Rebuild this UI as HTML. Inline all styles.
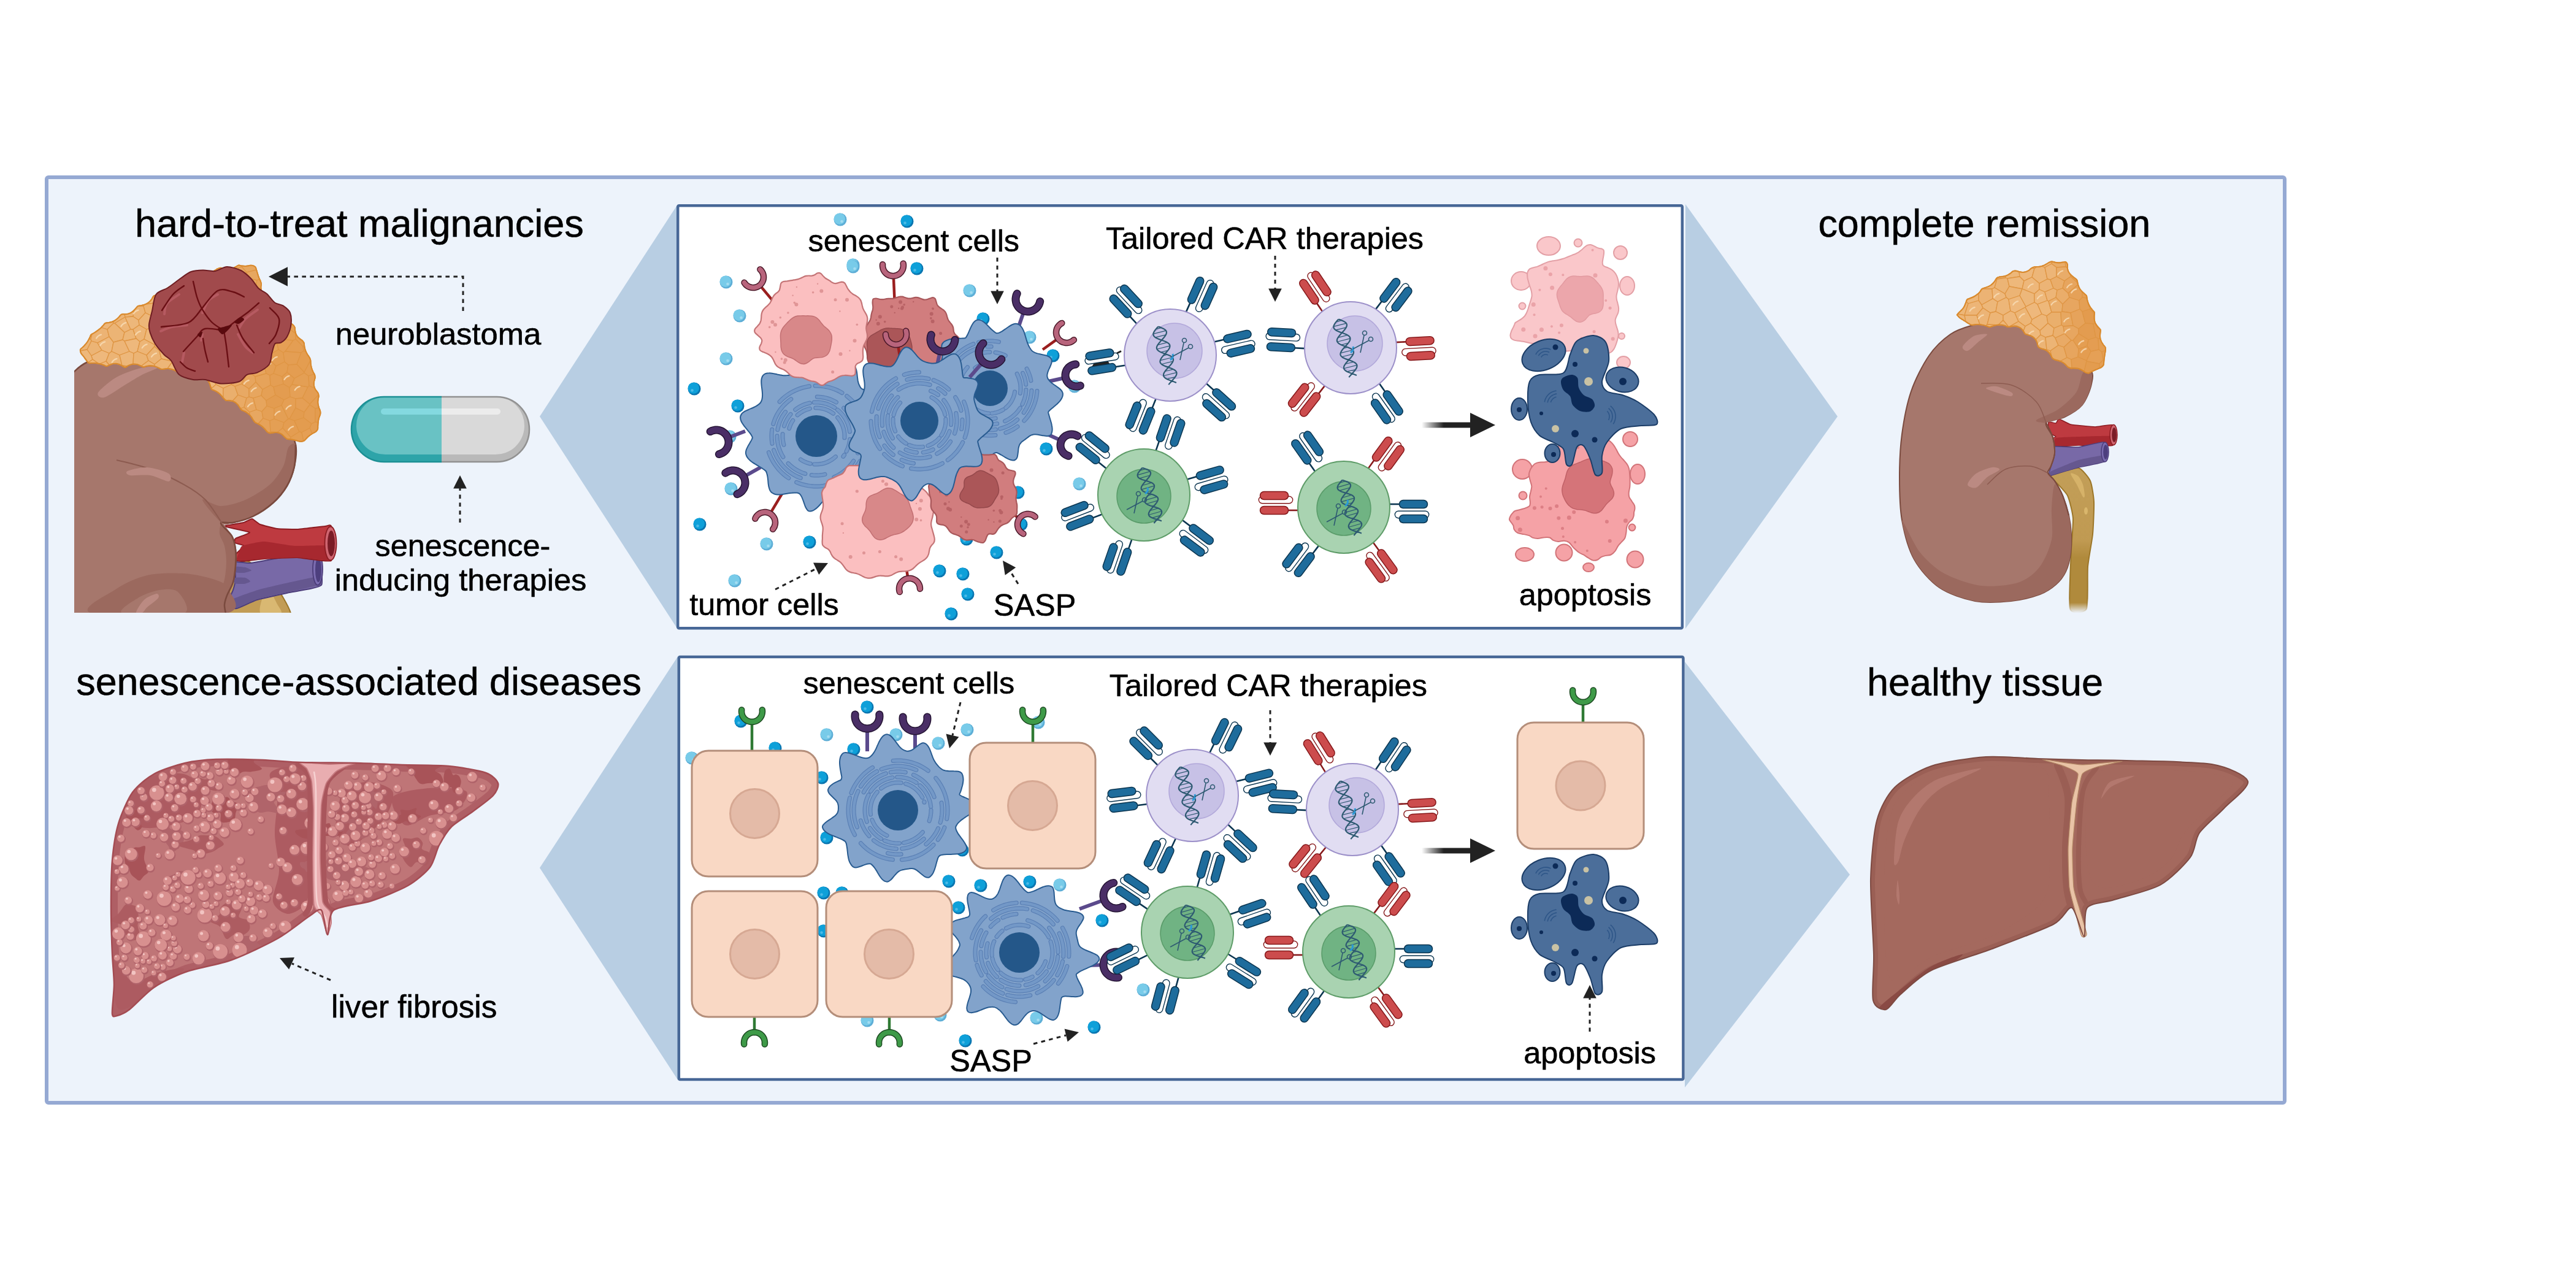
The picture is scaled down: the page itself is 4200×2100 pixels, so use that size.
<!DOCTYPE html>
<html><head><meta charset="utf-8">
<style>
html,body{margin:0;padding:0;background:#fff;}
body{width:4200px;height:2100px;overflow:hidden;}
svg{display:block;}
text{font-family:"Liberation Sans",sans-serif;fill:#000;stroke:#000;stroke-width:0.6px;}
</style></head>
<body>
<svg width="4200" height="2100" viewBox="0 0 4200 2100">
<defs>
<marker id="ah" viewBox="0 0 10 10" refX="0" refY="5" markerWidth="10" markerHeight="10" orient="auto" markerUnits="userSpaceOnUse"><path d="M0,0 L10,5 L0,10z" fill="#222"/></marker>
</defs>
<!-- outer panel -->
<rect x="76" y="289" width="3649" height="1509" rx="3" fill="#edf3fb" stroke="#95a9d3" stroke-width="6"/>
<!-- chevrons -->
<polygon points="1105,333 880,679 1105,1026" fill="#b8cee3"/>
<polygon points="2748,333 2996,679 2748,1025" fill="#b8cee3"/>
<polygon points="1106,1069 880,1415 1106,1762" fill="#b8cee3"/>
<polygon points="2747,1079 3016,1426 2747,1773" fill="#b8cee3"/>
<!-- boxes -->
<rect x="1105.2" y="335.2" width="1637.6" height="689" rx="2" fill="#fff" stroke="#476796" stroke-width="4.5"/>
<rect x="1106.8" y="1071" width="1637.6" height="689" rx="2" fill="#fff" stroke="#476796" stroke-width="4.5"/>

<defs><clipPath id="lkclip"><rect x="121" y="380" width="460" height="619"/></clipPath></defs>
<g clip-path="url(#lkclip)">
<path d="M366,998C366.8,991.3 368.1,971.1 372,960C375.9,948.9 388.6,919.7 395,915C401.4,910.3 413.3,920.3 420,925C426.7,929.7 439.4,943.3 445,950C450.6,956.7 458.1,968.3 462,975C465.9,981.7 472.9,995.3 474,1000C475.1,1004.7 484.4,1008.7 470,1010C455.6,1011.3 379.9,1011.6 366,1010C352.1,1008.4 365.2,1004.7 366,998Z" fill="#c29c55" stroke="#9c7628" stroke-width="2"/>
<path d="M425,1000C421,996.7 426,979.7 428,975C430,970.3 436.8,963.7 440,965C443.2,966.3 449.6,980.3 452,985C454.4,989.7 461.6,998 458,1000C454.4,1002 429,1003.3 425,1000Z" fill="#d9b872"/>
<path d="M384,916C386.2,915.4 402.8,918.6 409,918C415.2,917.4 450.5,910.3 459,909C467.5,907.7 506,902.6 511,902C516,901.4 517.9,897.7 519,902C520.1,906.3 527.9,948.7 524,954C520.1,959.3 480.8,964 472,966C463.2,968 426.2,975.8 419,978C411.8,980.2 390.2,991.2 386,992C381.8,992.8 369.5,990.5 369,988C368.5,985.5 378.8,965.7 380,962C381.2,958.3 383.8,947.1 384,944C384.2,940.9 383,927.3 383,925C383,922.7 381.8,916.6 384,916Z" fill="#7869a7" stroke="#4c3d7a" stroke-width="2"/>
<path d="M372,980C374.8,977.6 411.8,964.5 420,962C428.2,959.5 461.7,951.8 470,950C478.3,948.2 515.6,939.8 520,940C524.4,940.2 527,950.9 523,953C519,955.1 480.7,963 472,965C463.3,967 426.2,974.8 419,977C411.8,979.2 389.9,990.8 386,991C382.1,991.2 369.2,982.4 372,980Z" fill="#65578f"/>
<path d="M384,924C385.6,923.2 397.4,924.4 400,925C402.6,925.6 410.2,929.1 410,930C409.8,930.9 400.6,933.7 398,934C395.4,934.3 385.4,934 384,933C382.6,932 382.4,924.8 384,924Z" fill="#65578f"/>
<path d="M383,942C384.8,941.1 397.5,941.4 400,942C402.5,942.6 408.2,947 408,948C407.8,949 400.6,951.7 398,952C395.4,952.3 383.5,952 382,951C380.5,950 381.2,942.9 383,942Z" fill="#65578f"/>
<ellipse cx="518" cy="928" rx="8" ry="26" fill="#7b6cb0" stroke="#4c3d7a" stroke-width="1.8"/>
<ellipse cx="519" cy="929" rx="5" ry="20" fill="#4d3f7e"/>
<path d="M397,852C400,851.2 409.2,845.8 411,846C412.8,846.2 421.3,853.9 424,855C426.7,856.1 447.9,861.5 452,862C456.1,862.5 479.8,863.3 485,863C490.2,862.7 526.3,858.3 530,858C533.7,857.7 539.3,854.3 540,858C540.7,861.7 543.7,910.6 540,914C536.3,917.4 492.2,909.2 485,909C477.8,908.8 437.9,910.6 432,911C426.1,911.4 400.1,914.8 397,915C393.9,915.2 386.9,914.7 386,914C385.1,913.3 383.2,905.6 384,904C384.8,902.4 398.1,891.3 398,890C397.9,888.7 383.9,885.8 383,885C382.1,884.2 382.4,879.1 384,878C385.6,876.9 408.2,869.3 407,868C405.8,866.7 366.7,859.1 366,858C365.3,856.9 394,852.8 397,852Z" fill="#be3a40" stroke="#8c1c22" stroke-width="2"/>
<path d="M395,890C398.3,888.6 422.9,883 430,883C437.1,883 471,889.4 480,890C489,890.6 533.1,888.1 538,890C542.9,891.9 543.4,911.4 539,913C534.6,914.6 493.9,909.2 485,909C476.1,908.8 439.3,910.6 432,911C424.7,911.4 400.8,913.9 397,914C393.2,914.1 386.6,913.2 386,912C385.4,910.8 389.2,901.8 390,900C390.8,898.2 391.7,891.4 395,890Z" fill="#a7282f"/>
<ellipse cx="539" cy="886" rx="9.5" ry="27.5" fill="#cf6570" stroke="#8c1c22" stroke-width="1.8"/>
<ellipse cx="540" cy="886" rx="6" ry="21" fill="#7a1c26"/>
<path d="M95,640C98.9,576.4 113.8,613.5 121,606C128.2,598.5 132.7,594.8 143,590C153.3,585.2 172.4,574 190,574C207.6,574 239,583.9 260,590C281,596.1 307.5,606 330,615C352.5,624 389.8,638.8 410,650C430.2,661.2 454.2,678.8 465,690C475.8,701.2 479.8,714.5 482,725C484.2,735.5 482.1,750 480,760C477.9,770 473.2,783 468,792C462.8,801 453.4,812.5 445,820C436.6,827.5 421.8,837.2 412,842C402.2,846.8 387.8,850.4 380,852C372.2,853.6 360.3,849.7 360,853C359.7,856.3 374.4,867.5 378,874C381.6,880.5 383.1,888.8 384,896C384.9,903.2 384.6,914 384,922C383.4,930 382.1,941.6 380,949C377.9,956.4 372.1,965.5 370,971C367.9,976.5 366.3,981.6 366,986C365.7,990.4 368.9,993.4 368,1000C367.1,1006.6 400.9,1025.5 360,1030C319.1,1034.5 134.8,1088.5 95,1030C55.2,971.5 91.1,703.6 95,640Z" fill="#a6776c" stroke="#7a4a3e" stroke-width="2.5"/>
<path d="M482,725C483.5,729.5 482.1,750 480,760C477.9,770 473.2,783 468,792C462.8,801 453.4,812.5 445,820C436.6,827.5 421.8,837.2 412,842C402.2,846.8 387.5,850.4 380,852C372.5,853.6 369.5,858.5 362,853C354.5,847.5 330.3,819.2 330,815C329.7,810.8 349.5,825 360,825C370.5,825 388,820.2 400,815C412,809.8 430.7,798.2 440,790C449.3,781.8 457.5,769 462,760C466.5,751 467,735.2 470,730C473,724.8 480.5,720.5 482,725Z" fill="#9b695e"/>
<path d="M362,853C365,853.6 374.7,867.5 378,874C381.3,880.5 383.1,888.8 384,896C384.9,903.2 384.6,914 384,922C383.4,930 382.1,941.6 380,949C377.9,956.4 372.1,965.5 370,971C367.9,976.5 366.6,981.6 366,986C365.4,990.4 368.4,997.9 366,1000C363.6,1002.1 351.5,1003.8 350,1000C348.5,996.2 353.6,983.2 356,975C358.4,966.8 364.1,954 366,945C367.9,936 369,923.2 369,915C369,906.8 367.6,896.8 366,890C364.4,883.2 358.6,875.5 358,870C357.4,864.5 359,852.4 362,853Z" fill="#9b695e"/>
<path d="M150,1000C123.3,994 176.5,969.3 190,960C203.5,950.7 223.5,941.8 240,938C256.5,934.2 283.5,934 300,935C316.5,936 339.2,941.2 350,945C360.8,948.8 369.3,951.8 372,960C374.7,968.2 401.3,994 368,1000C334.7,1006 176.7,1006 150,1000Z" fill="#9b695e"/>
<path d="M200,1000C188.8,996.2 216,980.7 225,975C234,969.3 250.2,963.5 260,962C269.8,960.5 284,959.3 290,965C296,970.7 313.5,994.8 300,1000C286.5,1005.2 211.2,1003.8 200,1000Z" fill="#a6776c"/>
<path d="M482,725C481.7,730.2 482.1,750 480,760C477.9,770 473.2,783 468,792C462.8,801 453.4,812.5 445,820C436.6,827.5 421.8,837.2 412,842C402.2,846.8 387.8,850.4 380,852C372.2,853.6 360.3,849.7 360,853C359.7,856.3 374.4,867.5 378,874C381.6,880.5 383.1,888.8 384,896C384.9,903.2 384.6,914 384,922C383.4,930 382.1,941.6 380,949C377.9,956.4 372.1,965.5 370,971C367.9,976.5 366.3,981.6 366,986C365.7,990.4 367.7,997.9 368,1000" fill="none" stroke="#7a4a3e" stroke-width="2.5"/>
<path d="M190,750C199.2,752.5 226.7,758.3 245,765C263.3,771.7 285,781.7 300,790C315,798.3 324.7,804.5 335,815C345.3,825.5 357.5,846.7 362,853" fill="none" stroke="#8c5b50" stroke-width="2"/>
<path d="M160,640C163,635 179.5,621 190,615C200.5,609 219.5,602.5 230,600C240.5,597.5 260,596.2 260,598C260,599.8 239,607.2 230,612C221,616.8 209,624.6 200,630C191,635.4 176,646.5 170,648C164,649.5 157,645 160,640Z" fill="#bb8a82"/>
<path d="M208,768C212.2,766 229.9,761.4 240,762C250.1,762.6 269.8,768.5 275,772C280.2,775.5 279.5,784.5 275,785C270.5,785.5 254.4,776.5 245,775C235.6,773.5 217.6,776 212,775C206.4,774 203.8,770 208,768Z" fill="#bb8a82"/>
<path d="M222,998C222.4,994.9 230.1,982.5 235,978C239.9,973.5 251.6,968.5 255,968C258.4,967.5 260.2,971.7 258,975C255.8,978.3 243.9,986.4 240,990C236.1,993.6 234.7,997.8 232,999C229.3,1000.2 221.6,1001.1 222,998Z" fill="#bb8a82"/>
</g>
<path d="M131,570C131.5,568.5 133.5,567.6 134.7,566.4C135.9,565.2 137.1,564.1 138.2,562.8C139.3,561.6 140.4,560.3 141.4,559C142.3,557.7 143.2,556.3 144,554.9C144.8,553.4 145.6,551.9 146.3,550.4C147.1,548.9 147.4,547 148.5,545.7C149.7,544.5 151.6,543.9 153,543.1C154.5,542.2 155.9,541.4 157.2,540.4C158.6,539.5 159.9,538.6 161.1,537.6C162.4,536.5 163.5,535.5 164.7,534.4C165.8,533.2 167,531.9 168.2,530.7C169.3,529.4 170.2,527.7 171.7,526.9C173.2,526.2 175.3,526.5 177,526.2C178.7,525.8 180.4,525.5 182,525C183.6,524.5 185.1,523.8 186.6,523C188.1,522.2 189.4,521.2 190.7,520.1C192,519 193.2,517.7 194.4,516.4C195.6,515.2 196.5,513.3 198,512.6C199.6,511.9 201.8,512.6 203.5,512.4C205.3,512.3 207.1,512.1 208.7,511.7C210.4,511.3 212,510.7 213.4,510C214.9,509.2 216.3,508.2 217.6,507C218.9,505.9 220,504.5 221.2,503.1C222.4,501.8 223.4,499.9 224.8,499.1C226.3,498.3 228.3,498.6 230,498.3C231.7,497.9 233.4,497.5 235,497C236.6,496.4 238.1,495.8 239.6,494.9C241.1,494.1 242.5,493.1 243.8,491.9C245.2,490.7 246.4,489.3 247.4,487.9C248.4,486.4 248.8,484.3 250,483.2C251.2,482.1 252.9,481.7 254.5,481C256,480.4 257.5,480.1 259.1,479.4C260.6,478.8 262.1,478.2 263.5,477.3C265,476.5 266.3,475.6 267.7,474.6C269,473.5 270.3,472.3 271.6,471.2C272.9,470.1 274.1,468.7 275.6,468.1C277.1,467.5 279.1,467.7 280.8,467.4C282.5,467.1 284.2,466.8 285.8,466.3C287.4,465.9 288.9,465.3 290.4,464.5C291.9,463.8 293.3,462.9 294.7,461.9C296.1,460.9 297.3,459.7 298.7,458.7C300.1,457.7 301.3,456.3 303,455.9C304.6,455.5 306.7,456.3 308.5,456.3C310.3,456.4 312.1,456.4 313.7,456.1C315.4,455.8 317,455.3 318.5,454.7C320,454 321.4,453 322.8,452C324.2,450.9 325.4,449.5 326.8,448.3C328.1,447.2 329.4,445.6 330.9,445.1C332.5,444.5 334.4,445 336.1,444.8C337.8,444.7 339.5,444.5 341.1,444.2C342.8,443.8 344.4,443.4 345.9,442.8C347.5,442.3 349,441.5 350.5,440.8C352,440 353.3,438.9 354.8,438.3C356.4,437.6 357.9,436.7 359.6,436.7C361.3,436.7 363.1,437.9 364.8,438.3C366.5,438.7 368.2,439.1 369.9,439.3C371.5,439.4 373.2,439.4 374.8,439.1C376.5,438.8 378.1,438.3 379.7,437.5C381.4,436.8 383,435.6 384.6,434.8C386.2,434 387.6,432.8 389.3,432.6C391,432.4 393,433.4 394.8,433.6C396.5,433.8 398.3,433.9 399.9,433.9C401.4,433.8 402.8,433.7 404.1,433.5C405.4,433.3 406.3,432.9 407.6,432.8C408.9,432.7 410.7,432.5 412.2,433C413.6,433.4 415.4,434.1 416.4,435.3C417.4,436.5 417.5,438.6 418.1,440.1C418.6,441.6 419,443.1 419.5,444.5C419.9,446 420.2,447.3 420.7,448.8C421.2,450.3 421.7,451.9 422.4,453.4C423,455 424,456.6 424.6,458.1C425.2,459.7 425.8,461.3 426,463C426.1,464.7 425.4,466.8 425.4,468.6C425.5,470.4 425.6,472.2 426.2,474C426.8,475.7 427.8,477.6 428.9,479.1C430,480.5 431.4,481.6 432.8,482.7C434.2,483.7 436.1,484.4 437.5,485.4C438.9,486.4 440.4,487.3 441.4,488.7C442.3,490.1 442.6,492.1 443.4,493.7C444.2,495.3 445,496.8 446,498.1C447,499.5 448.2,500.7 449.4,501.8C450.7,502.9 452.1,503.9 453.6,504.8C455.1,505.6 456.9,506.2 458.3,507.1C459.8,508 461.2,509 462.1,510.4C463.1,511.7 463.4,513.7 464.1,515.3C464.8,516.8 465.6,518.3 466.5,519.7C467.4,521.1 468.3,522.4 469.5,523.6C470.6,524.8 471.9,525.9 473.3,526.9C474.7,527.9 476.5,528.6 477.7,529.8C478.9,530.9 480,532.2 480.6,533.8C481.1,535.4 480.8,537.6 481.1,539.4C481.4,541.1 481.8,542.8 482.4,544.3C483,545.9 483.8,547.3 484.8,548.6C485.8,549.9 486.9,550.9 488.3,552C489.6,553.2 491.5,554.1 492.7,555.3C494,556.6 495,557.9 495.6,559.4C496.2,561 496,562.9 496.3,564.6C496.6,566.2 496.9,567.9 497.4,569.5C497.9,571.1 498.5,572.6 499.2,574.1C499.9,575.6 500.7,577.1 501.6,578.5C502.5,579.9 503.8,581.3 504.5,582.8C505.3,584.2 505.9,585.8 506.3,587.4C506.6,589.1 506.4,590.9 506.6,592.6C506.8,594.2 507,595.9 507.4,597.5C507.7,599.1 508.2,600.7 508.7,602.3C509.3,603.8 510,605.4 510.7,606.9C511.4,608.4 512.7,609.8 513.1,611.4C513.6,613 513.7,614.7 513.5,616.4C513.3,618.2 512.4,620.1 512.1,621.8C511.8,623.6 511.6,625.3 511.7,627C511.8,628.6 512.1,630.2 512.7,631.8C513.3,633.4 514.1,634.9 515.1,636.4C516.1,637.9 517.8,639.3 518.5,640.9C519.3,642.4 519.6,644.1 519.6,645.7C519.6,647.4 518.8,649.2 518.6,650.9C518.4,652.6 518.2,654.3 518.3,655.9C518.3,657.6 518.5,659.2 518.9,660.8C519.2,662.4 519.7,663.9 520.3,665.5C520.9,667.1 521.9,668.8 522.2,670.4C522.6,672.1 522.5,673.8 522.2,675.4C521.9,677 521,678.6 520.4,680.2C519.9,681.8 519.5,683.4 519.2,685C518.8,686.6 518.6,688 518.5,689.6C518.3,691.2 518.3,692.9 518.2,694.6C518.1,696.2 518.5,698.1 518,699.6C517.5,701 516.4,702.5 515.2,703.5C514.1,704.6 512.4,705.1 511,706C509.6,706.8 508.1,707.6 506.8,708.5C505.5,709.4 504.3,710.2 503.2,711.3C502,712.3 500.9,713.5 499.7,714.7C498.5,715.8 497.5,717.6 496.1,718.4C494.7,719.3 493,719.7 491.4,719.8C489.8,719.9 488.1,719.5 486.7,719.2C485.2,718.9 484,718.4 482.6,718.1C481.3,717.7 479.9,717.3 478.4,717C476.9,716.7 475.2,716.4 473.6,716.2C471.9,716 469.9,716.4 468.3,715.8C466.7,715.2 465.6,713.8 464.2,712.6C462.8,711.4 461.5,709.6 460.1,708.5C458.6,707.3 456.9,706.5 455.2,705.9C453.6,705.3 452,705.1 450.4,705C448.7,704.9 447.1,705.2 445.4,705.4C443.7,705.6 441.6,706.5 440,706.2C438.3,706 436.9,704.9 435.6,703.9C434.4,702.9 433.5,701.3 432.4,700.1C431.3,698.9 430.2,697.6 429,696.5C427.8,695.4 426.6,694.4 425.2,693.5C423.8,692.6 422.4,691.8 420.8,691C419.3,690.2 417.4,689.8 416.1,688.8C414.8,687.7 413.9,686.2 412.9,684.8C411.9,683.4 411.2,681.8 410.3,680.4C409.3,679 408.3,677.6 407.1,676.4C405.9,675.2 404.6,674.1 403.3,673.2C401.9,672.2 400.4,671.3 398.8,670.5C397.3,669.8 395.3,669.5 394,668.4C392.7,667.4 391.9,665.8 390.9,664.3C389.8,662.9 388.9,661.1 387.7,659.7C386.5,658.4 385.2,657.2 383.8,656.2C382.3,655.3 380.7,654.5 379.1,653.9C377.4,653.4 375.7,653.2 373.9,652.9C372.1,652.7 370,653.3 368.5,652.7C366.9,652.1 365.8,650.6 364.6,649.4C363.4,648.2 362.4,646.6 361.3,645.4C360.3,644.2 359.3,643.1 358.2,642.1C357,641.1 355.8,640.1 354.4,639.2C353.1,638.3 351.6,637.6 350.1,636.8C348.5,636 346.3,635.8 345.1,634.6C344,633.4 343.7,631.3 343.1,629.6C342.5,627.9 342.2,626 341.4,624.3C340.6,622.7 339.8,621.2 338.5,619.9C337.3,618.6 335.7,617.4 334,616.6C332.3,615.7 330.1,615.1 328.2,614.9C326.3,614.6 324.1,615.6 322.4,615.2C320.7,614.7 319.5,613 318.1,611.9C316.6,610.8 315.2,609.3 313.6,608.4C312.1,607.5 310.5,606.8 308.9,606.3C307.2,605.9 305.5,605.7 303.8,605.8C302,605.8 300.3,606.2 298.5,606.6C296.7,607 294.8,608.3 293.1,608.2C291.5,608.1 290,606.8 288.5,606C287,605.2 285.5,604.1 283.9,603.4C282.4,602.7 280.8,602.1 279.2,601.7C277.6,601.3 275.9,601.1 274.2,601C272.5,600.9 270.8,601.1 269,601.3C267.3,601.4 265.4,602.3 263.7,602.1C262.1,601.9 260.6,600.7 259,600C257.5,599.3 255.9,598.4 254.3,597.9C252.7,597.3 251,596.8 249.4,596.5C247.7,596.3 246,596.2 244.3,596.2C242.6,596.3 240.8,596.6 239.1,596.9C237.4,597.3 235.7,598.5 234,598.4C232.3,598.3 230.6,596.8 229,596.1C227.3,595.4 225.6,594.6 223.9,594.1C222.2,593.7 220.5,593.4 218.8,593.4C217.1,593.4 215.5,593.7 213.8,594.2C212.2,594.6 210.6,595.4 208.9,596.2C207.3,597 205.6,598.9 204,598.9C202.3,599 200.6,597.2 199,596.4C197.4,595.6 195.9,594.6 194.3,594C192.7,593.4 191.1,593 189.4,592.8C187.8,592.7 186.1,592.8 184.4,593.1C182.8,593.4 181.1,594.1 179.3,594.7C177.6,595.4 175.8,597 174.1,597.1C172.4,597.2 170.9,595.9 169.3,595.3C167.6,594.8 166.1,594.1 164.5,593.7C162.9,593.2 161.2,592.8 159.6,592.6C158,592.3 156.4,592.2 154.8,592.1C153.1,592 151.5,592 149.8,592C148.1,591.9 146.1,592.6 144.6,591.9C143.2,591.1 142.2,589.1 141.1,587.8C140.1,586.4 139.2,585.1 138.3,584C137.5,582.8 136.9,581.8 136.1,580.9C135.4,580 134.6,579.3 133.9,578.4C133.1,577.4 132.3,576.6 131.8,575.2C131.4,573.8 130.5,571.5 131,570Z" fill="#eba75e" stroke="#d98a2e" stroke-width="2"/>
<g stroke="#df9645" stroke-width="1.3" stroke-linejoin="round">
<path d="M365,445 374,439 370,439 360,437 356,438Z" fill="#ecb272"/>
<path d="M394,435 394,434 389,433 381,437 389,437Z" fill="#eaad6a"/>
<path d="M418,440 416,435 412,433 408,433 400,434 394,434 394,435 402,444Z" fill="#e7a760"/>
<path d="M304,461 315,456 309,456 303,456 299,458Z" fill="#edb577"/>
<path d="M330,464 341,452 341,444 331,445 323,452 319,454Z" fill="#edb577"/>
<path d="M341,452 356,462 366,456 365,445 356,438 346,443 341,444Z" fill="#edb779"/>
<path d="M365,445 366,456 369,459 385,456 389,437 381,437 374,439Z" fill="#ebb16f"/>
<path d="M396,466 405,454 402,444 394,435 389,437 385,456Z" fill="#e8a863"/>
<path d="M418,440 402,444 405,454 419,457 423,455Z" fill="#e7a760"/>
<path d="M273,481 282,473 283,467 276,468 266,476Z" fill="#eeb77a"/>
<path d="M282,473 298,479 306,474 304,461 299,458 290,465 283,467Z" fill="#ecb374"/>
<path d="M304,461 306,474 316,480 331,470 330,464 319,454 315,456Z" fill="#edb678"/>
<path d="M341,452 330,464 331,470 341,478 351,472 356,462Z" fill="#ecb475"/>
<path d="M351,472 368,482 377,480 369,459 366,456 356,462Z" fill="#ecb272"/>
<path d="M383,483 384,483 396,476 396,466 385,456 369,459 377,480Z" fill="#e9ac69"/>
<path d="M408,480 415,479 419,457 405,454 396,466 396,476Z" fill="#e8a862"/>
<path d="M419,457 415,479 428,483 430,480 429,479 426,474 425,469 426,463 425,458 423,455Z" fill="#e6a259"/>
<path d="M234,499 235,497 225,499Z" fill="#ecb475"/>
<path d="M252,494 251,482 250,483 247,488 244,492 238,496Z" fill="#edb678"/>
<path d="M252,494 263,499 274,490 273,481 266,476 259,479 251,482Z" fill="#edb576"/>
<path d="M289,499 295,497 298,479 282,473 273,481 274,490Z" fill="#edb577"/>
<path d="M316,492 316,480 306,474 298,479 295,497 305,501Z" fill="#eeb87c"/>
<path d="M341,478 331,470 316,480 316,492 332,499 343,495Z" fill="#ecb576"/>
<path d="M351,498 368,482 351,472 341,478 343,495 349,498Z" fill="#ecb373"/>
<path d="M368,482 351,498 371,503 383,483 377,480Z" fill="#ecb272"/>
<path d="M408,500 408,480 396,476 384,483 395,505Z" fill="#e9ab67"/>
<path d="M415,504 433,496 428,483 415,479 408,480 408,500Z" fill="#e6a35a"/>
<path d="M428,483 433,496 440,501 446,498 443,494 441,489 430,480Z" fill="#e49e52"/>
<path d="M185,527 187,527 204,517 203,512 198,513 191,520 184,524Z" fill="#edb576"/>
<path d="M219,505 213,510 209,512 203,512 204,517 217,516Z" fill="#ecb475"/>
<path d="M226,522 237,510 234,499 225,499 219,505 217,516Z" fill="#edb576"/>
<path d="M234,499 237,510 251,517 261,512 263,499 252,494 238,496 235,497Z" fill="#ecb474"/>
<path d="M284,513 289,499 274,490 263,499 261,512 273,520Z" fill="#edb779"/>
<path d="M294,521 308,511 305,501 295,497 289,499 284,513Z" fill="#ecb475"/>
<path d="M316,492 305,501 308,511 315,517 325,514 332,499Z" fill="#edb678"/>
<path d="M343,495 332,499 325,514 339,526 349,512 349,498Z" fill="#ecb474"/>
<path d="M349,512 360,518 374,511 371,503 351,498 349,498Z" fill="#ebb06f"/>
<path d="M384,483 383,483 371,503 374,511 382,517 392,512 395,505Z" fill="#ebaf6e"/>
<path d="M392,512 407,524 415,516 415,504 408,500 395,505Z" fill="#e8a964"/>
<path d="M433,519 440,511 440,501 433,496 415,504 415,516Z" fill="#e6a45c"/>
<path d="M440,501 440,511 450,520 464,515 462,510 458,507 449,502 446,498Z" fill="#e39b4e"/>
<path d="M175,537 185,527 184,524 177,526 172,527 165,534Z" fill="#edb679"/>
<path d="M213,537 204,517 187,527 203,542Z" fill="#edb577"/>
<path d="M227,530 226,522 217,516 204,517 204,517 213,537 217,537Z" fill="#edb77a"/>
<path d="M239,537 248,534 251,517 237,510 226,522 227,530Z" fill="#edb678"/>
<path d="M273,520 261,512 251,517 248,534 262,543 275,534Z" fill="#edb779"/>
<path d="M295,534 294,521 284,513 273,520 275,534 287,539Z" fill="#edb779"/>
<path d="M294,521 295,534 310,536 312,534 315,517 308,511Z" fill="#edb677"/>
<path d="M315,517 312,534 328,537 339,531 339,526 325,514Z" fill="#edb677"/>
<path d="M339,526 339,531 342,533 362,531 360,518 349,512Z" fill="#ebb272"/>
<path d="M360,518 362,531 371,537 380,527 382,517 374,511Z" fill="#ebb06e"/>
<path d="M382,517 380,527 394,535 407,527 407,524 392,512Z" fill="#e8a862"/>
<path d="M431,529 433,519 415,516 407,524 407,527 417,540Z" fill="#e5a258"/>
<path d="M444,538 454,538 450,520 440,511 433,519 431,529Z" fill="#e39b4e"/>
<path d="M450,520 454,538 455,539 470,535 472,525 466,520 464,515Z" fill="#e49d51"/>
<path d="M470,535 482,544 482,543 481,534 478,530 472,525Z" fill="#e5a055"/>
<path d="M148,553 150,545 149,546 145,553Z" fill="#ecb475"/>
<path d="M148,553 149,556 159,559 178,549 175,537 165,534 157,540 150,545Z" fill="#ecb374"/>
<path d="M203,542 187,527 185,527 175,537 178,549 185,558 200,554Z" fill="#ecb475"/>
<path d="M213,537 203,542 200,554 203,556 222,552 217,537Z" fill="#edb677"/>
<path d="M222,552 228,557 235,553 239,537 227,530 217,537Z" fill="#edb576"/>
<path d="M235,553 252,562 262,549 262,543 248,534 239,537Z" fill="#eeb87a"/>
<path d="M287,539 275,534 262,543 262,549 275,559 288,551Z" fill="#ecb475"/>
<path d="M294,557 311,552 310,536 295,534 287,539 288,551Z" fill="#edb677"/>
<path d="M315,556 328,554 328,537 312,534 310,536 311,552Z" fill="#edb77a"/>
<path d="M328,537 328,554 340,562 348,552 342,533 339,531Z" fill="#eeb87c"/>
<path d="M362,531 342,533 348,552 365,551 372,543 371,537Z" fill="#ebb271"/>
<path d="M394,535 380,527 371,537 372,543 390,554 393,553Z" fill="#e8a964"/>
<path d="M407,527 394,535 393,553 407,554 417,547 417,540Z" fill="#e9ab66"/>
<path d="M417,547 430,554 431,554 444,538 431,529 417,540Z" fill="#e49f54"/>
<path d="M452,561 455,553 455,539 454,538 444,538 431,554Z" fill="#e49e53"/>
<path d="M455,553 478,555 482,553 482,544 470,535 455,539Z" fill="#e5a055"/>
<path d="M494,565 496,563 496,559 493,555 485,549 482,543 482,544 482,553Z" fill="#e49f54"/>
<path d="M142,570 149,556 148,553 145,553 141,559 131,570 131,572Z" fill="#ecb576"/>
<path d="M149,580 166,571 159,559 149,556 142,570Z" fill="#ecb475"/>
<path d="M178,549 159,559 166,571 178,576 182,573 185,558Z" fill="#eeb87c"/>
<path d="M185,558 182,573 195,579 211,573 203,556 200,554Z" fill="#edb577"/>
<path d="M222,552 203,556 211,573 218,576 224,573 228,557Z" fill="#eeb87c"/>
<path d="M224,573 239,579 252,565 252,562 235,553 228,557Z" fill="#edb576"/>
<path d="M252,565 260,572 275,568 275,559 262,549 252,562Z" fill="#edb779"/>
<path d="M275,559 275,568 284,576 294,569 294,557 288,551Z" fill="#ecb475"/>
<path d="M294,569 305,574 314,570 315,556 311,552 294,557Z" fill="#ecb374"/>
<path d="M314,570 327,577 341,569 340,562 328,554 315,556Z" fill="#edb678"/>
<path d="M368,576 369,575 365,551 348,552 340,562 341,569 349,576Z" fill="#ebb170"/>
<path d="M372,543 365,551 369,575 384,570 390,554Z" fill="#ebb06e"/>
<path d="M390,554 384,570 396,580 410,574 407,554 393,553Z" fill="#e9ac68"/>
<path d="M407,554 410,574 418,579 428,572 430,554 417,547Z" fill="#e6a35b"/>
<path d="M428,572 442,577 454,570 452,561 430,554Z" fill="#e5a258"/>
<path d="M465,573 478,555 455,553 452,561 454,570 462,575Z" fill="#e59f55"/>
<path d="M491,575 495,572 494,565 482,553 478,555 465,573Z" fill="#e49e53"/>
<path d="M494,565 495,572 499,574 497,569 496,563Z" fill="#e49d51"/>
<path d="M151,586 149,580 142,570 131,572 132,575 134,578 144,591Z" fill="#eeb87b"/>
<path d="M161,593 163,593 173,589 178,576 166,571 149,580 151,586Z" fill="#eeb87c"/>
<path d="M178,576 173,589 178,595 184,593 189,593 194,594 198,596 199,596 195,579 182,573Z" fill="#ecb475"/>
<path d="M199,596 207,597 217,593 218,576 211,573 195,579Z" fill="#edb77a"/>
<path d="M242,588 239,579 224,573 218,576 217,593 217,594 224,594 230,597Z" fill="#ecb474"/>
<path d="M239,579 242,588 252,594 263,585 260,572 252,565Z" fill="#ecb475"/>
<path d="M275,568 260,572 263,585 281,589 284,576Z" fill="#edb779"/>
<path d="M281,589 290,595 305,589 305,574 294,569 284,576Z" fill="#edb678"/>
<path d="M318,595 324,591 327,577 314,570 305,574 305,589Z" fill="#edb678"/>
<path d="M349,576 341,569 327,577 324,591 335,596 347,590Z" fill="#edb577"/>
<path d="M371,588 368,576 349,576 347,590 358,603Z" fill="#ecb373"/>
<path d="M382,596 394,591 396,580 384,570 369,575 368,576 371,588Z" fill="#e9ac69"/>
<path d="M407,603 419,588 418,579 410,574 396,580 394,591Z" fill="#e7a760"/>
<path d="M428,572 418,579 419,588 430,593 441,588 442,577Z" fill="#e49e53"/>
<path d="M464,590 462,575 454,570 442,577 441,588 450,597Z" fill="#e49e52"/>
<path d="M470,595 484,594 491,575 465,573 462,575 464,590Z" fill="#e49e53"/>
<path d="M495,572 491,575 484,594 496,607 506,588 505,583 499,574Z" fill="#e49d50"/>
<path d="M151,586 144,591 145,592 155,592 161,593Z" fill="#eeb77a"/>
<path d="M173,589 163,593 174,597 178,595Z" fill="#edb77a"/>
<path d="M207,597 198,596 204,599Z" fill="#ecb374"/>
<path d="M252,594 242,588 230,597 234,598 244,596 252,597Z" fill="#edb678"/>
<path d="M281,590 281,589 263,585 252,594 252,597 264,602 273,601Z" fill="#edb678"/>
<path d="M292,605 290,595 281,590 273,601 279,602 284,603 291,607Z" fill="#eeb97c"/>
<path d="M316,609 318,595 305,589 290,595 292,605 297,607 304,606 309,606 315,609Z" fill="#edb679"/>
<path d="M341,613 335,596 324,591 318,595 316,609 327,615 331,616Z" fill="#edb677"/>
<path d="M347,590 335,596 341,613 348,616 358,603Z" fill="#eeb97c"/>
<path d="M377,614 381,609 382,596 371,588 358,603Z" fill="#eaaf6d"/>
<path d="M402,611 408,608 407,603 394,591 382,596 381,609Z" fill="#e9aa66"/>
<path d="M434,609 430,593 419,588 407,603 408,608 416,614Z" fill="#e7a55e"/>
<path d="M441,588 430,593 434,609 440,612 446,609 450,597Z" fill="#e49e53"/>
<path d="M446,609 460,614 468,607 470,595 464,590 450,597Z" fill="#e49e52"/>
<path d="M468,607 480,617 496,608 496,607 484,594 470,595Z" fill="#e49d51"/>
<path d="M496,607 496,608 503,613 512,610 509,602 507,598 506,588Z" fill="#e49e53"/>
<path d="M292,605 291,607 293,608 297,607Z" fill="#edb576"/>
<path d="M316,609 315,609 322,615 327,615Z" fill="#edb576"/>
<path d="M341,613 331,616 334,617 339,620 341,624 345,633 352,627 348,616Z" fill="#eeb97c"/>
<path d="M358,603 348,616 352,627 364,633 377,627 377,614Z" fill="#ecb475"/>
<path d="M377,627 383,630 394,626 402,611 381,609 377,614Z" fill="#e9aa66"/>
<path d="M417,623 416,614 408,608 402,611 394,626 406,634Z" fill="#e7a55e"/>
<path d="M428,635 441,628 440,612 434,609 416,614 417,623Z" fill="#e6a35a"/>
<path d="M440,612 441,628 446,631 462,626 460,614 446,609Z" fill="#e49e53"/>
<path d="M462,626 472,632 476,627 480,617 468,607 460,614Z" fill="#e49d51"/>
<path d="M502,631 504,629 503,613 496,608 480,617 476,627Z" fill="#e49f54"/>
<path d="M503,613 504,629 513,633 512,627 512,622 514,616 513,611 512,610Z" fill="#e49e53"/>
<path d="M345,633 345,635 354,639 358,642 364,648 364,633 352,627Z" fill="#edb678"/>
<path d="M364,648 368,653 379,654 388,644 383,630 377,627 364,633Z" fill="#eaaf6d"/>
<path d="M394,626 383,630 388,644 402,649 406,647 406,634Z" fill="#e8a964"/>
<path d="M406,647 413,649 426,645 428,635 417,623 406,634Z" fill="#e7a65f"/>
<path d="M449,644 446,631 441,628 428,635 426,645 434,653Z" fill="#e5a055"/>
<path d="M463,652 473,647 472,632 462,626 446,631 449,644Z" fill="#e39c50"/>
<path d="M482,650 493,649 502,631 476,627 472,632 473,647Z" fill="#e5a056"/>
<path d="M505,659 519,644 519,641 513,633 504,629 502,631 493,649Z" fill="#e49d52"/>
<path d="M398,664 402,649 388,644 379,654 384,656 388,660 392,666Z" fill="#e9aa65"/>
<path d="M398,664 407,672 418,668 413,649 406,647 402,649Z" fill="#e8a761"/>
<path d="M434,653 426,645 413,649 418,668 427,671 435,662Z" fill="#e7a55d"/>
<path d="M447,666 459,661 463,652 449,644 434,653 435,662Z" fill="#e39c50"/>
<path d="M470,683 472,683 482,665 482,650 473,647 463,652 459,661Z" fill="#e59f54"/>
<path d="M496,672 505,660 505,659 493,649 482,650 482,665Z" fill="#e59f55"/>
<path d="M505,659 505,660 514,666 520,665 518,656 520,646 519,644Z" fill="#e49e53"/>
<path d="M407,672 398,664 392,666 394,668 403,673 407,676Z" fill="#e8a862"/>
<path d="M421,691 429,682 427,671 418,668 407,672 407,676 413,685 416,689Z" fill="#e7a761"/>
<path d="M427,671 429,682 440,686 447,683 447,666 435,662Z" fill="#e5a055"/>
<path d="M447,683 463,689 470,683 459,661 447,666Z" fill="#e49f54"/>
<path d="M480,686 495,681 496,672 482,665 472,683Z" fill="#e39c4f"/>
<path d="M495,681 508,691 514,688 514,666 505,660 496,672Z" fill="#e49e53"/>
<path d="M514,666 514,688 519,689 519,685 522,675 522,670 520,665Z" fill="#e39c4f"/>
<path d="M441,704 440,686 429,682 421,691 429,697 436,704 438,705Z" fill="#e6a259"/>
<path d="M461,698 463,689 447,683 440,686 441,704 452,705Z" fill="#e49f54"/>
<path d="M463,689 461,698 474,713 488,704 480,686 472,683 470,683Z" fill="#e49d51"/>
<path d="M488,704 492,705 505,698 508,691 495,681 480,686Z" fill="#e39c4f"/>
<path d="M509,707 515,704 518,700 519,689 514,688 508,691 505,698Z" fill="#e49e53"/>
<path d="M441,704 438,705 440,706 449,705Z" fill="#e59f55"/>
<path d="M473,716 474,713 461,698 452,705 455,706 460,708 468,716Z" fill="#e5a055"/>
<path d="M492,705 488,704 474,713 473,716 491,720 495,719Z" fill="#e49e52"/>
<path d="M505,698 492,705 495,719 503,711 509,707Z" fill="#e59f55"/>
</g>
<g fill="none" stroke="#f8dcb5" stroke-width="2.2" stroke-linecap="round" opacity="0.85">
<path d="M372.8,451 q3,-5 8,-6"/>
<path d="M337.6,463.8 q3,-5 8,-6"/>
<path d="M404,466.6 q3,-5 8,-6"/>
<path d="M299,488.1 q3,-5 8,-6"/>
<path d="M360.5,495 q3,-5 8,-6"/>
<path d="M217.6,511.6 q3,-5 8,-6"/>
<path d="M288.9,514.1 q3,-5 8,-6"/>
<path d="M355.7,512 q3,-5 8,-6"/>
<path d="M417.7,512.2 q3,-5 8,-6"/>
<path d="M197.3,532.1 q3,-5 8,-6"/>
<path d="M255,529.4 q3,-5 8,-6"/>
<path d="M318,528.2 q3,-5 8,-6"/>
<path d="M387.3,528.8 q3,-5 8,-6"/>
<path d="M454.1,525.8 q3,-5 8,-6"/>
<path d="M157,551.6 q3,-5 8,-6"/>
<path d="M220.9,546.1 q3,-5 8,-6"/>
<path d="M293.9,548.8 q3,-5 8,-6"/>
<path d="M349.5,541.9 q3,-5 8,-6"/>
<path d="M427,542.4 q3,-5 8,-6"/>
<path d="M163.2,563.4 q3,-5 8,-6"/>
<path d="M231.7,567.3 q3,-5 8,-6"/>
<path d="M299,564.7 q3,-5 8,-6"/>
<path d="M370.3,561.3 q3,-5 8,-6"/>
<path d="M432.8,567.6 q3,-5 8,-6"/>
<path d="M182.5,590.9 q3,-5 8,-6"/>
<path d="M247.1,581.8 q3,-5 8,-6"/>
<path d="M307.7,583 q3,-5 8,-6"/>
<path d="M377.7,586.2 q3,-5 8,-6"/>
<path d="M443.8,587.8 q3,-5 8,-6"/>
<path d="M298.3,602.1 q3,-5 8,-6"/>
<path d="M366.2,603.8 q3,-5 8,-6"/>
<path d="M433.6,599 q3,-5 8,-6"/>
<path d="M397.8,626.1 q3,-5 8,-6"/>
<path d="M463.5,618.9 q3,-5 8,-6"/>
<path d="M409.7,638.3 q3,-5 8,-6"/>
<path d="M480.7,636.1 q3,-5 8,-6"/>
<path d="M403.9,663.1 q3,-5 8,-6"/>
<path d="M466.5,667.1 q3,-5 8,-6"/>
<path d="M448.4,676.7 q3,-5 8,-6"/>
<path d="M470.2,701.4 q3,-5 8,-6"/>
</g>
<path d="M131,570C131.5,568.5 133.5,567.6 134.7,566.4C135.9,565.2 137.1,564.1 138.2,562.8C139.3,561.6 140.4,560.3 141.4,559C142.3,557.7 143.2,556.3 144,554.9C144.8,553.4 145.6,551.9 146.3,550.4C147.1,548.9 147.4,547 148.5,545.7C149.7,544.5 151.6,543.9 153,543.1C154.5,542.2 155.9,541.4 157.2,540.4C158.6,539.5 159.9,538.6 161.1,537.6C162.4,536.5 163.5,535.5 164.7,534.4C165.8,533.2 167,531.9 168.2,530.7C169.3,529.4 170.2,527.7 171.7,526.9C173.2,526.2 175.3,526.5 177,526.2C178.7,525.8 180.4,525.5 182,525C183.6,524.5 185.1,523.8 186.6,523C188.1,522.2 189.4,521.2 190.7,520.1C192,519 193.2,517.7 194.4,516.4C195.6,515.2 196.5,513.3 198,512.6C199.6,511.9 201.8,512.6 203.5,512.4C205.3,512.3 207.1,512.1 208.7,511.7C210.4,511.3 212,510.7 213.4,510C214.9,509.2 216.3,508.2 217.6,507C218.9,505.9 220,504.5 221.2,503.1C222.4,501.8 223.4,499.9 224.8,499.1C226.3,498.3 228.3,498.6 230,498.3C231.7,497.9 233.4,497.5 235,497C236.6,496.4 238.1,495.8 239.6,494.9C241.1,494.1 242.5,493.1 243.8,491.9C245.2,490.7 246.4,489.3 247.4,487.9C248.4,486.4 248.8,484.3 250,483.2C251.2,482.1 252.9,481.7 254.5,481C256,480.4 257.5,480.1 259.1,479.4C260.6,478.8 262.1,478.2 263.5,477.3C265,476.5 266.3,475.6 267.7,474.6C269,473.5 270.3,472.3 271.6,471.2C272.9,470.1 274.1,468.7 275.6,468.1C277.1,467.5 279.1,467.7 280.8,467.4C282.5,467.1 284.2,466.8 285.8,466.3C287.4,465.9 288.9,465.3 290.4,464.5C291.9,463.8 293.3,462.9 294.7,461.9C296.1,460.9 297.3,459.7 298.7,458.7C300.1,457.7 301.3,456.3 303,455.9C304.6,455.5 306.7,456.3 308.5,456.3C310.3,456.4 312.1,456.4 313.7,456.1C315.4,455.8 317,455.3 318.5,454.7C320,454 321.4,453 322.8,452C324.2,450.9 325.4,449.5 326.8,448.3C328.1,447.2 329.4,445.6 330.9,445.1C332.5,444.5 334.4,445 336.1,444.8C337.8,444.7 339.5,444.5 341.1,444.2C342.8,443.8 344.4,443.4 345.9,442.8C347.5,442.3 349,441.5 350.5,440.8C352,440 353.3,438.9 354.8,438.3C356.4,437.6 357.9,436.7 359.6,436.7C361.3,436.7 363.1,437.9 364.8,438.3C366.5,438.7 368.2,439.1 369.9,439.3C371.5,439.4 373.2,439.4 374.8,439.1C376.5,438.8 378.1,438.3 379.7,437.5C381.4,436.8 383,435.6 384.6,434.8C386.2,434 387.6,432.8 389.3,432.6C391,432.4 393,433.4 394.8,433.6C396.5,433.8 398.3,433.9 399.9,433.9C401.4,433.8 402.8,433.7 404.1,433.5C405.4,433.3 406.3,432.9 407.6,432.8C408.9,432.7 410.7,432.5 412.2,433C413.6,433.4 415.4,434.1 416.4,435.3C417.4,436.5 417.5,438.6 418.1,440.1C418.6,441.6 419,443.1 419.5,444.5C419.9,446 420.2,447.3 420.7,448.8C421.2,450.3 421.7,451.9 422.4,453.4C423,455 424,456.6 424.6,458.1C425.2,459.7 425.8,461.3 426,463C426.1,464.7 425.4,466.8 425.4,468.6C425.5,470.4 425.6,472.2 426.2,474C426.8,475.7 427.8,477.6 428.9,479.1C430,480.5 431.4,481.6 432.8,482.7C434.2,483.7 436.1,484.4 437.5,485.4C438.9,486.4 440.4,487.3 441.4,488.7C442.3,490.1 442.6,492.1 443.4,493.7C444.2,495.3 445,496.8 446,498.1C447,499.5 448.2,500.7 449.4,501.8C450.7,502.9 452.1,503.9 453.6,504.8C455.1,505.6 456.9,506.2 458.3,507.1C459.8,508 461.2,509 462.1,510.4C463.1,511.7 463.4,513.7 464.1,515.3C464.8,516.8 465.6,518.3 466.5,519.7C467.4,521.1 468.3,522.4 469.5,523.6C470.6,524.8 471.9,525.9 473.3,526.9C474.7,527.9 476.5,528.6 477.7,529.8C478.9,530.9 480,532.2 480.6,533.8C481.1,535.4 480.8,537.6 481.1,539.4C481.4,541.1 481.8,542.8 482.4,544.3C483,545.9 483.8,547.3 484.8,548.6C485.8,549.9 486.9,550.9 488.3,552C489.6,553.2 491.5,554.1 492.7,555.3C494,556.6 495,557.9 495.6,559.4C496.2,561 496,562.9 496.3,564.6C496.6,566.2 496.9,567.9 497.4,569.5C497.9,571.1 498.5,572.6 499.2,574.1C499.9,575.6 500.7,577.1 501.6,578.5C502.5,579.9 503.8,581.3 504.5,582.8C505.3,584.2 505.9,585.8 506.3,587.4C506.6,589.1 506.4,590.9 506.6,592.6C506.8,594.2 507,595.9 507.4,597.5C507.7,599.1 508.2,600.7 508.7,602.3C509.3,603.8 510,605.4 510.7,606.9C511.4,608.4 512.7,609.8 513.1,611.4C513.6,613 513.7,614.7 513.5,616.4C513.3,618.2 512.4,620.1 512.1,621.8C511.8,623.6 511.6,625.3 511.7,627C511.8,628.6 512.1,630.2 512.7,631.8C513.3,633.4 514.1,634.9 515.1,636.4C516.1,637.9 517.8,639.3 518.5,640.9C519.3,642.4 519.6,644.1 519.6,645.7C519.6,647.4 518.8,649.2 518.6,650.9C518.4,652.6 518.2,654.3 518.3,655.9C518.3,657.6 518.5,659.2 518.9,660.8C519.2,662.4 519.7,663.9 520.3,665.5C520.9,667.1 521.9,668.8 522.2,670.4C522.6,672.1 522.5,673.8 522.2,675.4C521.9,677 521,678.6 520.4,680.2C519.9,681.8 519.5,683.4 519.2,685C518.8,686.6 518.6,688 518.5,689.6C518.3,691.2 518.3,692.9 518.2,694.6C518.1,696.2 518.5,698.1 518,699.6C517.5,701 516.4,702.5 515.2,703.5C514.1,704.6 512.4,705.1 511,706C509.6,706.8 508.1,707.6 506.8,708.5C505.5,709.4 504.3,710.2 503.2,711.3C502,712.3 500.9,713.5 499.7,714.7C498.5,715.8 497.5,717.6 496.1,718.4C494.7,719.3 493,719.7 491.4,719.8C489.8,719.9 488.1,719.5 486.7,719.2C485.2,718.9 484,718.4 482.6,718.1C481.3,717.7 479.9,717.3 478.4,717C476.9,716.7 475.2,716.4 473.6,716.2C471.9,716 469.9,716.4 468.3,715.8C466.7,715.2 465.6,713.8 464.2,712.6C462.8,711.4 461.5,709.6 460.1,708.5C458.6,707.3 456.9,706.5 455.2,705.9C453.6,705.3 452,705.1 450.4,705C448.7,704.9 447.1,705.2 445.4,705.4C443.7,705.6 441.6,706.5 440,706.2C438.3,706 436.9,704.9 435.6,703.9C434.4,702.9 433.5,701.3 432.4,700.1C431.3,698.9 430.2,697.6 429,696.5C427.8,695.4 426.6,694.4 425.2,693.5C423.8,692.6 422.4,691.8 420.8,691C419.3,690.2 417.4,689.8 416.1,688.8C414.8,687.7 413.9,686.2 412.9,684.8C411.9,683.4 411.2,681.8 410.3,680.4C409.3,679 408.3,677.6 407.1,676.4C405.9,675.2 404.6,674.1 403.3,673.2C401.9,672.2 400.4,671.3 398.8,670.5C397.3,669.8 395.3,669.5 394,668.4C392.7,667.4 391.9,665.8 390.9,664.3C389.8,662.9 388.9,661.1 387.7,659.7C386.5,658.4 385.2,657.2 383.8,656.2C382.3,655.3 380.7,654.5 379.1,653.9C377.4,653.4 375.7,653.2 373.9,652.9C372.1,652.7 370,653.3 368.5,652.7C366.9,652.1 365.8,650.6 364.6,649.4C363.4,648.2 362.4,646.6 361.3,645.4C360.3,644.2 359.3,643.1 358.2,642.1C357,641.1 355.8,640.1 354.4,639.2C353.1,638.3 351.6,637.6 350.1,636.8C348.5,636 346.3,635.8 345.1,634.6C344,633.4 343.7,631.3 343.1,629.6C342.5,627.9 342.2,626 341.4,624.3C340.6,622.7 339.8,621.2 338.5,619.9C337.3,618.6 335.7,617.4 334,616.6C332.3,615.7 330.1,615.1 328.2,614.9C326.3,614.6 324.1,615.6 322.4,615.2C320.7,614.7 319.5,613 318.1,611.9C316.6,610.8 315.2,609.3 313.6,608.4C312.1,607.5 310.5,606.8 308.9,606.3C307.2,605.9 305.5,605.7 303.8,605.8C302,605.8 300.3,606.2 298.5,606.6C296.7,607 294.8,608.3 293.1,608.2C291.5,608.1 290,606.8 288.5,606C287,605.2 285.5,604.1 283.9,603.4C282.4,602.7 280.8,602.1 279.2,601.7C277.6,601.3 275.9,601.1 274.2,601C272.5,600.9 270.8,601.1 269,601.3C267.3,601.4 265.4,602.3 263.7,602.1C262.1,601.9 260.6,600.7 259,600C257.5,599.3 255.9,598.4 254.3,597.9C252.7,597.3 251,596.8 249.4,596.5C247.7,596.3 246,596.2 244.3,596.2C242.6,596.3 240.8,596.6 239.1,596.9C237.4,597.3 235.7,598.5 234,598.4C232.3,598.3 230.6,596.8 229,596.1C227.3,595.4 225.6,594.6 223.9,594.1C222.2,593.7 220.5,593.4 218.8,593.4C217.1,593.4 215.5,593.7 213.8,594.2C212.2,594.6 210.6,595.4 208.9,596.2C207.3,597 205.6,598.9 204,598.9C202.3,599 200.6,597.2 199,596.4C197.4,595.6 195.9,594.6 194.3,594C192.7,593.4 191.1,593 189.4,592.8C187.8,592.7 186.1,592.8 184.4,593.1C182.8,593.4 181.1,594.1 179.3,594.7C177.6,595.4 175.8,597 174.1,597.1C172.4,597.2 170.9,595.9 169.3,595.3C167.6,594.8 166.1,594.1 164.5,593.7C162.9,593.2 161.2,592.8 159.6,592.6C158,592.3 156.4,592.2 154.8,592.1C153.1,592 151.5,592 149.8,592C148.1,591.9 146.1,592.6 144.6,591.9C143.2,591.1 142.2,589.1 141.1,587.8C140.1,586.4 139.2,585.1 138.3,584C137.5,582.8 136.9,581.8 136.1,580.9C135.4,580 134.6,579.3 133.9,578.4C133.1,577.4 132.3,576.6 131.8,575.2C131.4,573.8 130.5,571.5 131,570Z" fill="none" stroke="#d98a2e" stroke-width="2"/>
<path d="M243,529C243.5,523.7 246.3,514.4 248,507C249.7,499.6 250.6,485.7 254.5,480C258.4,474.3 267.9,473 274,469C280.1,465 289.4,457.4 295,453.5C300.6,449.6 306.1,444.9 311.5,443C316.9,441.1 325.1,440.6 331,440.5C336.9,440.4 344.8,442.8 350.6,442C356.5,441.2 363.6,435.1 370,435C376.4,434.9 387.1,438.1 393,441C398.9,443.9 404.6,449.6 409,454C413.4,458.4 418.1,466.9 422,470.6C425.9,474.4 431.1,475.6 435,479C438.9,482.4 444,490.6 448,493.5C452,496.4 457.8,495.9 461.5,498.4C465.2,500.9 471.1,505.4 473,510C474.9,514.6 475.2,523.1 474.5,529C473.8,534.9 470.5,544.5 468,549C465.5,553.5 460.9,557 458,558.7C455.1,560.4 450.6,557.9 448.4,560.3C446.2,562.7 445,569.9 443.5,575C442,580.1 442.3,589.6 438.6,594.5C434.9,599.4 424.4,605.2 419,607.6C413.6,610 407.2,608.6 402.8,610.8C398.4,613 396.1,620 389.7,622.2C383.3,624.4 368.7,626 360.4,625.5C352.1,625 341.1,620 334.3,619C327.5,618 321.1,620.2 314.8,619C308.5,617.8 297.4,615.4 292,610.8C286.6,606.1 282.7,592.9 279,588C275.3,583.1 271.4,582.4 267.5,578.2C263.6,574 256.2,565.7 252.8,560.3C249.4,554.9 246.2,547.1 244.7,542.4C243.2,537.7 242.5,534.3 243,529Z" fill="#a14a4c" stroke="#6e1d22" stroke-width="2"/>
<g fill="none" stroke="#b65a61" stroke-width="4" stroke-linecap="round">
<path d="M268,512C268.7,509.2 268,500.3 272,495C276,489.7 288.7,482.5 292,480"/>
<path d="M262,540C265,538.8 272.8,534.7 280,533C287.2,531.3 300.8,530.5 305,530"/>
<path d="M330,510C331.7,506.7 335.8,495 340,490C344.2,485 352.5,481.7 355,480"/>
<path d="M390,535C391.7,532.5 395,525 400,520C405,515 416.7,507.5 420,505"/>
<path d="M388,545C390,548.3 396,560 400,565C404,570 410,573.3 412,575"/>
<path d="M330,545C329.7,546.7 328.3,553.3 328,555"/>
<path d="M297,590C297.5,587.5 299.5,577.5 300,575"/>
</g>
<g fill="none" stroke="#6a0f14" stroke-width="2.4" stroke-linecap="round">
<path d="M365,539C361.7,536.7 351,531 345,525C339,519 333,509.8 329,503C325,496.2 323.3,491.3 321,484C318.7,476.7 316,463.2 315,459"/>
<path d="M329,503C325.3,506.8 318,521 307,526C296,531 270.3,531.8 263,533"/>
<path d="M365,539C368.3,536.3 378.7,527.8 385,523C391.3,518.2 396.8,514.8 403,510C409.2,505.2 418.8,496.7 422,494"/>
<path d="M329,503C333.3,498.2 346.5,478.5 355,474C363.5,469.5 372.8,474.3 380,476C387.2,477.7 395,482.7 398,484"/>
<path d="M365,539C365.7,543.2 367.7,554.2 369,564C370.3,573.8 372.3,592.3 373,598"/>
<path d="M365,539C359.8,538.5 341.3,534.3 334,536C326.7,537.7 326.8,542.8 321,549C315.2,555.2 302.7,569 299,573"/>
<path d="M331,552C331.5,555 332.7,563.7 334,570C335.3,576.3 338.2,586.7 339,590"/>
<path d="M386,530C387.7,533.7 391.3,544.5 396,552C400.7,559.5 411,571.2 414,575"/>
<path d="M440,502C442.5,505 453.3,512.8 455,520C456.7,527.2 452.7,538.3 450,545C447.3,551.7 440.8,557.5 439,560"/>
<path d="M300,466C297,468.3 288,473.3 282,480C276,486.7 267,501.7 264,506"/>
<path d="M294,590C295.8,591.7 301,597.5 305,600C309,602.5 315.8,604.2 318,605"/>
</g>
<g fill="#5a0a0e">
<path d="M355,536C355.4,534.4 361.9,533.8 365,533C368.1,532.2 377.3,529.1 378,530C378.7,530.9 372.1,538 370,540C367.9,542 364,545.5 362,545C360,544.5 354.6,537.6 355,536Z"/>
<path d="M322,545C322.4,543.8 329.3,540.3 330,541C330.7,541.7 328.1,549.5 327,550C325.9,550.5 321.6,546.2 322,545Z"/>
<path d="M382,525C382.4,523.5 389.9,517.5 392,517C394.1,516.5 398.4,519.5 398,521C397.6,522.5 391.1,527.5 389,528C386.9,528.5 381.6,526.5 382,525Z"/>
</g>
<defs><linearGradient id="urefade" x1="0" y1="0" x2="0" y2="1"><stop offset="0" stop-color="#c29e58"/><stop offset="0.5" stop-color="#c09a52"/><stop offset="0.62" stop-color="#b08a3c"/><stop offset="0.93" stop-color="#b08a3c"/><stop offset="1" stop-color="#b08a3c" stop-opacity="0"/></linearGradient><linearGradient id="urefade2" x1="0" y1="0" x2="0" y2="1"><stop offset="0" stop-color="#9c7628"/><stop offset="0.9" stop-color="#9c7628"/><stop offset="1" stop-color="#9c7628" stop-opacity="0"/></linearGradient></defs>
<path d="M3341,776C3341.7,774.7 3352.2,772.3 3357,771C3361.8,769.7 3383.9,761.7 3389,763C3394.1,764.3 3405.5,778.5 3408,784C3410.5,789.5 3413.6,809.3 3414,818C3414.4,826.7 3413,860.4 3412,871C3411,881.6 3405,911.8 3404,924C3403,936.2 3404.9,986.1 3402,993C3399.1,999.9 3377.5,1002.5 3375,993C3372.5,983.5 3376.5,912.8 3377,898C3377.5,883.2 3380.6,854 3380,845C3379.4,836 3374,814.1 3371,808C3368,801.9 3353,787.2 3350,784C3347,780.8 3340.3,777.3 3341,776Z" fill="url(#urefade)" stroke="url(#urefade2)" stroke-width="2"/>
<path d="M3376,772C3376.3,770.1 3385.3,773.6 3388,776C3390.7,778.4 3394.5,785.7 3396,790C3397.5,794.3 3399,805.3 3399,808C3399,810.7 3397.7,812.4 3396,810C3394.3,807.6 3388.7,795.1 3386,790C3383.3,784.9 3375.7,773.9 3376,772Z" fill="#d9b66c" opacity="0.85"/>
<ellipse cx="3401" cy="833" rx="3" ry="6" fill="#d9b66c"/>
<path d="M3340,688C3340.8,687 3350.9,690.3 3352,690C3353.1,689.7 3355.4,682.9 3357,683C3358.6,683.1 3372.1,691.1 3376,692C3379.9,692.9 3411.4,695.9 3416,696C3420.6,696.1 3443.1,691 3445,693C3446.9,695 3448.7,723.8 3445,726C3441.3,728.2 3395.3,725.9 3389,726C3382.7,726.1 3353.4,728.5 3350,728C3346.6,727.5 3337.9,719.1 3338,718C3338.1,716.9 3351.9,712.9 3352,712C3352.1,711.1 3340.8,706.6 3340,705C3339.2,703.4 3339.2,689 3340,688Z" fill="#be3a40" stroke="#8c1c22" stroke-width="1.5"/>
<path d="M3352,714C3354.6,713 3382.9,712.2 3389,712C3395.1,711.8 3440.3,710.1 3444,711C3447.7,711.9 3448.7,724 3445,725C3441.3,726 3395.3,725.9 3389,726C3382.7,726.1 3352.5,727.8 3350,727C3347.5,726.2 3349.4,715 3352,714Z" fill="#a7282f"/>
<ellipse cx="3446" cy="709" rx="6" ry="16.5" fill="#cf6570" stroke="#8c1c22" stroke-width="1.5"/><ellipse cx="3447" cy="709" rx="3.8" ry="12" fill="#7a1c26"/>
<path d="M3345,728C3347.9,726.9 3383.3,729.5 3389,729C3394.7,728.5 3427.1,719.5 3430,721C3432.9,722.5 3435.7,749.3 3433,752C3430.3,754.7 3394,760.7 3389,762C3384,763.3 3361.3,770.1 3358,771C3354.7,771.9 3340.9,776.7 3340,776C3339.1,775.3 3343.7,762.1 3344,760C3344.3,757.9 3344.9,747.1 3345,745C3345.1,742.9 3342.1,729.1 3345,728Z" fill="#7869a7" stroke="#4c3d7a" stroke-width="1.5"/>
<path d="M3345,768C3348.3,766.3 3383.2,751.7 3389,750C3394.8,748.3 3429.1,741.9 3432,742C3434.9,742.1 3435.9,750.7 3433,752C3430.1,753.3 3394,760.7 3389,762C3384,763.3 3361.3,770.1 3358,771C3354.7,771.9 3340.9,776.2 3340,776C3339.1,775.8 3341.7,769.7 3345,768Z" fill="#65578f"/>
<ellipse cx="3432" cy="737" rx="6" ry="16" fill="#7b6cb0" stroke="#4c3d7a" stroke-width="1.5"/><ellipse cx="3433" cy="737" rx="3.8" ry="12" fill="#4d3f7e"/>
<path d="M3217,530C3205,533.5 3190.8,537.5 3180,545C3169.2,552.5 3154.6,566 3145,580C3135.4,594 3122.6,618.8 3116,638C3109.4,657.2 3103.8,687 3101,708C3098.2,729 3097,757 3097,778C3097,799 3097.4,827.9 3101,848C3104.6,868.1 3111.8,895.5 3121,912C3130.2,928.5 3147.2,947.8 3162,958C3176.8,968.2 3202.4,976.7 3220,980C3237.6,983.3 3263.1,981.6 3279,980C3294.9,978.4 3315.1,973 3326,969C3336.9,965 3345.7,958.5 3352,953C3358.3,947.5 3364.4,939.5 3368,932C3371.6,924.5 3374.7,912.1 3376,903C3377.3,893.9 3377.4,880.5 3377,871C3376.6,861.5 3375.1,849.5 3373,840C3370.9,830.5 3366.4,816.4 3363,808C3359.6,799.6 3353.6,789.5 3350,784C3346.4,778.5 3339.9,774.6 3339,771C3338.1,767.4 3342.3,764.8 3344,760C3345.7,755.2 3349.6,746 3350,739C3350.4,732 3349.1,720.5 3347,713C3344.9,705.5 3333.2,694 3336,689C3338.8,684 3357.2,684.4 3366,680C3374.8,675.6 3388.4,668.1 3395,660C3401.6,651.9 3408.2,635 3410,626C3411.8,617 3414.5,609.9 3407,600C3399.5,590.1 3374.6,570.5 3360,560C3345.4,549.5 3325,535.7 3310,530C3295,524.3 3273.9,522 3260,522C3246.1,522 3229,526.5 3217,530Z" fill="#a6776c" stroke="#7a4a3e" stroke-width="2"/>
<path d="M3101,848C3099.7,849.8 3111.8,895.5 3121,912C3130.2,928.5 3147.2,947.8 3162,958C3176.8,968.2 3202.4,976.7 3220,980C3237.6,983.3 3263.1,981.6 3279,980C3294.9,978.4 3315.1,973 3326,969C3336.9,965 3345.7,958.5 3352,953C3358.3,947.5 3364.4,939.5 3368,932C3371.6,924.5 3374.7,912.1 3376,903C3377.3,893.9 3377.4,880.5 3377,871C3376.6,861.5 3375.1,849.5 3373,840C3370.9,830.5 3366.4,815.5 3363,808C3359.6,800.5 3352.7,786.7 3350,790C3347.3,793.3 3345.8,816.5 3345,830C3344.2,843.5 3348,865.8 3345,880C3342,894.2 3333.2,914.5 3325,925C3316.8,935.5 3304.2,945.5 3290,950C3275.8,954.5 3248,957.2 3230,955C3212,952.8 3185,943.2 3170,935C3155,926.8 3140.3,913 3130,900C3119.7,887 3102.3,846.2 3101,848Z" fill="#9b695e"/>
<path d="M3407,600C3409.2,602.4 3411.8,616.9 3410,626C3408.2,635.1 3401.6,652.9 3395,661C3388.4,669.1 3374.8,675.8 3366,680C3357.2,684.2 3342.9,688.2 3336,689C3329.1,689.8 3317.2,688.1 3320,685C3322.8,681.9 3345.2,674.8 3355,668C3364.8,661.2 3379,648.7 3385,640C3391,631.3 3391.7,616 3395,610C3398.3,604 3404.8,597.6 3407,600Z" fill="#9b695e"/>
<path d="M3336,689C3337.7,692.6 3344.9,705.5 3347,713C3349.1,720.5 3350.4,732 3350,739C3349.6,746 3345.7,755.2 3344,760C3342.3,764.8 3338.1,767.4 3339,771C3339.9,774.6 3346.4,778.5 3350,784C3353.6,789.5 3359.6,799.6 3363,808C3366.4,816.4 3371.5,835.2 3373,840" fill="none" stroke="#7a4a3e" stroke-width="2"/>
<path d="M3230,625C3238.3,625.5 3265,623 3280,628C3295,633 3310.7,644.8 3320,655C3329.3,665.2 3333.3,683.3 3336,689" fill="none" stroke="#8c5b50" stroke-width="1.5"/>
<path d="M3240,790C3245,785.8 3258.3,770 3270,765C3281.7,760 3298.5,759 3310,760C3321.5,761 3334.2,769.2 3339,771" fill="none" stroke="#8c5b50" stroke-width="1.5"/>
<path d="M3200,565C3201.5,561.4 3212,551 3218,548C3224,545 3238.9,543.5 3240,545C3241.1,546.5 3229.8,554 3225,558C3220.2,562 3211.8,571 3208,572C3204.2,573 3198.5,568.6 3200,565Z" fill="#bb8a82"/>
<path d="M3238,633C3238,631.5 3248.7,629 3255,630C3261.3,631 3276.6,637.6 3280,640C3283.4,642.4 3281.8,646 3278,646C3274.2,646 3261,642 3255,640C3249,638 3238,634.5 3238,633Z" fill="#bb8a82"/>
<path d="M3208,790C3208,786.5 3216,776.2 3222,772C3228,767.8 3242.3,762.9 3248,762C3253.7,761.1 3261.2,763.6 3260,766C3258.8,768.4 3245.7,773.6 3240,778C3234.3,782.4 3226.8,793.2 3222,795C3217.2,796.8 3208,793.5 3208,790Z" fill="#bb8a82"/>
<path d="M3191,513C3191.5,512.2 3193.2,510.3 3194.4,509.1C3195.6,507.9 3196.9,506.9 3198,505.8C3199.2,504.6 3200.2,503.5 3201.1,502.2C3202,500.9 3202.8,499.5 3203.4,498.1C3204.1,496.6 3204.5,495.1 3205.2,493.5C3205.8,491.9 3206.1,489.7 3207.2,488.5C3208.3,487.3 3210.3,487.1 3211.8,486.4C3213.4,485.7 3215,485.2 3216.5,484.5C3218.1,483.8 3219.6,483.1 3221,482.2C3222.4,481.3 3223.7,480.2 3225,479.1C3226.2,477.9 3227.4,476.6 3228.5,475.3C3229.6,473.9 3230.2,472 3231.5,471C3232.9,470 3234.8,469.7 3236.4,469.1C3238.1,468.5 3239.9,468 3241.5,467.4C3243,466.7 3244.5,465.9 3245.9,465C3247.2,464.1 3248.4,463 3249.6,461.8C3250.7,460.7 3251.8,459.3 3252.8,457.9C3253.8,456.5 3254.4,454.3 3255.7,453.3C3256.9,452.2 3258.8,451.9 3260.4,451.5C3262.1,451.1 3264.1,451.2 3265.7,450.9C3267.4,450.6 3269,450.2 3270.4,449.7C3271.9,449.2 3273.2,448.6 3274.5,447.8C3275.8,447.1 3277,446.2 3278.4,445.2C3279.7,444.2 3281.1,442.5 3282.7,441.9C3284.2,441.4 3285.9,441.5 3287.6,441.7C3289.3,442 3291.1,443 3292.9,443.3C3294.6,443.7 3296.3,444 3298,444C3299.7,443.9 3301.4,443.7 3303.1,443.2C3304.7,442.6 3306.4,441.8 3308,440.8C3309.6,439.8 3310.9,438.1 3312.4,437.1C3313.9,436.2 3315.4,435.5 3317.1,435.2C3318.8,434.8 3320.8,435.2 3322.5,435.1C3324.2,435 3325.9,434.7 3327.5,434.4C3329,434 3330.5,433.5 3332,432.9C3333.4,432.3 3334.8,431.6 3336.3,430.7C3337.8,429.9 3339.2,428.6 3340.8,427.9C3342.3,427.2 3343.9,426.5 3345.6,426.5C3347.2,426.5 3349.1,427.4 3350.8,427.8C3352.5,428.1 3354.2,428.3 3355.8,428.4C3357.4,428.5 3358.9,428.4 3360.3,428.2C3361.8,428 3363.3,427.5 3364.5,427.4C3365.8,427.2 3367,426.6 3368,427.2C3369.1,427.8 3370.4,429.5 3370.8,431.1C3371.3,432.6 3370.4,434.7 3370.7,436.5C3370.9,438.3 3371.4,440.5 3372.1,442.1C3372.8,443.8 3373.8,445.2 3374.8,446.5C3375.9,447.8 3377.1,449 3378.4,450.1C3379.7,451.3 3381.2,452.2 3382.6,453.3C3383.9,454.3 3385.6,455.2 3386.4,456.7C3387.2,458.1 3387.1,460.2 3387.5,461.9C3388,463.6 3388.4,465.2 3389,466.8C3389.6,468.3 3390.4,469.8 3391.2,471.2C3392.1,472.5 3393.1,473.8 3394.2,475C3395.3,476.3 3396.7,477.4 3398,478.6C3399.3,479.8 3401.1,480.8 3401.9,482.3C3402.7,483.7 3402.4,485.7 3402.8,487.4C3403.1,489.1 3403.5,490.7 3404,492.3C3404.5,493.9 3405.1,495.5 3405.8,497C3406.5,498.5 3407.4,499.9 3408.3,501.3C3409.2,502.7 3410.3,504 3411.4,505.4C3412.4,506.7 3414.2,507.8 3414.7,509.3C3415.2,510.9 3414.4,513.1 3414.4,514.9C3414.4,516.6 3414.3,518.4 3414.5,520.1C3414.7,521.8 3415,523.4 3415.5,525C3416.1,526.5 3416.8,528 3417.7,529.4C3418.6,530.9 3419.7,532.2 3420.8,533.6C3422,535 3424,536.1 3424.6,537.7C3425.1,539.2 3424.4,541.2 3424.3,542.9C3424.2,544.7 3423.9,546.5 3424,548.2C3424,550 3424.3,551.7 3424.7,553.3C3425.1,554.9 3425.7,556.4 3426.5,557.9C3427.3,559.4 3428.3,560.8 3429.3,562.3C3430.3,563.7 3432.1,565 3432.7,566.5C3433.2,568.1 3432.9,569.9 3432.8,571.6C3432.6,573.2 3432.2,574.9 3432,576.5C3431.8,578 3431.6,579.4 3431.3,580.9C3431.1,582.4 3430.9,583.8 3430.7,585.3C3430.5,586.8 3430.4,588.4 3430.2,590C3430,591.7 3430.3,593.6 3429.6,595C3428.9,596.5 3427.5,597.7 3426.2,598.6C3424.9,599.6 3423.4,600.1 3422,600.7C3420.6,601.4 3419.2,601.9 3417.9,602.4C3416.5,603 3415.3,603.5 3414,604.1C3412.6,604.7 3411.2,605.5 3409.7,606.2C3408.2,606.9 3406.7,608.2 3405.2,608.4C3403.6,608.6 3401.9,608 3400.4,607.4C3398.9,606.7 3397.6,605.3 3396.1,604.4C3394.7,603.5 3393.2,602.6 3391.8,602C3390.3,601.3 3388.8,600.9 3387.2,600.6C3385.6,600.3 3384,600.2 3382.2,600.2C3380.5,600.2 3378.5,600.7 3376.8,600.4C3375.1,600.2 3373.5,599.6 3372.1,598.7C3370.7,597.8 3369.7,596.1 3368.4,595C3367.2,593.8 3366,592.8 3364.6,591.8C3363.3,590.9 3361.9,590.1 3360.4,589.4C3358.9,588.7 3357.3,588.2 3355.7,587.7C3354.1,587.2 3352.1,587.2 3350.6,586.5C3349,585.9 3347.5,585.1 3346.4,583.8C3345.2,582.6 3344.7,580.4 3343.8,578.9C3342.9,577.4 3341.9,575.9 3340.7,574.7C3339.6,573.5 3338.3,572.4 3337,571.6C3335.6,570.7 3334.1,570.1 3332.6,569.5C3331,568.9 3329,568.8 3327.5,568C3325.9,567.3 3324.1,566.6 3323.2,565.3C3322.2,563.9 3322.4,561.5 3321.8,559.8C3321.2,558.1 3320.6,556.4 3319.8,554.9C3318.9,553.4 3317.9,552.1 3316.6,550.9C3315.4,549.8 3313.9,548.8 3312.3,548C3310.7,547.1 3308.6,546.6 3306.9,546C3305.1,545.4 3303.1,545.3 3301.7,544.2C3300.4,543 3299.9,540.7 3298.7,539.2C3297.6,537.8 3296.4,536.4 3295,535.3C3293.6,534.2 3292,533.3 3290.3,532.6C3288.7,532 3286.8,531.7 3285,531.6C3283.2,531.5 3281.3,531.8 3279.4,532C3277.6,532.3 3275.7,533.2 3273.9,533C3272.2,532.9 3270.8,531.5 3269.1,530.9C3267.4,530.4 3265.6,530 3263.9,529.7C3262.2,529.5 3260.6,529.4 3258.9,529.5C3257.2,529.6 3255.5,529.9 3253.8,530.2C3252.2,530.5 3250.6,531.1 3248.9,531.6C3247.3,532.1 3245.6,533.2 3244,533.2C3242.3,533.2 3240.7,532.1 3239.1,531.6C3237.5,531.1 3235.9,530.5 3234.3,530.1C3232.6,529.7 3231,529.4 3229.4,529.2C3227.8,529 3226.1,528.9 3224.4,528.9C3222.8,528.9 3221.1,529.1 3219.4,529.2C3217.7,529.4 3215.8,530.1 3214.2,529.8C3212.6,529.5 3211.1,528.2 3209.7,527.3C3208.2,526.5 3206.9,525.6 3205.5,524.7C3204.2,523.9 3203,523.1 3201.7,522.3C3200.5,521.5 3199.4,520.9 3198.2,520.1C3197,519.3 3195.7,518.5 3194.5,517.5C3193.4,516.5 3192,514.7 3191.4,514C3190.9,513.2 3190.5,513.8 3191,513Z" fill="#eba75e" stroke="#d98a2e" stroke-width="2"/>
<g stroke="#df9645" stroke-width="1.3" stroke-linejoin="round">
<path d="M3317,438 3321,435 3317,435 3313,437Z" fill="#edb779"/>
<path d="M3346,427 3341,428 3332,433 3328,434 3334,436 3345,430Z" fill="#eeb87b"/>
<path d="M3368,435 3367,427 3356,428 3346,427 3345,430 3353,436Z" fill="#e9ac68"/>
<path d="M3368,435 3371,437 3371,431 3368,427 3367,427Z" fill="#e8a963"/>
<path d="M3256,455 3270,453 3270,450 3260,451 3256,453 3255,454Z" fill="#edb678"/>
<path d="M3270,453 3273,454 3293,451 3292,443 3288,442 3283,442 3275,448 3270,450Z" fill="#edb779"/>
<path d="M3293,451 3300,458 3313,452 3317,438 3313,437 3308,441 3303,443 3298,444 3292,443Z" fill="#eeb87c"/>
<path d="M3328,434 3321,435 3317,438 3313,452 3325,462 3338,455 3334,436Z" fill="#edb678"/>
<path d="M3353,436 3345,430 3334,436 3338,455 3343,456 3353,451Z" fill="#edb577"/>
<path d="M3368,435 3353,436 3353,451 3366,458 3376,451 3376,448 3372,442 3371,437Z" fill="#e9ac69"/>
<path d="M3376,451 3387,461 3386,457 3376,448Z" fill="#e6a259"/>
<path d="M3226,479 3232,471 3232,471 3226,478Z" fill="#eeb87b"/>
<path d="M3232,471 3248,471 3252,469 3256,455 3255,454 3250,462 3246,465Z" fill="#edb679"/>
<path d="M3276,467 3273,454 3270,453 3256,455 3252,469 3269,479Z" fill="#ecb475"/>
<path d="M3297,471 3300,458 3293,451 3273,454 3276,467Z" fill="#eeb87b"/>
<path d="M3297,471 3317,479 3325,472 3325,462 3313,452 3300,458Z" fill="#eeb77a"/>
<path d="M3338,455 3325,462 3325,472 3334,476 3348,470 3343,456Z" fill="#ecb476"/>
<path d="M3343,456 3348,470 3354,473 3363,470 3366,458 3353,451Z" fill="#eaad6a"/>
<path d="M3376,451 3366,458 3363,470 3372,478 3388,464 3387,461Z" fill="#e7a55e"/>
<path d="M3209,495 3226,490 3226,479 3226,478 3221,482 3217,485 3207,489 3206,492Z" fill="#edb779"/>
<path d="M3249,487 3248,471 3232,471 3226,479 3226,490 3231,497Z" fill="#ecb374"/>
<path d="M3269,479 3252,469 3248,471 3249,487 3257,492 3271,485Z" fill="#eeb87c"/>
<path d="M3293,482 3297,471 3276,467 3269,479 3271,485 3275,488Z" fill="#ecb475"/>
<path d="M3293,482 3303,500 3317,493 3317,479 3297,471Z" fill="#edb77a"/>
<path d="M3334,476 3325,472 3317,479 3317,493 3322,496 3338,490Z" fill="#eeb87b"/>
<path d="M3348,470 3334,476 3338,490 3340,491 3352,485 3354,473Z" fill="#edb577"/>
<path d="M3352,485 3363,496 3374,485 3372,478 3363,470 3354,473Z" fill="#eaad6a"/>
<path d="M3372,478 3374,485 3390,490 3395,485 3395,476 3391,471 3388,464Z" fill="#e5a158"/>
<path d="M3395,485 3402,486 3402,482 3395,476Z" fill="#e59f55"/>
<path d="M3203,514 3209,495 3206,492 3203,498 3201,502 3192,512Z" fill="#edb677"/>
<path d="M3231,497 3226,490 3209,495 3203,514 3223,514 3233,502Z" fill="#edb577"/>
<path d="M3254,508 3257,492 3249,487 3231,497 3233,502 3245,510Z" fill="#edb779"/>
<path d="M3271,485 3257,492 3254,508 3266,514 3278,507 3275,488Z" fill="#edb678"/>
<path d="M3278,507 3285,510 3302,501 3303,500 3293,482 3275,488Z" fill="#eeb87c"/>
<path d="M3317,493 3303,500 3302,501 3313,521 3329,512 3322,496Z" fill="#eeb87c"/>
<path d="M3322,496 3329,512 3337,515 3345,509 3340,491 3338,490Z" fill="#eeb87a"/>
<path d="M3345,509 3360,509 3362,508 3363,496 3352,485 3340,491Z" fill="#eaaf6d"/>
<path d="M3374,485 3363,496 3362,508 3376,510 3391,504 3390,490Z" fill="#e7a660"/>
<path d="M3395,485 3390,490 3391,504 3395,508 3407,504 3409,502 3406,497 3404,492 3402,486Z" fill="#e49f54"/>
<path d="M3407,504 3415,512 3415,509 3409,502Z" fill="#e49d51"/>
<path d="M3203,514 3192,512 3191,513 3195,518 3205,524Z" fill="#edb678"/>
<path d="M3203,514 3205,524 3214,530 3228,529 3223,514Z" fill="#edb77a"/>
<path d="M3240,529 3245,510 3233,502 3223,514 3228,529 3238,531Z" fill="#ecb476"/>
<path d="M3240,529 3258,530 3266,522 3266,514 3254,508 3245,510Z" fill="#edb576"/>
<path d="M3266,514 3266,522 3275,533 3291,524 3285,510 3278,507Z" fill="#eeb77a"/>
<path d="M3291,524 3302,532 3311,527 3313,521 3302,501 3285,510Z" fill="#edb677"/>
<path d="M3339,527 3337,515 3329,512 3313,521 3311,527 3326,539Z" fill="#edb678"/>
<path d="M3361,530 3360,509 3345,509 3337,515 3339,527 3349,535Z" fill="#eaaf6c"/>
<path d="M3376,510 3362,508 3360,509 3361,530 3364,532 3380,531Z" fill="#e7a760"/>
<path d="M3400,527 3395,508 3391,504 3376,510 3380,531 3389,536Z" fill="#e6a35b"/>
<path d="M3400,527 3413,528 3416,527 3415,520 3415,512 3407,504 3395,508Z" fill="#e39b4e"/>
<path d="M3240,529 3238,531 3244,533 3256,530Z" fill="#eeb87b"/>
<path d="M3266,522 3258,530 3264,530 3269,531 3274,533 3275,533Z" fill="#edb679"/>
<path d="M3302,532 3291,524 3276,533 3285,532 3290,533 3295,535 3299,540Z" fill="#ecb576"/>
<path d="M3327,546 3326,539 3311,527 3302,532 3299,540 3302,544 3312,548 3317,551 3319,554Z" fill="#eeb87b"/>
<path d="M3349,535 3339,527 3326,539 3327,546 3335,550 3347,547Z" fill="#edb577"/>
<path d="M3364,532 3361,530 3349,535 3347,547 3351,551 3366,544Z" fill="#ebb06e"/>
<path d="M3380,531 3364,532 3366,544 3377,555 3380,555 3389,544 3389,536Z" fill="#e7a660"/>
<path d="M3389,544 3405,554 3417,550 3413,528 3400,527 3389,536Z" fill="#e39c50"/>
<path d="M3424,552 3424,548 3425,538 3418,529 3416,527 3416,527 3413,528 3417,550 3421,552Z" fill="#e49d52"/>
<path d="M3319,554 3322,560 3323,565 3327,568 3335,570 3337,570 3335,550 3327,546Z" fill="#ecb475"/>
<path d="M3347,547 3335,550 3337,570 3343,572 3356,563 3351,551Z" fill="#ecb475"/>
<path d="M3366,544 3351,551 3356,563 3365,566 3377,555Z" fill="#e9aa66"/>
<path d="M3380,555 3389,569 3403,564 3405,554 3389,544Z" fill="#e49e52"/>
<path d="M3422,570 3421,552 3417,550 3405,554 3403,564 3409,573Z" fill="#e49d52"/>
<path d="M3421,552 3422,570 3427,574 3433,571 3433,567 3427,558 3424,552Z" fill="#e49e53"/>
<path d="M3343,572 3337,570 3335,570 3337,572 3341,575 3345,581Z" fill="#ecb475"/>
<path d="M3370,583 3365,566 3356,563 3343,572 3345,581 3346,584 3352,587 3359,589Z" fill="#e9ac68"/>
<path d="M3365,566 3370,583 3377,586 3388,582 3389,569 3380,555 3377,555Z" fill="#e7a55e"/>
<path d="M3402,588 3409,573 3403,564 3389,569 3388,582Z" fill="#e49d51"/>
<path d="M3402,589 3423,593 3429,587 3427,574 3422,570 3409,573 3402,588Z" fill="#e5a056"/>
<path d="M3427,574 3429,587 3430,587 3433,571Z" fill="#e49d51"/>
<path d="M3377,586 3370,583 3359,589 3365,592 3372,599 3378,600Z" fill="#e8a963"/>
<path d="M3377,586 3378,600 3387,601 3392,602 3398,606 3402,589 3402,588 3388,582Z" fill="#e49e53"/>
<path d="M3423,593 3402,589 3398,606 3400,607 3405,608 3422,601 3423,600Z" fill="#e39c4f"/>
<path d="M3423,600 3426,599 3430,595 3430,587 3429,587 3423,593Z" fill="#e49f54"/>
</g>
<g fill="none" stroke="#f8dcb5" stroke-width="2.2" stroke-linecap="round" opacity="0.85">
<path d="M3355.2,447.5 q3,-5 8,-6"/>
<path d="M3306.7,469 q3,-5 8,-6"/>
<path d="M3370.1,469 q3,-5 8,-6"/>
<path d="M3251.2,484.6 q3,-5 8,-6"/>
<path d="M3321.9,487 q3,-5 8,-6"/>
<path d="M3377.2,477.4 q3,-5 8,-6"/>
<path d="M3211.7,507.2 q3,-5 8,-6"/>
<path d="M3282.2,497.2 q3,-5 8,-6"/>
<path d="M3344.5,497 q3,-5 8,-6"/>
<path d="M3225.8,519.6 q3,-5 8,-6"/>
<path d="M3292.8,517.7 q3,-5 8,-6"/>
<path d="M3365.2,524.5 q3,-5 8,-6"/>
<path d="M3307.6,545.8 q3,-5 8,-6"/>
<path d="M3366.5,542.6 q3,-5 8,-6"/>
<path d="M3323.3,561.7 q3,-5 8,-6"/>
<path d="M3389.2,561.6 q3,-5 8,-6"/>
<path d="M3393.2,574.6 q3,-5 8,-6"/>
</g>
<path d="M3191,513C3191.5,512.2 3193.2,510.3 3194.4,509.1C3195.6,507.9 3196.9,506.9 3198,505.8C3199.2,504.6 3200.2,503.5 3201.1,502.2C3202,500.9 3202.8,499.5 3203.4,498.1C3204.1,496.6 3204.5,495.1 3205.2,493.5C3205.8,491.9 3206.1,489.7 3207.2,488.5C3208.3,487.3 3210.3,487.1 3211.8,486.4C3213.4,485.7 3215,485.2 3216.5,484.5C3218.1,483.8 3219.6,483.1 3221,482.2C3222.4,481.3 3223.7,480.2 3225,479.1C3226.2,477.9 3227.4,476.6 3228.5,475.3C3229.6,473.9 3230.2,472 3231.5,471C3232.9,470 3234.8,469.7 3236.4,469.1C3238.1,468.5 3239.9,468 3241.5,467.4C3243,466.7 3244.5,465.9 3245.9,465C3247.2,464.1 3248.4,463 3249.6,461.8C3250.7,460.7 3251.8,459.3 3252.8,457.9C3253.8,456.5 3254.4,454.3 3255.7,453.3C3256.9,452.2 3258.8,451.9 3260.4,451.5C3262.1,451.1 3264.1,451.2 3265.7,450.9C3267.4,450.6 3269,450.2 3270.4,449.7C3271.9,449.2 3273.2,448.6 3274.5,447.8C3275.8,447.1 3277,446.2 3278.4,445.2C3279.7,444.2 3281.1,442.5 3282.7,441.9C3284.2,441.4 3285.9,441.5 3287.6,441.7C3289.3,442 3291.1,443 3292.9,443.3C3294.6,443.7 3296.3,444 3298,444C3299.7,443.9 3301.4,443.7 3303.1,443.2C3304.7,442.6 3306.4,441.8 3308,440.8C3309.6,439.8 3310.9,438.1 3312.4,437.1C3313.9,436.2 3315.4,435.5 3317.1,435.2C3318.8,434.8 3320.8,435.2 3322.5,435.1C3324.2,435 3325.9,434.7 3327.5,434.4C3329,434 3330.5,433.5 3332,432.9C3333.4,432.3 3334.8,431.6 3336.3,430.7C3337.8,429.9 3339.2,428.6 3340.8,427.9C3342.3,427.2 3343.9,426.5 3345.6,426.5C3347.2,426.5 3349.1,427.4 3350.8,427.8C3352.5,428.1 3354.2,428.3 3355.8,428.4C3357.4,428.5 3358.9,428.4 3360.3,428.2C3361.8,428 3363.3,427.5 3364.5,427.4C3365.8,427.2 3367,426.6 3368,427.2C3369.1,427.8 3370.4,429.5 3370.8,431.1C3371.3,432.6 3370.4,434.7 3370.7,436.5C3370.9,438.3 3371.4,440.5 3372.1,442.1C3372.8,443.8 3373.8,445.2 3374.8,446.5C3375.9,447.8 3377.1,449 3378.4,450.1C3379.7,451.3 3381.2,452.2 3382.6,453.3C3383.9,454.3 3385.6,455.2 3386.4,456.7C3387.2,458.1 3387.1,460.2 3387.5,461.9C3388,463.6 3388.4,465.2 3389,466.8C3389.6,468.3 3390.4,469.8 3391.2,471.2C3392.1,472.5 3393.1,473.8 3394.2,475C3395.3,476.3 3396.7,477.4 3398,478.6C3399.3,479.8 3401.1,480.8 3401.9,482.3C3402.7,483.7 3402.4,485.7 3402.8,487.4C3403.1,489.1 3403.5,490.7 3404,492.3C3404.5,493.9 3405.1,495.5 3405.8,497C3406.5,498.5 3407.4,499.9 3408.3,501.3C3409.2,502.7 3410.3,504 3411.4,505.4C3412.4,506.7 3414.2,507.8 3414.7,509.3C3415.2,510.9 3414.4,513.1 3414.4,514.9C3414.4,516.6 3414.3,518.4 3414.5,520.1C3414.7,521.8 3415,523.4 3415.5,525C3416.1,526.5 3416.8,528 3417.7,529.4C3418.6,530.9 3419.7,532.2 3420.8,533.6C3422,535 3424,536.1 3424.6,537.7C3425.1,539.2 3424.4,541.2 3424.3,542.9C3424.2,544.7 3423.9,546.5 3424,548.2C3424,550 3424.3,551.7 3424.7,553.3C3425.1,554.9 3425.7,556.4 3426.5,557.9C3427.3,559.4 3428.3,560.8 3429.3,562.3C3430.3,563.7 3432.1,565 3432.7,566.5C3433.2,568.1 3432.9,569.9 3432.8,571.6C3432.6,573.2 3432.2,574.9 3432,576.5C3431.8,578 3431.6,579.4 3431.3,580.9C3431.1,582.4 3430.9,583.8 3430.7,585.3C3430.5,586.8 3430.4,588.4 3430.2,590C3430,591.7 3430.3,593.6 3429.6,595C3428.9,596.5 3427.5,597.7 3426.2,598.6C3424.9,599.6 3423.4,600.1 3422,600.7C3420.6,601.4 3419.2,601.9 3417.9,602.4C3416.5,603 3415.3,603.5 3414,604.1C3412.6,604.7 3411.2,605.5 3409.7,606.2C3408.2,606.9 3406.7,608.2 3405.2,608.4C3403.6,608.6 3401.9,608 3400.4,607.4C3398.9,606.7 3397.6,605.3 3396.1,604.4C3394.7,603.5 3393.2,602.6 3391.8,602C3390.3,601.3 3388.8,600.9 3387.2,600.6C3385.6,600.3 3384,600.2 3382.2,600.2C3380.5,600.2 3378.5,600.7 3376.8,600.4C3375.1,600.2 3373.5,599.6 3372.1,598.7C3370.7,597.8 3369.7,596.1 3368.4,595C3367.2,593.8 3366,592.8 3364.6,591.8C3363.3,590.9 3361.9,590.1 3360.4,589.4C3358.9,588.7 3357.3,588.2 3355.7,587.7C3354.1,587.2 3352.1,587.2 3350.6,586.5C3349,585.9 3347.5,585.1 3346.4,583.8C3345.2,582.6 3344.7,580.4 3343.8,578.9C3342.9,577.4 3341.9,575.9 3340.7,574.7C3339.6,573.5 3338.3,572.4 3337,571.6C3335.6,570.7 3334.1,570.1 3332.6,569.5C3331,568.9 3329,568.8 3327.5,568C3325.9,567.3 3324.1,566.6 3323.2,565.3C3322.2,563.9 3322.4,561.5 3321.8,559.8C3321.2,558.1 3320.6,556.4 3319.8,554.9C3318.9,553.4 3317.9,552.1 3316.6,550.9C3315.4,549.8 3313.9,548.8 3312.3,548C3310.7,547.1 3308.6,546.6 3306.9,546C3305.1,545.4 3303.1,545.3 3301.7,544.2C3300.4,543 3299.9,540.7 3298.7,539.2C3297.6,537.8 3296.4,536.4 3295,535.3C3293.6,534.2 3292,533.3 3290.3,532.6C3288.7,532 3286.8,531.7 3285,531.6C3283.2,531.5 3281.3,531.8 3279.4,532C3277.6,532.3 3275.7,533.2 3273.9,533C3272.2,532.9 3270.8,531.5 3269.1,530.9C3267.4,530.4 3265.6,530 3263.9,529.7C3262.2,529.5 3260.6,529.4 3258.9,529.5C3257.2,529.6 3255.5,529.9 3253.8,530.2C3252.2,530.5 3250.6,531.1 3248.9,531.6C3247.3,532.1 3245.6,533.2 3244,533.2C3242.3,533.2 3240.7,532.1 3239.1,531.6C3237.5,531.1 3235.9,530.5 3234.3,530.1C3232.6,529.7 3231,529.4 3229.4,529.2C3227.8,529 3226.1,528.9 3224.4,528.9C3222.8,528.9 3221.1,529.1 3219.4,529.2C3217.7,529.4 3215.8,530.1 3214.2,529.8C3212.6,529.5 3211.1,528.2 3209.7,527.3C3208.2,526.5 3206.9,525.6 3205.5,524.7C3204.2,523.9 3203,523.1 3201.7,522.3C3200.5,521.5 3199.4,520.9 3198.2,520.1C3197,519.3 3195.7,518.5 3194.5,517.5C3193.4,516.5 3192,514.7 3191.4,514C3190.9,513.2 3190.5,513.8 3191,513Z" fill="none" stroke="#d98a2e" stroke-width="2"/>
<defs><clipPath id="fibclip"><path d="M183,1653C182.3,1646.2 186,1618.1 186,1605C186,1591.9 183.7,1571.8 183,1555C182.3,1538.2 181,1499.3 181,1479C181,1458.7 181.4,1421.1 183,1403C184.6,1384.9 188.6,1357.8 193,1343C197.4,1328.2 208.3,1302.8 216,1292C223.7,1281.2 239.5,1268.4 251,1262C262.5,1255.6 288.5,1247.2 302,1244C315.5,1240.8 335.2,1238.7 352,1238C368.8,1237.3 409.5,1238.3 428,1239C446.5,1239.7 470.7,1242.3 491,1243C511.3,1243.7 558.1,1243.5 580,1244C601.9,1244.5 634.9,1246.3 655,1247C675.1,1247.7 712.7,1247.3 731,1249C749.3,1250.7 781.2,1256.3 792,1260C802.8,1263.7 810.4,1272.1 812,1277C813.6,1281.9 809.5,1290.9 804,1297C798.5,1303.1 780.1,1316.2 771,1323C761.9,1329.8 743.3,1340.7 736,1348C728.7,1355.3 720.7,1369.2 716,1378C711.3,1386.8 707.8,1405.2 701,1414C694.2,1422.8 677.8,1436.7 665,1444C652.2,1451.3 621.1,1463.7 605,1469C588.9,1474.3 553.5,1476.7 544,1484C534.5,1491.3 536.7,1524 534,1524C531.3,1524 528,1488 524,1484C520,1480 513.5,1487.9 504,1494C494.5,1500.1 469.8,1520.5 453,1530C436.2,1539.5 398.1,1557.7 378,1565C357.9,1572.3 318.9,1579 302,1585C285.1,1591 263.1,1601.9 251,1610C238.9,1618.1 219,1639.9 211,1646C203,1652.1 194.7,1655.1 191,1656C187.3,1656.9 183.7,1659.8 183,1653Z"/></clipPath></defs>
<path d="M183,1653C182.3,1646.2 186,1618.1 186,1605C186,1591.9 183.7,1571.8 183,1555C182.3,1538.2 181,1499.3 181,1479C181,1458.7 181.4,1421.1 183,1403C184.6,1384.9 188.6,1357.8 193,1343C197.4,1328.2 208.3,1302.8 216,1292C223.7,1281.2 239.5,1268.4 251,1262C262.5,1255.6 288.5,1247.2 302,1244C315.5,1240.8 335.2,1238.7 352,1238C368.8,1237.3 409.5,1238.3 428,1239C446.5,1239.7 470.7,1242.3 491,1243C511.3,1243.7 558.1,1243.5 580,1244C601.9,1244.5 634.9,1246.3 655,1247C675.1,1247.7 712.7,1247.3 731,1249C749.3,1250.7 781.2,1256.3 792,1260C802.8,1263.7 810.4,1272.1 812,1277C813.6,1281.9 809.5,1290.9 804,1297C798.5,1303.1 780.1,1316.2 771,1323C761.9,1329.8 743.3,1340.7 736,1348C728.7,1355.3 720.7,1369.2 716,1378C711.3,1386.8 707.8,1405.2 701,1414C694.2,1422.8 677.8,1436.7 665,1444C652.2,1451.3 621.1,1463.7 605,1469C588.9,1474.3 553.5,1476.7 544,1484C534.5,1491.3 536.7,1524 534,1524C531.3,1524 528,1488 524,1484C520,1480 513.5,1487.9 504,1494C494.5,1500.1 469.8,1520.5 453,1530C436.2,1539.5 398.1,1557.7 378,1565C357.9,1572.3 318.9,1579 302,1585C285.1,1591 263.1,1601.9 251,1610C238.9,1618.1 219,1639.9 211,1646C203,1652.1 194.7,1655.1 191,1656C187.3,1656.9 183.7,1659.8 183,1653Z" fill="#bf7577"/>
<g clip-path="url(#fibclip)">
<path d="M183,1653C182.3,1646.2 186,1618.1 186,1605C186,1591.9 183.7,1571.8 183,1555C182.3,1538.2 181,1499.3 181,1479C181,1458.7 181.4,1421.1 183,1403C184.6,1384.9 188.6,1357.8 193,1343C197.4,1328.2 208.3,1302.8 216,1292C223.7,1281.2 239.5,1268.4 251,1262C262.5,1255.6 288.5,1247.2 302,1244C315.5,1240.8 335.2,1238.7 352,1238C368.8,1237.3 409.5,1238.3 428,1239C446.5,1239.7 470.7,1242.3 491,1243C511.3,1243.7 558.1,1243.5 580,1244C601.9,1244.5 634.9,1246.3 655,1247C675.1,1247.7 712.7,1247.3 731,1249C749.3,1250.7 781.2,1256.3 792,1260C802.8,1263.7 810.4,1272.1 812,1277C813.6,1281.9 809.5,1290.9 804,1297C798.5,1303.1 780.1,1316.2 771,1323C761.9,1329.8 743.3,1340.7 736,1348C728.7,1355.3 720.7,1369.2 716,1378C711.3,1386.8 707.8,1405.2 701,1414C694.2,1422.8 677.8,1436.7 665,1444C652.2,1451.3 621.1,1463.7 605,1469C588.9,1474.3 553.5,1476.7 544,1484C534.5,1491.3 536.7,1524 534,1524C531.3,1524 528,1488 524,1484C520,1480 513.5,1487.9 504,1494C494.5,1500.1 469.8,1520.5 453,1530C436.2,1539.5 398.1,1557.7 378,1565C357.9,1572.3 318.9,1579 302,1585C285.1,1591 263.1,1601.9 251,1610C238.9,1618.1 219,1639.9 211,1646C203,1652.1 194.7,1655.1 191,1656C187.3,1656.9 183.7,1659.8 183,1653Z" fill="none" stroke="#ab5a60" stroke-width="22" opacity="0.8"/>
<path d="M440,1262C442.7,1254.5 461,1250 470,1250C479,1250 494.8,1250 500,1262C505.2,1274 504.6,1306.3 505,1330C505.4,1353.7 503.8,1399 503,1420C502.2,1441 504.9,1459.5 500,1470C495.1,1480.5 478.2,1490 470,1490C461.8,1490 447.2,1480.5 445,1470C442.8,1459.5 454.6,1436.5 455,1420C455.4,1403.5 448.4,1378 448,1360C447.6,1342 453.2,1314.7 452,1300C450.8,1285.3 437.3,1269.5 440,1262Z" fill="#ad5b61"/>
<path d="M205,1300C209.2,1289.2 225.8,1273.7 240,1268C254.2,1262.3 286.5,1258.7 300,1262C313.5,1265.3 327,1279.8 330,1290C333,1300.2 327.5,1321.8 320,1330C312.5,1338.2 292,1342 280,1345C268,1348 250.2,1350.8 240,1350C229.8,1349.2 217.2,1347.5 212,1340C206.8,1332.5 200.8,1310.8 205,1300Z" fill="#ad5b61"/>
<path d="M560,1290C567.8,1278.8 588,1275 600,1275C612,1275 635.5,1281.8 640,1290C644.5,1298.2 636,1319.5 630,1330C624,1340.5 609,1352.5 600,1360C591,1367.5 577.8,1381.5 570,1380C562.2,1378.5 549.5,1363.5 548,1350C546.5,1336.5 552.2,1301.2 560,1290Z" fill="#ad5b61"/>
<path d="M640,1300C646,1291 682,1286.5 700,1285C718,1283.5 753.2,1284.8 760,1290C766.8,1295.2 754,1314 745,1320C736,1326 712.8,1326.2 700,1330C687.2,1333.8 669,1349.5 660,1345C651,1340.5 634,1309 640,1300Z" fill="#ad5b61"/>
<path d="M186,1560C189.8,1554 203.9,1596.2 215,1600C226.1,1603.8 247.2,1588 260,1585C272.8,1582 300,1576 300,1580C300,1584 272.8,1603 260,1612C247.2,1621 225.5,1635.8 215,1640C204.5,1644.2 194.3,1652 190,1640C185.7,1628 182.2,1566 186,1560Z" fill="#ad5b61"/>
<path d="M358.1,1281.1C358.8,1283.6 356.6,1288.4 352.9,1289.4C349.2,1290.3 339.1,1285.8 336,1286.7C332.9,1287.6 336,1293.4 334.2,1295C332.5,1296.5 327.8,1296.7 325.6,1295.8C323.4,1294.9 323.9,1290.7 321.1,1289.5C318.3,1288.3 311.4,1290.2 308.9,1288.8C306.4,1287.4 305.8,1283.5 306.1,1281.1C306.4,1278.6 308.7,1276 310.7,1274C312.6,1272.1 315.2,1270.4 317.8,1269.5C320.4,1268.5 323.7,1268.2 326.2,1268.5C328.8,1268.7 330.7,1270.3 333.2,1270.7C335.6,1271.1 338.3,1270.2 340.9,1270.8C343.5,1271.4 346.1,1272.5 348.9,1274.2C351.8,1275.9 357.5,1278.5 358.1,1281.1Z" fill="#ad5c61"/>
<path d="M456.1,1302.8C452.9,1305.7 446.6,1304.3 446.8,1308.1C447,1311.9 458.6,1323 457.1,1325.5C455.6,1328.1 443.3,1323.3 437.7,1323.2C432.2,1323.1 427.8,1325.9 423.8,1324.9C419.9,1324 416.7,1320 414.3,1317.5C411.9,1315 411.4,1312.5 409.6,1310C407.8,1307.6 404.8,1305.6 403.6,1302.8C402.4,1300 401.2,1296.1 402.5,1293.2C403.8,1290.4 407.9,1287.6 411.5,1285.7C415.1,1283.9 419.8,1282.9 424.3,1282C428.7,1281.1 435.2,1278.7 438.4,1280.4C441.6,1282.1 438.7,1290.4 443.3,1292.2C447.9,1293.9 464,1289.3 466.1,1291.1C468.3,1292.9 459.4,1300 456.1,1302.8Z" fill="#b0646a"/>
<path d="M236.5,1406.4C237.7,1410.3 242.4,1417 242.1,1420.7C241.7,1424.3 236.8,1425.9 234.3,1428.4C231.8,1430.9 229.8,1435.4 227.3,1435.8C224.8,1436.1 221.7,1432.6 219.4,1430.8C217.1,1429 215.1,1427.3 213.5,1424.9C211.9,1422.5 211.6,1419.2 210,1416.2C208.3,1413.1 204.7,1410.3 203.8,1406.4C202.9,1402.5 203.1,1395.9 204.6,1392.6C206.1,1389.4 210.4,1388.6 212.9,1386.8C215.4,1385 217.1,1382.8 219.4,1382C221.7,1381.1 223.8,1382 226.6,1381.6C229.5,1381.3 235.3,1377.1 236.7,1379.8C238.1,1382.4 235,1393.1 234.9,1397.5C234.9,1401.9 235.3,1402.6 236.5,1406.4Z" fill="#a85358"/>
<path d="M686.3,1331C686.5,1332.6 681.8,1335.2 679.2,1336.2C676.7,1337.2 672.6,1335.8 670.7,1336.9C668.8,1338.1 669.5,1342.7 667.9,1343.1C666.4,1343.4 664.6,1338.8 661.7,1338.8C658.8,1338.8 654.2,1343.2 650.7,1343.2C647.2,1343.3 641,1341.2 640.6,1339.2C640.3,1337.1 646.3,1332.9 648.6,1331C650.9,1329 653.6,1329.2 654.4,1327.5C655.1,1325.8 651.8,1321.8 652.9,1320.7C654,1319.6 658.6,1320.9 661,1320.9C663.4,1321 664.3,1321.5 667.3,1321C670.2,1320.4 677,1316.8 678.8,1317.6C680.5,1318.5 676.6,1323.9 677.9,1326.1C679.1,1328.4 686,1329.3 686.3,1331Z" fill="#a85358"/>
<path d="M558.5,1353.9C560.2,1356.3 556,1361 551.7,1362.5C547.4,1364 537.4,1362.9 532.7,1362.9C528,1362.9 526.1,1362.4 523.3,1362.4C520.6,1362.5 519.9,1362.3 516.1,1363.2C512.3,1364 505.4,1367.5 500.5,1367.5C495.7,1367.4 490,1365 486.9,1362.8C483.9,1360.5 478.9,1356 482.3,1353.9C485.7,1351.9 503.8,1352.4 507.5,1350.6C511.2,1348.8 503.5,1345.4 504.4,1343.1C505.3,1340.8 509.7,1336.6 512.9,1336.9C516.1,1337.2 519.6,1344.1 523.5,1345C527.5,1345.9 533.6,1341.7 536.6,1342.3C539.5,1342.8 537.6,1346.3 541.3,1348.2C544.9,1350.1 556.8,1351.6 558.5,1353.9Z" fill="#a85358"/>
<path d="M404.2,1501.1C407,1504.4 408.3,1511.1 407,1515.1C405.6,1519 400.4,1523.1 396.2,1524.6C392.1,1526 386.5,1522.7 382.1,1523.8C377.6,1524.8 372.8,1532 369.5,1531.1C366.2,1530.2 364.2,1522 362.2,1518.5C360.2,1514.9 361,1512.8 357.5,1509.9C354,1507 341.1,1504 341,1501.1C341,1498.1 354.1,1495.6 357.2,1492.1C360.2,1488.6 357.2,1483.6 359.3,1480.3C361.4,1476.9 365.6,1473.6 369.7,1471.9C373.8,1470.2 380.1,1468.5 384.1,1470C388,1471.5 392.6,1476.6 393.6,1480.8C394.5,1485 387.9,1491.7 389.7,1495.1C391.5,1498.4 401.3,1497.7 404.2,1501.1Z" fill="#ad5c61"/>
<path d="M751.7,1274.2C751.9,1277 750.6,1279.9 749.9,1283C749.2,1286.2 749.3,1291.8 747.6,1293.2C745.8,1294.6 741.6,1293.1 739.5,1291.5C737.5,1289.8 737.2,1283.5 735.2,1283.3C733.2,1283.1 729.3,1290.3 727.5,1290.2C725.8,1290 725.2,1285 724.5,1282.3C723.9,1279.7 723.9,1277 723.8,1274.2C723.6,1271.3 723.1,1268.4 723.6,1265.3C724,1262.3 724.7,1258 726.3,1256C727.9,1254 731.3,1252.2 733.3,1253.4C735.3,1254.7 736.8,1261.7 738.5,1263.2C740.1,1264.8 741.6,1262 743.4,1262.5C745.1,1262.9 747.5,1264 748.9,1265.9C750.3,1267.9 751.6,1271.3 751.7,1274.2Z" fill="#a85358"/>
<path d="M508.6,1312.4C507.7,1314.2 513.2,1315.5 513.4,1316.8C513.6,1318.2 511.2,1319.6 509.6,1320.5C508,1321.4 505.8,1321.6 503.6,1322.2C501.5,1322.9 499,1324.4 496.6,1324.5C494.1,1324.5 490.4,1323.9 489,1322.6C487.6,1321.2 488.5,1318.2 488.3,1316.5C488.1,1314.9 487.6,1313.8 487.6,1312.4C487.7,1311 487.9,1309.7 488.4,1308.3C489,1306.9 489.6,1305.4 490.9,1304C492.3,1302.5 494.4,1299.3 496.3,1299.6C498.3,1300 499.9,1305.7 502.5,1306C505.2,1306.4 509.7,1301.8 512.5,1301.8C515.2,1301.8 519.7,1304.3 519.1,1306.1C518.4,1307.9 509.6,1310.6 508.6,1312.4Z" fill="#b0646a"/>
<path d="M510.2,1411.6C511.4,1413.3 517.4,1417.4 516.9,1418.4C516.5,1419.5 509.6,1417.8 507.4,1418.1C505.2,1418.3 505.3,1419.3 504,1419.9C502.7,1420.4 500.8,1421.8 499.6,1421.4C498.5,1421 498.2,1418.4 497.2,1417.4C496.1,1416.4 494.6,1416.5 493.4,1415.6C492.1,1414.6 490.3,1413.2 489.6,1411.6C489,1410 488.3,1406.9 489.5,1405.9C490.7,1404.8 495,1405.8 496.8,1405.4C498.6,1405 498.9,1403.9 500.1,1403.5C501.3,1403.2 502.5,1403.3 504,1403.1C505.6,1402.9 508.6,1401.8 509.6,1402.6C510.5,1403.4 509.7,1406.5 509.8,1408C509.9,1409.6 509,1409.9 510.2,1411.6Z" fill="#b0646a"/>
<path d="M609.6,1418.8C610.5,1421.2 598.7,1424.2 594.6,1426.7C590.5,1429.3 589.2,1431.8 585,1433.9C580.8,1436 575.1,1439 569.3,1439.5C563.5,1440 556.1,1438 550.3,1436.9C544.5,1435.8 538.2,1435 534.7,1433.1C531.1,1431.2 532.9,1428 529,1425.6C525.2,1423.2 511.2,1420.9 511.6,1418.8C512.1,1416.6 528.3,1415.2 531.7,1412.6C535.1,1410 529.7,1406.4 532.1,1402.9C534.5,1399.5 540.2,1392.1 546.1,1392C551.9,1391.9 561.9,1399.7 567.2,1402.3C572.5,1405 574.3,1406.2 578,1407.8C581.7,1409.4 584,1410.2 589.3,1412C594.5,1413.9 608.7,1416.3 609.6,1418.8Z" fill="#b0646a"/>
<path d="M300.3,1365.9C300.1,1369.1 299,1372.8 297.5,1375.1C295.9,1377.3 293,1377.5 291.1,1379.4C289.3,1381.4 288.5,1385.5 286.5,1386.8C284.5,1388.2 281.1,1388.8 279.1,1387.6C277.1,1386.4 275.9,1381.9 274.5,1379.6C273.1,1377.2 271,1375.9 270.6,1373.6C270.2,1371.3 273.7,1369.3 272.3,1365.9C270.9,1362.4 262.4,1356.3 262.1,1352.8C261.8,1349.4 267.3,1345.4 270.3,1345.4C273.4,1345.4 278,1352.1 280.6,1352.7C283.1,1353.3 284.1,1348.8 285.9,1348.8C287.6,1348.8 288.8,1351.6 290.9,1352.8C293,1354 296.9,1353.9 298.5,1356.1C300.1,1358.2 300.5,1362.7 300.3,1365.9Z" fill="#b0646a"/>
<path d="M709.4,1255.9C708.7,1258.7 716.8,1259.8 718.9,1263.6C721,1267.3 724.8,1276.1 721.9,1278.2C719,1280.4 707.5,1276.7 701.5,1276.7C695.5,1276.6 690.1,1279.4 686.2,1278.1C682.2,1276.8 679.7,1271.7 677.7,1269.1C675.6,1266.4 675.2,1264.3 673.9,1262.1C672.5,1259.9 671.7,1258.6 669.5,1255.9C667.4,1253.2 661,1249 661,1245.7C661,1242.4 664.9,1237.2 669.5,1236.1C674,1235.1 682.9,1239.5 688.2,1239.5C693.5,1239.4 696.7,1236.1 701.2,1235.9C705.7,1235.8 711.8,1236.9 715.4,1238.8C719.1,1240.6 724,1244.1 723,1247C722,1249.8 710,1253.1 709.4,1255.9Z" fill="#a85358"/>
<path d="M227.3,1500.8C227.1,1503.6 224.4,1504.7 224.5,1509C224.6,1513.3 229,1522.6 227.6,1526.7C226.3,1530.7 220.2,1533.6 216.5,1533.3C212.8,1533 208,1528.2 205.6,1524.8C203.2,1521.5 203.3,1515.9 202,1513C200.8,1510.2 201.6,1509.8 198.1,1507.8C194.6,1505.7 181.9,1503.7 181,1500.8C180,1498 189.4,1493.5 192.3,1490.6C195.1,1487.6 196,1485.6 198.2,1482.9C200.4,1480.3 202.4,1475.9 205.2,1474.7C208,1473.4 211.9,1474.6 215.1,1475.4C218.3,1476.3 222.8,1476.8 224.5,1479.6C226.2,1482.4 225.1,1488.6 225.5,1492.1C226,1495.6 227.4,1498 227.3,1500.8Z" fill="#ad5c61"/>
<path d="M592.5,1353.8C593.5,1356 598.5,1359.5 598.4,1361.8C598.4,1364.1 594.7,1366.7 592.2,1367.4C589.7,1368.1 586,1366.1 583.5,1366.1C581,1366.2 578.8,1368.1 577.1,1367.4C575.4,1366.7 575.7,1363 573.4,1362C571.1,1361 564.3,1362.8 563.3,1361.5C562.3,1360.1 565.9,1355.7 567.4,1353.8C568.9,1351.9 572.2,1352.6 572.2,1350.1C572.3,1347.6 567.1,1341.5 567.7,1338.9C568.2,1336.3 573.1,1334.2 575.7,1334.6C578.4,1334.9 581.7,1339.2 583.6,1341.1C585.5,1343.1 585.6,1344.9 587.1,1346.1C588.6,1347.4 591.7,1347.1 592.6,1348.4C593.5,1349.7 591.5,1351.6 592.5,1353.8Z" fill="#b0646a"/>
<path d="M439.8,1551.5C438.5,1553.9 427.1,1555.7 423.5,1557.6C420,1559.5 420.2,1560 418.5,1562.9C416.8,1565.7 416.8,1571.9 413.1,1574.6C409.5,1577.4 401.4,1580 396.8,1579.2C392.1,1578.3 388.6,1572.5 385.4,1569.5C382.2,1566.5 377.1,1564.1 377.5,1561.1C378,1558.1 385.9,1553.9 388.1,1551.5C390.3,1549 391.7,1549.7 390.9,1546.4C390.1,1543.1 382.2,1535 383.4,1531.6C384.5,1528.3 392.6,1527.1 397.6,1526.4C402.6,1525.7 409.7,1525.3 413.5,1527.3C417.3,1529.2 417.5,1535.7 420.5,1538.3C423.4,1540.9 427.8,1540.6 431,1542.8C434.3,1545 441,1549 439.8,1551.5Z" fill="#b0646a"/>
<path d="M237.2,1333.9C235.1,1335.1 223.2,1332.7 222.2,1334.9C221.3,1337.1 231,1344 231.4,1347.2C231.8,1350.3 227.3,1353.7 224.8,1353.7C222.3,1353.7 218.9,1348.8 216.6,1347.2C214.3,1345.6 211.5,1345.9 211,1344.2C210.5,1342.4 213.9,1338.5 213.4,1336.8C212.8,1335 209.2,1335.5 207.7,1333.9C206.3,1332.3 204.6,1329.4 204.7,1327.1C204.8,1324.8 206.1,1321.3 208.1,1320.3C210.1,1319.2 214.2,1320.9 216.7,1321C219.2,1321.2 221.3,1320.5 223,1321.3C224.7,1322 225.1,1324.6 227.1,1325.6C229,1326.6 233,1325.9 234.7,1327.3C236.4,1328.7 239.2,1332.6 237.2,1333.9Z" fill="#a85358"/>
<path d="M364.8,1376.8C364.2,1379.1 358.3,1381.4 355.5,1383.3C352.6,1385.2 350.6,1386.9 347.6,1388.3C344.5,1389.6 341,1390.7 337,1391.5C333.1,1392.4 327.4,1394.2 324,1393.4C320.5,1392.7 319.5,1388.5 316.4,1386.8C313.3,1385.2 310.4,1385.2 305.3,1383.6C300.3,1381.9 285.8,1378.9 286.2,1376.8C286.6,1374.6 302.7,1372.3 307.8,1370.7C312.9,1369 313.8,1368.4 316.7,1367C319.5,1365.6 321.5,1363.1 324.9,1362.3C328.3,1361.5 332.7,1361.9 337,1362.1C341.3,1362.3 346.9,1362.1 350.6,1363.3C354.2,1364.5 356.7,1367.1 359.1,1369.3C361.5,1371.6 365.4,1374.5 364.8,1376.8Z" fill="#ad5c61"/>
<path d="M315.6,1430.5C316.1,1432.1 311.8,1434.4 309.6,1435.7C307.4,1437 304.7,1437.5 302.4,1438.2C300.2,1438.8 298.1,1440 296.2,1439.5C294.4,1439 294,1435.1 291.5,1435.2C288.9,1435.4 284.4,1440 281.1,1440.3C277.8,1440.7 273.1,1438.9 271.7,1437.2C270.2,1435.6 270.8,1432.3 272.3,1430.5C273.9,1428.8 278.9,1427.8 281.1,1426.8C283.4,1425.8 284.4,1425.6 285.8,1424.6C287.2,1423.5 287.7,1421.2 289.6,1420.5C291.4,1419.7 294.4,1419.9 296.7,1420.2C299.1,1420.4 302.2,1420.8 303.7,1421.9C305.3,1422.9 304.1,1425 306.1,1426.5C308,1427.9 315,1429 315.6,1430.5Z" fill="#b0646a"/>
<path d="M387.1,1318.1C386.7,1320.7 385.1,1322.6 384.3,1325.4C383.5,1328.2 384.3,1332.5 382.2,1335C380.2,1337.4 375.9,1339.5 372.3,1340.3C368.7,1341.1 362.6,1342.2 360.4,1339.8C358.2,1337.3 361.2,1328 359.2,1325.6C357.2,1323.2 351.1,1326.6 348.3,1325.4C345.5,1324.2 342.9,1320.8 342.4,1318.1C341.9,1315.5 344.3,1312.7 345.4,1309.7C346.5,1306.7 346.2,1301.4 348.9,1299.9C351.6,1298.4 357.8,1300.7 361.5,1300.7C365.3,1300.7 368.6,1298.9 371.2,1299.8C373.9,1300.7 375,1304.6 377.6,1306.2C380.2,1307.9 385.3,1307.8 386.9,1309.8C388.4,1311.8 387.5,1315.5 387.1,1318.1Z" fill="#a85358"/>
<path d="M413.6,1241.7C413.5,1245.7 427.6,1250.8 427,1253.6C426.3,1256.3 415,1257.4 409.8,1258.2C404.6,1259 400.6,1257 395.9,1258.5C391.2,1260 385.1,1267.9 381.5,1267.3C377.9,1266.8 377.5,1257.9 374.2,1255.1C370.9,1252.4 362.1,1253.1 361.7,1250.9C361.3,1248.7 371.5,1244.6 372,1241.7C372.4,1238.7 366.2,1237.5 364.3,1233.3C362.3,1229.1 357.3,1219.6 360.1,1216.3C362.8,1213 375,1210.8 380.6,1213.3C386.2,1215.9 390.2,1228.4 393.6,1231.6C397.1,1234.8 395.6,1232.7 401.2,1232.4C406.9,1232.1 425.4,1228.1 427.4,1229.6C429.5,1231.2 413.6,1237.7 413.6,1241.7Z" fill="#a85358"/>
<path d="M699.7,1390.1C701.8,1392.9 701.7,1397.9 700.7,1401.4C699.8,1405 697.3,1410.6 693.8,1411.3C690.2,1412 683.5,1405.1 679.6,1405.5C675.7,1405.9 673.2,1413.5 670.2,1413.7C667.2,1413.9 663.9,1409.4 661.7,1406.9C659.4,1404.5 658.3,1401.7 656.7,1398.8C655,1396 651.2,1392.6 652,1390.1C652.8,1387.5 660.7,1387.3 661.5,1383.6C662.4,1379.8 655.5,1370.4 657,1367.7C658.5,1365 666.3,1367.7 670.4,1367.4C674.5,1367.1 678.6,1364.7 681.7,1365.8C684.9,1367 688.1,1371.2 689.2,1374.3C690.2,1377.4 686.4,1381.9 688.1,1384.5C689.9,1387.1 697.6,1387.3 699.7,1390.1Z" fill="#ad5c61"/>
<path d="M622.7,1300.6C621.4,1302.4 619.6,1303.3 618.5,1304.6C617.4,1305.9 616.8,1306 615.9,1308.4C615.1,1310.7 615.2,1318.2 613.4,1318.7C611.6,1319.2 607.6,1313.1 605.3,1311.5C603,1310 602.1,1310.2 599.7,1309.5C597.3,1308.9 592.1,1309 590.9,1307.5C589.7,1306 591.5,1302.5 592.5,1300.6C593.6,1298.7 596,1297.7 597.2,1296.2C598.3,1294.6 598.1,1292.9 599.3,1291.2C600.5,1289.6 602.4,1286.1 604.4,1286.2C606.3,1286.2 608.2,1291.2 610.9,1291.5C613.6,1291.8 617.9,1287.8 620.5,1288.2C623,1288.5 625.7,1291.5 626,1293.6C626.4,1295.7 623.9,1298.8 622.7,1300.6Z" fill="#b0646a"/>
<circle cx="192" cy="1449.7" r="5" fill="#b0636a"/>
<circle cx="191" cy="1448.2" r="4" fill="#d8908f"/>
<circle cx="189.6" cy="1446.6" r="1.2" fill="#f2c4c2"/>
<circle cx="623.7" cy="1429" r="7" fill="#b0636a"/>
<circle cx="622.7" cy="1427.5" r="6" fill="#d8908f"/>
<circle cx="620.6" cy="1425.1" r="1.7" fill="#f2c4c2"/>
<circle cx="335.4" cy="1290.3" r="8" fill="#b0636a"/>
<circle cx="334.4" cy="1288.8" r="7" fill="#d8908f"/>
<circle cx="332" cy="1286" r="2" fill="#f2c4c2"/>
<circle cx="251" cy="1363.6" r="6" fill="#b0636a"/>
<circle cx="250" cy="1362.1" r="5" fill="#d8908f"/>
<circle cx="248.2" cy="1360.1" r="1.4" fill="#f2c4c2"/>
<circle cx="449.2" cy="1280.9" r="13" fill="#b0636a"/>
<circle cx="448.2" cy="1279.4" r="12" fill="#d8908f"/>
<circle cx="444" cy="1274.6" r="3.4" fill="#f2c4c2"/>
<circle cx="353.2" cy="1330.6" r="5" fill="#b0636a"/>
<circle cx="352.2" cy="1329.1" r="4" fill="#d8908f"/>
<circle cx="350.8" cy="1327.5" r="1.2" fill="#f2c4c2"/>
<circle cx="422.6" cy="1445.2" r="9" fill="#b0636a"/>
<circle cx="421.6" cy="1443.7" r="8" fill="#d8908f"/>
<circle cx="418.8" cy="1440.5" r="2.2" fill="#f2c4c2"/>
<circle cx="202.5" cy="1417.9" r="9" fill="#b0636a"/>
<circle cx="201.5" cy="1416.4" r="8" fill="#d8908f"/>
<circle cx="198.7" cy="1413.2" r="2.2" fill="#f2c4c2"/>
<circle cx="749.4" cy="1290.8" r="7" fill="#b0636a"/>
<circle cx="748.4" cy="1289.3" r="6" fill="#d8908f"/>
<circle cx="746.3" cy="1286.9" r="1.7" fill="#f2c4c2"/>
<circle cx="557.7" cy="1294.5" r="8" fill="#b0636a"/>
<circle cx="556.7" cy="1293" r="7" fill="#d8908f"/>
<circle cx="554.2" cy="1290.2" r="2" fill="#f2c4c2"/>
<circle cx="583.6" cy="1283.2" r="8" fill="#b0636a"/>
<circle cx="582.6" cy="1281.7" r="7" fill="#d8908f"/>
<circle cx="580.2" cy="1278.9" r="2" fill="#f2c4c2"/>
<circle cx="547.1" cy="1315.4" r="9" fill="#b0636a"/>
<circle cx="546.1" cy="1313.9" r="8" fill="#d8908f"/>
<circle cx="543.3" cy="1310.7" r="2.2" fill="#f2c4c2"/>
<circle cx="563.6" cy="1305.9" r="7" fill="#b0636a"/>
<circle cx="562.6" cy="1304.4" r="6" fill="#d8908f"/>
<circle cx="560.5" cy="1302" r="1.7" fill="#f2c4c2"/>
<circle cx="334.7" cy="1493.7" r="13" fill="#b0636a"/>
<circle cx="333.7" cy="1492.2" r="12" fill="#d8908f"/>
<circle cx="329.5" cy="1487.4" r="3.4" fill="#f2c4c2"/>
<circle cx="214.7" cy="1394" r="11" fill="#b0636a"/>
<circle cx="213.7" cy="1392.5" r="10" fill="#d8908f"/>
<circle cx="210.2" cy="1388.5" r="2.8" fill="#f2c4c2"/>
<circle cx="549.8" cy="1428.7" r="7" fill="#b0636a"/>
<circle cx="548.8" cy="1427.2" r="6" fill="#d8908f"/>
<circle cx="546.7" cy="1424.8" r="1.7" fill="#f2c4c2"/>
<circle cx="243" cy="1501.2" r="8" fill="#b0636a"/>
<circle cx="242" cy="1499.7" r="7" fill="#d8908f"/>
<circle cx="239.6" cy="1496.9" r="2" fill="#f2c4c2"/>
<circle cx="251.8" cy="1564.1" r="6" fill="#b0636a"/>
<circle cx="250.8" cy="1562.6" r="5" fill="#d8908f"/>
<circle cx="249.1" cy="1560.6" r="1.4" fill="#f2c4c2"/>
<circle cx="203.7" cy="1562.7" r="6" fill="#b0636a"/>
<circle cx="202.7" cy="1561.2" r="5" fill="#d8908f"/>
<circle cx="201" cy="1559.2" r="1.4" fill="#f2c4c2"/>
<circle cx="627.4" cy="1346.2" r="6" fill="#b0636a"/>
<circle cx="626.4" cy="1344.7" r="5" fill="#d8908f"/>
<circle cx="624.7" cy="1342.7" r="1.4" fill="#f2c4c2"/>
<circle cx="644.9" cy="1418.1" r="9" fill="#b0636a"/>
<circle cx="643.9" cy="1416.6" r="8" fill="#d8908f"/>
<circle cx="641.1" cy="1413.4" r="2.2" fill="#f2c4c2"/>
<circle cx="601.5" cy="1314.8" r="6" fill="#b0636a"/>
<circle cx="600.5" cy="1313.3" r="5" fill="#d8908f"/>
<circle cx="598.7" cy="1311.3" r="1.4" fill="#f2c4c2"/>
<circle cx="407.6" cy="1302.4" r="8" fill="#b0636a"/>
<circle cx="406.6" cy="1300.9" r="7" fill="#d8908f"/>
<circle cx="404.2" cy="1298.1" r="2" fill="#f2c4c2"/>
<circle cx="512.3" cy="1463.6" r="5" fill="#b0636a"/>
<circle cx="511.3" cy="1462.1" r="4" fill="#d8908f"/>
<circle cx="509.9" cy="1460.5" r="1.2" fill="#f2c4c2"/>
<circle cx="586.2" cy="1465.7" r="8" fill="#b0636a"/>
<circle cx="585.2" cy="1464.2" r="7" fill="#d8908f"/>
<circle cx="582.7" cy="1461.4" r="2" fill="#f2c4c2"/>
<circle cx="608" cy="1410.6" r="7" fill="#b0636a"/>
<circle cx="607" cy="1409.1" r="6" fill="#d8908f"/>
<circle cx="604.9" cy="1406.7" r="1.7" fill="#f2c4c2"/>
<circle cx="230.7" cy="1322.1" r="7" fill="#b0636a"/>
<circle cx="229.7" cy="1320.6" r="6" fill="#d8908f"/>
<circle cx="227.6" cy="1318.2" r="1.7" fill="#f2c4c2"/>
<circle cx="564.7" cy="1319" r="7" fill="#b0636a"/>
<circle cx="563.7" cy="1317.5" r="6" fill="#d8908f"/>
<circle cx="561.6" cy="1315.1" r="1.7" fill="#f2c4c2"/>
<circle cx="307" cy="1335.2" r="9" fill="#b0636a"/>
<circle cx="306" cy="1333.7" r="8" fill="#d8908f"/>
<circle cx="303.2" cy="1330.5" r="2.2" fill="#f2c4c2"/>
<circle cx="256.5" cy="1294.1" r="13" fill="#b0636a"/>
<circle cx="255.5" cy="1292.6" r="12" fill="#d8908f"/>
<circle cx="251.3" cy="1287.8" r="3.4" fill="#f2c4c2"/>
<circle cx="334.3" cy="1349.5" r="10" fill="#b0636a"/>
<circle cx="333.3" cy="1348" r="9" fill="#d8908f"/>
<circle cx="330.1" cy="1344.4" r="2.5" fill="#f2c4c2"/>
<circle cx="562.9" cy="1335" r="8" fill="#b0636a"/>
<circle cx="561.9" cy="1333.5" r="7" fill="#d8908f"/>
<circle cx="559.5" cy="1330.7" r="2" fill="#f2c4c2"/>
<circle cx="384.8" cy="1345.7" r="11" fill="#b0636a"/>
<circle cx="383.8" cy="1344.2" r="10" fill="#d8908f"/>
<circle cx="380.3" cy="1340.2" r="2.8" fill="#f2c4c2"/>
<circle cx="562.2" cy="1445.2" r="9" fill="#b0636a"/>
<circle cx="561.2" cy="1443.7" r="8" fill="#d8908f"/>
<circle cx="558.4" cy="1440.5" r="2.2" fill="#f2c4c2"/>
<circle cx="359.2" cy="1433" r="11" fill="#b0636a"/>
<circle cx="358.2" cy="1431.5" r="10" fill="#d8908f"/>
<circle cx="354.7" cy="1427.5" r="2.8" fill="#f2c4c2"/>
<circle cx="460.5" cy="1321" r="9" fill="#b0636a"/>
<circle cx="459.5" cy="1319.5" r="8" fill="#d8908f"/>
<circle cx="456.7" cy="1316.3" r="2.2" fill="#f2c4c2"/>
<circle cx="293.7" cy="1466.4" r="8" fill="#b0636a"/>
<circle cx="292.7" cy="1464.9" r="7" fill="#d8908f"/>
<circle cx="290.2" cy="1462.1" r="2" fill="#f2c4c2"/>
<circle cx="596" cy="1301.2" r="11" fill="#b0636a"/>
<circle cx="595" cy="1299.7" r="10" fill="#d8908f"/>
<circle cx="591.5" cy="1295.7" r="2.8" fill="#f2c4c2"/>
<circle cx="575.4" cy="1382.6" r="7" fill="#b0636a"/>
<circle cx="574.4" cy="1381.1" r="6" fill="#d8908f"/>
<circle cx="572.3" cy="1378.7" r="1.7" fill="#f2c4c2"/>
<circle cx="642.4" cy="1331.1" r="8" fill="#b0636a"/>
<circle cx="641.4" cy="1329.6" r="7" fill="#d8908f"/>
<circle cx="638.9" cy="1326.8" r="2" fill="#f2c4c2"/>
<circle cx="632.1" cy="1361" r="9" fill="#b0636a"/>
<circle cx="631.1" cy="1359.5" r="8" fill="#d8908f"/>
<circle cx="628.3" cy="1356.3" r="2.2" fill="#f2c4c2"/>
<circle cx="289.1" cy="1284.3" r="5" fill="#b0636a"/>
<circle cx="288.1" cy="1282.8" r="4" fill="#d8908f"/>
<circle cx="286.7" cy="1281.2" r="1.2" fill="#f2c4c2"/>
<circle cx="590.1" cy="1406" r="9" fill="#b0636a"/>
<circle cx="589.1" cy="1404.5" r="8" fill="#d8908f"/>
<circle cx="586.3" cy="1401.3" r="2.2" fill="#f2c4c2"/>
<circle cx="271.5" cy="1525.9" r="10" fill="#b0636a"/>
<circle cx="270.5" cy="1524.4" r="9" fill="#d8908f"/>
<circle cx="267.4" cy="1520.8" r="2.5" fill="#f2c4c2"/>
<circle cx="193.9" cy="1523.5" r="11" fill="#b0636a"/>
<circle cx="192.9" cy="1522" r="10" fill="#d8908f"/>
<circle cx="189.4" cy="1518" r="2.8" fill="#f2c4c2"/>
<circle cx="200.5" cy="1439.9" r="10" fill="#b0636a"/>
<circle cx="199.5" cy="1438.4" r="9" fill="#d8908f"/>
<circle cx="196.3" cy="1434.8" r="2.5" fill="#f2c4c2"/>
<circle cx="357" cy="1303.7" r="11" fill="#b0636a"/>
<circle cx="356" cy="1302.2" r="10" fill="#d8908f"/>
<circle cx="352.5" cy="1298.2" r="2.8" fill="#f2c4c2"/>
<circle cx="602.4" cy="1284.5" r="9" fill="#b0636a"/>
<circle cx="601.4" cy="1283" r="8" fill="#d8908f"/>
<circle cx="598.6" cy="1279.8" r="2.2" fill="#f2c4c2"/>
<circle cx="271.3" cy="1330.9" r="5" fill="#b0636a"/>
<circle cx="270.3" cy="1329.4" r="4" fill="#d8908f"/>
<circle cx="268.9" cy="1327.8" r="1.2" fill="#f2c4c2"/>
<circle cx="322.2" cy="1327.7" r="7" fill="#b0636a"/>
<circle cx="321.2" cy="1326.2" r="6" fill="#d8908f"/>
<circle cx="319.1" cy="1323.8" r="1.7" fill="#f2c4c2"/>
<circle cx="495.4" cy="1270" r="6" fill="#b0636a"/>
<circle cx="494.4" cy="1268.5" r="5" fill="#d8908f"/>
<circle cx="492.6" cy="1266.5" r="1.4" fill="#f2c4c2"/>
<circle cx="223" cy="1592.4" r="13" fill="#b0636a"/>
<circle cx="222" cy="1590.9" r="12" fill="#d8908f"/>
<circle cx="217.8" cy="1586.1" r="3.4" fill="#f2c4c2"/>
<circle cx="268.4" cy="1366.3" r="8" fill="#b0636a"/>
<circle cx="267.4" cy="1364.8" r="7" fill="#d8908f"/>
<circle cx="264.9" cy="1362" r="2" fill="#f2c4c2"/>
<circle cx="295.2" cy="1303.7" r="11" fill="#b0636a"/>
<circle cx="294.2" cy="1302.2" r="10" fill="#d8908f"/>
<circle cx="290.7" cy="1298.2" r="2.8" fill="#f2c4c2"/>
<circle cx="601.3" cy="1458" r="8" fill="#b0636a"/>
<circle cx="600.3" cy="1456.5" r="7" fill="#d8908f"/>
<circle cx="597.9" cy="1453.7" r="2" fill="#f2c4c2"/>
<circle cx="315.7" cy="1251.4" r="6" fill="#b0636a"/>
<circle cx="314.7" cy="1249.9" r="5" fill="#d8908f"/>
<circle cx="313" cy="1247.9" r="1.4" fill="#f2c4c2"/>
<circle cx="475.8" cy="1295.4" r="9" fill="#b0636a"/>
<circle cx="474.8" cy="1293.9" r="8" fill="#d8908f"/>
<circle cx="472" cy="1290.7" r="2.2" fill="#f2c4c2"/>
<circle cx="583.5" cy="1376.6" r="6" fill="#b0636a"/>
<circle cx="582.5" cy="1375.1" r="5" fill="#d8908f"/>
<circle cx="580.8" cy="1373.1" r="1.4" fill="#f2c4c2"/>
<circle cx="206.1" cy="1546.9" r="10" fill="#b0636a"/>
<circle cx="205.1" cy="1545.4" r="9" fill="#d8908f"/>
<circle cx="202" cy="1541.8" r="2.5" fill="#f2c4c2"/>
<circle cx="318" cy="1264.3" r="7" fill="#b0636a"/>
<circle cx="317" cy="1262.8" r="6" fill="#d8908f"/>
<circle cx="314.9" cy="1260.4" r="1.7" fill="#f2c4c2"/>
<circle cx="627.7" cy="1390.8" r="8" fill="#b0636a"/>
<circle cx="626.7" cy="1389.3" r="7" fill="#d8908f"/>
<circle cx="624.2" cy="1386.5" r="2" fill="#f2c4c2"/>
<circle cx="234.8" cy="1532.2" r="13" fill="#b0636a"/>
<circle cx="233.8" cy="1530.7" r="12" fill="#d8908f"/>
<circle cx="229.6" cy="1525.9" r="3.4" fill="#f2c4c2"/>
<circle cx="381.9" cy="1431.2" r="9" fill="#b0636a"/>
<circle cx="380.9" cy="1429.7" r="8" fill="#d8908f"/>
<circle cx="378.1" cy="1426.5" r="2.2" fill="#f2c4c2"/>
<circle cx="468" cy="1271.7" r="6" fill="#b0636a"/>
<circle cx="467" cy="1270.2" r="5" fill="#d8908f"/>
<circle cx="465.3" cy="1268.2" r="1.4" fill="#f2c4c2"/>
<circle cx="566.3" cy="1400" r="8" fill="#b0636a"/>
<circle cx="565.3" cy="1398.5" r="7" fill="#d8908f"/>
<circle cx="562.8" cy="1395.7" r="2" fill="#f2c4c2"/>
<circle cx="277.2" cy="1548.2" r="5" fill="#b0636a"/>
<circle cx="276.2" cy="1546.7" r="4" fill="#d8908f"/>
<circle cx="274.8" cy="1545.1" r="1.2" fill="#f2c4c2"/>
<circle cx="581.1" cy="1439.1" r="10" fill="#b0636a"/>
<circle cx="580.1" cy="1437.6" r="9" fill="#d8908f"/>
<circle cx="576.9" cy="1434" r="2.5" fill="#f2c4c2"/>
<circle cx="552" cy="1461.9" r="10" fill="#b0636a"/>
<circle cx="551" cy="1460.4" r="9" fill="#d8908f"/>
<circle cx="547.9" cy="1456.8" r="2.5" fill="#f2c4c2"/>
<circle cx="619" cy="1374.8" r="6" fill="#b0636a"/>
<circle cx="618" cy="1373.3" r="5" fill="#d8908f"/>
<circle cx="616.3" cy="1371.3" r="1.4" fill="#f2c4c2"/>
<circle cx="389.7" cy="1529.5" r="9" fill="#b0636a"/>
<circle cx="388.7" cy="1528" r="8" fill="#d8908f"/>
<circle cx="385.9" cy="1524.8" r="2.2" fill="#f2c4c2"/>
<circle cx="237.4" cy="1559.6" r="7" fill="#b0636a"/>
<circle cx="236.4" cy="1558.1" r="6" fill="#d8908f"/>
<circle cx="234.3" cy="1555.7" r="1.7" fill="#f2c4c2"/>
<circle cx="354.9" cy="1345" r="8" fill="#b0636a"/>
<circle cx="353.9" cy="1343.5" r="7" fill="#d8908f"/>
<circle cx="351.4" cy="1340.7" r="2" fill="#f2c4c2"/>
<circle cx="619.3" cy="1348.9" r="5" fill="#b0636a"/>
<circle cx="618.3" cy="1347.4" r="4" fill="#d8908f"/>
<circle cx="616.9" cy="1345.8" r="1.2" fill="#f2c4c2"/>
<circle cx="301.9" cy="1253.9" r="7" fill="#b0636a"/>
<circle cx="300.9" cy="1252.4" r="6" fill="#d8908f"/>
<circle cx="298.8" cy="1250" r="1.7" fill="#f2c4c2"/>
<circle cx="688.8" cy="1403" r="7" fill="#b0636a"/>
<circle cx="687.8" cy="1401.5" r="6" fill="#d8908f"/>
<circle cx="685.7" cy="1399.1" r="1.7" fill="#f2c4c2"/>
<circle cx="324.6" cy="1427.3" r="6" fill="#b0636a"/>
<circle cx="323.6" cy="1425.8" r="5" fill="#d8908f"/>
<circle cx="321.8" cy="1423.8" r="1.4" fill="#f2c4c2"/>
<circle cx="575.8" cy="1349.6" r="7" fill="#b0636a"/>
<circle cx="574.8" cy="1348.1" r="6" fill="#d8908f"/>
<circle cx="572.7" cy="1345.7" r="1.7" fill="#f2c4c2"/>
<circle cx="334.5" cy="1306.9" r="8" fill="#b0636a"/>
<circle cx="333.5" cy="1305.4" r="7" fill="#d8908f"/>
<circle cx="331.1" cy="1302.6" r="2" fill="#f2c4c2"/>
<circle cx="300.1" cy="1274.5" r="6" fill="#b0636a"/>
<circle cx="299.1" cy="1273" r="5" fill="#d8908f"/>
<circle cx="297.4" cy="1271" r="1.4" fill="#f2c4c2"/>
<circle cx="552.3" cy="1440" r="5" fill="#b0636a"/>
<circle cx="551.3" cy="1438.5" r="4" fill="#d8908f"/>
<circle cx="549.9" cy="1436.9" r="1.2" fill="#f2c4c2"/>
<circle cx="314.9" cy="1283.5" r="8" fill="#b0636a"/>
<circle cx="313.9" cy="1282" r="7" fill="#d8908f"/>
<circle cx="311.4" cy="1279.2" r="2" fill="#f2c4c2"/>
<circle cx="543" cy="1356.8" r="9" fill="#b0636a"/>
<circle cx="542" cy="1355.3" r="8" fill="#d8908f"/>
<circle cx="539.2" cy="1352.1" r="2.2" fill="#f2c4c2"/>
<circle cx="528.3" cy="1353.9" r="7" fill="#b0636a"/>
<circle cx="527.3" cy="1352.4" r="6" fill="#d8908f"/>
<circle cx="525.2" cy="1350" r="1.7" fill="#f2c4c2"/>
<circle cx="213.3" cy="1527.8" r="7" fill="#b0636a"/>
<circle cx="212.3" cy="1526.3" r="6" fill="#d8908f"/>
<circle cx="210.2" cy="1523.9" r="1.7" fill="#f2c4c2"/>
<circle cx="282.4" cy="1273.6" r="7" fill="#b0636a"/>
<circle cx="281.4" cy="1272.1" r="6" fill="#d8908f"/>
<circle cx="279.3" cy="1269.7" r="1.7" fill="#f2c4c2"/>
<circle cx="285.6" cy="1318.6" r="7" fill="#b0636a"/>
<circle cx="284.6" cy="1317.1" r="6" fill="#d8908f"/>
<circle cx="282.5" cy="1314.7" r="1.7" fill="#f2c4c2"/>
<circle cx="409.1" cy="1470.8" r="9" fill="#b0636a"/>
<circle cx="408.1" cy="1469.3" r="8" fill="#d8908f"/>
<circle cx="405.3" cy="1466.1" r="2.2" fill="#f2c4c2"/>
<circle cx="397.6" cy="1326.4" r="7" fill="#b0636a"/>
<circle cx="396.6" cy="1324.9" r="6" fill="#d8908f"/>
<circle cx="394.5" cy="1322.5" r="1.7" fill="#f2c4c2"/>
<circle cx="328.1" cy="1393" r="8" fill="#b0636a"/>
<circle cx="327.1" cy="1391.5" r="7" fill="#d8908f"/>
<circle cx="324.7" cy="1388.7" r="2" fill="#f2c4c2"/>
<circle cx="292.5" cy="1334.4" r="6" fill="#b0636a"/>
<circle cx="291.5" cy="1332.9" r="5" fill="#d8908f"/>
<circle cx="289.7" cy="1330.9" r="1.4" fill="#f2c4c2"/>
<circle cx="221.7" cy="1341.6" r="8" fill="#b0636a"/>
<circle cx="220.7" cy="1340.1" r="7" fill="#d8908f"/>
<circle cx="218.3" cy="1337.3" r="2" fill="#f2c4c2"/>
<circle cx="239" cy="1360.4" r="7" fill="#b0636a"/>
<circle cx="238" cy="1358.9" r="6" fill="#d8908f"/>
<circle cx="235.9" cy="1356.5" r="1.7" fill="#f2c4c2"/>
<circle cx="263.2" cy="1542.2" r="11" fill="#b0636a"/>
<circle cx="262.2" cy="1540.7" r="10" fill="#d8908f"/>
<circle cx="258.7" cy="1536.7" r="2.8" fill="#f2c4c2"/>
<circle cx="475.9" cy="1325.8" r="9" fill="#b0636a"/>
<circle cx="474.9" cy="1324.3" r="8" fill="#d8908f"/>
<circle cx="472.1" cy="1321.1" r="2.2" fill="#f2c4c2"/>
<circle cx="356.1" cy="1462" r="8" fill="#b0636a"/>
<circle cx="355.1" cy="1460.5" r="7" fill="#d8908f"/>
<circle cx="352.7" cy="1457.7" r="2" fill="#f2c4c2"/>
<circle cx="606.3" cy="1355.6" r="6" fill="#b0636a"/>
<circle cx="605.3" cy="1354.1" r="5" fill="#d8908f"/>
<circle cx="603.6" cy="1352.1" r="1.4" fill="#f2c4c2"/>
<circle cx="358.4" cy="1259.3" r="7" fill="#b0636a"/>
<circle cx="357.4" cy="1257.8" r="6" fill="#d8908f"/>
<circle cx="355.3" cy="1255.4" r="1.7" fill="#f2c4c2"/>
<circle cx="357.6" cy="1283" r="7" fill="#b0636a"/>
<circle cx="356.6" cy="1281.5" r="6" fill="#d8908f"/>
<circle cx="354.5" cy="1279.1" r="1.7" fill="#f2c4c2"/>
<circle cx="460.7" cy="1260.8" r="6" fill="#b0636a"/>
<circle cx="459.7" cy="1259.3" r="5" fill="#d8908f"/>
<circle cx="457.9" cy="1257.3" r="1.4" fill="#f2c4c2"/>
<circle cx="494.2" cy="1312.5" r="11" fill="#b0636a"/>
<circle cx="493.2" cy="1311" r="10" fill="#d8908f"/>
<circle cx="489.7" cy="1307" r="2.8" fill="#f2c4c2"/>
<circle cx="308.6" cy="1450.5" r="8" fill="#b0636a"/>
<circle cx="307.6" cy="1449" r="7" fill="#d8908f"/>
<circle cx="305.2" cy="1446.2" r="2" fill="#f2c4c2"/>
<circle cx="563" cy="1368.9" r="9" fill="#b0636a"/>
<circle cx="562" cy="1367.4" r="8" fill="#d8908f"/>
<circle cx="559.2" cy="1364.2" r="2.2" fill="#f2c4c2"/>
<circle cx="386.8" cy="1476.5" r="9" fill="#b0636a"/>
<circle cx="385.8" cy="1475" r="8" fill="#d8908f"/>
<circle cx="383" cy="1471.8" r="2.2" fill="#f2c4c2"/>
<circle cx="207.2" cy="1342.4" r="8" fill="#b0636a"/>
<circle cx="206.2" cy="1340.9" r="7" fill="#d8908f"/>
<circle cx="203.7" cy="1338.1" r="2" fill="#f2c4c2"/>
<circle cx="541.9" cy="1394.8" r="7" fill="#b0636a"/>
<circle cx="540.9" cy="1393.3" r="6" fill="#d8908f"/>
<circle cx="538.8" cy="1390.9" r="1.7" fill="#f2c4c2"/>
<circle cx="305" cy="1363.2" r="7" fill="#b0636a"/>
<circle cx="304" cy="1361.7" r="6" fill="#d8908f"/>
<circle cx="301.9" cy="1359.3" r="1.7" fill="#f2c4c2"/>
<circle cx="463.7" cy="1477.2" r="7" fill="#b0636a"/>
<circle cx="462.7" cy="1475.7" r="6" fill="#d8908f"/>
<circle cx="460.6" cy="1473.3" r="1.7" fill="#f2c4c2"/>
<circle cx="214.1" cy="1311.3" r="6" fill="#b0636a"/>
<circle cx="213.1" cy="1309.8" r="5" fill="#d8908f"/>
<circle cx="211.3" cy="1307.8" r="1.4" fill="#f2c4c2"/>
<circle cx="336.4" cy="1475.7" r="7" fill="#b0636a"/>
<circle cx="335.4" cy="1474.2" r="6" fill="#d8908f"/>
<circle cx="333.3" cy="1471.8" r="1.7" fill="#f2c4c2"/>
<circle cx="268.6" cy="1466.6" r="13" fill="#b0636a"/>
<circle cx="267.6" cy="1465.1" r="12" fill="#d8908f"/>
<circle cx="263.4" cy="1460.3" r="3.4" fill="#f2c4c2"/>
<circle cx="342.9" cy="1265.9" r="7" fill="#b0636a"/>
<circle cx="341.9" cy="1264.4" r="6" fill="#d8908f"/>
<circle cx="339.8" cy="1262" r="1.7" fill="#f2c4c2"/>
<circle cx="346.3" cy="1479.3" r="5" fill="#b0636a"/>
<circle cx="345.3" cy="1477.8" r="4" fill="#d8908f"/>
<circle cx="343.9" cy="1476.2" r="1.2" fill="#f2c4c2"/>
<circle cx="266.6" cy="1267.7" r="8" fill="#b0636a"/>
<circle cx="265.6" cy="1266.2" r="7" fill="#d8908f"/>
<circle cx="263.2" cy="1263.4" r="2" fill="#f2c4c2"/>
<circle cx="603.3" cy="1426.9" r="9" fill="#b0636a"/>
<circle cx="602.3" cy="1425.4" r="8" fill="#d8908f"/>
<circle cx="599.5" cy="1422.2" r="2.2" fill="#f2c4c2"/>
<circle cx="617.8" cy="1332.4" r="7" fill="#b0636a"/>
<circle cx="616.8" cy="1330.9" r="6" fill="#d8908f"/>
<circle cx="614.7" cy="1328.5" r="1.7" fill="#f2c4c2"/>
<circle cx="341.4" cy="1317.3" r="7" fill="#b0636a"/>
<circle cx="340.4" cy="1315.8" r="6" fill="#d8908f"/>
<circle cx="338.3" cy="1313.4" r="1.7" fill="#f2c4c2"/>
<circle cx="210" cy="1469.2" r="7" fill="#b0636a"/>
<circle cx="209" cy="1467.7" r="6" fill="#d8908f"/>
<circle cx="206.9" cy="1465.3" r="1.7" fill="#f2c4c2"/>
<circle cx="240.4" cy="1335" r="6" fill="#b0636a"/>
<circle cx="239.4" cy="1333.5" r="5" fill="#d8908f"/>
<circle cx="237.7" cy="1331.5" r="1.4" fill="#f2c4c2"/>
<circle cx="407.9" cy="1440.2" r="7" fill="#b0636a"/>
<circle cx="406.9" cy="1438.7" r="6" fill="#d8908f"/>
<circle cx="404.8" cy="1436.3" r="1.7" fill="#f2c4c2"/>
<circle cx="373.3" cy="1328" r="7" fill="#b0636a"/>
<circle cx="372.3" cy="1326.5" r="6" fill="#d8908f"/>
<circle cx="370.2" cy="1324.1" r="1.7" fill="#f2c4c2"/>
<circle cx="377.9" cy="1273.5" r="8" fill="#b0636a"/>
<circle cx="376.9" cy="1272" r="7" fill="#d8908f"/>
<circle cx="374.5" cy="1269.2" r="2" fill="#f2c4c2"/>
<circle cx="259" cy="1396.3" r="5" fill="#b0636a"/>
<circle cx="258" cy="1394.8" r="4" fill="#d8908f"/>
<circle cx="256.6" cy="1393.2" r="1.2" fill="#f2c4c2"/>
<circle cx="621.5" cy="1443.8" r="6" fill="#b0636a"/>
<circle cx="620.5" cy="1442.3" r="5" fill="#d8908f"/>
<circle cx="618.8" cy="1440.3" r="1.4" fill="#f2c4c2"/>
<circle cx="286.4" cy="1378.2" r="7" fill="#b0636a"/>
<circle cx="285.4" cy="1376.7" r="6" fill="#d8908f"/>
<circle cx="283.3" cy="1374.3" r="1.7" fill="#f2c4c2"/>
<circle cx="478.2" cy="1253.9" r="7" fill="#b0636a"/>
<circle cx="477.2" cy="1252.4" r="6" fill="#d8908f"/>
<circle cx="475.1" cy="1250" r="1.7" fill="#f2c4c2"/>
<circle cx="265.8" cy="1558.9" r="8" fill="#b0636a"/>
<circle cx="264.8" cy="1557.4" r="7" fill="#d8908f"/>
<circle cx="262.3" cy="1554.6" r="2" fill="#f2c4c2"/>
<circle cx="596.5" cy="1269" r="6" fill="#b0636a"/>
<circle cx="595.5" cy="1267.5" r="5" fill="#d8908f"/>
<circle cx="593.7" cy="1265.5" r="1.4" fill="#f2c4c2"/>
<circle cx="291.2" cy="1426.9" r="5" fill="#b0636a"/>
<circle cx="290.2" cy="1425.4" r="4" fill="#d8908f"/>
<circle cx="288.8" cy="1423.8" r="1.2" fill="#f2c4c2"/>
<circle cx="579.4" cy="1265.1" r="7" fill="#b0636a"/>
<circle cx="578.4" cy="1263.6" r="6" fill="#d8908f"/>
<circle cx="576.3" cy="1261.2" r="1.7" fill="#f2c4c2"/>
<circle cx="266.1" cy="1577.9" r="6" fill="#b0636a"/>
<circle cx="265.1" cy="1576.4" r="5" fill="#d8908f"/>
<circle cx="263.3" cy="1574.4" r="1.4" fill="#f2c4c2"/>
<circle cx="206.7" cy="1583.5" r="8" fill="#b0636a"/>
<circle cx="205.7" cy="1582" r="7" fill="#d8908f"/>
<circle cx="203.3" cy="1579.2" r="2" fill="#f2c4c2"/>
<circle cx="629.6" cy="1331.3" r="7" fill="#b0636a"/>
<circle cx="628.6" cy="1329.8" r="6" fill="#d8908f"/>
<circle cx="626.5" cy="1327.4" r="1.7" fill="#f2c4c2"/>
<circle cx="261.4" cy="1501.1" r="10" fill="#b0636a"/>
<circle cx="260.4" cy="1499.6" r="9" fill="#d8908f"/>
<circle cx="257.2" cy="1496" r="2.5" fill="#f2c4c2"/>
<circle cx="223.8" cy="1566.7" r="6" fill="#b0636a"/>
<circle cx="222.8" cy="1565.2" r="5" fill="#d8908f"/>
<circle cx="221.1" cy="1563.2" r="1.4" fill="#f2c4c2"/>
<circle cx="413.9" cy="1316.9" r="9" fill="#b0636a"/>
<circle cx="412.9" cy="1315.4" r="8" fill="#d8908f"/>
<circle cx="410.1" cy="1312.2" r="2.2" fill="#f2c4c2"/>
<circle cx="578.3" cy="1329.2" r="6" fill="#b0636a"/>
<circle cx="577.3" cy="1327.7" r="5" fill="#d8908f"/>
<circle cx="575.5" cy="1325.7" r="1.4" fill="#f2c4c2"/>
<circle cx="369.7" cy="1259.1" r="5" fill="#b0636a"/>
<circle cx="368.7" cy="1257.6" r="4" fill="#d8908f"/>
<circle cx="367.3" cy="1256" r="1.2" fill="#f2c4c2"/>
<circle cx="646.1" cy="1367.4" r="8" fill="#b0636a"/>
<circle cx="645.1" cy="1365.9" r="7" fill="#d8908f"/>
<circle cx="642.6" cy="1363.1" r="2" fill="#f2c4c2"/>
<circle cx="266" cy="1344.8" r="11" fill="#b0636a"/>
<circle cx="265" cy="1343.3" r="10" fill="#d8908f"/>
<circle cx="261.5" cy="1339.3" r="2.8" fill="#f2c4c2"/>
<circle cx="227.3" cy="1500" r="5" fill="#b0636a"/>
<circle cx="226.3" cy="1498.5" r="4" fill="#d8908f"/>
<circle cx="224.9" cy="1496.9" r="1.2" fill="#f2c4c2"/>
<circle cx="376.2" cy="1311.4" r="7" fill="#b0636a"/>
<circle cx="375.2" cy="1309.9" r="6" fill="#d8908f"/>
<circle cx="373.1" cy="1307.5" r="1.7" fill="#f2c4c2"/>
<circle cx="288.6" cy="1364.7" r="8" fill="#b0636a"/>
<circle cx="287.6" cy="1363.2" r="7" fill="#d8908f"/>
<circle cx="285.2" cy="1360.4" r="2" fill="#f2c4c2"/>
<circle cx="552.6" cy="1405.1" r="7" fill="#b0636a"/>
<circle cx="551.6" cy="1403.6" r="6" fill="#d8908f"/>
<circle cx="549.5" cy="1401.2" r="1.7" fill="#f2c4c2"/>
<circle cx="702.9" cy="1338.6" r="5" fill="#b0636a"/>
<circle cx="701.9" cy="1337.1" r="4" fill="#d8908f"/>
<circle cx="700.5" cy="1335.5" r="1.2" fill="#f2c4c2"/>
<circle cx="366.8" cy="1358.4" r="9" fill="#b0636a"/>
<circle cx="365.8" cy="1356.9" r="8" fill="#d8908f"/>
<circle cx="363" cy="1353.7" r="2.2" fill="#f2c4c2"/>
<circle cx="375" cy="1456.4" r="7" fill="#b0636a"/>
<circle cx="374" cy="1454.9" r="6" fill="#d8908f"/>
<circle cx="371.9" cy="1452.5" r="1.7" fill="#f2c4c2"/>
<circle cx="314.5" cy="1477" r="6" fill="#b0636a"/>
<circle cx="313.5" cy="1475.5" r="5" fill="#d8908f"/>
<circle cx="311.8" cy="1473.5" r="1.4" fill="#f2c4c2"/>
<circle cx="214.8" cy="1516.8" r="6" fill="#b0636a"/>
<circle cx="213.8" cy="1515.3" r="5" fill="#d8908f"/>
<circle cx="212" cy="1513.3" r="1.4" fill="#f2c4c2"/>
<circle cx="281.9" cy="1502.3" r="9" fill="#b0636a"/>
<circle cx="280.9" cy="1500.8" r="8" fill="#d8908f"/>
<circle cx="278.1" cy="1497.6" r="2.2" fill="#f2c4c2"/>
<circle cx="306.6" cy="1484.9" r="7" fill="#b0636a"/>
<circle cx="305.6" cy="1483.4" r="6" fill="#d8908f"/>
<circle cx="303.5" cy="1481" r="1.7" fill="#f2c4c2"/>
<circle cx="625.5" cy="1316.8" r="7" fill="#b0636a"/>
<circle cx="624.5" cy="1315.3" r="6" fill="#d8908f"/>
<circle cx="622.4" cy="1312.9" r="1.7" fill="#f2c4c2"/>
<circle cx="306.2" cy="1468.2" r="7" fill="#b0636a"/>
<circle cx="305.2" cy="1466.7" r="6" fill="#d8908f"/>
<circle cx="303.1" cy="1464.3" r="1.7" fill="#f2c4c2"/>
<circle cx="255.8" cy="1315.5" r="10" fill="#b0636a"/>
<circle cx="254.8" cy="1314" r="9" fill="#d8908f"/>
<circle cx="251.6" cy="1310.4" r="2.5" fill="#f2c4c2"/>
<circle cx="356.7" cy="1416.8" r="7" fill="#b0636a"/>
<circle cx="355.7" cy="1415.3" r="6" fill="#d8908f"/>
<circle cx="353.6" cy="1412.9" r="1.7" fill="#f2c4c2"/>
<circle cx="787.7" cy="1285.4" r="6" fill="#b0636a"/>
<circle cx="786.7" cy="1283.9" r="5" fill="#d8908f"/>
<circle cx="784.9" cy="1281.9" r="1.4" fill="#f2c4c2"/>
<circle cx="367.7" cy="1486.9" r="9" fill="#b0636a"/>
<circle cx="366.7" cy="1485.4" r="8" fill="#d8908f"/>
<circle cx="363.9" cy="1482.2" r="2.2" fill="#f2c4c2"/>
<circle cx="381" cy="1493.5" r="5" fill="#b0636a"/>
<circle cx="380" cy="1492" r="4" fill="#d8908f"/>
<circle cx="378.6" cy="1490.4" r="1.2" fill="#f2c4c2"/>
<circle cx="198" cy="1368.2" r="7" fill="#b0636a"/>
<circle cx="197" cy="1366.7" r="6" fill="#d8908f"/>
<circle cx="194.9" cy="1364.3" r="1.7" fill="#f2c4c2"/>
<circle cx="388.7" cy="1315.9" r="6" fill="#b0636a"/>
<circle cx="387.7" cy="1314.4" r="5" fill="#d8908f"/>
<circle cx="385.9" cy="1312.4" r="1.4" fill="#f2c4c2"/>
<circle cx="671.4" cy="1259.5" r="6" fill="#b0636a"/>
<circle cx="670.4" cy="1258" r="5" fill="#d8908f"/>
<circle cx="668.7" cy="1256" r="1.4" fill="#f2c4c2"/>
<circle cx="321" cy="1369.5" r="6" fill="#b0636a"/>
<circle cx="320" cy="1368" r="5" fill="#d8908f"/>
<circle cx="318.2" cy="1366" r="1.4" fill="#f2c4c2"/>
<circle cx="553.8" cy="1387.9" r="7" fill="#b0636a"/>
<circle cx="552.8" cy="1386.4" r="6" fill="#d8908f"/>
<circle cx="550.7" cy="1384" r="1.7" fill="#f2c4c2"/>
<circle cx="333" cy="1461" r="10" fill="#b0636a"/>
<circle cx="332" cy="1459.5" r="9" fill="#d8908f"/>
<circle cx="328.8" cy="1455.9" r="2.5" fill="#f2c4c2"/>
<circle cx="596.4" cy="1383.4" r="9" fill="#b0636a"/>
<circle cx="595.4" cy="1381.9" r="8" fill="#d8908f"/>
<circle cx="592.6" cy="1378.7" r="2.2" fill="#f2c4c2"/>
<circle cx="632.5" cy="1253.7" r="7" fill="#b0636a"/>
<circle cx="631.5" cy="1252.2" r="6" fill="#d8908f"/>
<circle cx="629.4" cy="1249.8" r="1.7" fill="#f2c4c2"/>
<circle cx="383.2" cy="1295.7" r="9" fill="#b0636a"/>
<circle cx="382.2" cy="1294.2" r="8" fill="#d8908f"/>
<circle cx="379.4" cy="1291" r="2.2" fill="#f2c4c2"/>
<circle cx="575.2" cy="1409.5" r="8" fill="#b0636a"/>
<circle cx="574.2" cy="1408" r="7" fill="#d8908f"/>
<circle cx="571.7" cy="1405.2" r="2" fill="#f2c4c2"/>
<circle cx="618.1" cy="1300.6" r="8" fill="#b0636a"/>
<circle cx="617.1" cy="1299.1" r="7" fill="#d8908f"/>
<circle cx="614.6" cy="1296.3" r="2" fill="#f2c4c2"/>
<circle cx="282.5" cy="1450.9" r="6" fill="#b0636a"/>
<circle cx="281.5" cy="1449.4" r="5" fill="#d8908f"/>
<circle cx="279.8" cy="1447.4" r="1.4" fill="#f2c4c2"/>
<circle cx="436.9" cy="1451.9" r="9" fill="#b0636a"/>
<circle cx="435.9" cy="1450.4" r="8" fill="#d8908f"/>
<circle cx="433.1" cy="1447.2" r="2.2" fill="#f2c4c2"/>
<circle cx="415.1" cy="1485.8" r="8" fill="#b0636a"/>
<circle cx="414.1" cy="1484.3" r="7" fill="#d8908f"/>
<circle cx="411.7" cy="1481.5" r="2" fill="#f2c4c2"/>
<circle cx="437.4" cy="1521.8" r="9" fill="#b0636a"/>
<circle cx="436.4" cy="1520.3" r="8" fill="#d8908f"/>
<circle cx="433.6" cy="1517.1" r="2.2" fill="#f2c4c2"/>
<circle cx="339.3" cy="1425" r="8" fill="#b0636a"/>
<circle cx="338.3" cy="1423.5" r="7" fill="#d8908f"/>
<circle cx="335.9" cy="1420.7" r="2" fill="#f2c4c2"/>
<circle cx="413.3" cy="1530.4" r="7" fill="#b0636a"/>
<circle cx="412.3" cy="1528.9" r="6" fill="#d8908f"/>
<circle cx="410.2" cy="1526.5" r="1.7" fill="#f2c4c2"/>
<circle cx="458.3" cy="1406.7" r="8" fill="#b0636a"/>
<circle cx="457.3" cy="1405.2" r="7" fill="#d8908f"/>
<circle cx="454.8" cy="1402.4" r="2" fill="#f2c4c2"/>
<circle cx="469.3" cy="1415.6" r="9" fill="#b0636a"/>
<circle cx="468.3" cy="1414.1" r="8" fill="#d8908f"/>
<circle cx="465.5" cy="1410.9" r="2.2" fill="#f2c4c2"/>
<circle cx="604.4" cy="1339.8" r="6" fill="#b0636a"/>
<circle cx="603.4" cy="1338.3" r="5" fill="#d8908f"/>
<circle cx="601.6" cy="1336.3" r="1.4" fill="#f2c4c2"/>
<circle cx="214.6" cy="1501.8" r="6" fill="#b0636a"/>
<circle cx="213.6" cy="1500.3" r="5" fill="#d8908f"/>
<circle cx="211.8" cy="1498.3" r="1.4" fill="#f2c4c2"/>
<circle cx="319.7" cy="1419.7" r="6" fill="#b0636a"/>
<circle cx="318.7" cy="1418.2" r="5" fill="#d8908f"/>
<circle cx="316.9" cy="1416.2" r="1.4" fill="#f2c4c2"/>
<circle cx="283.3" cy="1560" r="7" fill="#b0636a"/>
<circle cx="282.3" cy="1558.5" r="6" fill="#d8908f"/>
<circle cx="280.2" cy="1556.1" r="1.7" fill="#f2c4c2"/>
<circle cx="585.8" cy="1341.1" r="6" fill="#b0636a"/>
<circle cx="584.8" cy="1339.6" r="5" fill="#d8908f"/>
<circle cx="583.1" cy="1337.6" r="1.4" fill="#f2c4c2"/>
<circle cx="315.7" cy="1304.6" r="6" fill="#b0636a"/>
<circle cx="314.7" cy="1303.1" r="5" fill="#d8908f"/>
<circle cx="313" cy="1301.1" r="1.4" fill="#f2c4c2"/>
<circle cx="321.3" cy="1351.9" r="6" fill="#b0636a"/>
<circle cx="320.3" cy="1350.4" r="5" fill="#d8908f"/>
<circle cx="318.5" cy="1348.4" r="1.4" fill="#f2c4c2"/>
<circle cx="596.5" cy="1359.1" r="6" fill="#b0636a"/>
<circle cx="595.5" cy="1357.6" r="5" fill="#d8908f"/>
<circle cx="593.8" cy="1355.6" r="1.4" fill="#f2c4c2"/>
<circle cx="349.1" cy="1356.5" r="6" fill="#b0636a"/>
<circle cx="348.1" cy="1355" r="5" fill="#d8908f"/>
<circle cx="346.4" cy="1353" r="1.4" fill="#f2c4c2"/>
<circle cx="241.1" cy="1488.1" r="5" fill="#b0636a"/>
<circle cx="240.1" cy="1486.6" r="4" fill="#d8908f"/>
<circle cx="238.7" cy="1485" r="1.2" fill="#f2c4c2"/>
<circle cx="493.3" cy="1283.1" r="8" fill="#b0636a"/>
<circle cx="492.3" cy="1281.6" r="7" fill="#d8908f"/>
<circle cx="489.9" cy="1278.8" r="2" fill="#f2c4c2"/>
<circle cx="360.1" cy="1552.7" r="13" fill="#b0636a"/>
<circle cx="359.1" cy="1551.2" r="12" fill="#d8908f"/>
<circle cx="354.9" cy="1546.4" r="3.4" fill="#f2c4c2"/>
<circle cx="550.6" cy="1333.4" r="6" fill="#b0636a"/>
<circle cx="549.6" cy="1331.9" r="5" fill="#d8908f"/>
<circle cx="547.9" cy="1329.9" r="1.4" fill="#f2c4c2"/>
<circle cx="191.7" cy="1563" r="6" fill="#b0636a"/>
<circle cx="190.7" cy="1561.5" r="5" fill="#d8908f"/>
<circle cx="189" cy="1559.5" r="1.4" fill="#f2c4c2"/>
<circle cx="274" cy="1437.2" r="8" fill="#b0636a"/>
<circle cx="273" cy="1435.7" r="7" fill="#d8908f"/>
<circle cx="270.6" cy="1432.9" r="2" fill="#f2c4c2"/>
<circle cx="629.9" cy="1401.8" r="5" fill="#b0636a"/>
<circle cx="628.9" cy="1400.3" r="4" fill="#d8908f"/>
<circle cx="627.5" cy="1398.7" r="1.2" fill="#f2c4c2"/>
<circle cx="442.4" cy="1300.9" r="8" fill="#b0636a"/>
<circle cx="441.4" cy="1299.4" r="7" fill="#d8908f"/>
<circle cx="438.9" cy="1296.6" r="2" fill="#f2c4c2"/>
<circle cx="235.1" cy="1301" r="7" fill="#b0636a"/>
<circle cx="234.1" cy="1299.5" r="6" fill="#d8908f"/>
<circle cx="232" cy="1297.1" r="1.7" fill="#f2c4c2"/>
<circle cx="534.3" cy="1446.2" r="6" fill="#b0636a"/>
<circle cx="533.3" cy="1444.7" r="5" fill="#d8908f"/>
<circle cx="531.5" cy="1442.7" r="1.4" fill="#f2c4c2"/>
<circle cx="673.3" cy="1335.7" r="8" fill="#b0636a"/>
<circle cx="672.3" cy="1334.2" r="7" fill="#d8908f"/>
<circle cx="669.9" cy="1331.4" r="2" fill="#f2c4c2"/>
<circle cx="397.5" cy="1315.1" r="5" fill="#b0636a"/>
<circle cx="396.5" cy="1313.6" r="4" fill="#d8908f"/>
<circle cx="395.1" cy="1312" r="1.2" fill="#f2c4c2"/>
<circle cx="397.4" cy="1428.2" r="6" fill="#b0636a"/>
<circle cx="396.4" cy="1426.7" r="5" fill="#d8908f"/>
<circle cx="394.6" cy="1424.7" r="1.4" fill="#f2c4c2"/>
<circle cx="331.8" cy="1262.8" r="6" fill="#b0636a"/>
<circle cx="330.8" cy="1261.3" r="5" fill="#d8908f"/>
<circle cx="329" cy="1259.3" r="1.4" fill="#f2c4c2"/>
<circle cx="205.5" cy="1509.5" r="8" fill="#b0636a"/>
<circle cx="204.5" cy="1508" r="7" fill="#d8908f"/>
<circle cx="202.1" cy="1505.2" r="2" fill="#f2c4c2"/>
<circle cx="285.6" cy="1432.8" r="5" fill="#b0636a"/>
<circle cx="284.6" cy="1431.3" r="4" fill="#d8908f"/>
<circle cx="283.2" cy="1429.7" r="1.2" fill="#f2c4c2"/>
<circle cx="277.8" cy="1287.2" r="8" fill="#b0636a"/>
<circle cx="276.8" cy="1285.7" r="7" fill="#d8908f"/>
<circle cx="274.3" cy="1282.9" r="2" fill="#f2c4c2"/>
<circle cx="357.6" cy="1318.6" r="6" fill="#b0636a"/>
<circle cx="356.6" cy="1317.1" r="5" fill="#d8908f"/>
<circle cx="354.9" cy="1315.1" r="1.4" fill="#f2c4c2"/>
<circle cx="403.7" cy="1275.9" r="11" fill="#b0636a"/>
<circle cx="402.7" cy="1274.4" r="10" fill="#d8908f"/>
<circle cx="399.2" cy="1270.4" r="2.8" fill="#f2c4c2"/>
<circle cx="345.4" cy="1278.5" r="7" fill="#b0636a"/>
<circle cx="344.4" cy="1277" r="6" fill="#d8908f"/>
<circle cx="342.3" cy="1274.6" r="1.7" fill="#f2c4c2"/>
<circle cx="392.6" cy="1404.3" r="7" fill="#b0636a"/>
<circle cx="391.6" cy="1402.8" r="6" fill="#d8908f"/>
<circle cx="389.5" cy="1400.4" r="1.7" fill="#f2c4c2"/>
<circle cx="528.3" cy="1382.5" r="8" fill="#b0636a"/>
<circle cx="527.3" cy="1381" r="7" fill="#d8908f"/>
<circle cx="524.8" cy="1378.2" r="2" fill="#f2c4c2"/>
<circle cx="353" cy="1474.7" r="5" fill="#b0636a"/>
<circle cx="352" cy="1473.2" r="4" fill="#d8908f"/>
<circle cx="350.6" cy="1471.6" r="1.2" fill="#f2c4c2"/>
<circle cx="445.7" cy="1511.3" r="6" fill="#b0636a"/>
<circle cx="444.7" cy="1509.8" r="5" fill="#d8908f"/>
<circle cx="442.9" cy="1507.8" r="1.4" fill="#f2c4c2"/>
<circle cx="423.5" cy="1464.2" r="6" fill="#b0636a"/>
<circle cx="422.5" cy="1462.7" r="5" fill="#d8908f"/>
<circle cx="420.8" cy="1460.7" r="1.4" fill="#f2c4c2"/>
<circle cx="622.6" cy="1266.2" r="9" fill="#b0636a"/>
<circle cx="621.6" cy="1264.7" r="8" fill="#d8908f"/>
<circle cx="618.8" cy="1261.5" r="2.2" fill="#f2c4c2"/>
<circle cx="248.4" cy="1521.7" r="7" fill="#b0636a"/>
<circle cx="247.4" cy="1520.2" r="6" fill="#d8908f"/>
<circle cx="245.3" cy="1517.8" r="1.7" fill="#f2c4c2"/>
<circle cx="586" cy="1422.5" r="8" fill="#b0636a"/>
<circle cx="585" cy="1421" r="7" fill="#d8908f"/>
<circle cx="582.6" cy="1418.2" r="2" fill="#f2c4c2"/>
<circle cx="335.3" cy="1250.6" r="8" fill="#b0636a"/>
<circle cx="334.3" cy="1249.1" r="7" fill="#d8908f"/>
<circle cx="331.9" cy="1246.3" r="2" fill="#f2c4c2"/>
<circle cx="332.4" cy="1322.4" r="5" fill="#b0636a"/>
<circle cx="331.4" cy="1320.9" r="4" fill="#d8908f"/>
<circle cx="330" cy="1319.3" r="1.2" fill="#f2c4c2"/>
<circle cx="596.2" cy="1444.5" r="7" fill="#b0636a"/>
<circle cx="595.2" cy="1443" r="6" fill="#d8908f"/>
<circle cx="593.1" cy="1440.6" r="1.7" fill="#f2c4c2"/>
<circle cx="481.9" cy="1271.2" r="10" fill="#b0636a"/>
<circle cx="480.9" cy="1269.7" r="9" fill="#d8908f"/>
<circle cx="477.8" cy="1266.1" r="2.5" fill="#f2c4c2"/>
<circle cx="256.9" cy="1576.8" r="6" fill="#b0636a"/>
<circle cx="255.9" cy="1575.3" r="5" fill="#d8908f"/>
<circle cx="254.1" cy="1573.3" r="1.4" fill="#f2c4c2"/>
<circle cx="400" cy="1292.9" r="6" fill="#b0636a"/>
<circle cx="399" cy="1291.4" r="5" fill="#d8908f"/>
<circle cx="397.3" cy="1289.4" r="1.4" fill="#f2c4c2"/>
<circle cx="597.6" cy="1347.8" r="7" fill="#b0636a"/>
<circle cx="596.6" cy="1346.3" r="6" fill="#d8908f"/>
<circle cx="594.5" cy="1343.9" r="1.7" fill="#f2c4c2"/>
<circle cx="434.7" cy="1465.4" r="7" fill="#b0636a"/>
<circle cx="433.7" cy="1463.9" r="6" fill="#d8908f"/>
<circle cx="431.6" cy="1461.5" r="1.7" fill="#f2c4c2"/>
<circle cx="769.1" cy="1301.9" r="8" fill="#b0636a"/>
<circle cx="768.1" cy="1300.4" r="7" fill="#d8908f"/>
<circle cx="765.7" cy="1297.6" r="2" fill="#f2c4c2"/>
<circle cx="277.4" cy="1394.6" r="9" fill="#b0636a"/>
<circle cx="276.4" cy="1393.1" r="8" fill="#d8908f"/>
<circle cx="273.6" cy="1389.9" r="2.2" fill="#f2c4c2"/>
<circle cx="282.9" cy="1260" r="6" fill="#b0636a"/>
<circle cx="281.9" cy="1258.5" r="5" fill="#d8908f"/>
<circle cx="280.2" cy="1256.5" r="1.4" fill="#f2c4c2"/>
<circle cx="373.2" cy="1471.8" r="5" fill="#b0636a"/>
<circle cx="372.2" cy="1470.3" r="4" fill="#d8908f"/>
<circle cx="370.8" cy="1468.7" r="1.2" fill="#f2c4c2"/>
<circle cx="580.1" cy="1314.6" r="7" fill="#b0636a"/>
<circle cx="579.1" cy="1313.1" r="6" fill="#d8908f"/>
<circle cx="577" cy="1310.7" r="1.7" fill="#f2c4c2"/>
<circle cx="526.3" cy="1473.2" r="13" fill="#b0636a"/>
<circle cx="525.3" cy="1471.7" r="12" fill="#d8908f"/>
<circle cx="521.1" cy="1466.9" r="3.4" fill="#f2c4c2"/>
<circle cx="344.2" cy="1442.4" r="6" fill="#b0636a"/>
<circle cx="343.2" cy="1440.9" r="5" fill="#d8908f"/>
<circle cx="341.4" cy="1438.9" r="1.4" fill="#f2c4c2"/>
<circle cx="540.4" cy="1406.3" r="5" fill="#b0636a"/>
<circle cx="539.4" cy="1404.8" r="4" fill="#d8908f"/>
<circle cx="538" cy="1403.2" r="1.2" fill="#f2c4c2"/>
<circle cx="569" cy="1281.6" r="8" fill="#b0636a"/>
<circle cx="568" cy="1280.1" r="7" fill="#d8908f"/>
<circle cx="565.6" cy="1277.3" r="2" fill="#f2c4c2"/>
<circle cx="426.1" cy="1337.3" r="6" fill="#b0636a"/>
<circle cx="425.1" cy="1335.8" r="5" fill="#d8908f"/>
<circle cx="423.4" cy="1333.8" r="1.4" fill="#f2c4c2"/>
<circle cx="607.5" cy="1441.8" r="6" fill="#b0636a"/>
<circle cx="606.5" cy="1440.3" r="5" fill="#d8908f"/>
<circle cx="604.7" cy="1438.3" r="1.4" fill="#f2c4c2"/>
<circle cx="554.8" cy="1348.2" r="8" fill="#b0636a"/>
<circle cx="553.8" cy="1346.7" r="7" fill="#d8908f"/>
<circle cx="551.3" cy="1343.9" r="2" fill="#f2c4c2"/>
<circle cx="648.6" cy="1286.7" r="7" fill="#b0636a"/>
<circle cx="647.6" cy="1285.2" r="6" fill="#d8908f"/>
<circle cx="645.5" cy="1282.8" r="1.7" fill="#f2c4c2"/>
<circle cx="251.5" cy="1587.8" r="5" fill="#b0636a"/>
<circle cx="250.5" cy="1586.3" r="4" fill="#d8908f"/>
<circle cx="249.1" cy="1584.7" r="1.2" fill="#f2c4c2"/>
<circle cx="367.2" cy="1249" r="7" fill="#b0636a"/>
<circle cx="366.2" cy="1247.5" r="6" fill="#d8908f"/>
<circle cx="364.1" cy="1245.1" r="1.7" fill="#f2c4c2"/>
<circle cx="343.8" cy="1334.4" r="7" fill="#b0636a"/>
<circle cx="342.8" cy="1332.9" r="6" fill="#d8908f"/>
<circle cx="340.7" cy="1330.5" r="1.7" fill="#f2c4c2"/>
<circle cx="615.6" cy="1282.4" r="6" fill="#b0636a"/>
<circle cx="614.6" cy="1280.9" r="5" fill="#d8908f"/>
<circle cx="612.8" cy="1278.9" r="1.4" fill="#f2c4c2"/>
<circle cx="539.6" cy="1418.4" r="6" fill="#b0636a"/>
<circle cx="538.6" cy="1416.9" r="5" fill="#d8908f"/>
<circle cx="536.8" cy="1414.9" r="1.4" fill="#f2c4c2"/>
<circle cx="343.7" cy="1379.8" r="8" fill="#b0636a"/>
<circle cx="342.7" cy="1378.3" r="7" fill="#d8908f"/>
<circle cx="340.3" cy="1375.5" r="2" fill="#f2c4c2"/>
<circle cx="234.2" cy="1511" r="7" fill="#b0636a"/>
<circle cx="233.2" cy="1509.5" r="6" fill="#d8908f"/>
<circle cx="231.1" cy="1507.1" r="1.7" fill="#f2c4c2"/>
<circle cx="332.7" cy="1527.1" r="10" fill="#b0636a"/>
<circle cx="331.7" cy="1525.6" r="9" fill="#d8908f"/>
<circle cx="328.6" cy="1522" r="2.5" fill="#f2c4c2"/>
<circle cx="626.7" cy="1292.6" r="5" fill="#b0636a"/>
<circle cx="625.7" cy="1291.1" r="4" fill="#d8908f"/>
<circle cx="624.3" cy="1289.5" r="1.2" fill="#f2c4c2"/>
<circle cx="574.5" cy="1298.7" r="9" fill="#b0636a"/>
<circle cx="573.5" cy="1297.2" r="8" fill="#d8908f"/>
<circle cx="570.7" cy="1294" r="2.2" fill="#f2c4c2"/>
<circle cx="318.2" cy="1396.8" r="5" fill="#b0636a"/>
<circle cx="317.2" cy="1395.3" r="4" fill="#d8908f"/>
<circle cx="315.8" cy="1393.7" r="1.2" fill="#f2c4c2"/>
<circle cx="328.1" cy="1445.7" r="6" fill="#b0636a"/>
<circle cx="327.1" cy="1444.2" r="5" fill="#d8908f"/>
<circle cx="325.3" cy="1442.2" r="1.4" fill="#f2c4c2"/>
<circle cx="442.8" cy="1412.8" r="5" fill="#b0636a"/>
<circle cx="441.8" cy="1411.3" r="4" fill="#d8908f"/>
<circle cx="440.4" cy="1409.7" r="1.2" fill="#f2c4c2"/>
<circle cx="354.9" cy="1249.4" r="6" fill="#b0636a"/>
<circle cx="353.9" cy="1247.9" r="5" fill="#d8908f"/>
<circle cx="352.1" cy="1245.9" r="1.4" fill="#f2c4c2"/>
<circle cx="428.6" cy="1490.9" r="8" fill="#b0636a"/>
<circle cx="427.6" cy="1489.4" r="7" fill="#d8908f"/>
<circle cx="425.2" cy="1486.6" r="2" fill="#f2c4c2"/>
<circle cx="527.7" cy="1268.1" r="10" fill="#b0636a"/>
<circle cx="526.7" cy="1266.6" r="9" fill="#d8908f"/>
<circle cx="523.6" cy="1263" r="2.5" fill="#f2c4c2"/>
<circle cx="265.1" cy="1594.1" r="8" fill="#b0636a"/>
<circle cx="264.1" cy="1592.6" r="7" fill="#d8908f"/>
<circle cx="261.6" cy="1589.8" r="2" fill="#f2c4c2"/>
<circle cx="480.7" cy="1473.2" r="7" fill="#b0636a"/>
<circle cx="479.7" cy="1471.7" r="6" fill="#d8908f"/>
<circle cx="477.6" cy="1469.3" r="1.7" fill="#f2c4c2"/>
<circle cx="211.2" cy="1322.8" r="8" fill="#b0636a"/>
<circle cx="210.2" cy="1321.3" r="7" fill="#d8908f"/>
<circle cx="207.8" cy="1318.5" r="2" fill="#f2c4c2"/>
<circle cx="740.1" cy="1334.7" r="7" fill="#b0636a"/>
<circle cx="739.1" cy="1333.2" r="6" fill="#d8908f"/>
<circle cx="737" cy="1330.8" r="1.7" fill="#f2c4c2"/>
<circle cx="379.7" cy="1444.8" r="5" fill="#b0636a"/>
<circle cx="378.7" cy="1443.3" r="4" fill="#d8908f"/>
<circle cx="377.3" cy="1441.7" r="1.2" fill="#f2c4c2"/>
<circle cx="392" cy="1442.3" r="9" fill="#b0636a"/>
<circle cx="391" cy="1440.8" r="8" fill="#d8908f"/>
<circle cx="388.2" cy="1437.6" r="2.2" fill="#f2c4c2"/>
<circle cx="718.7" cy="1325" r="5" fill="#b0636a"/>
<circle cx="717.7" cy="1323.5" r="4" fill="#d8908f"/>
<circle cx="716.3" cy="1321.9" r="1.2" fill="#f2c4c2"/>
<circle cx="609.7" cy="1364.2" r="6" fill="#b0636a"/>
<circle cx="608.7" cy="1362.7" r="5" fill="#d8908f"/>
<circle cx="606.9" cy="1360.7" r="1.4" fill="#f2c4c2"/>
<circle cx="603.4" cy="1325.8" r="6" fill="#b0636a"/>
<circle cx="602.4" cy="1324.3" r="5" fill="#d8908f"/>
<circle cx="600.7" cy="1322.3" r="1.4" fill="#f2c4c2"/>
<circle cx="243.8" cy="1569.2" r="5" fill="#b0636a"/>
<circle cx="242.8" cy="1567.7" r="4" fill="#d8908f"/>
<circle cx="241.4" cy="1566.1" r="1.2" fill="#f2c4c2"/>
<circle cx="500.8" cy="1384.1" r="11" fill="#b0636a"/>
<circle cx="499.8" cy="1382.6" r="10" fill="#d8908f"/>
<circle cx="496.3" cy="1378.6" r="2.8" fill="#f2c4c2"/>
<circle cx="564.1" cy="1416.1" r="7" fill="#b0636a"/>
<circle cx="563.1" cy="1414.6" r="6" fill="#d8908f"/>
<circle cx="561" cy="1412.2" r="1.7" fill="#f2c4c2"/>
<circle cx="690.9" cy="1355.7" r="6" fill="#b0636a"/>
<circle cx="689.9" cy="1354.2" r="5" fill="#d8908f"/>
<circle cx="688.2" cy="1352.2" r="1.4" fill="#f2c4c2"/>
<circle cx="287.2" cy="1480.1" r="8" fill="#b0636a"/>
<circle cx="286.2" cy="1478.6" r="7" fill="#d8908f"/>
<circle cx="283.8" cy="1475.8" r="2" fill="#f2c4c2"/>
<circle cx="409.6" cy="1357" r="6" fill="#b0636a"/>
<circle cx="408.6" cy="1355.5" r="5" fill="#d8908f"/>
<circle cx="406.8" cy="1353.5" r="1.4" fill="#f2c4c2"/>
<circle cx="712.4" cy="1278.8" r="7" fill="#b0636a"/>
<circle cx="711.4" cy="1277.3" r="6" fill="#d8908f"/>
<circle cx="709.3" cy="1274.9" r="1.7" fill="#f2c4c2"/>
<circle cx="409.3" cy="1459.2" r="5" fill="#b0636a"/>
<circle cx="408.3" cy="1457.7" r="4" fill="#d8908f"/>
<circle cx="406.9" cy="1456.1" r="1.2" fill="#f2c4c2"/>
<circle cx="639.8" cy="1446.1" r="5" fill="#b0636a"/>
<circle cx="638.8" cy="1444.6" r="4" fill="#d8908f"/>
<circle cx="637.4" cy="1443" r="1.2" fill="#f2c4c2"/>
<circle cx="372.9" cy="1447.4" r="5" fill="#b0636a"/>
<circle cx="371.9" cy="1445.9" r="4" fill="#d8908f"/>
<circle cx="370.5" cy="1444.3" r="1.2" fill="#f2c4c2"/>
<circle cx="290" cy="1548.9" r="8" fill="#b0636a"/>
<circle cx="289" cy="1547.4" r="7" fill="#d8908f"/>
<circle cx="286.5" cy="1544.6" r="2" fill="#f2c4c2"/>
<circle cx="323.3" cy="1274.7" r="6" fill="#b0636a"/>
<circle cx="322.3" cy="1273.2" r="5" fill="#d8908f"/>
<circle cx="320.5" cy="1271.2" r="1.4" fill="#f2c4c2"/>
<circle cx="605.9" cy="1399.2" r="6" fill="#b0636a"/>
<circle cx="604.9" cy="1397.7" r="5" fill="#d8908f"/>
<circle cx="603.2" cy="1395.7" r="1.4" fill="#f2c4c2"/>
<circle cx="659.9" cy="1389.8" r="9" fill="#b0636a"/>
<circle cx="658.9" cy="1388.3" r="8" fill="#d8908f"/>
<circle cx="656.1" cy="1385.1" r="2.2" fill="#f2c4c2"/>
<circle cx="277.9" cy="1570.7" r="7" fill="#b0636a"/>
<circle cx="276.9" cy="1569.2" r="6" fill="#d8908f"/>
<circle cx="274.8" cy="1566.8" r="1.7" fill="#f2c4c2"/>
<circle cx="391.5" cy="1550.5" r="13" fill="#b0636a"/>
<circle cx="390.5" cy="1549" r="12" fill="#d8908f"/>
<circle cx="386.3" cy="1544.2" r="3.4" fill="#f2c4c2"/>
<circle cx="265" cy="1278.9" r="6" fill="#b0636a"/>
<circle cx="264" cy="1277.4" r="5" fill="#d8908f"/>
<circle cx="262.3" cy="1275.4" r="1.4" fill="#f2c4c2"/>
<circle cx="636.7" cy="1380.8" r="6" fill="#b0636a"/>
<circle cx="635.7" cy="1379.3" r="5" fill="#d8908f"/>
<circle cx="633.9" cy="1377.3" r="1.4" fill="#f2c4c2"/>
<circle cx="389.1" cy="1455.8" r="6" fill="#b0636a"/>
<circle cx="388.1" cy="1454.3" r="5" fill="#d8908f"/>
<circle cx="386.4" cy="1452.3" r="1.4" fill="#f2c4c2"/>
<circle cx="225.7" cy="1552.1" r="8" fill="#b0636a"/>
<circle cx="224.7" cy="1550.6" r="7" fill="#d8908f"/>
<circle cx="222.3" cy="1547.8" r="2" fill="#f2c4c2"/>
<circle cx="646.6" cy="1259.8" r="7" fill="#b0636a"/>
<circle cx="645.6" cy="1258.3" r="6" fill="#d8908f"/>
<circle cx="643.5" cy="1255.9" r="1.7" fill="#f2c4c2"/>
<circle cx="465.7" cy="1512.5" r="11" fill="#b0636a"/>
<circle cx="464.7" cy="1511" r="10" fill="#d8908f"/>
<circle cx="461.2" cy="1507" r="2.8" fill="#f2c4c2"/>
<circle cx="501.7" cy="1480.1" r="11" fill="#b0636a"/>
<circle cx="500.7" cy="1478.6" r="10" fill="#d8908f"/>
<circle cx="497.2" cy="1474.6" r="2.8" fill="#f2c4c2"/>
<circle cx="307.6" cy="1432.1" r="13" fill="#b0636a"/>
<circle cx="306.6" cy="1430.6" r="12" fill="#d8908f"/>
<circle cx="302.4" cy="1425.8" r="3.4" fill="#f2c4c2"/>
<circle cx="284.9" cy="1539.1" r="6" fill="#b0636a"/>
<circle cx="283.9" cy="1537.6" r="5" fill="#d8908f"/>
<circle cx="282.2" cy="1535.6" r="1.4" fill="#f2c4c2"/>
<circle cx="195.8" cy="1537.8" r="6" fill="#b0636a"/>
<circle cx="194.8" cy="1536.3" r="5" fill="#d8908f"/>
<circle cx="193.1" cy="1534.3" r="1.4" fill="#f2c4c2"/>
<circle cx="416.4" cy="1291.9" r="7" fill="#b0636a"/>
<circle cx="415.4" cy="1290.4" r="6" fill="#d8908f"/>
<circle cx="413.3" cy="1288" r="1.7" fill="#f2c4c2"/>
<circle cx="276.1" cy="1301.4" r="8" fill="#b0636a"/>
<circle cx="275.1" cy="1299.9" r="7" fill="#d8908f"/>
<circle cx="272.7" cy="1297.1" r="2" fill="#f2c4c2"/>
<circle cx="192.8" cy="1404.1" r="9" fill="#b0636a"/>
<circle cx="191.8" cy="1402.6" r="8" fill="#d8908f"/>
<circle cx="189" cy="1399.4" r="2.2" fill="#f2c4c2"/>
<circle cx="320.7" cy="1313.5" r="5" fill="#b0636a"/>
<circle cx="319.7" cy="1312" r="4" fill="#d8908f"/>
<circle cx="318.3" cy="1310.4" r="1.2" fill="#f2c4c2"/>
<circle cx="410.4" cy="1499.4" r="8" fill="#b0636a"/>
<circle cx="409.4" cy="1497.9" r="7" fill="#d8908f"/>
<circle cx="407" cy="1495.1" r="2" fill="#f2c4c2"/>
<circle cx="712.4" cy="1368.3" r="13" fill="#b0636a"/>
<circle cx="711.4" cy="1366.8" r="12" fill="#d8908f"/>
<circle cx="707.2" cy="1362" r="3.4" fill="#f2c4c2"/>
<circle cx="351.5" cy="1498.2" r="6" fill="#b0636a"/>
<circle cx="350.5" cy="1496.7" r="5" fill="#d8908f"/>
<circle cx="348.7" cy="1494.7" r="1.4" fill="#f2c4c2"/>
<circle cx="462.3" cy="1355.6" r="7" fill="#b0636a"/>
<circle cx="461.3" cy="1354.1" r="6" fill="#d8908f"/>
<circle cx="459.2" cy="1351.7" r="1.7" fill="#f2c4c2"/>
<circle cx="541.4" cy="1328.4" r="7" fill="#b0636a"/>
<circle cx="540.4" cy="1326.9" r="6" fill="#d8908f"/>
<circle cx="538.3" cy="1324.5" r="1.7" fill="#f2c4c2"/>
<circle cx="707.9" cy="1313.7" r="9" fill="#b0636a"/>
<circle cx="706.9" cy="1312.2" r="8" fill="#d8908f"/>
<circle cx="704.1" cy="1309" r="2.2" fill="#f2c4c2"/>
<circle cx="287.9" cy="1348.8" r="8" fill="#b0636a"/>
<circle cx="286.9" cy="1347.3" r="7" fill="#d8908f"/>
<circle cx="284.5" cy="1344.5" r="2" fill="#f2c4c2"/>
<circle cx="236.2" cy="1582.7" r="6" fill="#b0636a"/>
<circle cx="235.2" cy="1581.2" r="5" fill="#d8908f"/>
<circle cx="233.5" cy="1579.2" r="1.4" fill="#f2c4c2"/>
<circle cx="234" cy="1568.4" r="5" fill="#b0636a"/>
<circle cx="233" cy="1566.9" r="4" fill="#d8908f"/>
<circle cx="231.6" cy="1565.3" r="1.2" fill="#f2c4c2"/>
<circle cx="547.9" cy="1375.1" r="6" fill="#b0636a"/>
<circle cx="546.9" cy="1373.6" r="5" fill="#d8908f"/>
<circle cx="545.2" cy="1371.6" r="1.4" fill="#f2c4c2"/>
<circle cx="245.6" cy="1606.6" r="6" fill="#b0636a"/>
<circle cx="244.6" cy="1605.1" r="5" fill="#d8908f"/>
<circle cx="242.8" cy="1603.1" r="1.4" fill="#f2c4c2"/>
<circle cx="564.2" cy="1457.1" r="6" fill="#b0636a"/>
<circle cx="563.2" cy="1455.6" r="5" fill="#d8908f"/>
<circle cx="561.5" cy="1453.6" r="1.4" fill="#f2c4c2"/>
<circle cx="230.8" cy="1290.4" r="7" fill="#b0636a"/>
<circle cx="229.8" cy="1288.9" r="6" fill="#d8908f"/>
<circle cx="227.7" cy="1286.5" r="1.7" fill="#f2c4c2"/>
<circle cx="725.4" cy="1284.2" r="8" fill="#b0636a"/>
<circle cx="724.4" cy="1282.7" r="7" fill="#d8908f"/>
<circle cx="721.9" cy="1279.9" r="2" fill="#f2c4c2"/>
<circle cx="395.4" cy="1466.7" r="7" fill="#b0636a"/>
<circle cx="394.4" cy="1465.2" r="6" fill="#d8908f"/>
<circle cx="392.3" cy="1462.8" r="1.7" fill="#f2c4c2"/>
<circle cx="283.7" cy="1530.8" r="5" fill="#b0636a"/>
<circle cx="282.7" cy="1529.3" r="4" fill="#d8908f"/>
<circle cx="281.3" cy="1527.7" r="1.2" fill="#f2c4c2"/>
<circle cx="594.1" cy="1325.5" r="5" fill="#b0636a"/>
<circle cx="593.1" cy="1324" r="4" fill="#d8908f"/>
<circle cx="591.7" cy="1322.4" r="1.2" fill="#f2c4c2"/>
<circle cx="455.7" cy="1463" r="6" fill="#b0636a"/>
<circle cx="454.7" cy="1461.5" r="5" fill="#d8908f"/>
<circle cx="453" cy="1459.5" r="1.4" fill="#f2c4c2"/>
<circle cx="580.5" cy="1363.7" r="9" fill="#b0636a"/>
<circle cx="579.5" cy="1362.2" r="8" fill="#d8908f"/>
<circle cx="576.7" cy="1359" r="2.2" fill="#f2c4c2"/>
<circle cx="402.4" cy="1483.1" r="5" fill="#b0636a"/>
<circle cx="401.4" cy="1481.6" r="4" fill="#d8908f"/>
<circle cx="400" cy="1480" r="1.2" fill="#f2c4c2"/>
<circle cx="458.3" cy="1303.5" r="7" fill="#b0636a"/>
<circle cx="457.3" cy="1302" r="6" fill="#d8908f"/>
<circle cx="455.2" cy="1299.6" r="1.7" fill="#f2c4c2"/>
<circle cx="333.2" cy="1330.4" r="5" fill="#b0636a"/>
<circle cx="332.2" cy="1328.9" r="4" fill="#d8908f"/>
<circle cx="330.8" cy="1327.3" r="1.2" fill="#f2c4c2"/>
<circle cx="679.5" cy="1378.5" r="7" fill="#b0636a"/>
<circle cx="678.5" cy="1377" r="6" fill="#d8908f"/>
<circle cx="676.4" cy="1374.6" r="1.7" fill="#f2c4c2"/>
<circle cx="345.4" cy="1367.1" r="5" fill="#b0636a"/>
<circle cx="344.4" cy="1365.6" r="4" fill="#d8908f"/>
<circle cx="343" cy="1364" r="1.2" fill="#f2c4c2"/>
<circle cx="305.4" cy="1561.4" r="6" fill="#b0636a"/>
<circle cx="304.4" cy="1559.9" r="5" fill="#d8908f"/>
<circle cx="302.6" cy="1557.9" r="1.4" fill="#f2c4c2"/>
<circle cx="612.6" cy="1254.2" r="7" fill="#b0636a"/>
<circle cx="611.6" cy="1252.7" r="6" fill="#d8908f"/>
<circle cx="609.5" cy="1250.3" r="1.7" fill="#f2c4c2"/>
<circle cx="383.1" cy="1260.4" r="8" fill="#b0636a"/>
<circle cx="382.1" cy="1258.9" r="7" fill="#d8908f"/>
<circle cx="379.7" cy="1256.1" r="2" fill="#f2c4c2"/>
<circle cx="289.9" cy="1444.8" r="6" fill="#b0636a"/>
<circle cx="288.9" cy="1443.3" r="5" fill="#d8908f"/>
<circle cx="287.2" cy="1441.3" r="1.4" fill="#f2c4c2"/>
<circle cx="228.9" cy="1482.1" r="8" fill="#b0636a"/>
<circle cx="227.9" cy="1480.6" r="7" fill="#d8908f"/>
<circle cx="225.4" cy="1477.8" r="2" fill="#f2c4c2"/>
<circle cx="324.7" cy="1564.1" r="11" fill="#b0636a"/>
<circle cx="323.7" cy="1562.6" r="10" fill="#d8908f"/>
<circle cx="320.2" cy="1558.6" r="2.8" fill="#f2c4c2"/>
<circle cx="593.5" cy="1318.1" r="5" fill="#b0636a"/>
<circle cx="592.5" cy="1316.6" r="4" fill="#d8908f"/>
<circle cx="591.1" cy="1315" r="1.2" fill="#f2c4c2"/>
<circle cx="368.5" cy="1512.8" r="9" fill="#b0636a"/>
<circle cx="367.5" cy="1511.3" r="8" fill="#d8908f"/>
<circle cx="364.7" cy="1508.1" r="2.2" fill="#f2c4c2"/>
<circle cx="241.8" cy="1459.9" r="8" fill="#b0636a"/>
<circle cx="240.8" cy="1458.4" r="7" fill="#d8908f"/>
<circle cx="238.4" cy="1455.6" r="2" fill="#f2c4c2"/>
<circle cx="342.5" cy="1543.4" r="7" fill="#b0636a"/>
<circle cx="341.5" cy="1541.9" r="6" fill="#d8908f"/>
<circle cx="339.4" cy="1539.5" r="1.7" fill="#f2c4c2"/>
<circle cx="573" cy="1455.7" r="5" fill="#b0636a"/>
<circle cx="572" cy="1454.2" r="4" fill="#d8908f"/>
<circle cx="570.6" cy="1452.6" r="1.2" fill="#f2c4c2"/>
<circle cx="270.8" cy="1510.7" r="5" fill="#b0636a"/>
<circle cx="269.8" cy="1509.2" r="4" fill="#d8908f"/>
<circle cx="268.4" cy="1507.6" r="1.2" fill="#f2c4c2"/>
<circle cx="280.2" cy="1336.5" r="6" fill="#b0636a"/>
<circle cx="279.2" cy="1335" r="5" fill="#d8908f"/>
<circle cx="277.4" cy="1333" r="1.4" fill="#f2c4c2"/>
<circle cx="245.6" cy="1415.8" r="7" fill="#b0636a"/>
<circle cx="244.6" cy="1414.3" r="6" fill="#d8908f"/>
<circle cx="242.5" cy="1411.9" r="1.7" fill="#f2c4c2"/>
<circle cx="617.9" cy="1401.1" r="7" fill="#b0636a"/>
<circle cx="616.9" cy="1399.6" r="6" fill="#d8908f"/>
<circle cx="614.8" cy="1397.2" r="1.7" fill="#f2c4c2"/>
<circle cx="191.5" cy="1422.6" r="5" fill="#b0636a"/>
<circle cx="190.5" cy="1421.1" r="4" fill="#d8908f"/>
<circle cx="189.1" cy="1419.5" r="1.2" fill="#f2c4c2"/>
<circle cx="271.2" cy="1448" r="6" fill="#b0636a"/>
<circle cx="270.2" cy="1446.5" r="5" fill="#d8908f"/>
<circle cx="268.5" cy="1444.5" r="1.4" fill="#f2c4c2"/>
<circle cx="640" cy="1348.1" r="8" fill="#b0636a"/>
<circle cx="639" cy="1346.6" r="7" fill="#d8908f"/>
<circle cx="636.5" cy="1343.8" r="2" fill="#f2c4c2"/>
<circle cx="485.6" cy="1435.4" r="10" fill="#b0636a"/>
<circle cx="484.6" cy="1433.9" r="9" fill="#d8908f"/>
<circle cx="481.4" cy="1430.3" r="2.5" fill="#f2c4c2"/>
<circle cx="199" cy="1575.3" r="6" fill="#b0636a"/>
<circle cx="198" cy="1573.8" r="5" fill="#d8908f"/>
<circle cx="196.3" cy="1571.8" r="1.4" fill="#f2c4c2"/>
<circle cx="381.3" cy="1416.8" r="6" fill="#b0636a"/>
<circle cx="380.3" cy="1415.3" r="5" fill="#d8908f"/>
<circle cx="378.6" cy="1413.3" r="1.4" fill="#f2c4c2"/>
<circle cx="720.1" cy="1343" r="10" fill="#b0636a"/>
<circle cx="719.1" cy="1341.5" r="9" fill="#d8908f"/>
<circle cx="716" cy="1337.9" r="2.5" fill="#f2c4c2"/>
<circle cx="224.9" cy="1576" r="5" fill="#b0636a"/>
<circle cx="223.9" cy="1574.5" r="4" fill="#d8908f"/>
<circle cx="222.5" cy="1572.9" r="1.2" fill="#f2c4c2"/>
<circle cx="507.4" cy="1343.3" r="11" fill="#b0636a"/>
<circle cx="506.4" cy="1341.8" r="10" fill="#d8908f"/>
<circle cx="502.9" cy="1337.8" r="2.8" fill="#f2c4c2"/>
<circle cx="481.1" cy="1387.1" r="9" fill="#b0636a"/>
<circle cx="480.1" cy="1385.6" r="8" fill="#d8908f"/>
<circle cx="477.3" cy="1382.4" r="2.2" fill="#f2c4c2"/>
<circle cx="640.3" cy="1396.9" r="6" fill="#b0636a"/>
<circle cx="639.3" cy="1395.4" r="5" fill="#d8908f"/>
<circle cx="637.6" cy="1393.4" r="1.4" fill="#f2c4c2"/>
<circle cx="610.4" cy="1376.6" r="5" fill="#b0636a"/>
<circle cx="609.4" cy="1375.1" r="4" fill="#d8908f"/>
<circle cx="608" cy="1373.5" r="1.2" fill="#f2c4c2"/>
<circle cx="749.4" cy="1311.2" r="6" fill="#b0636a"/>
<circle cx="748.4" cy="1309.7" r="5" fill="#d8908f"/>
<circle cx="746.6" cy="1307.7" r="1.4" fill="#f2c4c2"/>
<circle cx="547.2" cy="1293.9" r="5" fill="#b0636a"/>
<circle cx="546.2" cy="1292.4" r="4" fill="#d8908f"/>
<circle cx="544.8" cy="1290.8" r="1.2" fill="#f2c4c2"/>
<circle cx="301.7" cy="1288.7" r="6" fill="#b0636a"/>
<circle cx="300.7" cy="1287.2" r="5" fill="#d8908f"/>
<circle cx="299" cy="1285.2" r="1.4" fill="#f2c4c2"/>
<circle cx="536.7" cy="1291.3" r="7" fill="#b0636a"/>
<circle cx="535.7" cy="1289.8" r="6" fill="#d8908f"/>
<circle cx="533.6" cy="1287.4" r="1.7" fill="#f2c4c2"/>
<circle cx="733" cy="1319.6" r="8" fill="#b0636a"/>
<circle cx="732" cy="1318.1" r="7" fill="#d8908f"/>
<circle cx="729.6" cy="1315.3" r="2" fill="#f2c4c2"/>
<circle cx="770.7" cy="1268.1" r="9" fill="#b0636a"/>
<circle cx="769.7" cy="1266.6" r="8" fill="#d8908f"/>
<circle cx="766.9" cy="1263.4" r="2.2" fill="#f2c4c2"/>
</g>
<path d="M486,1246C488.8,1248.7 499.7,1253 503,1262C506.3,1271 505.7,1277 506,1300C506.3,1323 505,1371.7 505,1400C505,1428.3 507.2,1455 506,1470C504.8,1485 499.3,1486.7 498,1490" fill="none" stroke="#a9565c" stroke-width="9" stroke-linecap="round" clip-path="url(#fibclip)"/>
<path d="M560,1250C555.7,1254.2 539.3,1263.3 534,1275C528.7,1286.7 529.2,1299.2 528,1320C526.8,1340.8 526.5,1375 527,1400C527.5,1425 528,1455.7 531,1470C534,1484.3 542.7,1483.3 545,1486" fill="none" stroke="#a9565c" stroke-width="9" stroke-linecap="round" clip-path="url(#fibclip)"/>
<path d="M489,1243C491.9,1242.4 527.4,1245.9 535,1246C542.6,1246.1 577.4,1243.8 580,1244C582.6,1244.2 568.7,1247.8 566,1249C563.3,1250.2 550.8,1255.7 548,1258C545.2,1260.3 534,1272.5 532,1277C530,1281.5 524.8,1301.8 524,1312C523.2,1322.2 521.8,1386.8 522,1400C522.2,1413.2 524.7,1462.8 526,1470C527.3,1477.2 536.8,1483.1 538,1486C539.2,1488.9 540.3,1501.8 540,1505C539.7,1508.2 535,1524 534,1524C533,1524 528.8,1507.7 528,1505C527.2,1502.3 525.3,1494.4 524,1492C522.7,1489.6 513.2,1483.7 512,1476C510.8,1468.3 510.1,1413 510,1400C509.9,1387 511.2,1330.5 511,1320C510.8,1309.5 508.9,1279.6 508,1274C507.1,1268.4 501.6,1255.6 500,1253C498.4,1250.4 486.1,1243.6 489,1243Z" fill="#e9adb0" stroke="#c4797e" stroke-width="1.8"/>
<path d="M512,1258C512.5,1263.3 514.5,1266.3 515,1290C515.5,1313.7 514.7,1370 515,1400C515.3,1430 514.5,1454.2 517,1470C519.5,1485.8 527.2,1488 530,1495C532.8,1502 533.3,1509.2 534,1512" fill="none" stroke="#f6d2d2" stroke-width="2.5"/>
<path d="M183,1653C182.3,1646.2 186,1618.1 186,1605C186,1591.9 183.7,1571.8 183,1555C182.3,1538.2 181,1499.3 181,1479C181,1458.7 181.4,1421.1 183,1403C184.6,1384.9 188.6,1357.8 193,1343C197.4,1328.2 208.3,1302.8 216,1292C223.7,1281.2 239.5,1268.4 251,1262C262.5,1255.6 288.5,1247.2 302,1244C315.5,1240.8 335.2,1238.7 352,1238C368.8,1237.3 409.5,1238.3 428,1239C446.5,1239.7 470.7,1242.3 491,1243C511.3,1243.7 558.1,1243.5 580,1244C601.9,1244.5 634.9,1246.3 655,1247C675.1,1247.7 712.7,1247.3 731,1249C749.3,1250.7 781.2,1256.3 792,1260C802.8,1263.7 810.4,1272.1 812,1277C813.6,1281.9 809.5,1290.9 804,1297C798.5,1303.1 780.1,1316.2 771,1323C761.9,1329.8 743.3,1340.7 736,1348C728.7,1355.3 720.7,1369.2 716,1378C711.3,1386.8 707.8,1405.2 701,1414C694.2,1422.8 677.8,1436.7 665,1444C652.2,1451.3 621.1,1463.7 605,1469C588.9,1474.3 553.5,1476.7 544,1484C534.5,1491.3 536.7,1524 534,1524C531.3,1524 528,1488 524,1484C520,1480 513.5,1487.9 504,1494C494.5,1500.1 469.8,1520.5 453,1530C436.2,1539.5 398.1,1557.7 378,1565C357.9,1572.3 318.9,1579 302,1585C285.1,1591 263.1,1601.9 251,1610C238.9,1618.1 219,1639.9 211,1646C203,1652.1 194.7,1655.1 191,1656C187.3,1656.9 183.7,1659.8 183,1653Z" fill="none" stroke="#a44c53" stroke-width="2.5"/>
<defs><clipPath id="heaclip"><path d="M3149,1249C3168.9,1242.3 3214.8,1235.6 3238,1234C3261.2,1232.4 3302.1,1236.3 3323,1237C3343.9,1237.7 3375.8,1238.6 3395,1239C3414.2,1239.4 3438.9,1239.1 3467,1240C3495.1,1240.9 3579.6,1241.5 3606,1246C3632.4,1250.5 3662.3,1264.4 3665,1274C3667.7,1283.6 3636.5,1306.8 3626,1318C3615.5,1329.2 3593.3,1347.3 3586,1358C3578.7,1368.7 3579.5,1386.7 3571,1398C3562.5,1409.3 3538.5,1433.8 3522,1443C3505.5,1452.2 3462.9,1462.1 3447,1467C3431.1,1471.9 3409.5,1472 3403,1480C3396.5,1488 3401.3,1527 3398,1527C3394.7,1527 3384.7,1482.7 3378,1480C3371.3,1477.3 3365.3,1498.1 3348,1507C3330.7,1515.9 3274.5,1537 3248,1547C3221.5,1557 3168.9,1572.1 3149,1582C3129.1,1591.9 3108.9,1612.5 3099,1621C3089.1,1629.5 3081,1644.7 3075,1646C3069,1647.3 3056.7,1642.9 3054,1631C3051.3,1619.1 3055.5,1583.4 3055,1557C3054.5,1530.6 3049.3,1462.2 3050,1433C3050.7,1403.8 3054.8,1357.9 3060,1338C3065.2,1318.1 3077.1,1295.9 3089,1284C3100.9,1272.1 3129.1,1255.7 3149,1249Z"/></clipPath></defs>
<path d="M3149,1249C3168.9,1242.3 3214.8,1235.6 3238,1234C3261.2,1232.4 3302.1,1236.3 3323,1237C3343.9,1237.7 3375.8,1238.6 3395,1239C3414.2,1239.4 3438.9,1239.1 3467,1240C3495.1,1240.9 3579.6,1241.5 3606,1246C3632.4,1250.5 3662.3,1264.4 3665,1274C3667.7,1283.6 3636.5,1306.8 3626,1318C3615.5,1329.2 3593.3,1347.3 3586,1358C3578.7,1368.7 3579.5,1386.7 3571,1398C3562.5,1409.3 3538.5,1433.8 3522,1443C3505.5,1452.2 3462.9,1462.1 3447,1467C3431.1,1471.9 3409.5,1472 3403,1480C3396.5,1488 3401.3,1527 3398,1527C3394.7,1527 3384.7,1482.7 3378,1480C3371.3,1477.3 3365.3,1498.1 3348,1507C3330.7,1515.9 3274.5,1537 3248,1547C3221.5,1557 3168.9,1572.1 3149,1582C3129.1,1591.9 3108.9,1612.5 3099,1621C3089.1,1629.5 3081,1644.7 3075,1646C3069,1647.3 3056.7,1642.9 3054,1631C3051.3,1619.1 3055.5,1583.4 3055,1557C3054.5,1530.6 3049.3,1462.2 3050,1433C3050.7,1403.8 3054.8,1357.9 3060,1338C3065.2,1318.1 3077.1,1295.9 3089,1284C3100.9,1272.1 3129.1,1255.7 3149,1249Z" fill="#a4695e"/>
<g clip-path="url(#heaclip)">
<path d="M3149,1249C3168.9,1242.3 3214.8,1235.6 3238,1234C3261.2,1232.4 3302.1,1236.3 3323,1237C3343.9,1237.7 3375.8,1238.6 3395,1239C3414.2,1239.4 3438.9,1239.1 3467,1240C3495.1,1240.9 3579.6,1241.5 3606,1246C3632.4,1250.5 3662.3,1264.4 3665,1274C3667.7,1283.6 3636.5,1306.8 3626,1318C3615.5,1329.2 3593.3,1347.3 3586,1358C3578.7,1368.7 3579.5,1386.7 3571,1398C3562.5,1409.3 3538.5,1433.8 3522,1443C3505.5,1452.2 3462.9,1462.1 3447,1467C3431.1,1471.9 3409.5,1472 3403,1480C3396.5,1488 3401.3,1527 3398,1527C3394.7,1527 3384.7,1482.7 3378,1480C3371.3,1477.3 3365.3,1498.1 3348,1507C3330.7,1515.9 3274.5,1537 3248,1547C3221.5,1557 3168.9,1572.1 3149,1582C3129.1,1591.9 3108.9,1612.5 3099,1621C3089.1,1629.5 3081,1644.7 3075,1646C3069,1647.3 3056.7,1642.9 3054,1631C3051.3,1619.1 3055.5,1583.4 3055,1557C3054.5,1530.6 3049.3,1462.2 3050,1433C3050.7,1403.8 3054.8,1357.9 3060,1338C3065.2,1318.1 3077.1,1295.9 3089,1284C3100.9,1272.1 3129.1,1255.7 3149,1249Z" fill="none" stroke="#9a5f55" stroke-width="14"/>
<path d="M3150,1262C3170.7,1255.2 3211,1251.5 3238,1250C3265,1248.5 3314.7,1244.5 3330,1252C3345.3,1259.5 3338.2,1277.8 3340,1300C3341.8,1322.2 3343.5,1374.5 3342,1400C3340.5,1425.5 3343.8,1451.2 3330,1470C3316.2,1488.8 3277,1511.5 3250,1525C3223,1538.5 3174,1548.8 3150,1560C3126,1571.2 3101.2,1600 3090,1600C3078.8,1600 3077.7,1585.5 3075,1560C3072.3,1534.5 3071.2,1463 3072,1430C3072.8,1397 3075.8,1360.2 3080,1340C3084.2,1319.8 3089.5,1306.7 3100,1295C3110.5,1283.3 3129.3,1268.8 3150,1262Z" fill="#a4695e"/>
<path d="M3420,1258C3434.2,1254.2 3473,1254.7 3500,1255C3527,1255.3 3579,1256.5 3600,1260C3621,1263.5 3640,1269.3 3640,1278C3640,1286.7 3612,1305.7 3600,1318C3588,1330.3 3569,1347.7 3560,1360C3551,1372.3 3549,1389.5 3540,1400C3531,1410.5 3516.5,1422.8 3500,1430C3483.5,1437.2 3444.2,1449.5 3430,1448C3415.8,1446.5 3409.5,1437.7 3405,1420C3400.5,1402.3 3400,1351 3400,1330C3400,1309 3402,1290.8 3405,1280C3408,1269.2 3405.8,1261.8 3420,1258Z" fill="#a4695e"/>
<path d="M3062,1645C3065.8,1638.5 3086.8,1622.5 3100,1612C3113.2,1601.5 3135,1583.4 3150,1575C3165,1566.6 3197,1555.2 3200,1556C3203,1556.8 3180.5,1571.9 3170,1580C3159.5,1588.1 3141.2,1601 3130,1610C3118.8,1619 3103.2,1633.2 3095,1640C3086.8,1646.8 3079.9,1654.2 3075,1655C3070.1,1655.8 3058.2,1651.5 3062,1645Z" fill="#8a4a44"/>
<path d="M3088,1405C3088,1395.2 3090.2,1355.8 3095,1340C3099.8,1324.2 3110.2,1310.5 3120,1300C3129.8,1289.5 3143.5,1277 3160,1270C3176.5,1263 3229.2,1250.8 3230,1253C3230.8,1255.2 3180,1275 3165,1285C3150,1295 3139,1307.2 3130,1320C3121,1332.8 3110.2,1357.2 3105,1370C3099.8,1382.8 3097.6,1399.8 3095,1405C3092.4,1410.2 3088,1414.8 3088,1405Z" fill="#b57a70" opacity="0.9"/>
<path d="M3094,1435C3094.8,1435 3096.7,1454 3097,1460C3097.3,1466 3096.8,1475 3096,1475C3095.2,1475 3092.3,1466 3092,1460C3091.7,1454 3093.2,1435 3094,1435Z" fill="#b57a70" opacity="0.9"/>
<path d="M3426,1302C3425.7,1300.8 3431.9,1280.5 3440,1275C3448.1,1269.5 3479.7,1263.8 3480,1265C3480.3,1266.2 3450.1,1277.5 3442,1283C3433.9,1288.5 3426.3,1303.2 3426,1302Z" fill="#b57a70" opacity="0.9"/>
</g>
<path d="M3355,1248C3357.8,1256.7 3369.8,1277.5 3372,1300C3374.2,1322.5 3368.3,1358.5 3368,1383C3367.7,1407.5 3368.3,1430.5 3370,1447C3371.7,1463.5 3376.7,1476.2 3378,1482" fill="none" stroke="#9a5e54" stroke-width="12" stroke-linecap="round" clip-path="url(#heaclip)"/>
<path d="M3418,1252C3414.3,1258.3 3400.8,1268.2 3396,1290C3391.2,1311.8 3389.8,1356.8 3389,1383C3388.2,1409.2 3389.2,1432.5 3391,1447C3392.8,1461.5 3398.5,1466.2 3400,1470" fill="none" stroke="#9a5e54" stroke-width="8" stroke-linecap="round" clip-path="url(#heaclip)"/>
<path d="M3330,1238C3332.5,1237.8 3384.2,1246.8 3395,1247C3405.8,1247.2 3457.9,1240.8 3460,1241C3462.1,1241.2 3425.4,1248.2 3420,1250C3414.6,1251.8 3397.8,1257.2 3395,1262C3392.2,1266.8 3387.3,1297.9 3386,1308C3384.7,1318.1 3379.4,1371.4 3379,1383C3378.6,1394.6 3380.1,1438.9 3381,1447C3381.9,1455.1 3388.2,1473.8 3390,1480C3391.8,1486.2 3401.3,1518 3402,1522C3402.7,1526 3398.8,1527.8 3398,1528C3397.2,1528.2 3394.2,1527.7 3393,1524C3391.8,1520.3 3384.6,1490.4 3383,1484C3381.4,1477.6 3374.9,1455.4 3374,1447C3373.1,1438.6 3371.7,1394.6 3372,1383C3372.3,1371.4 3376.7,1318.1 3378,1308C3379.3,1297.9 3389.1,1266.9 3388,1262C3386.9,1257.1 3369.8,1251 3365,1249C3360.2,1247 3327.5,1238.2 3330,1238Z" fill="#e9c3a6" stroke="#b48866" stroke-width="1.2"/>
<path d="M3149,1249C3168.9,1242.3 3214.8,1235.6 3238,1234C3261.2,1232.4 3302.1,1236.3 3323,1237C3343.9,1237.7 3375.8,1238.6 3395,1239C3414.2,1239.4 3438.9,1239.1 3467,1240C3495.1,1240.9 3579.6,1241.5 3606,1246C3632.4,1250.5 3662.3,1264.4 3665,1274C3667.7,1283.6 3636.5,1306.8 3626,1318C3615.5,1329.2 3593.3,1347.3 3586,1358C3578.7,1368.7 3579.5,1386.7 3571,1398C3562.5,1409.3 3538.5,1433.8 3522,1443C3505.5,1452.2 3462.9,1462.1 3447,1467C3431.1,1471.9 3409.5,1472 3403,1480C3396.5,1488 3401.3,1527 3398,1527C3394.7,1527 3384.7,1482.7 3378,1480C3371.3,1477.3 3365.3,1498.1 3348,1507C3330.7,1515.9 3274.5,1537 3248,1547C3221.5,1557 3168.9,1572.1 3149,1582C3129.1,1591.9 3108.9,1612.5 3099,1621C3089.1,1629.5 3081,1644.7 3075,1646C3069,1647.3 3056.7,1642.9 3054,1631C3051.3,1619.1 3055.5,1583.4 3055,1557C3054.5,1530.6 3049.3,1462.2 3050,1433C3050.7,1403.8 3054.8,1357.9 3060,1338C3065.2,1318.1 3077.1,1295.9 3089,1284C3100.9,1272.1 3129.1,1255.7 3149,1249Z" fill="none" stroke="#7d4a42" stroke-width="2"/>
<defs><clipPath id="pillL"><rect x="560" y="640" width="160" height="120"/></clipPath><clipPath id="pillR"><rect x="720" y="640" width="160" height="120"/></clipPath></defs>
<g clip-path="url(#pillL)"><path d="M626,647 H810 A53,53 0 0 1 810,753 H626 A53,53 0 0 1 626,647Z" fill="#2ea4a9"/><path d="M626,647 H810 V741 H630 A47,47 0 0 1 626,647Z" fill="#69c2c4"/>
<rect x="621" y="666" width="110" height="10" rx="5" fill="#84d9e0"/><path d="M626,647 H810 A53,53 0 0 1 810,753 H626 A53,53 0 0 1 626,647Z" fill="none" stroke="#1c8f94" stroke-width="2.5"/></g>
<g clip-path="url(#pillR)"><path d="M626,647 H810 A53,53 0 0 1 810,753 H626 A53,53 0 0 1 626,647Z" fill="#b9b9b9"/><path d="M626,647 H810 A47,47 0 0 1 806,741 H626Z" fill="#d9d9d9"/>
<rect x="710" y="666" width="106" height="10" rx="5" fill="#ececec"/><path d="M626,647 H810 A53,53 0 0 1 810,753 H626 A53,53 0 0 1 626,647Z" fill="none" stroke="#919191" stroke-width="2.5"/></g>
<path d="M755,507 L755,451 L469,451" fill="none" stroke="#222" stroke-width="3" stroke-dasharray="6.6 6.4"/>
<path d="M438,451 L469,466.7 L469,435.3Z" fill="#222"/>
<path d="M750,852 L750,796" fill="none" stroke="#222" stroke-width="3" stroke-dasharray="6.6 6.4"/>
<path d="M750,775 L739.2,796.5 L760.8,796.5Z" fill="#222"/>
<path d="M539,1598 L476,1571" fill="none" stroke="#222" stroke-width="3" stroke-dasharray="6.6 6.4"/>
<path d="M456,1562 L471.2,1580.6 L480,1561Z" fill="#222"/>
<circle cx="1370" cy="358" r="10.5" fill="#5eaed6"/>
<circle cx="1368.8" cy="356.8" r="9.2" fill="#78cbe9"/>
<circle cx="1372.5" cy="361" r="2.3" fill="#a8def2" opacity="0.9"/>
<circle cx="1391" cy="432" r="10.5" fill="#5eaed6"/>
<circle cx="1389.8" cy="430.8" r="9.2" fill="#78cbe9"/>
<circle cx="1393.5" cy="435" r="2.3" fill="#a8def2" opacity="0.9"/>
<circle cx="1184" cy="460" r="10.5" fill="#5eaed6"/>
<circle cx="1182.8" cy="458.8" r="9.2" fill="#78cbe9"/>
<circle cx="1186.5" cy="463" r="2.3" fill="#a8def2" opacity="0.9"/>
<circle cx="1206" cy="515" r="10.5" fill="#5eaed6"/>
<circle cx="1204.8" cy="513.8" r="9.2" fill="#78cbe9"/>
<circle cx="1208.5" cy="518" r="2.3" fill="#a8def2" opacity="0.9"/>
<circle cx="1581" cy="474" r="10.5" fill="#5eaed6"/>
<circle cx="1579.8" cy="472.8" r="9.2" fill="#78cbe9"/>
<circle cx="1583.5" cy="477" r="2.3" fill="#a8def2" opacity="0.9"/>
<circle cx="1184" cy="585" r="10.5" fill="#5eaed6"/>
<circle cx="1182.8" cy="583.8" r="9.2" fill="#78cbe9"/>
<circle cx="1186.5" cy="588" r="2.3" fill="#a8def2" opacity="0.9"/>
<circle cx="1679" cy="550" r="10.5" fill="#5eaed6"/>
<circle cx="1677.8" cy="548.8" r="9.2" fill="#78cbe9"/>
<circle cx="1681.5" cy="553" r="2.3" fill="#a8def2" opacity="0.9"/>
<circle cx="1192" cy="797" r="10.5" fill="#5eaed6"/>
<circle cx="1190.8" cy="795.8" r="9.2" fill="#78cbe9"/>
<circle cx="1194.5" cy="800" r="2.3" fill="#a8def2" opacity="0.9"/>
<circle cx="1250" cy="887" r="10.5" fill="#5eaed6"/>
<circle cx="1248.8" cy="885.8" r="9.2" fill="#78cbe9"/>
<circle cx="1252.5" cy="890" r="2.3" fill="#a8def2" opacity="0.9"/>
<circle cx="1198" cy="947" r="10.5" fill="#5eaed6"/>
<circle cx="1196.8" cy="945.8" r="9.2" fill="#78cbe9"/>
<circle cx="1200.5" cy="950" r="2.3" fill="#a8def2" opacity="0.9"/>
<circle cx="1760" cy="789" r="10.5" fill="#5eaed6"/>
<circle cx="1758.8" cy="787.8" r="9.2" fill="#78cbe9"/>
<circle cx="1762.5" cy="792" r="2.3" fill="#a8def2" opacity="0.9"/>
<circle cx="1391" cy="435" r="10.5" fill="#5eaed6"/>
<circle cx="1389.8" cy="433.8" r="9.2" fill="#78cbe9"/>
<circle cx="1393.5" cy="438" r="2.3" fill="#a8def2" opacity="0.9"/>
<circle cx="1752" cy="630" r="10.5" fill="#5eaed6"/>
<circle cx="1750.8" cy="628.8" r="9.2" fill="#78cbe9"/>
<circle cx="1754.5" cy="633" r="2.3" fill="#a8def2" opacity="0.9"/>
<circle cx="1190" cy="712" r="10.5" fill="#5eaed6"/>
<circle cx="1188.8" cy="710.8" r="9.2" fill="#78cbe9"/>
<circle cx="1192.5" cy="715" r="2.3" fill="#a8def2" opacity="0.9"/>
<circle cx="1479" cy="361" r="10.5" fill="#0b76b0"/>
<circle cx="1477.8" cy="359.8" r="9.2" fill="#0ea0d9"/>
<circle cx="1475.5" cy="363.5" r="2.3" fill="#5cc0ea" opacity="0.8"/>
<circle cx="1495" cy="438" r="10.5" fill="#0b76b0"/>
<circle cx="1493.8" cy="436.8" r="9.2" fill="#0ea0d9"/>
<circle cx="1491.5" cy="440.5" r="2.3" fill="#5cc0ea" opacity="0.8"/>
<circle cx="1603" cy="520" r="10.5" fill="#0b76b0"/>
<circle cx="1601.8" cy="518.8" r="9.2" fill="#0ea0d9"/>
<circle cx="1599.5" cy="522.5" r="2.3" fill="#5cc0ea" opacity="0.8"/>
<circle cx="1132" cy="634" r="10.5" fill="#0b76b0"/>
<circle cx="1130.8" cy="632.8" r="9.2" fill="#0ea0d9"/>
<circle cx="1128.5" cy="636.5" r="2.3" fill="#5cc0ea" opacity="0.8"/>
<circle cx="1203" cy="662" r="10.5" fill="#0b76b0"/>
<circle cx="1201.8" cy="660.8" r="9.2" fill="#0ea0d9"/>
<circle cx="1199.5" cy="664.5" r="2.3" fill="#5cc0ea" opacity="0.8"/>
<circle cx="1717" cy="580" r="10.5" fill="#0b76b0"/>
<circle cx="1715.8" cy="578.8" r="9.2" fill="#0ea0d9"/>
<circle cx="1713.5" cy="582.5" r="2.3" fill="#5cc0ea" opacity="0.8"/>
<circle cx="1706" cy="732" r="10.5" fill="#0b76b0"/>
<circle cx="1704.8" cy="730.8" r="9.2" fill="#0ea0d9"/>
<circle cx="1702.5" cy="734.5" r="2.3" fill="#5cc0ea" opacity="0.8"/>
<circle cx="1649" cy="724" r="10.5" fill="#0b76b0"/>
<circle cx="1647.8" cy="722.8" r="9.2" fill="#0ea0d9"/>
<circle cx="1645.5" cy="726.5" r="2.3" fill="#5cc0ea" opacity="0.8"/>
<circle cx="1141" cy="855" r="10.5" fill="#0b76b0"/>
<circle cx="1139.8" cy="853.8" r="9.2" fill="#0ea0d9"/>
<circle cx="1137.5" cy="857.5" r="2.3" fill="#5cc0ea" opacity="0.8"/>
<circle cx="1320" cy="884" r="10.5" fill="#0b76b0"/>
<circle cx="1318.8" cy="882.8" r="9.2" fill="#0ea0d9"/>
<circle cx="1316.5" cy="886.5" r="2.3" fill="#5cc0ea" opacity="0.8"/>
<circle cx="1576" cy="879" r="10.5" fill="#0b76b0"/>
<circle cx="1574.8" cy="877.8" r="9.2" fill="#0ea0d9"/>
<circle cx="1572.5" cy="881.5" r="2.3" fill="#5cc0ea" opacity="0.8"/>
<circle cx="1625" cy="901" r="10.5" fill="#0b76b0"/>
<circle cx="1623.8" cy="899.8" r="9.2" fill="#0ea0d9"/>
<circle cx="1621.5" cy="903.5" r="2.3" fill="#5cc0ea" opacity="0.8"/>
<circle cx="1532" cy="931" r="10.5" fill="#0b76b0"/>
<circle cx="1530.8" cy="929.8" r="9.2" fill="#0ea0d9"/>
<circle cx="1528.5" cy="933.5" r="2.3" fill="#5cc0ea" opacity="0.8"/>
<circle cx="1570" cy="936" r="10.5" fill="#0b76b0"/>
<circle cx="1568.8" cy="934.8" r="9.2" fill="#0ea0d9"/>
<circle cx="1566.5" cy="938.5" r="2.3" fill="#5cc0ea" opacity="0.8"/>
<circle cx="1578" cy="969" r="10.5" fill="#0b76b0"/>
<circle cx="1576.8" cy="967.8" r="9.2" fill="#0ea0d9"/>
<circle cx="1574.5" cy="971.5" r="2.3" fill="#5cc0ea" opacity="0.8"/>
<circle cx="1551" cy="1001" r="10.5" fill="#0b76b0"/>
<circle cx="1549.8" cy="999.8" r="9.2" fill="#0ea0d9"/>
<circle cx="1547.5" cy="1003.5" r="2.3" fill="#5cc0ea" opacity="0.8"/>
<circle cx="1660" cy="803" r="10.5" fill="#0b76b0"/>
<circle cx="1658.8" cy="801.8" r="9.2" fill="#0ea0d9"/>
<circle cx="1656.5" cy="805.5" r="2.3" fill="#5cc0ea" opacity="0.8"/>
<circle cx="1665" cy="855" r="10.5" fill="#0b76b0"/>
<circle cx="1663.8" cy="853.8" r="9.2" fill="#0ea0d9"/>
<circle cx="1661.5" cy="857.5" r="2.3" fill="#5cc0ea" opacity="0.8"/>
<line x1="1268" y1="500" x2="1238.9" y2="465.1" stroke="#9a1e1e" stroke-width="4.5"/>
<path d="M1239.3,439.3 L1241,441 L1242.4,443 L1243.6,445.2 L1244.4,447.4 L1244.9,449.8 L1245,452.3 L1244.8,454.7 L1244.2,457.1 L1243.3,459.3 L1242.1,461.4 L1240.6,463.4 L1238.9,465.1 L1236.9,466.5 L1234.7,467.6 L1232.4,468.4 L1230.1,468.9 L1227.6,469 L1225.2,468.8 L1222.8,468.2 L1220.6,467.3 L1218.5,466.1 L1216.5,464.6 L1214.9,462.8 L1213.5,460.8" fill="none" stroke="#4a1828" stroke-width="10.5" stroke-linecap="round"/>
<path d="M1239.3,439.3 L1241,441 L1242.4,443 L1243.6,445.2 L1244.4,447.4 L1244.9,449.8 L1245,452.3 L1244.8,454.7 L1244.2,457.1 L1243.3,459.3 L1242.1,461.4 L1240.6,463.4 L1238.9,465.1 L1236.9,466.5 L1234.7,467.6 L1232.4,468.4 L1230.1,468.9 L1227.6,469 L1225.2,468.8 L1222.8,468.2 L1220.6,467.3 L1218.5,466.1 L1216.5,464.6 L1214.9,462.8 L1213.5,460.8" fill="none" stroke="#b8647c" stroke-width="7.5" stroke-linecap="round"/>
<line x1="1459" y1="500" x2="1456.8" y2="450" stroke="#9a1e1e" stroke-width="4.5"/>
<path d="M1472.7,429.7 L1473,432.1 L1472.9,434.6 L1472.5,437 L1471.8,439.3 L1470.7,441.5 L1469.4,443.5 L1467.7,445.3 L1465.9,446.9 L1463.8,448.1 L1461.5,449.1 L1459.2,449.7 L1456.8,450 L1454.3,449.9 L1451.9,449.5 L1449.6,448.8 L1447.4,447.7 L1445.4,446.3 L1443.6,444.7 L1442.1,442.8 L1440.8,440.7 L1439.9,438.4 L1439.3,436.1 L1439,433.6 L1439.1,431.2" fill="none" stroke="#4a1828" stroke-width="10.5" stroke-linecap="round"/>
<path d="M1472.7,429.7 L1473,432.1 L1472.9,434.6 L1472.5,437 L1471.8,439.3 L1470.7,441.5 L1469.4,443.5 L1467.7,445.3 L1465.9,446.9 L1463.8,448.1 L1461.5,449.1 L1459.2,449.7 L1456.8,450 L1454.3,449.9 L1451.9,449.5 L1449.6,448.8 L1447.4,447.7 L1445.4,446.3 L1443.6,444.7 L1442.1,442.8 L1440.8,440.7 L1439.9,438.4 L1439.3,436.1 L1439,433.6 L1439.1,431.2" fill="none" stroke="#b8647c" stroke-width="7.5" stroke-linecap="round"/>
<line x1="1700" y1="570" x2="1725.2" y2="551.9" stroke="#9a1e1e" stroke-width="4.5"/>
<path d="M1750.9,554.2 L1749,555.7 L1746.9,557 L1744.7,558 L1742.4,558.7 L1739.9,559 L1737.5,558.9 L1735.1,558.5 L1732.8,557.8 L1730.6,556.8 L1728.6,555.4 L1726.7,553.8 L1725.2,551.9 L1723.9,549.8 L1722.9,547.6 L1722.3,545.3 L1722,542.8 L1722.1,540.4 L1722.5,538 L1723.2,535.7 L1724.3,533.5 L1725.7,531.5 L1727.3,529.7 L1729.2,528.1 L1731.3,526.9" fill="none" stroke="#4a1828" stroke-width="10.5" stroke-linecap="round"/>
<path d="M1750.9,554.2 L1749,555.7 L1746.9,557 L1744.7,558 L1742.4,558.7 L1739.9,559 L1737.5,558.9 L1735.1,558.5 L1732.8,557.8 L1730.6,556.8 L1728.6,555.4 L1726.7,553.8 L1725.2,551.9 L1723.9,549.8 L1722.9,547.6 L1722.3,545.3 L1722,542.8 L1722.1,540.4 L1722.5,538 L1723.2,535.7 L1724.3,533.5 L1725.7,531.5 L1727.3,529.7 L1729.2,528.1 L1731.3,526.9" fill="none" stroke="#b8647c" stroke-width="7.5" stroke-linecap="round"/>
<line x1="1275" y1="805" x2="1255.7" y2="837.4" stroke="#9a1e1e" stroke-width="4.5"/>
<path d="M1231.3,845.6 L1232.3,843.4 L1233.7,841.4 L1235.4,839.6 L1237.3,838.1 L1239.4,836.8 L1241.6,835.9 L1244,835.3 L1246.4,835 L1248.8,835.1 L1251.2,835.5 L1253.5,836.3 L1255.7,837.4 L1257.7,838.8 L1259.5,840.5 L1261,842.4 L1262.2,844.5 L1263.2,846.7 L1263.7,849.1 L1264,851.5 L1263.9,853.9 L1263.4,856.3 L1262.7,858.6 L1261.5,860.8 L1260.1,862.8" fill="none" stroke="#4a1828" stroke-width="10.5" stroke-linecap="round"/>
<path d="M1231.3,845.6 L1232.3,843.4 L1233.7,841.4 L1235.4,839.6 L1237.3,838.1 L1239.4,836.8 L1241.6,835.9 L1244,835.3 L1246.4,835 L1248.8,835.1 L1251.2,835.5 L1253.5,836.3 L1255.7,837.4 L1257.7,838.8 L1259.5,840.5 L1261,842.4 L1262.2,844.5 L1263.2,846.7 L1263.7,849.1 L1264,851.5 L1263.9,853.9 L1263.4,856.3 L1262.7,858.6 L1261.5,860.8 L1260.1,862.8" fill="none" stroke="#b8647c" stroke-width="7.5" stroke-linecap="round"/>
<line x1="1476" y1="915" x2="1480.4" y2="943.2" stroke="#9a1e1e" stroke-width="4.5"/>
<path d="M1466.8,965.1 L1466.2,962.7 L1466,960.3 L1466.1,957.9 L1466.6,955.5 L1467.4,953.2 L1468.6,951 L1470,949.1 L1471.7,947.3 L1473.6,945.8 L1475.7,944.6 L1478,943.7 L1480.4,943.2 L1482.8,943 L1485.2,943.1 L1487.6,943.6 L1489.9,944.5 L1492.1,945.6 L1494,947.1 L1495.8,948.8 L1497.2,950.7 L1498.4,952.8 L1499.3,955.1 L1499.8,957.5 L1500,959.9" fill="none" stroke="#4a1828" stroke-width="10.5" stroke-linecap="round"/>
<path d="M1466.8,965.1 L1466.2,962.7 L1466,960.3 L1466.1,957.9 L1466.6,955.5 L1467.4,953.2 L1468.6,951 L1470,949.1 L1471.7,947.3 L1473.6,945.8 L1475.7,944.6 L1478,943.7 L1480.4,943.2 L1482.8,943 L1485.2,943.1 L1487.6,943.6 L1489.9,944.5 L1492.1,945.6 L1494,947.1 L1495.8,948.8 L1497.2,950.7 L1498.4,952.8 L1499.3,955.1 L1499.8,957.5 L1500,959.9" fill="none" stroke="#b8647c" stroke-width="7.5" stroke-linecap="round"/>
<line x1="1640" y1="830" x2="1662" y2="845.3" stroke="#9a1e1e" stroke-width="4.5"/>
<path d="M1668.5,870.3 L1666.4,869 L1664.5,867.5 L1662.8,865.7 L1661.4,863.7 L1660.3,861.6 L1659.5,859.3 L1659.1,856.9 L1659,854.4 L1659.3,852 L1659.9,849.6 L1660.8,847.4 L1662,845.3 L1663.6,843.4 L1665.4,841.7 L1667.4,840.4 L1669.5,839.3 L1671.8,838.5 L1674.2,838.1 L1676.7,838 L1679.1,838.3 L1681.5,838.9 L1683.7,839.8 L1685.8,841.1 L1687.7,842.6" fill="none" stroke="#4a1828" stroke-width="10.5" stroke-linecap="round"/>
<path d="M1668.5,870.3 L1666.4,869 L1664.5,867.5 L1662.8,865.7 L1661.4,863.7 L1660.3,861.6 L1659.5,859.3 L1659.1,856.9 L1659,854.4 L1659.3,852 L1659.9,849.6 L1660.8,847.4 L1662,845.3 L1663.6,843.4 L1665.4,841.7 L1667.4,840.4 L1669.5,839.3 L1671.8,838.5 L1674.2,838.1 L1676.7,838 L1679.1,838.3 L1681.5,838.9 L1683.7,839.8 L1685.8,841.1 L1687.7,842.6" fill="none" stroke="#b8647c" stroke-width="7.5" stroke-linecap="round"/>
<path d="M1564.8,553C1565.6,554.4 1566.5,556 1566.5,557.4C1566.5,558.9 1566,560.4 1564.8,561.7C1563.7,563 1561.5,564.2 1559.8,565.3C1558.2,566.5 1556.4,567.5 1555.1,568.5C1553.9,569.6 1553.1,570.7 1552.4,571.9C1551.7,573 1551.3,574.2 1551,575.4C1550.6,576.6 1550.4,577.9 1550.1,579.2C1549.8,580.4 1549.6,581.7 1549.2,582.9C1548.7,584.1 1548.1,585.3 1547.4,586.3C1546.6,587.4 1545.6,588.3 1544.6,589.2C1543.6,590 1542.5,590.8 1541.4,591.6C1540.4,592.4 1539.3,593.1 1538.4,594C1537.5,594.8 1536.7,595.8 1536,596.8C1535.4,597.8 1534.8,598.9 1534.2,600C1533.6,601.1 1533,602.3 1532.3,603.3C1531.6,604.3 1530.8,605.3 1529.8,606.1C1528.9,606.9 1527.8,607.6 1526.7,608.2C1525.5,608.7 1524.3,609.1 1523.1,609.6C1522,610.1 1520.8,610.5 1519.7,611.1C1518.7,611.7 1517.7,612.4 1516.7,613.2C1515.8,614 1515,615 1514,615.9C1513.1,616.7 1512.2,617.8 1511.2,618.6C1510.2,619.3 1509.1,620.1 1507.9,620.6C1506.8,621.1 1505.5,621.3 1504.3,621.5C1503,621.7 1501.7,621.6 1500.4,621.8C1499.2,621.9 1497.9,621.9 1496.8,622.5C1495.6,623.1 1494.6,624.1 1493.4,625.2C1492.3,626.4 1491.3,628.4 1490,629.5C1488.8,630.6 1487.5,631.6 1486.1,632C1484.8,632.4 1483.4,632.2 1482,632C1480.6,631.8 1479.2,631.6 1477.9,630.9C1476.6,630.2 1475.3,629 1474.1,627.9C1472.9,626.8 1471.9,625.2 1470.7,624.3C1469.6,623.4 1468.5,622.8 1467.2,622.4C1466,622 1464.8,622.1 1463.5,622C1462.2,622 1460.9,622.1 1459.6,621.9C1458.3,621.8 1457,621.6 1455.9,621.1C1454.7,620.7 1453.6,620 1452.5,619.2C1451.5,618.5 1450.5,617.5 1449.6,616.6C1448.6,615.7 1447.8,614.8 1446.8,614C1445.8,613.2 1444.8,612.5 1443.7,612C1442.5,611.5 1441.3,611.2 1439.8,611.1C1438.3,611.1 1436.4,611.4 1434.6,611.5C1432.9,611.5 1430.7,611.9 1429.4,611.4C1428.2,610.8 1427.4,609.5 1426.9,608.1C1426.5,606.6 1427,604.3 1427,602.6C1426.9,600.9 1427,599.2 1426.6,597.9C1426.2,596.5 1425.5,595.6 1424.7,594.6C1424,593.6 1422.9,592.9 1421.9,592C1420.9,591.2 1419.8,590.4 1418.8,589.5C1417.9,588.6 1416.9,587.6 1416.2,586.5C1415.5,585.4 1415,584.2 1414.6,583C1414.2,581.8 1414.1,580.4 1413.9,579.1C1413.7,577.9 1413.6,576.5 1413.4,575.3C1413.2,574 1412.9,572.8 1412.5,571.6C1412.1,570.4 1411.5,569.3 1410.9,568.1C1410.4,566.9 1409.7,565.8 1409.2,564.5C1408.8,563.3 1408.3,562 1408.2,560.8C1408,559.5 1408.1,558.2 1408.3,556.9C1408.5,555.6 1409,554.3 1409.4,553C1409.9,551.7 1410.4,550.5 1410.8,549.3C1411.2,548 1411.5,546.8 1411.7,545.6C1411.8,544.4 1411.8,543.1 1411.8,541.9C1411.8,540.6 1411.6,539.3 1411.6,538C1411.6,536.8 1411.7,535.5 1411.9,534.2C1412.2,533 1412.6,531.8 1413.2,530.6C1413.8,529.5 1414.6,528.4 1415.3,527.4C1416,526.3 1416.8,525.3 1417.4,524.3C1418.1,523.2 1418.6,522.1 1419.1,520.9C1419.5,519.7 1419.7,518.5 1420,517.2C1420.2,515.9 1420.3,514.5 1420.6,513.1C1420.9,511.8 1421.2,510.4 1421.6,509.1C1422,507.8 1422.6,506.6 1422.9,505.1C1423.2,503.6 1423.4,502.1 1423.3,500.2C1423.3,498.3 1422.6,495.7 1422.6,493.6C1422.6,491.6 1422.5,489.1 1423.4,487.9C1424.3,486.7 1426.3,486.5 1428.1,486.5C1430,486.5 1432.7,487.6 1434.7,487.9C1436.6,488.1 1438.3,488.2 1439.9,488.2C1441.5,488.1 1442.7,487.6 1444.1,487.4C1445.5,487.1 1446.9,487 1448.3,486.9C1449.7,486.8 1451.2,486.9 1452.5,486.8C1453.9,486.8 1455.2,486.8 1456.5,486.6C1457.8,486.4 1458.9,486.1 1460.1,485.7C1461.3,485.4 1462.5,484.8 1463.6,484.5C1464.8,484.2 1466,483.8 1467.3,483.7C1468.5,483.5 1469.8,483.6 1471,483.7C1472.3,483.9 1473.6,484.4 1474.8,484.8C1476.1,485.1 1477.3,485.7 1478.5,486C1479.7,486.3 1480.8,486.6 1482,486.7C1483.2,486.8 1484.3,486.6 1485.5,486.5C1486.7,486.3 1487.9,485.8 1489.1,485.6C1490.3,485.3 1491.6,485 1492.8,484.9C1494,484.8 1495.3,484.9 1496.4,485.1C1497.6,485.3 1498.8,485.7 1499.9,486.2C1501,486.6 1502.1,487.2 1503.3,487.6C1504.4,488 1505.5,488.4 1506.7,488.6C1508,488.7 1509.3,488.7 1510.8,488.3C1512.3,488 1514.1,487.1 1515.9,486.6C1517.6,486 1519.7,485 1521.2,485.1C1522.7,485.2 1523.9,486 1524.8,487.1C1525.6,488.3 1525.8,490.4 1526.4,491.9C1526.9,493.5 1527.2,495.1 1527.8,496.4C1528.5,497.7 1529.2,498.7 1530.1,499.6C1530.9,500.5 1532,501.3 1533,502C1534,502.7 1535.2,503.4 1536.3,504.1C1537.4,504.9 1538.5,505.6 1539.4,506.5C1540.4,507.4 1541.2,508.4 1541.8,509.5C1542.5,510.6 1542.9,511.9 1543.3,513.2C1543.8,514.4 1544,515.8 1544.4,517C1544.7,518.2 1545.1,519.5 1545.6,520.6C1546.1,521.7 1546.8,522.8 1547.5,523.8C1548.3,524.9 1549.2,525.8 1550,526.9C1550.9,527.9 1551.8,529 1552.4,530.1C1553.1,531.3 1553.6,532.5 1554,533.7C1554.4,534.9 1554.4,536.3 1554.6,537.6C1554.8,538.8 1554.7,540.2 1555.2,541.4C1555.6,542.7 1556.3,543.8 1557.3,545.1C1558.3,546.3 1560,547.5 1561.3,548.8C1562.5,550.2 1563.9,551.6 1564.8,553Z" fill="#d17d7e" stroke="#a9585b" stroke-width="2.2"/>
<circle cx="1458.8" cy="509.9" r="1.2" fill="#b86265"/>
<circle cx="1518.7" cy="511.7" r="3" fill="#b86265"/>
<circle cx="1468.1" cy="492.4" r="3" fill="#b86265"/>
<circle cx="1474.2" cy="496.7" r="1.8" fill="#b86265"/>
<circle cx="1517.8" cy="518.9" r="1.8" fill="#b86265"/>
<circle cx="1453.8" cy="500.1" r="2.5" fill="#b86265"/>
<circle cx="1431.8" cy="527.8" r="3" fill="#b86265"/>
<circle cx="1428.6" cy="521.7" r="1.2" fill="#b86265"/>
<circle cx="1521.2" cy="503.4" r="1.8" fill="#b86265"/>
<circle cx="1465.2" cy="502.7" r="1.2" fill="#b86265"/>
<circle cx="1470.5" cy="503.1" r="2.5" fill="#b86265"/>
<circle cx="1520.4" cy="502.8" r="1.2" fill="#b86265"/>
<circle cx="1520.6" cy="523.9" r="3" fill="#b86265"/>
<circle cx="1489.2" cy="492" r="1.2" fill="#b86265"/>
<circle cx="1434.8" cy="516.4" r="3" fill="#b86265"/>
<circle cx="1471.5" cy="501" r="2.5" fill="#b86265"/>
<circle cx="1442.7" cy="524.6" r="1.8" fill="#b86265"/>
<circle cx="1533.6" cy="543.6" r="2.5" fill="#b86265"/>
<path d="M1486.5,572C1486.1,573.9 1485.3,575.7 1484.6,577.5C1484,579.3 1483.2,580.9 1482.7,582.6C1482.3,584.4 1482.1,586.2 1481.8,588.2C1481.5,590.2 1481.5,592.4 1480.9,594.5C1480.4,596.5 1479.7,598.8 1478.5,600.5C1477.3,602.1 1475.4,603.5 1473.5,604.3C1471.6,605.2 1469.2,605.3 1467.1,605.5C1465,605.7 1462.8,605.3 1460.9,605.5C1459,605.7 1457.3,606.1 1455.5,606.8C1453.7,607.5 1452,608.8 1450,609.6C1448,610.5 1445.8,611.7 1443.7,612C1441.5,612.3 1439.2,612.2 1437.2,611.5C1435.1,610.9 1433.3,609.4 1431.6,608C1430,606.6 1428.7,604.8 1427.3,603.3C1425.9,601.7 1424.6,600.2 1423.2,598.8C1421.8,597.3 1420.2,596.1 1418.9,594.6C1417.6,593 1416.3,591.4 1415.4,589.6C1414.5,587.8 1414,585.7 1413.8,583.8C1413.6,581.8 1413.9,579.7 1414,577.7C1414.1,575.7 1414.4,573.9 1414.4,572C1414.4,570.1 1414.2,568.3 1414,566.3C1413.9,564.3 1413.4,562.2 1413.6,560.2C1413.7,558.1 1413.9,555.9 1414.7,554C1415.5,552.2 1416.9,550.4 1418.3,549C1419.7,547.5 1421.7,546.5 1423.4,545.4C1425.1,544.3 1426.9,543.5 1428.6,542.5C1430.3,541.5 1431.8,540.5 1433.5,539.6C1435.1,538.6 1436.8,537.6 1438.6,536.9C1440.4,536.1 1442.3,535.6 1444.2,535.3C1446.1,535 1448.1,535 1450,535.1C1451.9,535.1 1453.8,535.4 1455.8,535.5C1457.8,535.6 1459.7,535.6 1461.8,535.7C1463.9,535.8 1466.1,535.8 1468.2,536.2C1470.3,536.7 1472.6,537.3 1474.5,538.3C1476.3,539.4 1478,540.9 1479.4,542.6C1480.7,544.3 1481.7,546.4 1482.5,548.4C1483.4,550.3 1483.9,552.4 1484.5,554.4C1485.1,556.4 1485.7,558.3 1486.1,560.3C1486.5,562.2 1486.9,564.2 1487,566.1C1487,568.1 1486.8,570.1 1486.5,572Z" fill="#ab5658" stroke="#94484b" stroke-width="1.5"/>
<line x1="1467" y1="580" x2="1463.9" y2="561.8" stroke="#9a1e1e" stroke-width="4.5"/>
<path d="M1477.1,539.7 L1477.7,542 L1478,544.4 L1477.9,546.9 L1477.5,549.3 L1476.7,551.6 L1475.6,553.7 L1474.2,555.7 L1472.5,557.5 L1470.6,559 L1468.5,560.3 L1466.2,561.2 L1463.9,561.8 L1461.4,562 L1459,561.9 L1456.6,561.4 L1454.3,560.6 L1452.2,559.5 L1450.2,558.1 L1448.4,556.4 L1446.9,554.5 L1445.7,552.4 L1444.8,550.1 L1444.2,547.8 L1444,545.3" fill="none" stroke="#4a1828" stroke-width="10.5" stroke-linecap="round"/>
<path d="M1477.1,539.7 L1477.7,542 L1478,544.4 L1477.9,546.9 L1477.5,549.3 L1476.7,551.6 L1475.6,553.7 L1474.2,555.7 L1472.5,557.5 L1470.6,559 L1468.5,560.3 L1466.2,561.2 L1463.9,561.8 L1461.4,562 L1459,561.9 L1456.6,561.4 L1454.3,560.6 L1452.2,559.5 L1450.2,558.1 L1448.4,556.4 L1446.9,554.5 L1445.7,552.4 L1444.8,550.1 L1444.2,547.8 L1444,545.3" fill="none" stroke="#b8647c" stroke-width="7.5" stroke-linecap="round"/>
<line x1="1660" y1="535" x2="1669.6" y2="506.9" stroke="#5b4a8c" stroke-width="6"/>
<path d="M1695.7,491.5 L1695,494.3 L1693.9,497 L1692.4,499.4 L1690.6,501.7 L1688.5,503.6 L1686.1,505.2 L1683.6,506.5 L1680.9,507.4 L1678,507.9 L1675.2,508 L1672.3,507.7 L1669.6,506.9 L1666.9,505.8 L1664.5,504.3 L1662.2,502.5 L1660.3,500.4 L1658.7,498 L1657.4,495.5 L1656.6,492.7 L1656.1,489.9 L1656,487 L1656.4,484.2 L1657.1,481.4 L1658.2,478.8" fill="none" stroke="#241433" stroke-width="13" stroke-linecap="round"/>
<path d="M1695.7,491.5 L1695,494.3 L1693.9,497 L1692.4,499.4 L1690.6,501.7 L1688.5,503.6 L1686.1,505.2 L1683.6,506.5 L1680.9,507.4 L1678,507.9 L1675.2,508 L1672.3,507.7 L1669.6,506.9 L1666.9,505.8 L1664.5,504.3 L1662.2,502.5 L1660.3,500.4 L1658.7,498 L1657.4,495.5 L1656.6,492.7 L1656.1,489.9 L1656,487 L1656.4,484.2 L1657.1,481.4 L1658.2,478.8" fill="none" stroke="#4a2e66" stroke-width="10" stroke-linecap="round"/>
<line x1="1700" y1="624" x2="1737.4" y2="615.8" stroke="#5b4a8c" stroke-width="6"/>
<path d="M1761.4,628.8 L1759,629.6 L1756.4,629.9 L1753.8,630 L1751.3,629.6 L1748.8,628.9 L1746.4,627.8 L1744.3,626.4 L1742.3,624.8 L1740.6,622.8 L1739.2,620.7 L1738.1,618.3 L1737.4,615.8 L1737,613.3 L1737,610.7 L1737.4,608.2 L1738.1,605.7 L1739.2,603.3 L1740.6,601.2 L1742.3,599.2 L1744.3,597.5 L1746.4,596.2 L1748.8,595.1 L1751.3,594.4 L1753.8,594" fill="none" stroke="#241433" stroke-width="13" stroke-linecap="round"/>
<path d="M1761.4,628.8 L1759,629.6 L1756.4,629.9 L1753.8,630 L1751.3,629.6 L1748.8,628.9 L1746.4,627.8 L1744.3,626.4 L1742.3,624.8 L1740.6,622.8 L1739.2,620.7 L1738.1,618.3 L1737.4,615.8 L1737,613.3 L1737,610.7 L1737.4,608.2 L1738.1,605.7 L1739.2,603.3 L1740.6,601.2 L1742.3,599.2 L1744.3,597.5 L1746.4,596.2 L1748.8,595.1 L1751.3,594.4 L1753.8,594" fill="none" stroke="#4a2e66" stroke-width="10" stroke-linecap="round"/>
<line x1="1690" y1="700" x2="1730.6" y2="718.5" stroke="#5b4a8c" stroke-width="6"/>
<path d="M1742.1,743.3 L1739.6,742.4 L1737.4,741.2 L1735.3,739.7 L1733.5,737.9 L1731.9,735.8 L1730.7,733.5 L1729.7,731.1 L1729.2,728.6 L1729,726 L1729.2,723.5 L1729.7,720.9 L1730.6,718.5 L1731.9,716.3 L1733.4,714.2 L1735.2,712.4 L1737.3,710.8 L1739.6,709.6 L1742,708.7 L1744.5,708.2 L1747.1,708 L1749.6,708.2 L1752.2,708.8 L1754.6,709.7 L1756.8,710.9" fill="none" stroke="#241433" stroke-width="13" stroke-linecap="round"/>
<path d="M1742.1,743.3 L1739.6,742.4 L1737.4,741.2 L1735.3,739.7 L1733.5,737.9 L1731.9,735.8 L1730.7,733.5 L1729.7,731.1 L1729.2,728.6 L1729,726 L1729.2,723.5 L1729.7,720.9 L1730.6,718.5 L1731.9,716.3 L1733.4,714.2 L1735.2,712.4 L1737.3,710.8 L1739.6,709.6 L1742,708.7 L1744.5,708.2 L1747.1,708 L1749.6,708.2 L1752.2,708.8 L1754.6,709.7 L1756.8,710.9" fill="none" stroke="#4a2e66" stroke-width="10" stroke-linecap="round"/>
<line x1="1215" y1="703" x2="1186.7" y2="713.8" stroke="#5b4a8c" stroke-width="6"/>
<path d="M1158.1,703.6 L1160.7,702.4 L1163.5,701.5 L1166.3,701.1 L1169.2,701 L1172,701.4 L1174.8,702.2 L1177.4,703.3 L1179.8,704.9 L1182,706.7 L1183.9,708.9 L1185.5,711.3 L1186.7,713.8 L1187.5,716.6 L1187.9,719.4 L1188,722.3 L1187.6,725.1 L1186.8,727.9 L1185.6,730.5 L1184.1,732.9 L1182.2,735.1 L1180,737 L1177.6,738.5 L1175,739.7 L1172.3,740.5" fill="none" stroke="#241433" stroke-width="13" stroke-linecap="round"/>
<path d="M1158.1,703.6 L1160.7,702.4 L1163.5,701.5 L1166.3,701.1 L1169.2,701 L1172,701.4 L1174.8,702.2 L1177.4,703.3 L1179.8,704.9 L1182,706.7 L1183.9,708.9 L1185.5,711.3 L1186.7,713.8 L1187.5,716.6 L1187.9,719.4 L1188,722.3 L1187.6,725.1 L1186.8,727.9 L1185.6,730.5 L1184.1,732.9 L1182.2,735.1 L1180,737 L1177.6,738.5 L1175,739.7 L1172.3,740.5" fill="none" stroke="#4a2e66" stroke-width="10" stroke-linecap="round"/>
<line x1="1240" y1="762" x2="1212.5" y2="777.3" stroke="#5b4a8c" stroke-width="6"/>
<path d="M1182.8,771.2 L1185.2,769.6 L1187.8,768.4 L1190.5,767.5 L1193.3,767.1 L1196.2,767 L1199,767.4 L1201.8,768.2 L1204.4,769.4 L1206.8,770.9 L1209,772.7 L1210.9,774.9 L1212.5,777.3 L1213.7,779.9 L1214.5,782.6 L1214.9,785.5 L1215,788.3 L1214.6,791.2 L1213.8,793.9 L1212.6,796.5 L1211,798.9 L1209.2,801.1 L1207,803 L1204.6,804.5 L1202,805.7" fill="none" stroke="#241433" stroke-width="13" stroke-linecap="round"/>
<path d="M1182.8,771.2 L1185.2,769.6 L1187.8,768.4 L1190.5,767.5 L1193.3,767.1 L1196.2,767 L1199,767.4 L1201.8,768.2 L1204.4,769.4 L1206.8,770.9 L1209,772.7 L1210.9,774.9 L1212.5,777.3 L1213.7,779.9 L1214.5,782.6 L1214.9,785.5 L1215,788.3 L1214.6,791.2 L1213.8,793.9 L1212.6,796.5 L1211,798.9 L1209.2,801.1 L1207,803 L1204.6,804.5 L1202,805.7" fill="none" stroke="#4a2e66" stroke-width="10" stroke-linecap="round"/>
<path d="M1732.5,640C1733.1,641.6 1732.9,643.2 1732.7,644.8C1732.5,646.4 1731.8,648 1731,649.5C1730.3,651 1729.2,652.5 1728.1,653.9C1726.9,655.3 1725.6,656.7 1724.2,658C1722.9,659.3 1721.4,660.5 1720,661.7C1718.6,662.9 1717.1,664.1 1715.8,665.2C1714.5,666.3 1713.1,667.4 1712,668.5C1710.9,669.6 1709.5,670.5 1709.2,671.9C1708.9,673.2 1709.8,675 1710.2,676.6C1710.6,678.3 1711.2,680 1711.7,681.8C1712.2,683.6 1712.8,685.5 1713.4,687.4C1713.9,689.3 1714.5,691.3 1714.8,693.2C1715.2,695.1 1715.6,697.1 1715.6,699C1715.7,700.9 1715.6,702.7 1715.1,704.4C1714.7,706 1714.4,707.8 1713.2,708.9C1711.9,710 1710.1,710.7 1707.7,710.9C1705.4,711.1 1701.9,710.3 1699.1,709.9C1696.3,709.5 1693.3,708.8 1690.9,708.5C1688.5,708.2 1686.5,708.2 1684.8,708.4C1683.1,708.6 1681.9,709.2 1680.6,709.8C1679.4,710.4 1678.4,711.2 1677.3,711.9C1676.3,712.7 1675.3,713.5 1674.2,714.3C1673.2,715.1 1672.2,715.9 1671.2,716.6C1670.1,717.4 1669.1,718.1 1668,718.9C1667,719.7 1665.9,720.4 1665,721.4C1664.1,722.4 1663.1,723.3 1662.4,724.8C1661.7,726.3 1661.2,728 1660.7,730.2C1660.3,732.4 1660.2,735.4 1659.8,738.1C1659.4,740.7 1659.1,744.1 1658.3,746.1C1657.5,748.1 1656.2,749.3 1654.7,750C1653.3,750.7 1651.5,750.5 1649.8,750.2C1648.1,750 1646.3,749.3 1644.5,748.6C1642.7,747.9 1640.9,746.8 1639.2,745.8C1637.4,744.8 1635.7,743.7 1634.1,742.7C1632.4,741.7 1630.9,740.8 1629.4,740C1627.9,739.2 1626.4,738.1 1625,737.9C1623.6,737.8 1622.4,738.2 1621.1,738.9C1619.7,739.6 1618.5,740.9 1617.1,742C1615.7,743.1 1614.3,744.4 1612.8,745.6C1611.4,746.8 1609.9,748.1 1608.3,749C1606.8,749.9 1605.2,750.8 1603.6,751.2C1602.1,751.6 1600.5,751.7 1599,751.5C1597.5,751.2 1596,750.5 1594.7,749.6C1593.3,748.7 1592,747.4 1590.8,746C1589.6,744.7 1588.5,743.1 1587.4,741.7C1586.3,740.2 1585.3,738.6 1584.3,737.2C1583.3,735.8 1582.5,734.1 1581.3,733.3C1580.1,732.5 1578.7,732.6 1577.2,732.6C1575.7,732.6 1574.1,732.9 1572.5,733.1C1570.9,733.3 1569.2,733.5 1567.5,733.7C1565.8,733.8 1564.1,734 1562.4,734C1560.7,734.1 1559,734.1 1557.4,733.8C1555.7,733.6 1554.1,733.3 1552.7,732.8C1551.2,732.2 1549.8,731.6 1548.6,730.6C1547.5,729.6 1546.5,728.3 1545.7,726.9C1545,725.4 1544.5,723.5 1544.2,721.8C1543.8,720 1543.6,717.9 1543.4,716.1C1543.2,714.2 1543.1,712.4 1542.9,710.7C1542.7,709 1542.4,707.4 1542,705.9C1541.7,704.4 1541.2,703.1 1540.7,701.8C1540.2,700.5 1539.6,699.3 1539,698.1C1538.4,696.9 1537.7,695.8 1537,694.7C1536.4,693.6 1535.7,692.5 1535,691.4C1534.3,690.3 1533.7,689.2 1533,688.1C1532.4,687 1531.7,685.8 1531,684.7C1530.3,683.6 1529.7,682.5 1528.9,681.5C1528,680.4 1527.2,679.4 1526,678.5C1524.8,677.5 1523.4,676.7 1521.8,675.9C1520.1,675 1518,674.4 1516,673.5C1514.1,672.7 1511.7,671.9 1510.2,670.8C1508.6,669.7 1507.3,668.4 1506.7,667.1C1506,665.7 1506.1,664 1506.3,662.5C1506.5,660.9 1507,659.3 1507.7,657.7C1508.3,656.1 1509.3,654.5 1510.2,652.9C1511,651.3 1512.1,649.8 1513,648.3C1513.9,646.9 1514.9,645.5 1515.5,644.1C1516,642.7 1516.4,641.4 1516.3,640C1516.1,638.6 1515.2,637.3 1514.7,635.9C1514.1,634.5 1513.5,633.1 1513,631.7C1512.4,630.2 1511.7,628.7 1511.2,627.2C1510.6,625.7 1510,624.2 1509.6,622.6C1509.1,621.1 1508.7,619.5 1508.4,617.9C1508.1,616.4 1507.9,614.8 1507.9,613.2C1507.9,611.7 1507.9,610.1 1508.3,608.7C1508.6,607.2 1509,605.7 1510,604.5C1511,603.2 1512.8,602.2 1514.5,601.4C1516.3,600.5 1518.6,599.8 1520.4,599.1C1522.3,598.4 1524.2,597.8 1525.7,597C1527.3,596.2 1528.6,595.4 1529.7,594.5C1530.8,593.7 1531.8,592.7 1532.6,591.7C1533.4,590.6 1534.1,589.6 1534.7,588.4C1535.3,587.2 1535.7,586 1536.1,584.6C1536.4,583.2 1536.6,581.8 1536.6,580.1C1536.7,578.4 1536.4,576.5 1536.2,574.5C1536,572.5 1535.5,570.2 1535.4,568.1C1535.3,566.1 1535.1,563.8 1535.6,562.2C1536,560.5 1537,559.3 1538.1,558.2C1539.1,557.1 1540.5,556.4 1541.9,555.7C1543.3,554.9 1544.8,554.4 1546.3,553.9C1547.9,553.4 1549.5,553.1 1551.1,552.8C1552.7,552.5 1554.4,552.4 1556,552.2C1557.7,552.1 1559.3,552 1560.9,551.9C1562.5,551.9 1564.1,551.8 1565.6,551.7C1567.2,551.6 1568.7,551.6 1570.1,551.4C1571.5,551.3 1573.1,551.6 1574.3,550.9C1575.4,550.1 1576.1,548.3 1576.9,546.8C1577.8,545.2 1578.6,543.5 1579.4,541.6C1580.3,539.7 1581.1,537.6 1582,535.5C1582.9,533.5 1583.9,531.2 1585,529.4C1586.1,527.5 1587.3,525.6 1588.6,524.4C1590,523.1 1591.5,522.1 1593,521.7C1594.6,521.3 1596.3,521.4 1598,521.9C1599.7,522.3 1601.5,523.3 1603.2,524.5C1604.9,525.6 1606.6,527.2 1608.2,528.6C1609.8,530.1 1611.3,531.8 1612.8,533.3C1614.3,534.8 1615.7,536.3 1617.1,537.5C1618.5,538.8 1619.8,539.9 1621.1,540.9C1622.4,541.8 1623.6,543 1624.9,543.3C1626.2,543.5 1627.6,543.1 1629,542.6C1630.4,542.1 1631.9,541.2 1633.5,540.3C1635.1,539.3 1636.8,538.1 1638.5,536.9C1640.3,535.7 1642.2,534.2 1644.1,533C1646,531.8 1648,530.4 1649.9,529.5C1651.8,528.7 1653.8,528 1655.5,527.8C1657.3,527.7 1658.9,528.2 1660.4,528.8C1661.9,529.5 1663.2,530.7 1664.4,531.9C1665.5,533.2 1666.6,534.8 1667.5,536.5C1668.4,538.1 1669.2,540.1 1669.9,541.9C1670.6,543.8 1671.1,545.8 1671.7,547.7C1672.3,549.6 1672.8,551.4 1673.3,553.2C1673.9,555 1674.4,556.6 1674.9,558.2C1675.5,559.8 1676.1,561.2 1676.7,562.6C1677.3,564 1678,565.2 1678.7,566.5C1679.4,567.7 1680.1,568.8 1680.9,569.9C1681.8,570.9 1682.6,572 1683.6,572.8C1684.7,573.6 1685.9,574.2 1687.2,574.8C1688.6,575.4 1690,575.9 1691.5,576.4C1693.1,576.8 1694.8,577.2 1696.6,577.6C1698.4,578 1700.4,578.3 1702.2,578.8C1704.1,579.2 1706.1,579.7 1707.7,580.4C1709.4,581.1 1711,581.9 1712.2,583C1713.4,584.1 1714.3,585.3 1714.7,586.9C1715.1,588.4 1714.8,590.3 1714.4,592.1C1713.9,594 1712.9,596.1 1712.1,598C1711.3,599.9 1710.2,601.9 1709.5,603.6C1708.8,605.4 1708.2,607 1707.9,608.6C1707.5,610.1 1707.3,611.5 1707.3,612.9C1707.4,614.3 1707.7,615.5 1708.2,616.7C1708.7,617.9 1709.5,619.1 1710.5,620.2C1711.4,621.4 1712.5,622.6 1713.9,623.7C1715.2,624.9 1716.9,626 1718.6,627.3C1720.3,628.5 1722.3,629.7 1724.1,631.1C1725.9,632.4 1727.9,633.8 1729.3,635.3C1730.7,636.8 1732,638.4 1732.5,640Z" fill="#82a3cb" stroke="#285b90" stroke-width="2"/>
<path d="M1654.6,638.9 L1654,641.9 L1653.2,644.9 L1652.2,647.8 L1651,650.6 L1649.6,653.4 L1648,656 L1646.2,658.4 L1644.2,660.8 L1642,663 L1639.7,665 M1635.5,667.9 L1633.8,668.9 L1632.1,669.8 L1630.3,670.6 L1628.5,671.4 L1626.7,672 L1624.8,672.6 L1622.9,673 L1621,673.4 L1619,673.7 L1617.1,673.9 M1612.1,674 L1609.3,673.7 L1606.6,673.3 L1603.9,672.7 L1601.2,671.9 L1598.6,671 L1596,669.9 L1593.6,668.5 L1591.2,667.1 L1589,665.5 L1586.8,663.7 M1583.2,660 L1581.8,658.4 L1580.5,656.6 L1579.3,654.8 L1578.2,653 L1577.2,651 L1576.3,649.1 L1575.5,647 L1574.8,645 L1574.2,642.9 L1573.7,640.8 M1589.7,600 L1590.7,599.3 L1591.7,598.6 L1592.8,597.9 L1593.9,597.3 L1595,596.7 L1596.1,596.1 L1597.3,595.6 L1598.5,595.1 L1599.6,594.6 L1600.8,594.2 M1658.2,609.5 L1659.6,612.5 L1660.8,615.5 L1661.9,618.6 L1662.7,621.8 L1663.4,625 L1663.8,628.3 L1664,631.5 L1664,634.8 L1663.7,638.1 L1663.3,641.3 M1623.2,682.1 L1618.9,682.8 L1614.4,683 L1610,682.8 L1605.6,682.3 L1601.3,681.4 L1597.1,680.1 L1593,678.4 L1589.1,676.3 L1585.4,674 L1581.8,671.3 M1576.2,665.7 L1574.3,663.4 L1572.6,661 L1571,658.5 L1569.5,655.9 L1568.3,653.2 L1567.1,650.4 L1566.2,647.6 L1565.4,644.7 L1564.8,641.8 L1564.3,638.9 M1564.2,628.2 L1564.7,624.9 L1565.3,621.7 L1566.1,618.5 L1567.2,615.4 L1568.5,612.4 L1569.9,609.4 L1571.5,606.6 L1573.4,603.9 L1575.4,601.3 L1577.5,598.8 M1667.6,608.3 L1668.4,610.1 L1669.1,611.9 L1669.8,613.7 L1670.4,615.6 L1670.9,617.4 L1671.4,619.3 L1671.8,621.2 L1672.2,623.1 L1672.5,625.1 L1672.7,627 M1672.9,635.5 L1672.8,637.9 L1672.5,640.4 L1672.2,642.9 L1671.7,645.3 L1671.1,647.7 L1670.5,650.1 L1669.7,652.5 L1668.8,654.8 L1667.9,657.1 L1666.8,659.3 M1663.4,665.3 L1661.5,668 L1659.4,670.6 L1657.3,673.1 L1654.9,675.5 L1652.5,677.7 L1649.9,679.8 L1647.2,681.8 L1644.4,683.6 L1641.5,685.2 L1638.5,686.7 M1625.7,690.8 L1620.5,691.6 L1615.4,692 L1610.2,691.9 L1605,691.3 L1599.9,690.3 L1595,688.8 L1590.1,687 L1585.5,684.7 L1581.1,682 L1576.9,678.9 M1572.4,674.9 L1570.9,673.3 L1569.4,671.6 L1568,669.9 L1566.6,668.2 L1565.4,666.4 L1564.1,664.5 L1563,662.7 L1561.9,660.7 L1560.9,658.8 L1560,656.7 M1556,643.8 L1555.6,641.1 L1555.3,638.4 L1555.1,635.8 L1555,633.1 L1555.1,630.4 L1555.2,627.7 L1555.5,625 L1556,622.3 L1556.5,619.7 L1557.2,617 M1596.5,576.7 L1598.2,576.2 L1599.9,575.7 L1601.6,575.3 L1603.3,575 L1605.1,574.7 L1606.8,574.4 L1608.6,574.3 L1610.3,574.1 L1612.1,574 L1613.8,574 M1622.9,574.7 L1624.6,575 L1626.3,575.3 L1628,575.7 L1629.7,576.1 L1631.3,576.6 L1633,577.1 L1634.6,577.7 L1636.2,578.4 L1637.8,579 L1639.4,579.8 M1674.1,601.2 L1675,603 L1675.9,604.9 L1676.7,606.8 L1677.5,608.7 L1678.2,610.6 L1678.9,612.6 L1679.5,614.6 L1680,616.6 L1680.5,618.6 L1680.9,620.6 M1681.9,636.7 L1681.6,640.6 L1681,644.4 L1680.3,648.2 L1679.3,652 L1678.1,655.6 L1676.7,659.3 L1675.1,662.8 L1673.3,666.2 L1671.3,669.5 L1669.2,672.8 M1658.7,684.3 L1656.2,686.3 L1653.6,688.3 L1651,690.1 L1648.3,691.7 L1645.5,693.3 L1642.6,694.7 L1639.7,696 L1636.7,697.1 L1633.6,698.1 L1630.5,699 M1623.4,700.3 L1617.9,700.9 L1612.3,701 L1606.7,700.6 L1601.2,699.8 L1595.7,698.5 L1590.4,696.8 L1585.2,694.6 L1580.3,692 L1575.5,689.1 L1571,685.7 M1565.1,680.3 L1562.9,677.9 L1560.8,675.3 L1558.8,672.7 L1556.9,669.9 L1555.2,667.1 L1553.6,664.2 L1552.1,661.3 L1550.8,658.2 L1549.7,655.1 L1548.7,652 M1546,635.2 L1546,632.6 L1546.1,630 L1546.2,627.3 L1546.5,624.7 L1546.9,622.1 L1547.3,619.5 L1547.9,617 L1548.6,614.4 L1549.4,611.9 L1550.2,609.4 M1554.2,600.7 L1557,596 L1560.1,591.5 L1563.7,587.3 L1567.6,583.3 L1571.7,579.7 L1576.2,576.5 L1580.9,573.6 L1585.8,571.1 L1590.9,569 L1596.1,567.4 M1609.7,565.1 L1610.4,565.1 L1611,565.1 L1611.7,565 L1612.3,565 L1613,565 L1613.6,565 L1614.3,565 L1614.9,565 L1615.6,565 L1616.2,565 M1690.9,637.6 L1690.4,642.9 L1689.5,648.2 L1688.2,653.5 L1686.6,658.6 L1684.6,663.6 L1682.3,668.5 L1679.7,673.2 L1676.7,677.7 L1673.4,682 L1669.8,686 M1659,695.5 L1657.3,696.7 L1655.4,697.9 L1653.6,699 L1651.7,700.1 L1649.8,701.2 L1647.9,702.1 L1645.9,703.1 L1643.9,703.9 L1641.9,704.8 L1639.9,705.5 M1622.9,709.5 L1616.7,710 L1610.5,709.9 L1604.3,709.4 L1598.2,708.4 L1592.1,706.8 L1586.3,704.8 L1580.6,702.4 L1575.1,699.4 L1569.9,696.1 L1564.9,692.3 M1554.1,681.4 L1551.9,678.5 L1549.8,675.5 L1547.8,672.4 L1546,669.2 L1544.4,665.9 L1542.9,662.6 L1541.6,659.1 L1540.4,655.7 L1539.4,652.1 L1538.6,648.5 M1537.2,638.7 L1537,633.6 L1537.1,628.5 L1537.6,623.3 L1538.4,618.3 L1539.6,613.2 L1541.1,608.3 L1542.9,603.5 L1545,598.8 L1547.4,594.3 L1550.2,589.9 M1561.2,577 L1563.5,574.9 L1565.8,572.9 L1568.3,571 L1570.8,569.3 L1573.4,567.6 L1576.1,566 L1578.8,564.5 L1581.5,563.2 L1584.4,561.9 L1587.2,560.8 M1595.5,558.2 L1598.8,557.5 L1602.1,556.9 L1605.4,556.5 L1608.7,556.2 L1612,556 L1615.3,556 L1618.6,556.1 L1622,556.4 L1625.3,556.8 L1628.5,557.4" fill="none" stroke="#5b80b5" stroke-width="7" stroke-linecap="round"/>
<path d="M1654.6,638.9 L1654,641.9 L1653.2,644.9 L1652.2,647.8 L1651,650.6 L1649.6,653.4 L1648,656 L1646.2,658.4 L1644.2,660.8 L1642,663 L1639.7,665 M1635.5,667.9 L1633.8,668.9 L1632.1,669.8 L1630.3,670.6 L1628.5,671.4 L1626.7,672 L1624.8,672.6 L1622.9,673 L1621,673.4 L1619,673.7 L1617.1,673.9 M1612.1,674 L1609.3,673.7 L1606.6,673.3 L1603.9,672.7 L1601.2,671.9 L1598.6,671 L1596,669.9 L1593.6,668.5 L1591.2,667.1 L1589,665.5 L1586.8,663.7 M1583.2,660 L1581.8,658.4 L1580.5,656.6 L1579.3,654.8 L1578.2,653 L1577.2,651 L1576.3,649.1 L1575.5,647 L1574.8,645 L1574.2,642.9 L1573.7,640.8 M1589.7,600 L1590.7,599.3 L1591.7,598.6 L1592.8,597.9 L1593.9,597.3 L1595,596.7 L1596.1,596.1 L1597.3,595.6 L1598.5,595.1 L1599.6,594.6 L1600.8,594.2 M1658.2,609.5 L1659.6,612.5 L1660.8,615.5 L1661.9,618.6 L1662.7,621.8 L1663.4,625 L1663.8,628.3 L1664,631.5 L1664,634.8 L1663.7,638.1 L1663.3,641.3 M1623.2,682.1 L1618.9,682.8 L1614.4,683 L1610,682.8 L1605.6,682.3 L1601.3,681.4 L1597.1,680.1 L1593,678.4 L1589.1,676.3 L1585.4,674 L1581.8,671.3 M1576.2,665.7 L1574.3,663.4 L1572.6,661 L1571,658.5 L1569.5,655.9 L1568.3,653.2 L1567.1,650.4 L1566.2,647.6 L1565.4,644.7 L1564.8,641.8 L1564.3,638.9 M1564.2,628.2 L1564.7,624.9 L1565.3,621.7 L1566.1,618.5 L1567.2,615.4 L1568.5,612.4 L1569.9,609.4 L1571.5,606.6 L1573.4,603.9 L1575.4,601.3 L1577.5,598.8 M1667.6,608.3 L1668.4,610.1 L1669.1,611.9 L1669.8,613.7 L1670.4,615.6 L1670.9,617.4 L1671.4,619.3 L1671.8,621.2 L1672.2,623.1 L1672.5,625.1 L1672.7,627 M1672.9,635.5 L1672.8,637.9 L1672.5,640.4 L1672.2,642.9 L1671.7,645.3 L1671.1,647.7 L1670.5,650.1 L1669.7,652.5 L1668.8,654.8 L1667.9,657.1 L1666.8,659.3 M1663.4,665.3 L1661.5,668 L1659.4,670.6 L1657.3,673.1 L1654.9,675.5 L1652.5,677.7 L1649.9,679.8 L1647.2,681.8 L1644.4,683.6 L1641.5,685.2 L1638.5,686.7 M1625.7,690.8 L1620.5,691.6 L1615.4,692 L1610.2,691.9 L1605,691.3 L1599.9,690.3 L1595,688.8 L1590.1,687 L1585.5,684.7 L1581.1,682 L1576.9,678.9 M1572.4,674.9 L1570.9,673.3 L1569.4,671.6 L1568,669.9 L1566.6,668.2 L1565.4,666.4 L1564.1,664.5 L1563,662.7 L1561.9,660.7 L1560.9,658.8 L1560,656.7 M1556,643.8 L1555.6,641.1 L1555.3,638.4 L1555.1,635.8 L1555,633.1 L1555.1,630.4 L1555.2,627.7 L1555.5,625 L1556,622.3 L1556.5,619.7 L1557.2,617 M1596.5,576.7 L1598.2,576.2 L1599.9,575.7 L1601.6,575.3 L1603.3,575 L1605.1,574.7 L1606.8,574.4 L1608.6,574.3 L1610.3,574.1 L1612.1,574 L1613.8,574 M1622.9,574.7 L1624.6,575 L1626.3,575.3 L1628,575.7 L1629.7,576.1 L1631.3,576.6 L1633,577.1 L1634.6,577.7 L1636.2,578.4 L1637.8,579 L1639.4,579.8 M1674.1,601.2 L1675,603 L1675.9,604.9 L1676.7,606.8 L1677.5,608.7 L1678.2,610.6 L1678.9,612.6 L1679.5,614.6 L1680,616.6 L1680.5,618.6 L1680.9,620.6 M1681.9,636.7 L1681.6,640.6 L1681,644.4 L1680.3,648.2 L1679.3,652 L1678.1,655.6 L1676.7,659.3 L1675.1,662.8 L1673.3,666.2 L1671.3,669.5 L1669.2,672.8 M1658.7,684.3 L1656.2,686.3 L1653.6,688.3 L1651,690.1 L1648.3,691.7 L1645.5,693.3 L1642.6,694.7 L1639.7,696 L1636.7,697.1 L1633.6,698.1 L1630.5,699 M1623.4,700.3 L1617.9,700.9 L1612.3,701 L1606.7,700.6 L1601.2,699.8 L1595.7,698.5 L1590.4,696.8 L1585.2,694.6 L1580.3,692 L1575.5,689.1 L1571,685.7 M1565.1,680.3 L1562.9,677.9 L1560.8,675.3 L1558.8,672.7 L1556.9,669.9 L1555.2,667.1 L1553.6,664.2 L1552.1,661.3 L1550.8,658.2 L1549.7,655.1 L1548.7,652 M1546,635.2 L1546,632.6 L1546.1,630 L1546.2,627.3 L1546.5,624.7 L1546.9,622.1 L1547.3,619.5 L1547.9,617 L1548.6,614.4 L1549.4,611.9 L1550.2,609.4 M1554.2,600.7 L1557,596 L1560.1,591.5 L1563.7,587.3 L1567.6,583.3 L1571.7,579.7 L1576.2,576.5 L1580.9,573.6 L1585.8,571.1 L1590.9,569 L1596.1,567.4 M1609.7,565.1 L1610.4,565.1 L1611,565.1 L1611.7,565 L1612.3,565 L1613,565 L1613.6,565 L1614.3,565 L1614.9,565 L1615.6,565 L1616.2,565 M1690.9,637.6 L1690.4,642.9 L1689.5,648.2 L1688.2,653.5 L1686.6,658.6 L1684.6,663.6 L1682.3,668.5 L1679.7,673.2 L1676.7,677.7 L1673.4,682 L1669.8,686 M1659,695.5 L1657.3,696.7 L1655.4,697.9 L1653.6,699 L1651.7,700.1 L1649.8,701.2 L1647.9,702.1 L1645.9,703.1 L1643.9,703.9 L1641.9,704.8 L1639.9,705.5 M1622.9,709.5 L1616.7,710 L1610.5,709.9 L1604.3,709.4 L1598.2,708.4 L1592.1,706.8 L1586.3,704.8 L1580.6,702.4 L1575.1,699.4 L1569.9,696.1 L1564.9,692.3 M1554.1,681.4 L1551.9,678.5 L1549.8,675.5 L1547.8,672.4 L1546,669.2 L1544.4,665.9 L1542.9,662.6 L1541.6,659.1 L1540.4,655.7 L1539.4,652.1 L1538.6,648.5 M1537.2,638.7 L1537,633.6 L1537.1,628.5 L1537.6,623.3 L1538.4,618.3 L1539.6,613.2 L1541.1,608.3 L1542.9,603.5 L1545,598.8 L1547.4,594.3 L1550.2,589.9 M1561.2,577 L1563.5,574.9 L1565.8,572.9 L1568.3,571 L1570.8,569.3 L1573.4,567.6 L1576.1,566 L1578.8,564.5 L1581.5,563.2 L1584.4,561.9 L1587.2,560.8 M1595.5,558.2 L1598.8,557.5 L1602.1,556.9 L1605.4,556.5 L1608.7,556.2 L1612,556 L1615.3,556 L1618.6,556.1 L1622,556.4 L1625.3,556.8 L1628.5,557.4" fill="none" stroke="#7398c7" stroke-width="4.6" stroke-linecap="round"/>
<circle cx="1614" cy="633" r="29" fill="#245789"/>
<line x1="1527" y1="600" x2="1532.8" y2="572.6" stroke="#5b4a8c" stroke-width="6"/>
<path d="M1557,554.2 L1556.6,557 L1555.8,559.8 L1554.6,562.4 L1553.1,564.8 L1551.3,567 L1549.1,568.9 L1546.7,570.5 L1544.1,571.7 L1541.4,572.5 L1538.5,572.9 L1535.7,573 L1532.8,572.6 L1530.1,571.8 L1527.5,570.6 L1525.1,569 L1522.9,567.2 L1521,565 L1519.5,562.6 L1518.3,560 L1517.5,557.2 L1517,554.4 L1517.1,551.5 L1517.5,548.7 L1518.3,546" fill="none" stroke="#241433" stroke-width="13" stroke-linecap="round"/>
<path d="M1557,554.2 L1556.6,557 L1555.8,559.8 L1554.6,562.4 L1553.1,564.8 L1551.3,567 L1549.1,568.9 L1546.7,570.5 L1544.1,571.7 L1541.4,572.5 L1538.5,572.9 L1535.7,573 L1532.8,572.6 L1530.1,571.8 L1527.5,570.6 L1525.1,569 L1522.9,567.2 L1521,565 L1519.5,562.6 L1518.3,560 L1517.5,557.2 L1517,554.4 L1517.1,551.5 L1517.5,548.7 L1518.3,546" fill="none" stroke="#4a2e66" stroke-width="10" stroke-linecap="round"/>
<line x1="1581" y1="615" x2="1602.8" y2="590.1" stroke="#5b4a8c" stroke-width="6"/>
<path d="M1632.9,585.8 L1631.1,588.1 L1629.1,590.1 L1626.8,591.8 L1624.3,593.2 L1621.6,594.2 L1618.8,594.8 L1616,595 L1613.1,594.8 L1610.3,594.2 L1607.6,593.2 L1605.1,591.8 L1602.8,590.1 L1600.8,588 L1599.1,585.7 L1597.8,583.2 L1596.8,580.5 L1596.2,577.7 L1596,574.8 L1596.2,572 L1596.9,569.2 L1597.9,566.5 L1599.3,564 L1601,561.7 L1603.1,559.7" fill="none" stroke="#241433" stroke-width="13" stroke-linecap="round"/>
<path d="M1632.9,585.8 L1631.1,588.1 L1629.1,590.1 L1626.8,591.8 L1624.3,593.2 L1621.6,594.2 L1618.8,594.8 L1616,595 L1613.1,594.8 L1610.3,594.2 L1607.6,593.2 L1605.1,591.8 L1602.8,590.1 L1600.8,588 L1599.1,585.7 L1597.8,583.2 L1596.8,580.5 L1596.2,577.7 L1596,574.8 L1596.2,572 L1596.9,569.2 L1597.9,566.5 L1599.3,564 L1601,561.7 L1603.1,559.7" fill="none" stroke="#4a2e66" stroke-width="10" stroke-linecap="round"/>
<path d="M1458.2,705C1456.5,706.7 1453.6,708.4 1451.2,709.9C1448.8,711.4 1445.8,712.8 1443.6,714.2C1441.3,715.6 1439.2,716.8 1437.6,718.1C1435.9,719.4 1434.8,720.6 1433.8,721.9C1432.8,723.2 1432.2,724.5 1431.6,725.8C1431,727.1 1430.6,728.4 1430.2,729.8C1429.7,731.1 1429.3,732.4 1429,733.8C1428.7,735.1 1428.4,736.5 1428.4,738C1428.4,739.5 1428.4,740.9 1429,742.7C1429.7,744.5 1430.8,746.5 1432.1,748.7C1433.3,750.9 1435.4,753.5 1436.5,755.8C1437.5,758 1438.5,760.5 1438.4,762.2C1438.3,764 1436.9,765.2 1435.8,766.5C1434.7,767.7 1433.2,768.7 1431.6,769.7C1430,770.6 1428.2,771.3 1426.5,772C1424.7,772.7 1422.8,773.2 1420.9,773.8C1419.1,774.3 1417.2,774.8 1415.5,775.3C1413.8,775.8 1412.1,776.3 1410.5,776.8C1408.9,777.3 1407.5,777.9 1406.1,778.5C1404.6,779.2 1403.3,779.8 1402,780.5C1400.8,781.2 1399.4,781.8 1398.4,782.7C1397.3,783.7 1396.6,785 1395.8,786.2C1395,787.5 1394.2,788.8 1393.5,790.3C1392.8,791.8 1392.2,793.5 1391.6,795.3C1391.1,797.1 1390.6,799.1 1390,801.1C1389.5,803.1 1389,805.3 1388.3,807.4C1387.6,809.4 1386.9,811.6 1385.9,813.3C1385,815.1 1383.9,816.7 1382.5,817.8C1381.2,819 1379.7,819.8 1378,820.1C1376.3,820.3 1374.3,820.1 1372.4,819.5C1370.5,819 1368.4,818 1366.4,817C1364.4,816 1362.4,814.7 1360.5,813.6C1358.6,812.6 1356.8,811.4 1355.1,810.6C1353.4,809.9 1351.7,808.6 1350.3,808.9C1348.8,809.2 1347.7,811 1346.4,812.3C1345.1,813.6 1343.8,815 1342.4,816.6C1341,818.1 1339.6,819.8 1338.1,821.5C1336.6,823.2 1335.1,825 1333.5,826.5C1331.9,828.1 1330.2,829.6 1328.4,830.7C1326.7,831.9 1324.9,832.8 1323.1,833.2C1321.4,833.6 1319.5,834.1 1317.9,833C1316.3,832 1314.8,829.5 1313.5,827C1312.2,824.4 1311.1,820.6 1310.1,817.7C1309,814.9 1308.1,812 1307,809.9C1306,807.9 1305,806.3 1303.8,805.3C1302.6,804.2 1301.2,803.9 1299.8,803.6C1298.4,803.3 1296.9,803.4 1295.4,803.4C1293.9,803.4 1292.3,803.5 1290.7,803.7C1289.1,803.8 1287.4,804.1 1285.6,804.3C1283.9,804.6 1282,805 1280.2,805.3C1278.3,805.6 1276.3,806 1274.4,806.2C1272.5,806.4 1270.5,806.6 1268.7,806.5C1266.8,806.4 1265,806.2 1263.3,805.7C1261.7,805.2 1260.1,804.5 1258.8,803.5C1257.5,802.5 1256.4,801.2 1255.5,799.7C1254.6,798.1 1254.1,796.2 1253.6,794.3C1253.1,792.4 1252.9,790.3 1252.6,788.3C1252.4,786.3 1252.3,784.2 1252.1,782.3C1251.9,780.4 1251.7,778.6 1251.4,776.9C1251.1,775.1 1250.8,773.5 1250.3,772.1C1249.9,770.6 1249.5,769.1 1248.6,768C1247.7,766.9 1246.3,766.2 1245.1,765.3C1243.9,764.4 1242.6,763.5 1241.3,762.7C1240,761.8 1238.6,760.9 1237.1,760.1C1235.7,759.2 1234.1,758.3 1232.6,757.4C1231.1,756.5 1229.5,755.6 1228,754.6C1226.5,753.6 1225,752.5 1223.7,751.4C1222.3,750.3 1221,749 1219.9,747.7C1218.8,746.4 1217.9,745 1217.2,743.5C1216.5,742 1216,740.5 1215.9,738.8C1215.8,737.1 1216.2,735.3 1216.7,733.5C1217.3,731.8 1218.3,729.9 1219.2,728.1C1220.1,726.4 1221.2,724.6 1222.2,722.9C1223.1,721.2 1224.1,719.6 1224.9,718.1C1225.6,716.5 1226.8,715 1226.8,713.5C1226.8,712.1 1225.7,710.8 1224.9,709.3C1224.1,707.9 1223,706.5 1221.9,705C1220.7,703.5 1219.4,702 1218.1,700.4C1216.8,698.8 1215.3,697.1 1214,695.4C1212.7,693.7 1211.3,691.9 1210.2,690.1C1209.2,688.4 1208.2,686.5 1207.7,684.7C1207.2,682.9 1206.9,681.1 1207.2,679.4C1207.5,677.7 1208.2,676.1 1209.3,674.6C1210.5,673.2 1212.4,671.9 1214.3,670.7C1216.2,669.6 1218.5,668.6 1220.7,667.7C1222.8,666.7 1225.1,665.9 1227.1,665C1229,664.1 1230.9,663.3 1232.5,662.4C1234.1,661.5 1235.5,660.6 1236.7,659.6C1238,658.6 1239.1,657.6 1240,656.5C1240.8,655.3 1241.4,654.1 1241.9,652.7C1242.3,651.4 1242.6,649.9 1242.8,648.3C1243,646.7 1243.1,645.1 1243.1,643.3C1243.1,641.5 1242.9,639.6 1242.7,637.5C1242.5,635.4 1242.2,633.2 1241.9,630.9C1241.7,628.7 1241.3,626.2 1241.3,624C1241.2,621.8 1241.3,619.4 1241.7,617.5C1242.1,615.5 1242.8,613.7 1243.8,612.3C1244.9,611 1246.3,609.9 1248,609.2C1249.7,608.6 1251.8,608.3 1253.9,608.3C1256,608.2 1258.4,608.6 1260.6,609C1262.9,609.3 1265.2,609.9 1267.4,610.4C1269.6,610.8 1271.7,611.3 1273.6,611.6C1275.6,611.9 1277.4,612.2 1279.1,612.2C1280.8,612.3 1282.4,612.2 1283.9,612.1C1285.4,611.9 1286.9,611.7 1288.2,611.3C1289.6,610.9 1290.8,610.3 1292.1,609.6C1293.3,608.9 1294.4,608 1295.6,607C1296.7,606 1297.9,605 1299,603.7C1300.1,602.4 1301.2,601 1302.3,599.4C1303.4,597.8 1304.5,596 1305.7,594.3C1306.9,592.5 1308.1,590.4 1309.4,588.7C1310.7,586.9 1312.1,585 1313.5,583.6C1315,582.2 1316.6,580.9 1318.2,580.2C1319.9,579.6 1321.6,578.9 1323.3,579.6C1325,580.3 1326.9,582.4 1328.5,584.5C1330.2,586.6 1331.8,589.9 1333.3,592.2C1334.8,594.6 1336.2,596.9 1337.5,598.5C1338.9,600.2 1340.2,601.5 1341.5,602C1342.9,602.6 1344.4,602.2 1345.8,602.1C1347.2,602 1348.7,601.7 1350.2,601.4C1351.7,601.1 1353.3,600.8 1354.9,600.4C1356.5,600 1358.1,599.5 1359.8,599C1361.5,598.5 1363.2,597.9 1365,597.3C1366.8,596.7 1368.7,596.1 1370.6,595.6C1372.4,595 1374.4,594.5 1376.2,594.2C1378.1,593.8 1380.1,593.6 1381.9,593.6C1383.7,593.5 1385.5,593.7 1387.2,594.1C1388.9,594.5 1390.6,595 1391.9,596C1393.3,597.1 1394.4,598.6 1395.3,600.3C1396.1,602.1 1396.6,604.5 1397,606.8C1397.4,609 1397.6,611.5 1397.8,613.8C1398.1,616 1398.3,618.2 1398.6,620.2C1399,622.1 1399.4,623.9 1399.9,625.4C1400.5,627 1401.1,628.4 1401.9,629.7C1402.6,631 1403.2,632.3 1404.3,633.2C1405.4,634.1 1406.7,634.7 1408.3,635.2C1410,635.6 1411.8,635.9 1414,636C1416.3,636 1419.2,635.6 1422.1,635.4C1424.9,635.2 1428.5,634.5 1431.2,634.7C1433.9,634.8 1436.6,635.1 1438.2,636.1C1439.8,637.1 1440.3,638.9 1440.8,640.6C1441.3,642.3 1441.3,644.3 1441.2,646.3C1441,648.3 1440.5,650.5 1439.9,652.6C1439.3,654.7 1438.5,656.8 1437.7,658.9C1437,660.9 1436.1,662.9 1435.4,664.8C1434.7,666.7 1433.2,668.8 1433.6,670.3C1433.9,671.8 1436.1,672.5 1437.7,673.7C1439.2,674.8 1440.9,675.9 1442.6,677.1C1444.4,678.3 1446.2,679.5 1448,680.8C1449.8,682.1 1451.6,683.4 1453.2,684.9C1454.8,686.3 1456.4,687.8 1457.6,689.4C1458.8,691 1459.9,692.7 1460.5,694.4C1461.2,696.1 1461.9,697.9 1461.5,699.7C1461.1,701.4 1459.9,703.3 1458.2,705Z" fill="#82a3cb" stroke="#285b90" stroke-width="2"/>
<path d="M1362.4,744.6 L1359.5,747.1 L1356.4,749.3 L1353.2,751.3 L1349.8,753 L1346.3,754.4 L1342.7,755.5 L1339,756.3 L1335.3,756.8 L1331.5,757 L1327.7,756.9 M1321.3,756 L1319.6,755.6 L1317.9,755.1 L1316.3,754.6 L1314.6,754 L1313,753.3 L1311.4,752.6 L1309.9,751.9 L1308.3,751 L1306.9,750.2 L1305.4,749.2 M1286.7,698.6 L1287.1,697.2 L1287.6,695.8 L1288.1,694.5 L1288.6,693.1 L1289.2,691.8 L1289.8,690.5 L1290.5,689.2 L1291.2,687.9 L1292,686.7 L1292.8,685.4 M1300.2,676.8 L1302,675.3 L1303.8,673.9 L1305.7,672.6 L1307.7,671.4 L1309.7,670.2 L1311.8,669.2 L1313.9,668.3 L1316.1,667.5 L1318.3,666.8 L1320.5,666.2 M1329.8,665 L1332.9,665 L1336,665.3 L1339,665.7 L1342,666.3 L1345,667.2 L1347.9,668.2 L1350.7,669.5 L1353.5,670.9 L1356.1,672.5 L1358.7,674.2 M1365.7,680.8 L1367.9,683.5 L1369.9,686.5 L1371.7,689.6 L1373.3,692.8 L1374.5,696.2 L1375.6,699.6 L1376.3,703.1 L1376.8,706.7 L1377,710.2 L1376.9,713.8 M1277.9,725.3 L1277.5,723.6 L1277.1,721.9 L1276.8,720.1 L1276.5,718.4 L1276.3,716.6 L1276.1,714.9 L1276,713.1 L1276,711.3 L1276,709.5 L1276.1,707.8 M1278.5,694.7 L1279.2,692.6 L1279.9,690.5 L1280.8,688.5 L1281.8,686.5 L1282.8,684.5 L1283.9,682.6 L1285.1,680.7 L1286.3,678.9 L1287.7,677.2 L1289,675.4 M1296.7,668 L1298.8,666.4 L1301,664.9 L1303.2,663.5 L1305.5,662.3 L1307.9,661.1 L1310.3,660 L1312.8,659.1 L1315.3,658.3 L1317.8,657.6 L1320.4,657 M1327.3,656.1 L1330.8,656 L1334.4,656.1 L1337.8,656.4 L1341.3,657 L1344.7,657.7 L1348.1,658.7 L1351.4,659.9 L1354.6,661.3 L1357.8,662.9 L1360.8,664.7 M1365.4,668.1 L1368.6,670.8 L1371.5,673.8 L1374.3,677 L1376.7,680.4 L1378.9,684 L1380.8,687.8 L1382.5,691.6 L1383.8,695.6 L1384.8,699.7 L1385.5,703.8 M1385.7,716.3 L1385.5,718.4 L1385.2,720.4 L1384.8,722.4 L1384.3,724.4 L1383.8,726.4 L1383.2,728.4 L1382.5,730.3 L1381.7,732.2 L1380.9,734.1 L1380,736 M1376.6,741.8 L1376.4,742 L1376.2,742.3 L1376.1,742.5 L1375.9,742.8 L1375.7,743 L1375.5,743.3 L1375.3,743.5 L1375.2,743.8 L1375,744 L1374.8,744.3 M1345,773.4 L1342.9,773.9 L1340.7,774.3 L1338.6,774.6 L1336.4,774.8 L1334.2,774.9 L1332,775 L1329.8,775 L1327.7,774.9 L1325.5,774.8 L1323.3,774.5 M1312.9,772.4 L1309.7,771.4 L1306.7,770.2 L1303.7,768.9 L1300.8,767.4 L1297.9,765.8 L1295.2,764 L1292.5,762.1 L1289.9,760.1 L1287.5,757.9 L1285.1,755.6 M1276.9,745.1 L1275,742 L1273.4,738.8 L1271.9,735.5 L1270.6,732.1 L1269.5,728.7 L1268.6,725.2 L1267.9,721.6 L1267.4,718 L1267.1,714.4 L1267,710.8 M1267.8,700.7 L1268.4,697.6 L1269.2,694.5 L1270.1,691.4 L1271.1,688.3 L1272.4,685.4 L1273.7,682.5 L1275.2,679.6 L1276.9,676.9 L1278.7,674.2 L1280.6,671.6 M1332.3,647 L1335.5,647.2 L1338.8,647.5 L1342,648 L1345.3,648.6 L1348.4,649.4 L1351.6,650.4 L1354.7,651.5 L1357.7,652.8 L1360.6,654.3 L1363.5,655.9 M1375.6,665.1 L1377.4,666.9 L1379.1,668.8 L1380.8,670.8 L1382.4,672.8 L1383.9,674.9 L1385.3,677.1 L1386.6,679.3 L1387.8,681.6 L1389,683.9 L1390,686.3 M1385,661.8 L1386.4,663.5 L1387.8,665.1 L1389.1,666.8 L1390.4,668.6 L1391.6,670.3 L1392.8,672.2 L1393.9,674 L1395,675.9 L1396,677.8 L1397,679.7 M1402.6,697 L1403.3,701.2 L1403.8,705.4 L1404,709.7 L1403.9,713.9 L1403.6,718.2 L1403.1,722.4 L1402.3,726.6 L1401.3,730.7 L1400,734.8 L1398.5,738.8 M1391.7,751.5 L1389.3,754.9 L1386.7,758.2 L1383.9,761.3 L1380.9,764.3 L1377.7,767.1 L1374.4,769.7 L1371,772.1 L1367.4,774.3 L1363.7,776.3 L1359.9,778 M1305.3,779.3 L1299.3,776.8 L1293.6,773.7 L1288.1,770.1 L1283,766 L1278.3,761.5 L1274,756.6 L1270.2,751.3 L1266.8,745.7 L1264,739.9 L1261.6,733.8 M1259,723.3 L1258.7,721 L1258.4,718.7 L1258.2,716.4 L1258.1,714.1 L1258,711.8 L1258,709.5 L1258.1,707.2 L1258.3,704.9 L1258.5,702.6 L1258.8,700.3 M1260.7,691.4 L1262.2,686.6 L1264.1,681.8 L1266.3,677.2 L1268.8,672.8 L1271.6,668.5 L1274.8,664.5 L1278.1,660.6 L1281.8,657.1 L1285.7,653.8 L1289.8,650.7 M1271.1,655 L1275,651.1 L1279.2,647.4 L1283.7,644 L1288.3,641 L1293.2,638.3 L1298.2,635.9 L1303.4,633.8 L1308.7,632.1 L1314.1,630.8 L1319.5,629.8 M1329.1,629 L1333.7,629 L1338.3,629.3 L1342.8,629.9 L1347.4,630.7 L1351.9,631.7 L1356.3,633 L1360.6,634.5 L1364.9,636.3 L1369,638.3 L1373,640.6 M1380.7,645.8 L1385.8,650 L1390.6,654.7 L1395.1,659.8 L1399,665.2 L1402.6,670.9 L1405.6,676.9 L1408.1,683.2 L1410.1,689.6 L1411.6,696.1 L1412.6,702.8 M1413,713.3 L1412.9,715.8 L1412.7,718.2 L1412.4,720.6 L1412.1,723.1 L1411.7,725.5 L1411.2,727.9 L1410.7,730.3 L1410.1,732.7 L1409.4,735 L1408.6,737.4 M1402.1,751.9 L1399.3,756.4 L1396.1,760.8 L1392.7,765 L1389,769 L1385.1,772.7 L1380.9,776.1 L1376.5,779.2 L1371.9,782.1 L1367.1,784.6 L1362.2,786.8 M1347.4,791.3 L1342.5,792.2 L1337.5,792.7 L1332.6,793 L1327.6,792.9 L1322.6,792.6 L1317.7,791.9 L1312.8,790.9 L1307.9,789.7 L1303.2,788.1 L1298.6,786.3 M1285.9,779.5 L1281.5,776.4 L1277.3,773 L1273.3,769.3 L1269.6,765.4 L1266.2,761.2 L1263,756.8 L1260.1,752.2 L1257.6,747.5 L1255.3,742.6 L1253.4,737.5" fill="none" stroke="#5b80b5" stroke-width="7" stroke-linecap="round"/>
<path d="M1362.4,744.6 L1359.5,747.1 L1356.4,749.3 L1353.2,751.3 L1349.8,753 L1346.3,754.4 L1342.7,755.5 L1339,756.3 L1335.3,756.8 L1331.5,757 L1327.7,756.9 M1321.3,756 L1319.6,755.6 L1317.9,755.1 L1316.3,754.6 L1314.6,754 L1313,753.3 L1311.4,752.6 L1309.9,751.9 L1308.3,751 L1306.9,750.2 L1305.4,749.2 M1286.7,698.6 L1287.1,697.2 L1287.6,695.8 L1288.1,694.5 L1288.6,693.1 L1289.2,691.8 L1289.8,690.5 L1290.5,689.2 L1291.2,687.9 L1292,686.7 L1292.8,685.4 M1300.2,676.8 L1302,675.3 L1303.8,673.9 L1305.7,672.6 L1307.7,671.4 L1309.7,670.2 L1311.8,669.2 L1313.9,668.3 L1316.1,667.5 L1318.3,666.8 L1320.5,666.2 M1329.8,665 L1332.9,665 L1336,665.3 L1339,665.7 L1342,666.3 L1345,667.2 L1347.9,668.2 L1350.7,669.5 L1353.5,670.9 L1356.1,672.5 L1358.7,674.2 M1365.7,680.8 L1367.9,683.5 L1369.9,686.5 L1371.7,689.6 L1373.3,692.8 L1374.5,696.2 L1375.6,699.6 L1376.3,703.1 L1376.8,706.7 L1377,710.2 L1376.9,713.8 M1277.9,725.3 L1277.5,723.6 L1277.1,721.9 L1276.8,720.1 L1276.5,718.4 L1276.3,716.6 L1276.1,714.9 L1276,713.1 L1276,711.3 L1276,709.5 L1276.1,707.8 M1278.5,694.7 L1279.2,692.6 L1279.9,690.5 L1280.8,688.5 L1281.8,686.5 L1282.8,684.5 L1283.9,682.6 L1285.1,680.7 L1286.3,678.9 L1287.7,677.2 L1289,675.4 M1296.7,668 L1298.8,666.4 L1301,664.9 L1303.2,663.5 L1305.5,662.3 L1307.9,661.1 L1310.3,660 L1312.8,659.1 L1315.3,658.3 L1317.8,657.6 L1320.4,657 M1327.3,656.1 L1330.8,656 L1334.4,656.1 L1337.8,656.4 L1341.3,657 L1344.7,657.7 L1348.1,658.7 L1351.4,659.9 L1354.6,661.3 L1357.8,662.9 L1360.8,664.7 M1365.4,668.1 L1368.6,670.8 L1371.5,673.8 L1374.3,677 L1376.7,680.4 L1378.9,684 L1380.8,687.8 L1382.5,691.6 L1383.8,695.6 L1384.8,699.7 L1385.5,703.8 M1385.7,716.3 L1385.5,718.4 L1385.2,720.4 L1384.8,722.4 L1384.3,724.4 L1383.8,726.4 L1383.2,728.4 L1382.5,730.3 L1381.7,732.2 L1380.9,734.1 L1380,736 M1376.6,741.8 L1376.4,742 L1376.2,742.3 L1376.1,742.5 L1375.9,742.8 L1375.7,743 L1375.5,743.3 L1375.3,743.5 L1375.2,743.8 L1375,744 L1374.8,744.3 M1345,773.4 L1342.9,773.9 L1340.7,774.3 L1338.6,774.6 L1336.4,774.8 L1334.2,774.9 L1332,775 L1329.8,775 L1327.7,774.9 L1325.5,774.8 L1323.3,774.5 M1312.9,772.4 L1309.7,771.4 L1306.7,770.2 L1303.7,768.9 L1300.8,767.4 L1297.9,765.8 L1295.2,764 L1292.5,762.1 L1289.9,760.1 L1287.5,757.9 L1285.1,755.6 M1276.9,745.1 L1275,742 L1273.4,738.8 L1271.9,735.5 L1270.6,732.1 L1269.5,728.7 L1268.6,725.2 L1267.9,721.6 L1267.4,718 L1267.1,714.4 L1267,710.8 M1267.8,700.7 L1268.4,697.6 L1269.2,694.5 L1270.1,691.4 L1271.1,688.3 L1272.4,685.4 L1273.7,682.5 L1275.2,679.6 L1276.9,676.9 L1278.7,674.2 L1280.6,671.6 M1332.3,647 L1335.5,647.2 L1338.8,647.5 L1342,648 L1345.3,648.6 L1348.4,649.4 L1351.6,650.4 L1354.7,651.5 L1357.7,652.8 L1360.6,654.3 L1363.5,655.9 M1375.6,665.1 L1377.4,666.9 L1379.1,668.8 L1380.8,670.8 L1382.4,672.8 L1383.9,674.9 L1385.3,677.1 L1386.6,679.3 L1387.8,681.6 L1389,683.9 L1390,686.3 M1385,661.8 L1386.4,663.5 L1387.8,665.1 L1389.1,666.8 L1390.4,668.6 L1391.6,670.3 L1392.8,672.2 L1393.9,674 L1395,675.9 L1396,677.8 L1397,679.7 M1402.6,697 L1403.3,701.2 L1403.8,705.4 L1404,709.7 L1403.9,713.9 L1403.6,718.2 L1403.1,722.4 L1402.3,726.6 L1401.3,730.7 L1400,734.8 L1398.5,738.8 M1391.7,751.5 L1389.3,754.9 L1386.7,758.2 L1383.9,761.3 L1380.9,764.3 L1377.7,767.1 L1374.4,769.7 L1371,772.1 L1367.4,774.3 L1363.7,776.3 L1359.9,778 M1305.3,779.3 L1299.3,776.8 L1293.6,773.7 L1288.1,770.1 L1283,766 L1278.3,761.5 L1274,756.6 L1270.2,751.3 L1266.8,745.7 L1264,739.9 L1261.6,733.8 M1259,723.3 L1258.7,721 L1258.4,718.7 L1258.2,716.4 L1258.1,714.1 L1258,711.8 L1258,709.5 L1258.1,707.2 L1258.3,704.9 L1258.5,702.6 L1258.8,700.3 M1260.7,691.4 L1262.2,686.6 L1264.1,681.8 L1266.3,677.2 L1268.8,672.8 L1271.6,668.5 L1274.8,664.5 L1278.1,660.6 L1281.8,657.1 L1285.7,653.8 L1289.8,650.7 M1271.1,655 L1275,651.1 L1279.2,647.4 L1283.7,644 L1288.3,641 L1293.2,638.3 L1298.2,635.9 L1303.4,633.8 L1308.7,632.1 L1314.1,630.8 L1319.5,629.8 M1329.1,629 L1333.7,629 L1338.3,629.3 L1342.8,629.9 L1347.4,630.7 L1351.9,631.7 L1356.3,633 L1360.6,634.5 L1364.9,636.3 L1369,638.3 L1373,640.6 M1380.7,645.8 L1385.8,650 L1390.6,654.7 L1395.1,659.8 L1399,665.2 L1402.6,670.9 L1405.6,676.9 L1408.1,683.2 L1410.1,689.6 L1411.6,696.1 L1412.6,702.8 M1413,713.3 L1412.9,715.8 L1412.7,718.2 L1412.4,720.6 L1412.1,723.1 L1411.7,725.5 L1411.2,727.9 L1410.7,730.3 L1410.1,732.7 L1409.4,735 L1408.6,737.4 M1402.1,751.9 L1399.3,756.4 L1396.1,760.8 L1392.7,765 L1389,769 L1385.1,772.7 L1380.9,776.1 L1376.5,779.2 L1371.9,782.1 L1367.1,784.6 L1362.2,786.8 M1347.4,791.3 L1342.5,792.2 L1337.5,792.7 L1332.6,793 L1327.6,792.9 L1322.6,792.6 L1317.7,791.9 L1312.8,790.9 L1307.9,789.7 L1303.2,788.1 L1298.6,786.3 M1285.9,779.5 L1281.5,776.4 L1277.3,773 L1273.3,769.3 L1269.6,765.4 L1266.2,761.2 L1263,756.8 L1260.1,752.2 L1257.6,747.5 L1255.3,742.6 L1253.4,737.5" fill="none" stroke="#7398c7" stroke-width="4.6" stroke-linecap="round"/>
<circle cx="1331" cy="711" r="34" fill="#245789"/>
<path d="M1412.4,537C1412.5,538.5 1412.9,540 1413.2,541.5C1413.5,543 1413.9,544.5 1414,546C1414.1,547.6 1414.1,549.1 1413.9,550.6C1413.6,552.1 1413.1,553.6 1412.5,555C1411.9,556.4 1411.1,557.7 1410.4,559.1C1409.7,560.4 1408.9,561.7 1408.4,563.1C1407.9,564.5 1407.5,565.9 1407.3,567.4C1407,568.9 1407,570.5 1406.9,572.1C1406.9,573.8 1407,575.5 1407,577.3C1407.1,579 1407.4,581 1407.2,582.7C1407,584.5 1406.9,586.3 1406,587.7C1405.2,589 1403.5,589.9 1402.1,590.8C1400.6,591.7 1398.5,592.1 1397.3,593.1C1396,594.1 1395.1,595.3 1394.7,597.1C1394.3,598.8 1394.9,601.6 1394.8,603.8C1394.7,606 1395,608.9 1394.1,610.4C1393.2,611.9 1391.3,612.5 1389.4,612.8C1387.5,613.1 1384.7,612.3 1382.6,612.2C1380.5,612 1378.5,611.8 1376.7,612C1374.9,612.1 1373.3,612.4 1371.8,612.8C1370.2,613.3 1368.9,613.9 1367.5,614.5C1366.1,615.2 1364.9,616.1 1363.6,616.9C1362.3,617.7 1361,618.6 1359.6,619.3C1358.2,620 1356.8,620.6 1355.3,621C1353.8,621.5 1352.3,621.7 1350.9,622.3C1349.4,622.9 1348.1,623.8 1346.7,624.8C1345.2,625.7 1343.9,627.5 1342.4,627.9C1340.9,628.4 1339.2,628.2 1337.5,627.6C1335.9,626.9 1334.2,625 1332.6,624.1C1331,623.2 1329.5,622.5 1328,622.1C1326.5,621.6 1325,621.7 1323.6,621.5C1322.1,621.2 1320.6,620.9 1319.2,620.4C1317.8,619.9 1316.4,619.2 1315.1,618.5C1313.7,617.9 1312.4,617.2 1311.1,616.7C1309.7,616.1 1308.4,615.8 1307,615.5C1305.5,615.3 1304.1,615.3 1302.6,615.3C1301.1,615.2 1299.5,615.3 1298,615.2C1296.5,615.1 1294.9,614.9 1293.5,614.4C1292.1,613.9 1290.8,613.2 1289.6,612.4C1288.4,611.6 1287.3,610.4 1286.2,609.4C1285.1,608.4 1284.1,607.2 1283,606.3C1281.9,605.3 1280.8,604.5 1279.5,603.7C1278.3,603 1276.9,602.4 1275.5,601.8C1274.2,601.1 1272.7,600.7 1271.3,600C1270,599.2 1268.6,598.5 1267.5,597.5C1266.3,596.6 1265.4,595.4 1264.5,594.1C1263.7,592.9 1263.1,591.4 1262.5,590.1C1261.8,588.7 1261.3,587.3 1260.6,586C1259.9,584.7 1259.2,583.4 1258.3,582.3C1257.3,581.2 1256.3,580.1 1255,579.2C1253.7,578.2 1252.3,577.3 1250.6,576.5C1248.9,575.6 1246.6,575 1244.7,574.1C1242.9,573.2 1240.4,572.4 1239.3,571.1C1238.2,569.7 1238.1,567.9 1238.4,566.1C1238.7,564.3 1240.4,562.1 1241.1,560.3C1241.7,558.5 1242.4,556.8 1242.3,555.2C1242.1,553.7 1241.3,552.3 1240.2,550.9C1239,549.5 1237,548.2 1235.5,546.7C1233.9,545.3 1231.6,543.7 1230.8,542.1C1230,540.5 1230,538.7 1230.7,537C1231.3,535.3 1233.4,533.7 1234.8,532.1C1236.1,530.5 1237.6,529.1 1238.6,527.6C1239.5,526.1 1240,524.6 1240.5,523.1C1240.9,521.6 1240.9,520.1 1241.1,518.5C1241.3,517 1241.2,515.4 1241.4,513.8C1241.6,512.2 1241.8,510.6 1242.4,509.2C1242.9,507.7 1243.7,506.3 1244.6,505C1245.6,503.7 1246.8,502.5 1248,501.4C1249.2,500.2 1250.6,499.2 1251.7,498.1C1252.8,497 1253.9,496 1254.9,494.8C1255.8,493.6 1256.4,492.3 1257.1,491C1257.8,489.7 1258.3,488.2 1258.9,486.8C1259.6,485.5 1260.2,484 1261.1,482.8C1261.9,481.6 1263,480.5 1264.1,479.4C1265.2,478.4 1266.5,477.7 1267.7,476.7C1268.8,475.6 1269.9,474.8 1270.7,473.3C1271.4,471.9 1271.6,469.8 1272,467.9C1272.5,466 1272.5,463.3 1273.4,461.8C1274.3,460.3 1275.8,459.5 1277.3,459C1278.9,458.4 1281,458.7 1282.7,458.5C1284.4,458.3 1286,458 1287.6,457.7C1289.2,457.5 1290.7,457.1 1292.3,456.8C1293.8,456.5 1295.4,456.4 1296.9,456.1C1298.5,455.8 1299.9,455.5 1301.4,455.1C1302.8,454.7 1304.2,454.1 1305.6,453.5C1307,452.9 1308.4,452 1309.8,451.4C1311.2,450.8 1312.7,450.2 1314.2,449.9C1315.7,449.6 1317.3,449.5 1318.8,449.5C1320.3,449.5 1321.9,449.9 1323.4,449.7C1325,449.5 1326.4,449.1 1328,448.3C1329.6,447.6 1331.2,445.8 1332.8,445.3C1334.4,444.8 1336.1,444.7 1337.6,445.5C1339.1,446.2 1340.5,448.4 1341.8,449.8C1343.2,451.1 1344.4,452.5 1345.7,453.5C1347.1,454.5 1348.4,455 1349.7,455.8C1351.1,456.6 1352.3,457.4 1353.6,458.2C1354.8,459.1 1356,460.1 1357.3,460.8C1358.5,461.5 1359.8,462.1 1361.3,462.2C1362.9,462.2 1364.7,461.6 1366.6,461.2C1368.5,460.7 1370.9,459.6 1372.7,459.6C1374.4,459.7 1375.9,460.3 1377.1,461.4C1378.3,462.4 1378.9,464.4 1379.7,465.8C1380.5,467.3 1381.2,468.9 1382,470.3C1382.9,471.6 1383.8,472.9 1384.7,474C1385.6,475.2 1386.6,476.3 1387.7,477.3C1388.8,478.3 1390,479.1 1391.3,480C1392.6,480.8 1394.1,481.5 1395.5,482.3C1396.9,483.2 1398.3,484 1399.5,485C1400.7,486.1 1401.8,487.2 1402.6,488.5C1403.5,489.8 1404,491.3 1404.5,492.8C1405,494.3 1405.3,495.9 1405.6,497.4C1406,499 1406.3,500.5 1406.7,501.9C1407.2,503.4 1407.8,504.7 1408.5,506.1C1409.2,507.5 1410.1,508.7 1410.9,510.1C1411.6,511.4 1412.5,512.8 1413.1,514.2C1413.6,515.6 1414.1,517.1 1414.3,518.7C1414.5,520.2 1414.3,521.8 1414.1,523.4C1414,524.9 1413.5,526.5 1413.2,528C1412.9,529.6 1412.5,531.1 1412.4,532.6C1412.2,534.1 1412.2,535.5 1412.4,537Z" fill="#fbbfc0" stroke="#c47476" stroke-width="2.2"/>
<circle cx="1369.4" cy="507.5" r="1.2" fill="#e09596"/>
<circle cx="1298.4" cy="496.4" r="3" fill="#e09596"/>
<circle cx="1298.9" cy="468" r="1.2" fill="#e09596"/>
<circle cx="1259.4" cy="525" r="3" fill="#e09596"/>
<circle cx="1272.3" cy="517.8" r="1.8" fill="#e09596"/>
<circle cx="1333.1" cy="462.7" r="1.2" fill="#e09596"/>
<circle cx="1264.4" cy="574" r="1.2" fill="#e09596"/>
<circle cx="1357.6" cy="606.4" r="2.5" fill="#e09596"/>
<circle cx="1370.5" cy="577.3" r="3" fill="#e09596"/>
<circle cx="1254.7" cy="533.4" r="1.8" fill="#e09596"/>
<circle cx="1381" cy="488.7" r="3" fill="#e09596"/>
<circle cx="1284.9" cy="510" r="1.8" fill="#e09596"/>
<circle cx="1325.6" cy="476.7" r="1.8" fill="#e09596"/>
<circle cx="1279.2" cy="590.9" r="2.5" fill="#e09596"/>
<circle cx="1385.4" cy="571.7" r="1.2" fill="#e09596"/>
<circle cx="1339.3" cy="474.6" r="3" fill="#e09596"/>
<circle cx="1280.7" cy="587" r="3" fill="#e09596"/>
<circle cx="1393.5" cy="555.4" r="3" fill="#e09596"/>
<circle cx="1295.3" cy="493.6" r="1.8" fill="#e09596"/>
<circle cx="1397.3" cy="529.2" r="1.8" fill="#e09596"/>
<circle cx="1362" cy="488.7" r="2.5" fill="#e09596"/>
<circle cx="1292.6" cy="481.8" r="1.2" fill="#e09596"/>
<circle cx="1274.4" cy="585.1" r="1.8" fill="#e09596"/>
<circle cx="1264" cy="529.5" r="3" fill="#e09596"/>
<path d="M1356.3,553C1356.2,555.2 1355.7,557.5 1355.4,559.7C1355,561.9 1354.6,564.1 1354.1,566.4C1353.6,568.6 1353.2,570.9 1352.3,573C1351.3,575.1 1350.1,577.2 1348.4,578.7C1346.7,580.2 1344.4,581.4 1342.1,582.1C1339.9,582.8 1337.1,582.8 1334.9,583.1C1332.6,583.3 1330.5,583.1 1328.6,583.6C1326.7,584.1 1325.3,584.8 1323.7,585.9C1322.1,586.9 1320.6,588.6 1318.8,589.8C1317.1,591 1315,592.5 1313,593C1311,593.6 1308.7,593.6 1306.6,593.1C1304.6,592.6 1302.7,591.3 1300.9,590.2C1299.1,589.1 1297.6,587.6 1295.9,586.5C1294.2,585.4 1292.5,584.6 1290.6,583.8C1288.7,583 1286.5,582.5 1284.4,581.6C1282.4,580.6 1280.2,579.5 1278.5,578C1276.9,576.5 1275.6,574.5 1274.7,572.5C1273.8,570.5 1273.5,568.1 1273.2,565.9C1273,563.7 1273.1,561.5 1273,559.3C1272.9,557.2 1272.8,555.1 1272.7,553C1272.6,550.9 1272.4,548.7 1272.5,546.6C1272.7,544.5 1272.9,542.2 1273.6,540.2C1274.3,538.2 1275.3,536.2 1276.5,534.4C1277.7,532.6 1279.2,531 1280.6,529.4C1282,527.9 1283.4,526.4 1284.9,524.9C1286.4,523.4 1287.8,521.9 1289.4,520.6C1291.1,519.2 1292.8,517.9 1294.7,517C1296.5,516.1 1298.6,515.5 1300.7,515.1C1302.7,514.8 1304.9,514.8 1306.9,514.8C1309,514.7 1311,514.9 1313,514.9C1315,514.9 1317,514.8 1319,514.9C1321.1,515 1323.2,515 1325.2,515.5C1327.2,515.9 1329.2,516.7 1331,517.8C1332.7,518.8 1334.2,520.4 1335.6,522C1336.9,523.5 1337.9,525.3 1339.2,526.8C1340.4,528.4 1341.6,529.8 1343,531.2C1344.4,532.6 1346.2,533.8 1347.8,535.3C1349.4,536.8 1351.3,538.3 1352.6,540.1C1353.9,542 1355.1,544.1 1355.7,546.2C1356.3,548.4 1356.3,550.8 1356.3,553Z" fill="#d88889" stroke="#c26f72" stroke-width="1.5"/>
<path d="M1518.8,849C1518.5,850.6 1518.1,852.1 1518.1,853.6C1518,855.2 1518.2,856.7 1518.5,858.3C1518.8,859.9 1519.4,861.5 1519.9,863.2C1520.3,864.9 1520.9,866.6 1521.3,868.4C1521.8,870.2 1522.3,872 1522.8,873.9C1523.2,875.7 1523.8,877.7 1523.8,879.5C1523.8,881.3 1523.5,883.1 1522.7,884.6C1522,886.1 1520.3,887.3 1519.2,888.7C1518.2,890.1 1517,891.4 1516.4,893C1515.7,894.6 1515.5,896.4 1515.1,898.1C1514.7,899.9 1514.6,901.8 1514,903.5C1513.4,905.2 1512.7,906.9 1511.6,908.3C1510.6,909.7 1509.3,911 1507.9,912.1C1506.5,913.2 1504.9,914.1 1503.4,915.1C1501.9,916 1500.3,916.9 1498.9,917.9C1497.5,918.9 1496.2,920 1494.9,921.1C1493.6,922.2 1492.5,923.5 1491.3,924.7C1490,925.8 1488.8,927.1 1487.4,928C1486,928.9 1484.5,929.8 1482.8,930.3C1481.2,930.9 1479.3,931.1 1477.5,931.3C1475.7,931.5 1473.8,931.5 1472.1,931.5C1470.3,931.6 1468.5,931.6 1466.9,931.9C1465.3,932.2 1463.8,932.6 1462.3,933.2C1460.8,933.7 1459.5,934.6 1458.1,935.3C1456.6,936.1 1455.2,937 1453.8,937.7C1452.3,938.3 1450.7,938.8 1449.2,939.1C1447.6,939.4 1445.9,939.4 1444.3,939.4C1442.7,939.4 1441.1,939 1439.5,938.9C1437.8,938.8 1436.3,938.6 1434.7,938.7C1433.1,938.7 1431.6,939 1430,939.4C1428.4,939.7 1426.8,940.4 1425.2,940.9C1423.5,941.4 1421.9,942 1420.2,942.3C1418.5,942.6 1416.8,942.8 1415.2,942.7C1413.5,942.5 1411.9,942 1410.3,941.5C1408.8,940.9 1407.3,939.9 1405.8,939.2C1404.4,938.4 1402.9,937.5 1401.5,936.9C1400,936.2 1398.5,935.7 1396.9,935.2C1395.3,934.8 1393.7,934.6 1392.1,934.2C1390.4,933.9 1388.7,933.7 1387.1,933.1C1385.6,932.6 1384,931.9 1382.6,931C1381.3,930.1 1380,928.9 1378.9,927.7C1377.8,926.4 1376.9,924.9 1375.9,923.5C1374.9,922.1 1374,920.7 1372.9,919.5C1371.9,918.2 1370.8,917.1 1369.6,916.1C1368.3,915.1 1366.9,914.3 1365.5,913.5C1364.2,912.6 1362.7,911.8 1361.4,910.8C1360.1,909.8 1358.8,908.7 1357.8,907.5C1356.7,906.2 1356,904.8 1355.2,903.3C1354.5,901.9 1354.1,900.2 1353.2,898.9C1352.3,897.5 1351.3,896.3 1349.9,895.2C1348.6,894.1 1346.4,893.5 1344.9,892.4C1343.4,891.2 1341.9,890.1 1341.2,888.5C1340.5,887 1340.7,885.1 1340.6,883.3C1340.6,881.6 1340.8,879.7 1340.9,878C1340.9,876.2 1340.8,874.6 1340.9,872.9C1341,871.2 1341.2,869.5 1341.3,867.8C1341.5,866.2 1341.7,864.6 1341.7,863C1341.8,861.4 1341.7,859.9 1341.4,858.3C1341.1,856.8 1340.6,855.3 1340.1,853.7C1339.6,852.2 1338.9,850.6 1338.5,849C1338.1,847.4 1337.7,845.8 1337.6,844.2C1337.6,842.6 1337.8,840.9 1338.1,839.3C1338.5,837.8 1339.1,836.2 1339.7,834.7C1340.2,833.2 1340.9,831.7 1341.3,830.1C1341.7,828.6 1342,827.1 1342.1,825.4C1342.2,823.8 1342.1,822.1 1342,820.4C1341.8,818.6 1341.6,816.8 1341.3,815C1341,813.1 1340.6,811.1 1340.4,809.1C1340.2,807.1 1339.7,805 1340,803.1C1340.2,801.3 1341,799.7 1341.9,798.1C1342.8,796.6 1344.4,795.5 1345.3,794C1346.1,792.4 1346.4,790.4 1347,788.7C1347.7,787 1348.2,785 1349.4,783.7C1350.6,782.4 1352.6,781.7 1354.3,780.9C1356.1,780 1358,779.5 1359.7,778.7C1361.4,778 1362.9,777.1 1364.6,776.3C1366.2,775.6 1367.9,775 1369.5,774.2C1371,773.5 1372.7,773 1374,771.9C1375.2,770.8 1376.2,769.3 1377.2,767.7C1378.2,766.1 1378.8,763.7 1379.9,762.3C1381.1,760.9 1382.6,759.9 1384.3,759.3C1386,758.8 1388.1,759.1 1390,759.1C1391.8,759.1 1393.8,759.3 1395.5,759.2C1397.3,759.1 1399,759.2 1400.6,758.6C1402.2,758.1 1403.6,757.2 1405,755.9C1406.5,754.5 1407.6,751.9 1409,750.4C1410.5,749 1412.1,747.4 1413.9,747.1C1415.6,746.8 1417.6,748.1 1419.5,748.8C1421.3,749.6 1423.1,750.8 1424.9,751.5C1426.6,752.2 1428.3,752.5 1430,753.1C1431.7,753.6 1433.3,754.1 1434.9,754.7C1436.6,755.3 1438.1,756 1439.7,756.6C1441.3,757.1 1442.8,757.7 1444.4,758C1446,758.3 1447.6,758.4 1449.2,758.5C1450.9,758.7 1452.5,758.6 1454.2,758.7C1455.8,758.9 1457.5,759.1 1459.1,759.5C1460.7,759.9 1462.1,760.7 1463.6,761.4C1465.1,762.1 1466.5,763.1 1468.1,763.5C1469.7,763.9 1471.5,763.9 1473.3,764C1475.1,764.2 1477.3,763.7 1478.9,764.3C1480.5,764.9 1481.7,766.3 1482.8,767.8C1483.8,769.2 1484.3,771.4 1485.2,773C1486.1,774.5 1487.2,775.8 1488.3,777.1C1489.3,778.3 1490.6,779.3 1491.6,780.6C1492.6,781.8 1493.6,783.2 1494.4,784.6C1495.3,786 1496,787.5 1496.8,788.8C1497.7,790.2 1498.5,791.5 1499.5,792.7C1500.6,793.9 1501.8,794.9 1503,796C1504.2,797 1505.7,798 1506.9,799C1508.2,800.1 1509.5,801.2 1510.6,802.5C1511.7,803.7 1512.4,805.2 1513.5,806.5C1514.5,807.8 1515.2,809.2 1516.8,810.3C1518.4,811.5 1521,812.2 1523.2,813.2C1525.4,814.2 1529,815 1530.3,816.4C1531.5,817.9 1531.6,819.9 1530.9,822C1530.1,824 1527.3,826.6 1525.9,828.6C1524.4,830.7 1523,832.6 1522.2,834.4C1521.4,836.2 1521.4,837.8 1521.1,839.4C1520.7,841.1 1520.5,842.7 1520.1,844.3C1519.7,845.9 1519.1,847.4 1518.8,849Z" fill="#fbbfc0" stroke="#c47476" stroke-width="2.2"/>
<circle cx="1374.9" cy="868.9" r="1.2" fill="#e09596"/>
<circle cx="1501.8" cy="816.2" r="3" fill="#e09596"/>
<circle cx="1481.9" cy="807" r="1.8" fill="#e09596"/>
<circle cx="1434.4" cy="899.6" r="2.5" fill="#e09596"/>
<circle cx="1460.6" cy="907.8" r="2.5" fill="#e09596"/>
<circle cx="1501.5" cy="848.4" r="1.8" fill="#e09596"/>
<circle cx="1494.2" cy="847.1" r="3" fill="#e09596"/>
<circle cx="1422.3" cy="770.5" r="2.5" fill="#e09596"/>
<circle cx="1445.1" cy="789.6" r="3" fill="#e09596"/>
<circle cx="1469.2" cy="911.8" r="3" fill="#e09596"/>
<circle cx="1397.4" cy="801.1" r="2.5" fill="#e09596"/>
<circle cx="1488.3" cy="796.2" r="3" fill="#e09596"/>
<circle cx="1386.7" cy="907.9" r="3" fill="#e09596"/>
<circle cx="1373.1" cy="853.8" r="2.5" fill="#e09596"/>
<circle cx="1460.3" cy="778.7" r="2.5" fill="#e09596"/>
<circle cx="1439.4" cy="784.4" r="2.5" fill="#e09596"/>
<circle cx="1499.9" cy="829.8" r="3" fill="#e09596"/>
<circle cx="1408.5" cy="901.4" r="2.5" fill="#e09596"/>
<circle cx="1494" cy="820.9" r="1.2" fill="#e09596"/>
<circle cx="1443" cy="789.5" r="1.2" fill="#e09596"/>
<circle cx="1396.4" cy="800.9" r="1.8" fill="#e09596"/>
<path d="M1488.3,838C1488.8,840.1 1489.3,842.5 1489.2,844.7C1489.1,846.9 1488.6,849.2 1487.7,851.2C1486.9,853.3 1485.5,855.2 1484.1,856.9C1482.7,858.6 1481,860.1 1479.4,861.6C1477.8,863 1476.2,864.3 1474.5,865.5C1472.8,866.6 1471,867.7 1469.2,868.6C1467.4,869.4 1465.4,870 1463.6,870.5C1461.7,871 1459.8,871.2 1457.9,871.6C1456.1,872.1 1454.4,872.5 1452.6,873.2C1450.8,874 1449,875.1 1447,876.1C1445,877.1 1442.8,878.5 1440.5,879.2C1438.2,879.9 1435.6,880.4 1433.3,880.1C1431.1,879.8 1428.8,878.7 1426.9,877.4C1425.1,876 1423.7,873.8 1422.3,872C1420.9,870.2 1420,868.1 1418.7,866.3C1417.4,864.6 1416,863.2 1414.5,861.6C1413,860 1411.1,858.7 1409.8,857C1408.4,855.2 1406.9,853.3 1406.3,851.2C1405.7,849.1 1405.6,846.7 1406,844.5C1406.3,842.3 1407.5,840 1408.4,838C1409.2,836 1410.4,834.2 1411,832.3C1411.6,830.4 1411.9,828.6 1412.1,826.6C1412.3,824.6 1412,822.4 1412.3,820.3C1412.6,818.2 1412.9,815.8 1413.9,814C1414.9,812.1 1416.5,810.5 1418.2,809.2C1419.9,807.9 1422.1,807.2 1424.1,806.4C1426,805.6 1428,805.2 1429.8,804.3C1431.7,803.5 1433.3,802.4 1435.1,801.4C1436.9,800.3 1438.7,798.8 1440.7,797.9C1442.6,797 1444.8,796.1 1447,795.8C1449.2,795.6 1451.5,796 1453.6,796.5C1455.7,797.1 1457.6,798.4 1459.5,799.4C1461.4,800.5 1463.1,801.7 1464.9,802.8C1466.7,803.9 1468.5,804.9 1470.2,806C1472,807.1 1473.8,808.2 1475.4,809.6C1476.9,811 1478.4,812.6 1479.5,814.4C1480.7,816.1 1481.5,818.1 1482.2,820C1483,822 1483.5,824 1484.1,825.9C1484.8,827.9 1485.5,829.8 1486.2,831.8C1486.9,833.8 1487.8,835.9 1488.3,838Z" fill="#d88889" stroke="#c26f72" stroke-width="1.5"/>
<path d="M1657,808C1656.8,809.2 1656.6,810.4 1656.5,811.6C1656.5,812.9 1656.5,814.1 1656.7,815.3C1656.8,816.6 1657.2,817.9 1657.4,819.2C1657.7,820.5 1658,821.8 1658.2,823.1C1658.3,824.5 1658.3,825.8 1658.3,827.1C1658.3,828.4 1658.1,829.7 1658.1,831.1C1658.1,832.5 1658.3,834 1658.1,835.3C1658,836.7 1657.8,838.1 1657.1,839.2C1656.4,840.3 1654.9,841.1 1653.7,842C1652.6,842.9 1651.2,843.6 1650.2,844.5C1649.2,845.4 1648.5,846.5 1647.7,847.4C1646.9,848.4 1646.2,849.5 1645.3,850.4C1644.4,851.2 1643.3,852 1642.2,852.7C1641,853.3 1639.7,853.8 1638.4,854.3C1637.2,854.8 1635.9,855.2 1634.8,855.8C1633.7,856.4 1632.6,856.9 1631.7,857.6C1630.8,858.4 1630,859.2 1629.2,860.1C1628.4,861 1627.6,861.9 1626.9,862.9C1626.2,864 1625.5,865.1 1624.8,866.2C1624,867.2 1623.4,868.6 1622.4,869.3C1621.4,870.1 1620.3,870.6 1619,870.8C1617.7,871 1616.1,870.4 1614.8,870.4C1613.5,870.5 1612.2,870.3 1611.2,871.1C1610.2,871.8 1609.5,873.3 1608.8,875C1608,876.6 1607.5,879.4 1606.6,881C1605.7,882.7 1604.6,884.2 1603.3,884.8C1602.1,885.4 1600.5,884.8 1599.1,884.6C1597.7,884.4 1596.3,883.9 1594.9,883.5C1593.6,883 1592.2,882.5 1590.9,881.9C1589.6,881.4 1588.3,880.5 1587,880.2C1585.7,879.8 1584.5,879.8 1583.2,879.9C1582,879.9 1580.7,880.3 1579.4,880.4C1578.1,880.5 1576.8,880.7 1575.5,880.5C1574.3,880.3 1573,880 1571.8,879.4C1570.6,878.9 1569.5,878.1 1568.4,877.3C1567.3,876.6 1566.3,875.7 1565.3,874.9C1564.2,874.2 1563.2,873.5 1562.1,873C1560.9,872.5 1559.8,872.1 1558.6,871.7C1557.5,871.3 1556.2,871 1555.1,870.6C1553.9,870.2 1552.8,869.7 1551.7,869.1C1550.7,868.4 1549.8,867.6 1548.9,866.7C1548,865.8 1547.3,864.7 1546.6,863.6C1545.8,862.6 1545.2,861.5 1544.5,860.5C1543.7,859.6 1543,858.7 1542,857.9C1541.1,857.2 1540,856.7 1538.8,856.2C1537.5,855.8 1535.9,855.7 1534.4,855.4C1532.9,855 1531,855 1529.8,854.3C1528.6,853.7 1527.7,852.6 1527.3,851.4C1526.9,850.1 1527.2,848.3 1527.2,846.9C1527.1,845.4 1527.3,843.9 1527.1,842.6C1526.9,841.3 1526.5,840.2 1525.9,839.1C1525.3,838.1 1524.5,837.2 1523.7,836.2C1522.9,835.2 1521.9,834.3 1521.2,833.3C1520.4,832.3 1519.6,831.2 1519,830.1C1518.5,829 1518.1,827.7 1517.9,826.5C1517.7,825.3 1517.7,824 1517.8,822.7C1517.8,821.5 1518,820.2 1518,818.9C1518.1,817.7 1518.1,816.5 1518,815.3C1517.8,814 1517.5,812.9 1517.2,811.7C1516.9,810.4 1516.4,809.2 1516.1,808C1515.7,806.8 1515.4,805.5 1515.2,804.2C1515.1,803 1515.1,801.7 1514.9,800.4C1514.8,799.1 1514.6,797.8 1514.5,796.5C1514.4,795.2 1514,793.8 1514.2,792.5C1514.4,791.3 1515.1,790.1 1515.8,788.9C1516.5,787.8 1517.8,786.8 1518.5,785.7C1519.2,784.6 1519.7,783.5 1520.1,782.3C1520.6,781.2 1520.7,779.9 1521.1,778.7C1521.6,777.5 1522,776.3 1522.7,775.2C1523.4,774.2 1524.3,773.2 1525.2,772.3C1526.1,771.4 1527.1,770.6 1528,769.7C1528.9,768.8 1529.8,768 1530.6,767C1531.3,766 1532,765 1532.6,763.9C1533.2,762.8 1533.7,761.6 1534.3,760.5C1534.9,759.4 1535.5,758.3 1536.3,757.3C1537.1,756.3 1538,755.5 1539,754.7C1540.1,754 1541.3,753.5 1542.5,753C1543.6,752.5 1544.9,752.2 1546.1,751.7C1547.3,751.3 1548.5,750.9 1549.5,750.3C1550.6,749.7 1551.6,749 1552.5,748.3C1553.5,747.5 1554.4,746.6 1555.3,745.8C1556.3,745 1557.2,744.2 1558.3,743.5C1559.4,742.9 1560.5,742.4 1561.7,742.1C1562.9,741.8 1564.2,741.7 1565.4,741.6C1566.7,741.6 1568,741.7 1569.2,741.7C1570.5,741.7 1571.7,741.8 1572.9,741.6C1574.1,741.5 1575.2,741.2 1576.4,740.8C1577.5,740.5 1578.6,739.9 1579.8,739.5C1581,739 1582.1,738.6 1583.3,738.1C1584.5,737.6 1585.8,737.2 1587,736.7C1588.2,736.3 1589.5,735.6 1590.8,735.4C1592.1,735.3 1593.4,735.4 1594.6,736C1595.8,736.5 1596.9,737.9 1598,738.7C1599.1,739.6 1600.1,740.5 1601.2,741C1602.4,741.5 1603.6,741.5 1604.8,741.6C1606,741.7 1607.3,741.6 1608.6,741.6C1609.9,741.6 1611.1,741.7 1612.5,741.7C1613.8,741.6 1615.3,741.4 1616.7,741.2C1618.2,741.1 1619.9,740.5 1621.2,740.8C1622.5,741.2 1623.6,742.1 1624.4,743.2C1625.3,744.3 1625.6,746.3 1626.3,747.5C1627,748.7 1627.8,749.8 1628.7,750.6C1629.7,751.4 1630.9,751.8 1632,752.4C1633.1,753.1 1634.2,753.7 1635.2,754.5C1636.1,755.4 1636.9,756.4 1637.6,757.4C1638.3,758.5 1638.8,759.7 1639.4,760.8C1640.1,761.9 1640.6,763 1641.4,763.9C1642.3,764.8 1643.2,765.6 1644.6,766.1C1646.1,766.7 1648.2,766.7 1649.8,767.2C1651.5,767.7 1653.8,767.9 1654.7,768.9C1655.7,769.9 1655.7,771.5 1655.5,773.1C1655.3,774.7 1654.2,776.7 1653.6,778.3C1653.1,780 1652.5,781.5 1652.3,782.9C1652,784.4 1652.1,785.6 1652.2,786.8C1652.3,788 1652.7,789.2 1653.1,790.3C1653.5,791.4 1654.2,792.5 1654.7,793.6C1655.3,794.7 1656,795.8 1656.5,797C1656.9,798.2 1657.3,799.4 1657.5,800.6C1657.7,801.8 1657.7,803.1 1657.6,804.3C1657.5,805.5 1657.2,806.8 1657,808Z" fill="#d17d7e" stroke="#a9585b" stroke-width="2.2"/>
<circle cx="1567.3" cy="857.8" r="2.5" fill="#b86265"/>
<circle cx="1632.4" cy="835.5" r="3" fill="#b86265"/>
<circle cx="1543.2" cy="806.4" r="3" fill="#b86265"/>
<circle cx="1575.7" cy="867.3" r="2.5" fill="#b86265"/>
<circle cx="1633.3" cy="810.1" r="2.5" fill="#b86265"/>
<circle cx="1616.5" cy="766.4" r="3" fill="#b86265"/>
<circle cx="1546" cy="829.3" r="3" fill="#b86265"/>
<circle cx="1611.6" cy="847.5" r="1.2" fill="#b86265"/>
<circle cx="1630.6" cy="832.4" r="2.5" fill="#b86265"/>
<circle cx="1533.4" cy="801.6" r="2.5" fill="#b86265"/>
<circle cx="1620.4" cy="851.1" r="1.2" fill="#b86265"/>
<circle cx="1549.1" cy="831.1" r="3" fill="#b86265"/>
<circle cx="1579.2" cy="855" r="2.5" fill="#b86265"/>
<circle cx="1557.6" cy="774.9" r="2.5" fill="#b86265"/>
<circle cx="1620.3" cy="832.5" r="1.8" fill="#b86265"/>
<circle cx="1578" cy="859.8" r="1.8" fill="#b86265"/>
<circle cx="1630.3" cy="849.8" r="2.5" fill="#b86265"/>
<circle cx="1547.4" cy="818.4" r="1.2" fill="#b86265"/>
<circle cx="1635.1" cy="771.1" r="2.5" fill="#b86265"/>
<circle cx="1632.9" cy="813.3" r="1.8" fill="#b86265"/>
<circle cx="1594.7" cy="759.7" r="1.2" fill="#b86265"/>
<circle cx="1575.1" cy="850.5" r="3" fill="#b86265"/>
<circle cx="1575.2" cy="851.8" r="1.8" fill="#b86265"/>
<circle cx="1567.3" cy="843.1" r="1.2" fill="#b86265"/>
<circle cx="1541" cy="821.4" r="2.5" fill="#b86265"/>
<path d="M1628.5,799C1628.5,800.6 1628.3,802.2 1627.9,803.7C1627.5,805.2 1626.7,806.7 1626,808.1C1625.3,809.5 1624.3,810.7 1623.5,812C1622.7,813.3 1622,814.5 1621.2,815.9C1620.4,817.2 1619.8,818.6 1618.9,819.9C1618,821.2 1617.1,822.6 1615.9,823.6C1614.7,824.7 1613.3,825.6 1611.9,826.2C1610.4,826.8 1608.8,827.1 1607.2,827.3C1605.6,827.6 1604.1,827.6 1602.5,827.7C1601,827.8 1599.5,827.9 1598,828C1596.5,828 1594.9,828.1 1593.4,827.9C1591.9,827.8 1590.4,827.4 1588.9,826.9C1587.5,826.3 1586.2,825.5 1584.9,824.7C1583.6,823.9 1582.5,823 1581.1,822.2C1579.8,821.5 1578.4,820.9 1576.8,820.2C1575.2,819.5 1573.3,819.1 1571.6,818.2C1570,817.3 1568.1,816.2 1566.9,814.8C1565.8,813.4 1565,811.6 1564.9,809.8C1564.7,808 1565.4,805.8 1566.2,804C1566.9,802.2 1568.4,800.5 1569.3,799C1570.2,797.5 1571.2,796.2 1571.6,794.8C1572.1,793.4 1572,792.1 1572.1,790.6C1572.1,789.1 1571.8,787.3 1572,785.8C1572.2,784.2 1572.6,782.5 1573.4,781.2C1574.3,779.9 1575.7,778.8 1577,778C1578.3,777.2 1580,776.8 1581.5,776.2C1582.9,775.7 1584.2,775.3 1585.5,774.5C1586.8,773.8 1587.9,772.8 1589.2,771.9C1590.5,770.9 1591.8,769.7 1593.2,768.9C1594.7,768.2 1596.4,767.5 1598,767.3C1599.6,767.2 1601.4,767.5 1602.9,768C1604.5,768.4 1606,769.3 1607.4,770.1C1608.8,770.8 1610.2,771.7 1611.5,772.4C1612.9,773.2 1614.4,773.8 1615.8,774.6C1617.1,775.3 1618.6,776.1 1619.9,777.1C1621.1,778.1 1622.3,779.4 1623.2,780.7C1624.1,782 1624.8,783.5 1625.4,785C1626,786.5 1626.4,788.1 1626.8,789.6C1627.3,791.2 1627.7,792.7 1627.9,794.3C1628.2,795.8 1628.5,797.4 1628.5,799Z" fill="#ab5658" stroke="#94484b" stroke-width="1.5"/>
<path d="M1618.7,690C1618.8,691.7 1618.1,693.4 1617.4,695C1616.7,696.6 1615.6,698.2 1614.5,699.8C1613.3,701.3 1611.8,702.8 1610.4,704.2C1609,705.6 1607.4,707 1605.9,708.3C1604.4,709.6 1602.9,710.8 1601.5,712C1600.1,713.3 1598.8,714.4 1597.6,715.6C1596.4,716.8 1594.7,717.8 1594.3,719.2C1593.9,720.5 1594.6,722.2 1595,723.8C1595.3,725.5 1595.9,727.2 1596.4,729C1597,730.8 1597.6,732.7 1598.2,734.6C1598.9,736.6 1599.6,738.6 1600.1,740.6C1600.6,742.6 1601.1,744.7 1601.2,746.6C1601.4,748.6 1601.5,750.5 1601.2,752.3C1600.8,754 1600.4,755.8 1599.4,757.1C1598.3,758.4 1596.8,759.5 1594.8,760.1C1592.8,760.7 1590,760.7 1587.5,760.7C1584.9,760.8 1582,760.4 1579.6,760.4C1577.2,760.3 1574.9,760.2 1573,760.4C1571,760.6 1569.4,760.9 1567.9,761.4C1566.5,762 1565.3,762.7 1564.3,763.7C1563.4,764.7 1562.8,766.1 1562.1,767.4C1561.3,768.7 1560.7,770.1 1560.1,771.6C1559.4,773.1 1558.9,774.7 1558.4,776.5C1557.9,778.3 1557.4,780.2 1557,782.2C1556.5,784.2 1556.1,786.4 1555.5,788.5C1555,790.6 1554.4,792.9 1553.7,794.9C1552.9,796.9 1552.1,799 1551.1,800.6C1550,802.3 1548.9,803.9 1547.4,804.8C1546,805.8 1544.5,806.9 1542.6,806.5C1540.6,806.2 1538.1,804.5 1535.8,802.8C1533.4,801.1 1530.8,798.4 1528.7,796.5C1526.5,794.6 1524.4,792.8 1522.6,791.6C1520.7,790.3 1519.2,789.7 1517.6,789.2C1516.1,788.8 1514.7,788.6 1513.3,788.8C1512,788.9 1510.7,789.4 1509.4,790.1C1508.1,790.7 1506.8,791.5 1505.5,792.8C1504.2,794 1503,795.6 1501.6,797.6C1500.2,799.6 1498.9,802.3 1497.3,804.8C1495.8,807.2 1494.2,810.3 1492.5,812.2C1490.8,814.1 1489,815.8 1487.3,816.3C1485.5,816.8 1483.8,816.2 1482.2,815.2C1480.6,814.3 1479,812.6 1477.6,810.8C1476.2,809 1475,806.6 1473.7,804.5C1472.5,802.3 1471.5,800 1470.4,798C1469.3,795.9 1468.2,794 1467.2,792.4C1466.1,790.8 1465.1,789.5 1463.9,788.3C1462.8,787.1 1461.7,786.2 1460.6,785.3C1459.4,784.4 1458.2,783.8 1457,783.1C1455.8,782.4 1454.6,781.7 1453.4,781.1C1452.2,780.5 1450.9,780 1449.6,779.5C1448.4,779 1447.1,778.4 1445.8,778C1444.4,777.6 1443,777.3 1441.5,777.1C1440,776.9 1438.4,776.9 1436.5,777C1434.7,777.2 1432.7,777.5 1430.5,778C1428.3,778.5 1425.8,779.3 1423.3,779.9C1420.8,780.6 1418,781.4 1415.4,781.8C1412.9,782.2 1410.3,782.5 1408.2,782.2C1406.2,782 1404.4,781.2 1403.1,780.1C1401.8,778.9 1401,777.2 1400.4,775.4C1399.8,773.6 1399.7,771.4 1399.7,769.3C1399.6,767.1 1400,764.7 1400.4,762.4C1400.7,760.1 1401.3,757.7 1401.8,755.4C1402.2,753.2 1402.7,751.1 1403.1,749.1C1403.5,747.1 1404.1,745 1403.9,743.4C1403.7,741.9 1403.1,740.7 1401.8,739.7C1400.5,738.7 1398.1,738.3 1396.2,737.6C1394.4,736.8 1392.2,736.1 1390.5,735.2C1388.9,734.2 1387.2,733.1 1386.2,731.9C1385.1,730.6 1384.5,729.1 1384.3,727.5C1384.2,725.9 1384.6,724 1385.2,722.2C1385.7,720.5 1386.8,718.6 1387.7,716.8C1388.6,715 1389.8,713.3 1390.6,711.6C1391.5,709.9 1392.3,708.3 1392.9,706.8C1393.5,705.3 1394.2,703.8 1394.2,702.4C1394.2,701 1393.4,699.7 1392.9,698.4C1392.3,697 1391.7,695.6 1391,694.2C1390.3,692.9 1389.5,691.4 1388.7,690C1387.8,688.6 1386.9,687.1 1386,685.5C1385,684 1384,682.5 1383.1,680.8C1382.2,679.2 1381.2,677.6 1380.5,675.9C1379.8,674.2 1379.1,672.5 1378.6,670.8C1378.2,669.2 1377.9,667.4 1378,665.8C1378,664.1 1378,662.4 1379,661C1380,659.6 1381.9,658.4 1384,657.4C1386,656.4 1389,655.7 1391.2,654.9C1393.5,654.1 1395.8,653.4 1397.6,652.5C1399.3,651.7 1400.6,650.7 1401.8,649.7C1403,648.7 1403.8,647.6 1404.5,646.4C1405.3,645.3 1405.9,644.1 1406.4,642.8C1407,641.6 1407.5,640.3 1408,639C1408.4,637.6 1408.9,636.3 1409.2,634.8C1409.5,633.4 1409.7,631.9 1409.7,630.2C1409.8,628.5 1409.7,626.7 1409.6,624.7C1409.4,622.7 1409,620.5 1408.7,618.2C1408.4,616 1407.9,613.5 1407.6,611.1C1407.4,608.8 1407.1,606.2 1407.2,604C1407.4,601.8 1407.7,599.7 1408.4,598C1409.2,596.3 1410.3,594.9 1411.8,593.9C1413.2,593 1415.1,592.5 1417.1,592.3C1419,592.1 1421.4,592.3 1423.7,592.6C1425.9,593 1428.4,593.6 1430.6,594.2C1432.9,594.8 1435.2,595.5 1437.3,596C1439.4,596.5 1441.3,597 1443.2,597.3C1445,597.6 1446.7,597.8 1448.3,597.8C1449.9,597.9 1451.4,598 1452.8,597.6C1454.1,597.2 1455.3,596.3 1456.4,595.3C1457.5,594.3 1458.4,593 1459.4,591.5C1460.4,590.1 1461.3,588.4 1462.3,586.5C1463.3,584.6 1464.2,582.4 1465.2,580.3C1466.2,578.2 1467.3,575.8 1468.5,573.9C1469.7,571.9 1471,570 1472.5,568.7C1473.9,567.4 1475.5,566.5 1477.2,566.3C1478.9,566.1 1480.7,566.6 1482.5,567.5C1484.2,568.4 1486,570.1 1487.8,571.7C1489.5,573.4 1491.1,575.6 1492.7,577.4C1494.3,579.2 1495.8,581.1 1497.2,582.6C1498.6,584.1 1500,585.4 1501.3,586.4C1502.7,587.5 1504,588.2 1505.4,588.9C1506.7,589.5 1508,590 1509.3,590.4C1510.6,590.8 1512,591.2 1513.3,591.5C1514.6,591.8 1516,592 1517.3,592.2C1518.7,592.4 1520,592.6 1521.5,592.5C1522.9,592.5 1524.3,592.5 1525.9,592C1527.6,591.6 1529.2,591 1531.1,590C1533,589 1535.1,587.6 1537.4,586.2C1539.6,584.7 1542.2,582.7 1544.6,581.3C1547.1,579.8 1549.8,578.2 1552,577.5C1554.2,576.9 1556.3,576.8 1558,577.4C1559.7,577.9 1560.9,579.3 1562.1,580.7C1563.3,582.1 1564.3,583.9 1565.1,585.7C1565.9,587.6 1566.4,589.7 1566.9,591.8C1567.4,594 1567.7,596.2 1568,598.4C1568.3,600.6 1568.5,602.8 1568.8,604.9C1569,606.9 1569.1,609 1569.5,610.8C1569.8,612.6 1569.8,614.7 1571,615.6C1572.2,616.4 1574.8,615.9 1576.8,616.1C1578.8,616.4 1581,616.5 1583,616.9C1585,617.2 1587,617.6 1588.7,618.4C1590.3,619.1 1591.9,620 1592.9,621.3C1593.9,622.5 1594.6,624.1 1594.6,626C1594.6,627.9 1593.8,630.3 1593.1,632.5C1592.4,634.7 1591.2,637.1 1590.4,639.1C1589.7,641.2 1588.9,643.2 1588.6,644.9C1588.2,646.7 1588.1,648.3 1588.1,649.8C1588.1,651.3 1588.4,652.6 1588.7,653.9C1589,655.3 1589.4,656.6 1589.8,657.9C1590.2,659.2 1590.6,660.5 1591,661.8C1591.4,663.1 1591.8,664.4 1592.4,665.7C1592.9,667 1593.4,668.2 1594.2,669.5C1595.1,670.7 1596,671.9 1597.5,673.1C1599,674.3 1600.9,675.5 1603,676.7C1605.2,677.9 1608.1,679.2 1610.4,680.6C1612.7,681.9 1615.4,683.5 1616.8,685C1618.2,686.6 1618.6,688.3 1618.7,690Z" fill="#82a3cb" stroke="#285b90" stroke-width="2"/>
<path d="M1519,648 L1522.2,649.8 L1525.3,652 L1528.1,654.4 L1530.7,657 L1533.1,659.8 L1535.2,662.9 L1537.1,666.1 L1538.7,669.4 L1540,672.9 L1540.9,676.5 M1541.9,683.3 L1542,686.1 L1541.9,688.9 L1541.6,691.6 L1541.2,694.4 L1540.5,697.1 L1539.7,699.8 L1538.7,702.4 L1537.6,705 L1536.3,707.5 L1534.8,709.8 M1531.4,714.2 L1529.9,715.9 L1528.3,717.5 L1526.6,719 L1524.8,720.4 L1523,721.7 L1521.1,722.9 L1519.1,724 L1517.1,725 L1515.1,725.9 L1512.9,726.7 M1504.6,728.6 L1502.3,728.9 L1500.1,729 L1497.9,729 L1495.6,728.9 L1493.4,728.6 L1491.2,728.3 L1489,727.8 L1486.8,727.2 L1484.7,726.6 L1482.6,725.8 M1477.2,723 L1475.7,722.2 L1474.3,721.2 L1473,720.2 L1471.6,719.2 L1470.3,718.1 L1469.1,716.9 L1467.9,715.7 L1466.8,714.5 L1465.7,713.2 L1464.6,711.8 M1459.6,703.1 L1458.8,701.2 L1458.1,699.3 L1457.5,697.3 L1457,695.3 L1456.6,693.3 L1456.3,691.3 L1456.1,689.2 L1456,687.2 L1456,685.1 L1456.1,683.1 M1457,676.8 L1457.5,674.6 L1458.2,672.4 L1459,670.2 L1459.9,668.1 L1460.9,666 L1462.1,664 L1463.3,662 L1464.6,660.2 L1466.1,658.3 L1467.6,656.6 M1455.5,714.6 L1453.5,711.3 L1451.8,707.8 L1450.3,704.2 L1449.1,700.6 L1448.1,696.8 L1447.5,693 L1447.1,689.1 L1447,685.3 L1447.2,681.4 L1447.7,677.5 M1449,671.7 L1449.9,669 L1450.9,666.3 L1452,663.7 L1453.3,661.2 L1454.7,658.7 L1456.3,656.3 L1458,654 L1459.8,651.8 L1461.8,649.7 L1463.8,647.7 M1517.5,637.4 L1518.7,637.9 L1520,638.4 L1521.3,639 L1522.5,639.6 L1523.7,640.2 L1524.9,640.9 L1526.1,641.6 L1527.3,642.3 L1528.4,643.1 L1529.5,643.9 M1538.7,652.5 L1541.4,655.8 L1543.7,659.5 L1545.8,663.2 L1547.5,667.2 L1548.9,671.3 L1549.9,675.4 L1550.6,679.7 L1551,684 L1551,688.3 L1550.6,692.5 M1548.1,703.2 L1547,705.9 L1545.8,708.6 L1544.5,711.2 L1543,713.7 L1541.3,716.2 L1539.6,718.5 L1537.7,720.7 L1535.7,722.9 L1533.5,724.9 L1531.3,726.8 M1521.2,733 L1519.7,733.7 L1518.2,734.3 L1516.6,734.9 L1515,735.5 L1513.4,736 L1511.8,736.4 L1510.2,736.8 L1508.6,737.1 L1506.9,737.4 L1505.3,737.6 M1494.5,737.8 L1492.7,737.6 L1490.9,737.4 L1489.1,737 L1487.3,736.7 L1485.5,736.2 L1483.8,735.7 L1482,735.2 L1480.3,734.5 L1478.6,733.8 L1477,733.1 M1558.8,673.8 L1559.3,677.1 L1559.7,680.4 L1560,683.8 L1560,687.1 L1559.8,690.4 L1559.5,693.7 L1559,697 L1558.3,700.3 L1557.4,703.5 L1556.4,706.7 M1549.6,720 L1547.9,722.5 L1546.1,724.8 L1544.1,727.1 L1542.1,729.2 L1539.9,731.3 L1537.6,733.2 L1535.3,735 L1532.9,736.7 L1530.3,738.3 L1527.7,739.8 M1516.3,744.5 L1511.3,745.7 L1506.3,746.6 L1501.2,747 L1496.1,746.9 L1491,746.5 L1486,745.6 L1481,744.3 L1476.2,742.6 L1471.6,740.5 L1467.1,738 M1456.8,730 L1454.6,727.8 L1452.6,725.6 L1450.6,723.2 L1448.8,720.7 L1447.2,718.1 L1445.6,715.5 L1444.2,712.8 L1442.9,710 L1441.8,707.1 L1440.8,704.2 M1438.5,694 L1438.1,688.8 L1438.1,683.5 L1438.5,678.2 L1439.4,673 L1440.8,667.9 L1442.6,662.9 L1444.8,658.1 L1447.4,653.5 L1450.4,649.1 L1453.8,645.1 M1465.1,635.3 L1469.6,632.5 L1474.4,630.2 L1479.4,628.2 L1484.5,626.7 L1489.8,625.7 L1495.1,625.1 L1500.4,625 L1505.7,625.4 L1511,626.2 L1516.2,627.5 M1529.7,633.3 L1530.9,634 L1532.1,634.7 L1533.3,635.5 L1534.4,636.3 L1535.6,637.2 L1536.7,638 L1537.8,638.9 L1538.9,639.8 L1540,640.8 L1541,641.8 M1489.5,755.4 L1487.5,755.1 L1485.5,754.7 L1483.6,754.3 L1481.6,753.8 L1479.7,753.3 L1477.7,752.7 L1475.8,752.1 L1473.9,751.4 L1472.1,750.6 L1470.2,749.8 M1456.4,741.5 L1454.7,740.2 L1453.2,738.9 L1451.6,737.5 L1450.1,736.1 L1448.6,734.6 L1447.2,733.1 L1445.8,731.5 L1444.5,729.9 L1443.2,728.3 L1442,726.6 M1434.2,712.5 L1433,709.3 L1431.9,706.1 L1431,702.8 L1430.3,699.5 L1429.7,696.1 L1429.3,692.7 L1429.1,689.3 L1429,685.9 L1429.1,682.5 L1429.3,679.1 M1431.9,666.2 L1433.5,661.2 L1435.6,656.4 L1437.9,651.8 L1440.6,647.3 L1443.7,643.1 L1447,639.1 L1450.7,635.4 L1454.6,631.9 L1458.7,628.8 L1463.1,625.9 M1478.9,619 L1482.3,618 L1485.8,617.3 L1489.3,616.7 L1492.9,616.3 L1496.4,616 L1500,616 L1503.5,616.1 L1507.1,616.5 L1510.6,617 L1514.1,617.7 M1522.1,619.9 L1524.8,620.9 L1527.5,622.1 L1530.2,623.3 L1532.7,624.7 L1535.3,626.1 L1537.7,627.7 L1540.1,629.4 L1542.5,631.1 L1544.7,633 L1546.9,634.9 M1557.7,647.8 L1558.9,649.8 L1560.1,651.9 L1561.2,654 L1562.3,656.1 L1563.2,658.2 L1564.1,660.4 L1565,662.6 L1565.7,664.8 L1566.4,667.1 L1567,669.4 M1569,684.3 L1569,685.8 L1569,687.4 L1568.9,688.9 L1568.9,690.4 L1568.7,692 L1568.6,693.5 L1568.4,695 L1568.2,696.6 L1567.9,698.1 L1567.7,699.6 M1571.6,655 L1573.8,660.6 L1575.5,666.3 L1576.8,672.1 L1577.6,678.1 L1578,684 L1577.9,690 L1577.4,696 L1576.4,701.9 L1575,707.7 L1573.1,713.4 M1569.7,721.2 L1568,724.5 L1566,727.8 L1563.9,731 L1561.7,734.1 L1559.3,737.1 L1556.7,739.9 L1554,742.7 L1551.2,745.3 L1548.3,747.7 L1545.3,750 M1536.5,755.5 L1531.8,757.9 L1526.9,759.9 L1521.9,761.6 L1516.9,763 L1511.7,764 L1506.5,764.6 L1501.2,765 L1496,764.9 L1490.7,764.6 L1485.5,763.8 M1471.5,760.1 L1468.1,758.7 L1464.9,757.2 L1461.7,755.6 L1458.5,753.8 L1455.5,751.9 L1452.5,749.9 L1449.7,747.7 L1446.9,745.4 L1444.3,743 L1441.7,740.4 M1434.7,731.9 L1432,727.9 L1429.6,723.7 L1427.4,719.4 L1425.5,715 L1423.9,710.5 L1422.5,705.9 L1421.5,701.2 L1420.7,696.4 L1420.2,691.6 L1420,686.8 M1421.4,671.3 L1423,664.6 L1425.1,658 L1427.9,651.6 L1431.1,645.6 L1434.9,639.8 L1439.2,634.3 L1444,629.3 L1449.1,624.7 L1454.7,620.6 L1460.6,617 M1474.2,611 L1476.6,610.2 L1479,609.6 L1481.4,609 L1483.8,608.5 L1486.2,608 L1488.6,607.7 L1491.1,607.4 L1493.5,607.2 L1496,607.1 L1498.5,607" fill="none" stroke="#5b80b5" stroke-width="7" stroke-linecap="round"/>
<path d="M1519,648 L1522.2,649.8 L1525.3,652 L1528.1,654.4 L1530.7,657 L1533.1,659.8 L1535.2,662.9 L1537.1,666.1 L1538.7,669.4 L1540,672.9 L1540.9,676.5 M1541.9,683.3 L1542,686.1 L1541.9,688.9 L1541.6,691.6 L1541.2,694.4 L1540.5,697.1 L1539.7,699.8 L1538.7,702.4 L1537.6,705 L1536.3,707.5 L1534.8,709.8 M1531.4,714.2 L1529.9,715.9 L1528.3,717.5 L1526.6,719 L1524.8,720.4 L1523,721.7 L1521.1,722.9 L1519.1,724 L1517.1,725 L1515.1,725.9 L1512.9,726.7 M1504.6,728.6 L1502.3,728.9 L1500.1,729 L1497.9,729 L1495.6,728.9 L1493.4,728.6 L1491.2,728.3 L1489,727.8 L1486.8,727.2 L1484.7,726.6 L1482.6,725.8 M1477.2,723 L1475.7,722.2 L1474.3,721.2 L1473,720.2 L1471.6,719.2 L1470.3,718.1 L1469.1,716.9 L1467.9,715.7 L1466.8,714.5 L1465.7,713.2 L1464.6,711.8 M1459.6,703.1 L1458.8,701.2 L1458.1,699.3 L1457.5,697.3 L1457,695.3 L1456.6,693.3 L1456.3,691.3 L1456.1,689.2 L1456,687.2 L1456,685.1 L1456.1,683.1 M1457,676.8 L1457.5,674.6 L1458.2,672.4 L1459,670.2 L1459.9,668.1 L1460.9,666 L1462.1,664 L1463.3,662 L1464.6,660.2 L1466.1,658.3 L1467.6,656.6 M1455.5,714.6 L1453.5,711.3 L1451.8,707.8 L1450.3,704.2 L1449.1,700.6 L1448.1,696.8 L1447.5,693 L1447.1,689.1 L1447,685.3 L1447.2,681.4 L1447.7,677.5 M1449,671.7 L1449.9,669 L1450.9,666.3 L1452,663.7 L1453.3,661.2 L1454.7,658.7 L1456.3,656.3 L1458,654 L1459.8,651.8 L1461.8,649.7 L1463.8,647.7 M1517.5,637.4 L1518.7,637.9 L1520,638.4 L1521.3,639 L1522.5,639.6 L1523.7,640.2 L1524.9,640.9 L1526.1,641.6 L1527.3,642.3 L1528.4,643.1 L1529.5,643.9 M1538.7,652.5 L1541.4,655.8 L1543.7,659.5 L1545.8,663.2 L1547.5,667.2 L1548.9,671.3 L1549.9,675.4 L1550.6,679.7 L1551,684 L1551,688.3 L1550.6,692.5 M1548.1,703.2 L1547,705.9 L1545.8,708.6 L1544.5,711.2 L1543,713.7 L1541.3,716.2 L1539.6,718.5 L1537.7,720.7 L1535.7,722.9 L1533.5,724.9 L1531.3,726.8 M1521.2,733 L1519.7,733.7 L1518.2,734.3 L1516.6,734.9 L1515,735.5 L1513.4,736 L1511.8,736.4 L1510.2,736.8 L1508.6,737.1 L1506.9,737.4 L1505.3,737.6 M1494.5,737.8 L1492.7,737.6 L1490.9,737.4 L1489.1,737 L1487.3,736.7 L1485.5,736.2 L1483.8,735.7 L1482,735.2 L1480.3,734.5 L1478.6,733.8 L1477,733.1 M1558.8,673.8 L1559.3,677.1 L1559.7,680.4 L1560,683.8 L1560,687.1 L1559.8,690.4 L1559.5,693.7 L1559,697 L1558.3,700.3 L1557.4,703.5 L1556.4,706.7 M1549.6,720 L1547.9,722.5 L1546.1,724.8 L1544.1,727.1 L1542.1,729.2 L1539.9,731.3 L1537.6,733.2 L1535.3,735 L1532.9,736.7 L1530.3,738.3 L1527.7,739.8 M1516.3,744.5 L1511.3,745.7 L1506.3,746.6 L1501.2,747 L1496.1,746.9 L1491,746.5 L1486,745.6 L1481,744.3 L1476.2,742.6 L1471.6,740.5 L1467.1,738 M1456.8,730 L1454.6,727.8 L1452.6,725.6 L1450.6,723.2 L1448.8,720.7 L1447.2,718.1 L1445.6,715.5 L1444.2,712.8 L1442.9,710 L1441.8,707.1 L1440.8,704.2 M1438.5,694 L1438.1,688.8 L1438.1,683.5 L1438.5,678.2 L1439.4,673 L1440.8,667.9 L1442.6,662.9 L1444.8,658.1 L1447.4,653.5 L1450.4,649.1 L1453.8,645.1 M1465.1,635.3 L1469.6,632.5 L1474.4,630.2 L1479.4,628.2 L1484.5,626.7 L1489.8,625.7 L1495.1,625.1 L1500.4,625 L1505.7,625.4 L1511,626.2 L1516.2,627.5 M1529.7,633.3 L1530.9,634 L1532.1,634.7 L1533.3,635.5 L1534.4,636.3 L1535.6,637.2 L1536.7,638 L1537.8,638.9 L1538.9,639.8 L1540,640.8 L1541,641.8 M1489.5,755.4 L1487.5,755.1 L1485.5,754.7 L1483.6,754.3 L1481.6,753.8 L1479.7,753.3 L1477.7,752.7 L1475.8,752.1 L1473.9,751.4 L1472.1,750.6 L1470.2,749.8 M1456.4,741.5 L1454.7,740.2 L1453.2,738.9 L1451.6,737.5 L1450.1,736.1 L1448.6,734.6 L1447.2,733.1 L1445.8,731.5 L1444.5,729.9 L1443.2,728.3 L1442,726.6 M1434.2,712.5 L1433,709.3 L1431.9,706.1 L1431,702.8 L1430.3,699.5 L1429.7,696.1 L1429.3,692.7 L1429.1,689.3 L1429,685.9 L1429.1,682.5 L1429.3,679.1 M1431.9,666.2 L1433.5,661.2 L1435.6,656.4 L1437.9,651.8 L1440.6,647.3 L1443.7,643.1 L1447,639.1 L1450.7,635.4 L1454.6,631.9 L1458.7,628.8 L1463.1,625.9 M1478.9,619 L1482.3,618 L1485.8,617.3 L1489.3,616.7 L1492.9,616.3 L1496.4,616 L1500,616 L1503.5,616.1 L1507.1,616.5 L1510.6,617 L1514.1,617.7 M1522.1,619.9 L1524.8,620.9 L1527.5,622.1 L1530.2,623.3 L1532.7,624.7 L1535.3,626.1 L1537.7,627.7 L1540.1,629.4 L1542.5,631.1 L1544.7,633 L1546.9,634.9 M1557.7,647.8 L1558.9,649.8 L1560.1,651.9 L1561.2,654 L1562.3,656.1 L1563.2,658.2 L1564.1,660.4 L1565,662.6 L1565.7,664.8 L1566.4,667.1 L1567,669.4 M1569,684.3 L1569,685.8 L1569,687.4 L1568.9,688.9 L1568.9,690.4 L1568.7,692 L1568.6,693.5 L1568.4,695 L1568.2,696.6 L1567.9,698.1 L1567.7,699.6 M1571.6,655 L1573.8,660.6 L1575.5,666.3 L1576.8,672.1 L1577.6,678.1 L1578,684 L1577.9,690 L1577.4,696 L1576.4,701.9 L1575,707.7 L1573.1,713.4 M1569.7,721.2 L1568,724.5 L1566,727.8 L1563.9,731 L1561.7,734.1 L1559.3,737.1 L1556.7,739.9 L1554,742.7 L1551.2,745.3 L1548.3,747.7 L1545.3,750 M1536.5,755.5 L1531.8,757.9 L1526.9,759.9 L1521.9,761.6 L1516.9,763 L1511.7,764 L1506.5,764.6 L1501.2,765 L1496,764.9 L1490.7,764.6 L1485.5,763.8 M1471.5,760.1 L1468.1,758.7 L1464.9,757.2 L1461.7,755.6 L1458.5,753.8 L1455.5,751.9 L1452.5,749.9 L1449.7,747.7 L1446.9,745.4 L1444.3,743 L1441.7,740.4 M1434.7,731.9 L1432,727.9 L1429.6,723.7 L1427.4,719.4 L1425.5,715 L1423.9,710.5 L1422.5,705.9 L1421.5,701.2 L1420.7,696.4 L1420.2,691.6 L1420,686.8 M1421.4,671.3 L1423,664.6 L1425.1,658 L1427.9,651.6 L1431.1,645.6 L1434.9,639.8 L1439.2,634.3 L1444,629.3 L1449.1,624.7 L1454.7,620.6 L1460.6,617 M1474.2,611 L1476.6,610.2 L1479,609.6 L1481.4,609 L1483.8,608.5 L1486.2,608 L1488.6,607.7 L1491.1,607.4 L1493.5,607.2 L1496,607.1 L1498.5,607" fill="none" stroke="#7398c7" stroke-width="4.6" stroke-linecap="round"/>
<circle cx="1499" cy="686" r="31" fill="#245789"/>
<path d="M1796,572 L1780,598 L1811,596Z" fill="#222"/>
<line x1="1821" y1="576" x2="1828" y2="572.5" stroke="#222" stroke-width="3"/>
<line x1="1853.9" y1="528.3" x2="1841.6" y2="515.1" stroke="#0b3550" stroke-width="2.6"/>
<line x1="1838.2" y1="511.5" x2="1815.7" y2="487.3" stroke="#0b3550" stroke-width="14.5" stroke-linecap="round"/>
<line x1="1838.2" y1="511.5" x2="1815.7" y2="487.3" stroke="#1e6c9c" stroke-width="11.5" stroke-linecap="round"/>
<line x1="1856.1" y1="505.7" x2="1826.1" y2="473.5" stroke="#0b3550" stroke-width="12.8" stroke-linecap="round"/>
<line x1="1856.1" y1="505.7" x2="1826.1" y2="473.5" stroke="#ffffff" stroke-width="10" stroke-linecap="round"/>
<line x1="1855.7" y1="495.1" x2="1833.2" y2="471" stroke="#0b3550" stroke-width="14.5" stroke-linecap="round"/>
<line x1="1855.7" y1="495.1" x2="1833.2" y2="471" stroke="#1e6c9c" stroke-width="11.5" stroke-linecap="round"/>
<line x1="1933.5" y1="509.4" x2="1940.9" y2="492.9" stroke="#0b3550" stroke-width="2.6"/>
<line x1="1942.9" y1="488.4" x2="1956.3" y2="458.2" stroke="#0b3550" stroke-width="14.5" stroke-linecap="round"/>
<line x1="1942.9" y1="488.4" x2="1956.3" y2="458.2" stroke="#1e6c9c" stroke-width="11.5" stroke-linecap="round"/>
<line x1="1955.2" y1="502.6" x2="1973.1" y2="462.4" stroke="#0b3550" stroke-width="12.8" stroke-linecap="round"/>
<line x1="1955.2" y1="502.6" x2="1973.1" y2="462.4" stroke="#ffffff" stroke-width="10" stroke-linecap="round"/>
<line x1="1964.8" y1="498.1" x2="1978.2" y2="468" stroke="#0b3550" stroke-width="14.5" stroke-linecap="round"/>
<line x1="1964.8" y1="498.1" x2="1978.2" y2="468" stroke="#1e6c9c" stroke-width="11.5" stroke-linecap="round"/>
<line x1="1979" y1="557.5" x2="1996.5" y2="553.4" stroke="#0b3550" stroke-width="2.6"/>
<line x1="2001.4" y1="552.3" x2="2033.5" y2="544.9" stroke="#0b3550" stroke-width="14.5" stroke-linecap="round"/>
<line x1="2001.4" y1="552.3" x2="2033.5" y2="544.9" stroke="#1e6c9c" stroke-width="11.5" stroke-linecap="round"/>
<line x1="1997.4" y1="570.7" x2="2040.3" y2="560.8" stroke="#0b3550" stroke-width="12.8" stroke-linecap="round"/>
<line x1="1997.4" y1="570.7" x2="2040.3" y2="560.8" stroke="#ffffff" stroke-width="10" stroke-linecap="round"/>
<line x1="2006.8" y1="575.7" x2="2038.9" y2="568.3" stroke="#0b3550" stroke-width="14.5" stroke-linecap="round"/>
<line x1="2006.8" y1="575.7" x2="2038.9" y2="568.3" stroke="#1e6c9c" stroke-width="11.5" stroke-linecap="round"/>
<line x1="1966.3" y1="624.8" x2="1979.7" y2="636.8" stroke="#0b3550" stroke-width="2.6"/>
<line x1="1983.4" y1="640.2" x2="2008" y2="662.3" stroke="#0b3550" stroke-width="14.5" stroke-linecap="round"/>
<line x1="1983.4" y1="640.2" x2="2008" y2="662.3" stroke="#1e6c9c" stroke-width="11.5" stroke-linecap="round"/>
<line x1="1966.1" y1="647.5" x2="1998.8" y2="676.9" stroke="#0b3550" stroke-width="12.8" stroke-linecap="round"/>
<line x1="1966.1" y1="647.5" x2="1998.8" y2="676.9" stroke="#ffffff" stroke-width="10" stroke-linecap="round"/>
<line x1="1967.4" y1="658" x2="1991.9" y2="680.1" stroke="#0b3550" stroke-width="14.5" stroke-linecap="round"/>
<line x1="1967.4" y1="658" x2="1991.9" y2="680.1" stroke="#1e6c9c" stroke-width="11.5" stroke-linecap="round"/>
<line x1="1884.9" y1="649.5" x2="1878.2" y2="666.2" stroke="#0b3550" stroke-width="2.6"/>
<line x1="1876.3" y1="670.8" x2="1863.9" y2="701.4" stroke="#0b3550" stroke-width="14.5" stroke-linecap="round"/>
<line x1="1876.3" y1="670.8" x2="1863.9" y2="701.4" stroke="#1e6c9c" stroke-width="11.5" stroke-linecap="round"/>
<line x1="1863.5" y1="657" x2="1847.1" y2="697.8" stroke="#0b3550" stroke-width="12.8" stroke-linecap="round"/>
<line x1="1863.5" y1="657" x2="1847.1" y2="697.8" stroke="#ffffff" stroke-width="10" stroke-linecap="round"/>
<line x1="1854" y1="661.8" x2="1841.7" y2="692.4" stroke="#0b3550" stroke-width="14.5" stroke-linecap="round"/>
<line x1="1854" y1="661.8" x2="1841.7" y2="692.4" stroke="#1e6c9c" stroke-width="11.5" stroke-linecap="round"/>
<line x1="1835.7" y1="595.5" x2="1817.9" y2="598.3" stroke="#0b3550" stroke-width="2.6"/>
<line x1="1813" y1="599.1" x2="1780.4" y2="604.3" stroke="#0b3550" stroke-width="14.5" stroke-linecap="round"/>
<line x1="1813" y1="599.1" x2="1780.4" y2="604.3" stroke="#1e6c9c" stroke-width="11.5" stroke-linecap="round"/>
<line x1="1818.2" y1="581.1" x2="1774.8" y2="588" stroke="#0b3550" stroke-width="12.8" stroke-linecap="round"/>
<line x1="1818.2" y1="581.1" x2="1774.8" y2="588" stroke="#ffffff" stroke-width="10" stroke-linecap="round"/>
<line x1="1809.2" y1="575.4" x2="1776.6" y2="580.6" stroke="#0b3550" stroke-width="14.5" stroke-linecap="round"/>
<line x1="1809.2" y1="575.4" x2="1776.6" y2="580.6" stroke="#1e6c9c" stroke-width="11.5" stroke-linecap="round"/>
<circle cx="1908" cy="579" r="75" fill="#e1ddf2" stroke="#9c90c9" stroke-width="2"/>
<circle cx="1915" cy="572" r="45" fill="#c7c1e6" stroke="#b2a8da" stroke-width="1.5"/>
<g transform="rotate(-14 1900 579)">
<path d="M1900,531 L1902.4,532.6 L1904.7,534.2 L1906.7,535.8 L1908.5,537.4 L1909.8,539 L1910.7,540.6 L1911,542.2 L1910.8,543.8 L1910.1,545.4 L1908.9,547 L1907.3,548.6 L1905.3,550.2 L1903.1,551.8 L1900.7,553.4 L1898.3,555 L1896,556.6 L1893.8,558.2 L1892,559.8 L1890.5,561.4 L1889.5,563 L1889,564.6 L1889.1,566.2 L1889.7,567.8 L1890.7,569.4 L1892.2,571 L1894.1,572.6 L1896.3,574.2 L1898.6,575.8 L1901,577.4 L1903.4,579 L1905.6,580.6 L1907.5,582.2 L1909.1,583.8 L1910.2,585.4 L1910.9,587 L1911,588.6 L1910.6,590.2 L1909.6,591.8 L1908.3,593.4 L1906.5,595 L1904.4,596.6 L1902.1,598.2 L1899.7,599.8 L1897.3,601.4 L1895,603 L1893,604.6 L1891.3,606.2 L1890,607.8 L1889.3,609.4 L1889,611 L1889.3,612.6 L1890,614.2 L1891.3,615.8 L1893,617.4 L1895,619 L1897.3,620.6 L1899.7,622.2 L1902.1,623.8 L1904.4,625.4 L1906.5,627" fill="none" stroke="#2e5a72" stroke-width="2.2"/>
<path d="M1900,531 L1897.6,532.6 L1895.3,534.2 L1893.3,535.8 L1891.5,537.4 L1890.2,539 L1889.3,540.6 L1889,542.2 L1889.2,543.8 L1889.9,545.4 L1891.1,547 L1892.7,548.6 L1894.7,550.2 L1896.9,551.8 L1899.3,553.4 L1901.7,555 L1904,556.6 L1906.2,558.2 L1908,559.8 L1909.5,561.4 L1910.5,563 L1911,564.6 L1910.9,566.2 L1910.3,567.8 L1909.3,569.4 L1907.8,571 L1905.9,572.6 L1903.7,574.2 L1901.4,575.8 L1899,577.4 L1896.6,579 L1894.4,580.6 L1892.5,582.2 L1890.9,583.8 L1889.8,585.4 L1889.1,587 L1889,588.6 L1889.4,590.2 L1890.4,591.8 L1891.7,593.4 L1893.5,595 L1895.6,596.6 L1897.9,598.2 L1900.3,599.8 L1902.7,601.4 L1905,603 L1907,604.6 L1908.7,606.2 L1910,607.8 L1910.7,609.4 L1911,611 L1910.7,612.6 L1910,614.2 L1908.7,615.8 L1907,617.4 L1905,619 L1902.7,620.6 L1900.3,622.2 L1897.9,623.8 L1895.6,625.4 L1893.5,627" fill="none" stroke="#2e5a72" stroke-width="2.2"/>
<line x1="1904.7" y1="534.2" x2="1895.3" y2="534.2" stroke="#2e5a72" stroke-width="1.2"/>
<line x1="1910.7" y1="540.6" x2="1889.3" y2="540.6" stroke="#2e5a72" stroke-width="1.2"/>
<line x1="1908.9" y1="547" x2="1891.1" y2="547" stroke="#2e5a72" stroke-width="1.2"/>
<line x1="1900.7" y1="553.4" x2="1899.3" y2="553.4" stroke="#2e5a72" stroke-width="1.2"/>
<line x1="1892" y1="559.8" x2="1908" y2="559.8" stroke="#2e5a72" stroke-width="1.2"/>
<line x1="1889.1" y1="566.2" x2="1910.9" y2="566.2" stroke="#2e5a72" stroke-width="1.2"/>
<line x1="1894.1" y1="572.6" x2="1905.9" y2="572.6" stroke="#2e5a72" stroke-width="1.2"/>
<line x1="1903.4" y1="579" x2="1896.6" y2="579" stroke="#2e5a72" stroke-width="1.2"/>
<line x1="1910.2" y1="585.4" x2="1889.8" y2="585.4" stroke="#2e5a72" stroke-width="1.2"/>
<line x1="1909.6" y1="591.8" x2="1890.4" y2="591.8" stroke="#2e5a72" stroke-width="1.2"/>
<line x1="1902.1" y1="598.2" x2="1897.9" y2="598.2" stroke="#2e5a72" stroke-width="1.2"/>
<line x1="1893" y1="604.6" x2="1907" y2="604.6" stroke="#2e5a72" stroke-width="1.2"/>
<line x1="1889" y1="611" x2="1911" y2="611" stroke="#2e5a72" stroke-width="1.2"/>
<line x1="1893" y1="617.4" x2="1907" y2="617.4" stroke="#2e5a72" stroke-width="1.2"/>
<line x1="1902.1" y1="623.8" x2="1897.9" y2="623.8" stroke="#2e5a72" stroke-width="1.2"/>
</g>
<path d="M1908,587 q6,-4 4,-10" fill="none" stroke="#2a9ad8" stroke-width="3"/>
<g fill="none" stroke="#2e5a72" stroke-width="1.6">
<line x1="1912" y1="581" x2="1938" y2="567"/>
<line x1="1924" y1="587" x2="1930" y2="559"/>
<circle cx="1941" cy="565" r="3.5"/><circle cx="1931" cy="555" r="3.5"/>
</g>
<line x1="2156.5" y1="508.4" x2="2146.4" y2="493.5" stroke="#86191b" stroke-width="2.6"/>
<line x1="2143.6" y1="489.4" x2="2125.2" y2="462" stroke="#86191b" stroke-width="14.5" stroke-linecap="round"/>
<line x1="2143.6" y1="489.4" x2="2125.2" y2="462" stroke="#cc4c4d" stroke-width="11.5" stroke-linecap="round"/>
<line x1="2162.2" y1="486.5" x2="2137.6" y2="450" stroke="#86191b" stroke-width="12.8" stroke-linecap="round"/>
<line x1="2162.2" y1="486.5" x2="2137.6" y2="450" stroke="#ffffff" stroke-width="10" stroke-linecap="round"/>
<line x1="2163.5" y1="476" x2="2145.1" y2="448.6" stroke="#86191b" stroke-width="14.5" stroke-linecap="round"/>
<line x1="2163.5" y1="476" x2="2145.1" y2="448.6" stroke="#cc4c4d" stroke-width="11.5" stroke-linecap="round"/>
<line x1="2242.5" y1="504.9" x2="2253.4" y2="490.5" stroke="#0b3550" stroke-width="2.6"/>
<line x1="2256.4" y1="486.5" x2="2276.2" y2="460.2" stroke="#0b3550" stroke-width="14.5" stroke-linecap="round"/>
<line x1="2256.4" y1="486.5" x2="2276.2" y2="460.2" stroke="#1e6c9c" stroke-width="11.5" stroke-linecap="round"/>
<line x1="2265.1" y1="503.1" x2="2291.6" y2="468" stroke="#0b3550" stroke-width="12.8" stroke-linecap="round"/>
<line x1="2265.1" y1="503.1" x2="2291.6" y2="468" stroke="#ffffff" stroke-width="10" stroke-linecap="round"/>
<line x1="2275.6" y1="501" x2="2295.4" y2="474.6" stroke="#0b3550" stroke-width="14.5" stroke-linecap="round"/>
<line x1="2275.6" y1="501" x2="2295.4" y2="474.6" stroke="#1e6c9c" stroke-width="11.5" stroke-linecap="round"/>
<line x1="2275.6" y1="558.1" x2="2293.6" y2="557.2" stroke="#86191b" stroke-width="2.6"/>
<line x1="2298.6" y1="556.9" x2="2331.6" y2="555.2" stroke="#86191b" stroke-width="14.5" stroke-linecap="round"/>
<line x1="2298.6" y1="556.9" x2="2331.6" y2="555.2" stroke="#cc4c4d" stroke-width="11.5" stroke-linecap="round"/>
<line x1="2291.5" y1="574.3" x2="2335.4" y2="572" stroke="#86191b" stroke-width="12.8" stroke-linecap="round"/>
<line x1="2291.5" y1="574.3" x2="2335.4" y2="572" stroke="#ffffff" stroke-width="10" stroke-linecap="round"/>
<line x1="2299.9" y1="580.9" x2="2332.8" y2="579.2" stroke="#86191b" stroke-width="14.5" stroke-linecap="round"/>
<line x1="2299.9" y1="580.9" x2="2332.8" y2="579.2" stroke="#cc4c4d" stroke-width="11.5" stroke-linecap="round"/>
<line x1="2248.5" y1="624.7" x2="2258.9" y2="639.5" stroke="#0b3550" stroke-width="2.6"/>
<line x1="2261.7" y1="643.6" x2="2280.7" y2="670.6" stroke="#0b3550" stroke-width="14.5" stroke-linecap="round"/>
<line x1="2261.7" y1="643.6" x2="2280.7" y2="670.6" stroke="#1e6c9c" stroke-width="11.5" stroke-linecap="round"/>
<line x1="2243.2" y1="646.8" x2="2268.5" y2="682.8" stroke="#0b3550" stroke-width="12.8" stroke-linecap="round"/>
<line x1="2243.2" y1="646.8" x2="2268.5" y2="682.8" stroke="#ffffff" stroke-width="10" stroke-linecap="round"/>
<line x1="2242.1" y1="657.4" x2="2261" y2="684.4" stroke="#0b3550" stroke-width="14.5" stroke-linecap="round"/>
<line x1="2242.1" y1="657.4" x2="2261" y2="684.4" stroke="#1e6c9c" stroke-width="11.5" stroke-linecap="round"/>
<line x1="2160.4" y1="628.4" x2="2149.3" y2="642.6" stroke="#86191b" stroke-width="2.6"/>
<line x1="2146.2" y1="646.5" x2="2125.9" y2="672.5" stroke="#86191b" stroke-width="14.5" stroke-linecap="round"/>
<line x1="2146.2" y1="646.5" x2="2125.9" y2="672.5" stroke="#cc4c4d" stroke-width="11.5" stroke-linecap="round"/>
<line x1="2137.7" y1="629.7" x2="2110.7" y2="664.4" stroke="#86191b" stroke-width="12.8" stroke-linecap="round"/>
<line x1="2137.7" y1="629.7" x2="2110.7" y2="664.4" stroke="#ffffff" stroke-width="10" stroke-linecap="round"/>
<line x1="2127.3" y1="631.7" x2="2107" y2="657.7" stroke="#86191b" stroke-width="14.5" stroke-linecap="round"/>
<line x1="2127.3" y1="631.7" x2="2107" y2="657.7" stroke="#cc4c4d" stroke-width="11.5" stroke-linecap="round"/>
<line x1="2127.8" y1="568.1" x2="2109.9" y2="567.2" stroke="#0b3550" stroke-width="2.6"/>
<line x1="2104.9" y1="566.9" x2="2071.9" y2="565.2" stroke="#0b3550" stroke-width="14.5" stroke-linecap="round"/>
<line x1="2104.9" y1="566.9" x2="2071.9" y2="565.2" stroke="#1e6c9c" stroke-width="11.5" stroke-linecap="round"/>
<line x1="2113.8" y1="550.4" x2="2069.8" y2="548.1" stroke="#0b3550" stroke-width="12.8" stroke-linecap="round"/>
<line x1="2113.8" y1="550.4" x2="2069.8" y2="548.1" stroke="#ffffff" stroke-width="10" stroke-linecap="round"/>
<line x1="2106.1" y1="542.9" x2="2073.2" y2="541.2" stroke="#0b3550" stroke-width="14.5" stroke-linecap="round"/>
<line x1="2106.1" y1="542.9" x2="2073.2" y2="541.2" stroke="#1e6c9c" stroke-width="11.5" stroke-linecap="round"/>
<circle cx="2202" cy="567" r="75" fill="#e1ddf2" stroke="#9c90c9" stroke-width="2"/>
<circle cx="2209" cy="560" r="45" fill="#c7c1e6" stroke="#b2a8da" stroke-width="1.5"/>
<g transform="rotate(-14 2194 567)">
<path d="M2194,519 L2196.4,520.6 L2198.7,522.2 L2200.7,523.8 L2202.5,525.4 L2203.8,527 L2204.7,528.6 L2205,530.2 L2204.8,531.8 L2204.1,533.4 L2202.9,535 L2201.3,536.6 L2199.3,538.2 L2197.1,539.8 L2194.7,541.4 L2192.3,543 L2190,544.6 L2187.8,546.2 L2186,547.8 L2184.5,549.4 L2183.5,551 L2183,552.6 L2183.1,554.2 L2183.7,555.8 L2184.7,557.4 L2186.2,559 L2188.1,560.6 L2190.3,562.2 L2192.6,563.8 L2195,565.4 L2197.4,567 L2199.6,568.6 L2201.5,570.2 L2203.1,571.8 L2204.2,573.4 L2204.9,575 L2205,576.6 L2204.6,578.2 L2203.6,579.8 L2202.3,581.4 L2200.5,583 L2198.4,584.6 L2196.1,586.2 L2193.7,587.8 L2191.3,589.4 L2189,591 L2187,592.6 L2185.3,594.2 L2184,595.8 L2183.3,597.4 L2183,599 L2183.3,600.6 L2184,602.2 L2185.3,603.8 L2187,605.4 L2189,607 L2191.3,608.6 L2193.7,610.2 L2196.1,611.8 L2198.4,613.4 L2200.5,615" fill="none" stroke="#2e5a72" stroke-width="2.2"/>
<path d="M2194,519 L2191.6,520.6 L2189.3,522.2 L2187.3,523.8 L2185.5,525.4 L2184.2,527 L2183.3,528.6 L2183,530.2 L2183.2,531.8 L2183.9,533.4 L2185.1,535 L2186.7,536.6 L2188.7,538.2 L2190.9,539.8 L2193.3,541.4 L2195.7,543 L2198,544.6 L2200.2,546.2 L2202,547.8 L2203.5,549.4 L2204.5,551 L2205,552.6 L2204.9,554.2 L2204.3,555.8 L2203.3,557.4 L2201.8,559 L2199.9,560.6 L2197.7,562.2 L2195.4,563.8 L2193,565.4 L2190.6,567 L2188.4,568.6 L2186.5,570.2 L2184.9,571.8 L2183.8,573.4 L2183.1,575 L2183,576.6 L2183.4,578.2 L2184.4,579.8 L2185.7,581.4 L2187.5,583 L2189.6,584.6 L2191.9,586.2 L2194.3,587.8 L2196.7,589.4 L2199,591 L2201,592.6 L2202.7,594.2 L2204,595.8 L2204.7,597.4 L2205,599 L2204.7,600.6 L2204,602.2 L2202.7,603.8 L2201,605.4 L2199,607 L2196.7,608.6 L2194.3,610.2 L2191.9,611.8 L2189.6,613.4 L2187.5,615" fill="none" stroke="#2e5a72" stroke-width="2.2"/>
<line x1="2198.7" y1="522.2" x2="2189.3" y2="522.2" stroke="#2e5a72" stroke-width="1.2"/>
<line x1="2204.7" y1="528.6" x2="2183.3" y2="528.6" stroke="#2e5a72" stroke-width="1.2"/>
<line x1="2202.9" y1="535" x2="2185.1" y2="535" stroke="#2e5a72" stroke-width="1.2"/>
<line x1="2194.7" y1="541.4" x2="2193.3" y2="541.4" stroke="#2e5a72" stroke-width="1.2"/>
<line x1="2186" y1="547.8" x2="2202" y2="547.8" stroke="#2e5a72" stroke-width="1.2"/>
<line x1="2183.1" y1="554.2" x2="2204.9" y2="554.2" stroke="#2e5a72" stroke-width="1.2"/>
<line x1="2188.1" y1="560.6" x2="2199.9" y2="560.6" stroke="#2e5a72" stroke-width="1.2"/>
<line x1="2197.4" y1="567" x2="2190.6" y2="567" stroke="#2e5a72" stroke-width="1.2"/>
<line x1="2204.2" y1="573.4" x2="2183.8" y2="573.4" stroke="#2e5a72" stroke-width="1.2"/>
<line x1="2203.6" y1="579.8" x2="2184.4" y2="579.8" stroke="#2e5a72" stroke-width="1.2"/>
<line x1="2196.1" y1="586.2" x2="2191.9" y2="586.2" stroke="#2e5a72" stroke-width="1.2"/>
<line x1="2187" y1="592.6" x2="2201" y2="592.6" stroke="#2e5a72" stroke-width="1.2"/>
<line x1="2183" y1="599" x2="2205" y2="599" stroke="#2e5a72" stroke-width="1.2"/>
<line x1="2187" y1="605.4" x2="2201" y2="605.4" stroke="#2e5a72" stroke-width="1.2"/>
<line x1="2196.1" y1="611.8" x2="2191.9" y2="611.8" stroke="#2e5a72" stroke-width="1.2"/>
</g>
<path d="M2202,575 q6,-4 4,-10" fill="none" stroke="#2a9ad8" stroke-width="3"/>
<g fill="none" stroke="#2e5a72" stroke-width="1.6">
<line x1="2206" y1="569" x2="2232" y2="555"/>
<line x1="2218" y1="575" x2="2224" y2="547"/>
<circle cx="2235" cy="553" r="3.5"/><circle cx="2225" cy="543" r="3.5"/>
</g>
<line x1="1884.4" y1="735.4" x2="1890.2" y2="718.4" stroke="#0b3550" stroke-width="2.6"/>
<line x1="1891.9" y1="713.7" x2="1902.6" y2="682.5" stroke="#0b3550" stroke-width="14.5" stroke-linecap="round"/>
<line x1="1891.9" y1="713.7" x2="1902.6" y2="682.5" stroke="#1e6c9c" stroke-width="11.5" stroke-linecap="round"/>
<line x1="1905.3" y1="726.8" x2="1919.6" y2="685.2" stroke="#0b3550" stroke-width="12.8" stroke-linecap="round"/>
<line x1="1905.3" y1="726.8" x2="1919.6" y2="685.2" stroke="#ffffff" stroke-width="10" stroke-linecap="round"/>
<line x1="1914.5" y1="721.5" x2="1925.3" y2="690.3" stroke="#0b3550" stroke-width="14.5" stroke-linecap="round"/>
<line x1="1914.5" y1="721.5" x2="1925.3" y2="690.3" stroke="#1e6c9c" stroke-width="11.5" stroke-linecap="round"/>
<line x1="1804.3" y1="764.3" x2="1790.4" y2="753" stroke="#0b3550" stroke-width="2.6"/>
<line x1="1786.5" y1="749.8" x2="1760.8" y2="729.1" stroke="#0b3550" stroke-width="14.5" stroke-linecap="round"/>
<line x1="1786.5" y1="749.8" x2="1760.8" y2="729.1" stroke="#1e6c9c" stroke-width="11.5" stroke-linecap="round"/>
<line x1="1803.4" y1="741.7" x2="1769.2" y2="714" stroke="#0b3550" stroke-width="12.8" stroke-linecap="round"/>
<line x1="1803.4" y1="741.7" x2="1769.2" y2="714" stroke="#ffffff" stroke-width="10" stroke-linecap="round"/>
<line x1="1801.6" y1="731.2" x2="1775.9" y2="710.4" stroke="#0b3550" stroke-width="14.5" stroke-linecap="round"/>
<line x1="1801.6" y1="731.2" x2="1775.9" y2="710.4" stroke="#1e6c9c" stroke-width="11.5" stroke-linecap="round"/>
<line x1="1934.8" y1="781.8" x2="1952.1" y2="776.8" stroke="#0b3550" stroke-width="2.6"/>
<line x1="1956.9" y1="775.5" x2="1988.6" y2="766.4" stroke="#0b3550" stroke-width="14.5" stroke-linecap="round"/>
<line x1="1956.9" y1="775.5" x2="1988.6" y2="766.4" stroke="#1e6c9c" stroke-width="11.5" stroke-linecap="round"/>
<line x1="1953.9" y1="794" x2="1996.2" y2="781.9" stroke="#0b3550" stroke-width="12.8" stroke-linecap="round"/>
<line x1="1953.9" y1="794" x2="1996.2" y2="781.9" stroke="#ffffff" stroke-width="10" stroke-linecap="round"/>
<line x1="1963.5" y1="798.5" x2="1995.2" y2="789.4" stroke="#0b3550" stroke-width="14.5" stroke-linecap="round"/>
<line x1="1963.5" y1="798.5" x2="1995.2" y2="789.4" stroke="#1e6c9c" stroke-width="11.5" stroke-linecap="round"/>
<line x1="1927.1" y1="847.5" x2="1941.5" y2="858.4" stroke="#0b3550" stroke-width="2.6"/>
<line x1="1945.5" y1="861.4" x2="1971.8" y2="881.2" stroke="#0b3550" stroke-width="14.5" stroke-linecap="round"/>
<line x1="1945.5" y1="861.4" x2="1971.8" y2="881.2" stroke="#1e6c9c" stroke-width="11.5" stroke-linecap="round"/>
<line x1="1928.9" y1="870.1" x2="1964" y2="896.6" stroke="#0b3550" stroke-width="12.8" stroke-linecap="round"/>
<line x1="1928.9" y1="870.1" x2="1964" y2="896.6" stroke="#ffffff" stroke-width="10" stroke-linecap="round"/>
<line x1="1931" y1="880.6" x2="1957.4" y2="900.4" stroke="#0b3550" stroke-width="14.5" stroke-linecap="round"/>
<line x1="1931" y1="880.6" x2="1957.4" y2="900.4" stroke="#1e6c9c" stroke-width="11.5" stroke-linecap="round"/>
<line x1="1845.6" y1="878.6" x2="1839.8" y2="895.6" stroke="#0b3550" stroke-width="2.6"/>
<line x1="1838.1" y1="900.3" x2="1827.4" y2="931.5" stroke="#0b3550" stroke-width="14.5" stroke-linecap="round"/>
<line x1="1838.1" y1="900.3" x2="1827.4" y2="931.5" stroke="#1e6c9c" stroke-width="11.5" stroke-linecap="round"/>
<line x1="1824.7" y1="887.2" x2="1810.4" y2="928.8" stroke="#0b3550" stroke-width="12.8" stroke-linecap="round"/>
<line x1="1824.7" y1="887.2" x2="1810.4" y2="928.8" stroke="#ffffff" stroke-width="10" stroke-linecap="round"/>
<line x1="1815.5" y1="892.5" x2="1804.7" y2="923.7" stroke="#0b3550" stroke-width="14.5" stroke-linecap="round"/>
<line x1="1815.5" y1="892.5" x2="1804.7" y2="923.7" stroke="#1e6c9c" stroke-width="11.5" stroke-linecap="round"/>
<line x1="1797.7" y1="838.2" x2="1780.9" y2="844.6" stroke="#0b3550" stroke-width="2.6"/>
<line x1="1776.2" y1="846.4" x2="1745.4" y2="858.3" stroke="#0b3550" stroke-width="14.5" stroke-linecap="round"/>
<line x1="1776.2" y1="846.4" x2="1745.4" y2="858.3" stroke="#1e6c9c" stroke-width="11.5" stroke-linecap="round"/>
<line x1="1777.6" y1="827.7" x2="1736.5" y2="843.5" stroke="#0b3550" stroke-width="12.8" stroke-linecap="round"/>
<line x1="1777.6" y1="827.7" x2="1736.5" y2="843.5" stroke="#ffffff" stroke-width="10" stroke-linecap="round"/>
<line x1="1767.6" y1="824" x2="1736.8" y2="835.8" stroke="#0b3550" stroke-width="14.5" stroke-linecap="round"/>
<line x1="1767.6" y1="824" x2="1736.8" y2="835.8" stroke="#1e6c9c" stroke-width="11.5" stroke-linecap="round"/>
<circle cx="1865" cy="807" r="75" fill="#a9d3b1" stroke="#5e9c68" stroke-width="2"/>
<circle cx="1865" cy="809" r="44" fill="#70b383" stroke="#5a9c6a" stroke-width="1.5"/>
<g transform="rotate(-16 1875 807)">
<path d="M1875,761 L1877.4,762.5 L1879.7,764.1 L1881.7,765.6 L1883.5,767.1 L1884.8,768.7 L1885.7,770.2 L1886,771.7 L1885.8,773.3 L1885.1,774.8 L1883.9,776.3 L1882.3,777.9 L1880.3,779.4 L1878.1,780.9 L1875.7,782.5 L1873.3,784 L1871,785.5 L1868.8,787.1 L1867,788.6 L1865.5,790.1 L1864.5,791.7 L1864,793.2 L1864.1,794.7 L1864.7,796.3 L1865.7,797.8 L1867.2,799.3 L1869.1,800.9 L1871.3,802.4 L1873.6,803.9 L1876,805.5 L1878.4,807 L1880.6,808.5 L1882.5,810.1 L1884.1,811.6 L1885.2,813.1 L1885.9,814.7 L1886,816.2 L1885.6,817.7 L1884.6,819.3 L1883.3,820.8 L1881.5,822.3 L1879.4,823.9 L1877.1,825.4 L1874.7,826.9 L1872.3,828.5 L1870,830 L1868,831.5 L1866.3,833.1 L1865,834.6 L1864.3,836.1 L1864,837.7 L1864.3,839.2 L1865,840.7 L1866.3,842.3 L1868,843.8 L1870,845.3 L1872.3,846.9 L1874.7,848.4 L1877.1,849.9 L1879.4,851.5 L1881.5,853" fill="none" stroke="#2e5a72" stroke-width="2.2"/>
<path d="M1875,761 L1872.6,762.5 L1870.3,764.1 L1868.3,765.6 L1866.5,767.1 L1865.2,768.7 L1864.3,770.2 L1864,771.7 L1864.2,773.3 L1864.9,774.8 L1866.1,776.3 L1867.7,777.9 L1869.7,779.4 L1871.9,780.9 L1874.3,782.5 L1876.7,784 L1879,785.5 L1881.2,787.1 L1883,788.6 L1884.5,790.1 L1885.5,791.7 L1886,793.2 L1885.9,794.7 L1885.3,796.3 L1884.3,797.8 L1882.8,799.3 L1880.9,800.9 L1878.7,802.4 L1876.4,803.9 L1874,805.5 L1871.6,807 L1869.4,808.5 L1867.5,810.1 L1865.9,811.6 L1864.8,813.1 L1864.1,814.7 L1864,816.2 L1864.4,817.7 L1865.4,819.3 L1866.7,820.8 L1868.5,822.3 L1870.6,823.9 L1872.9,825.4 L1875.3,826.9 L1877.7,828.5 L1880,830 L1882,831.5 L1883.7,833.1 L1885,834.6 L1885.7,836.1 L1886,837.7 L1885.7,839.2 L1885,840.7 L1883.7,842.3 L1882,843.8 L1880,845.3 L1877.7,846.9 L1875.3,848.4 L1872.9,849.9 L1870.6,851.5 L1868.5,853" fill="none" stroke="#2e5a72" stroke-width="2.2"/>
<line x1="1879.7" y1="764.1" x2="1870.3" y2="764.1" stroke="#2e5a72" stroke-width="1.2"/>
<line x1="1885.7" y1="770.2" x2="1864.3" y2="770.2" stroke="#2e5a72" stroke-width="1.2"/>
<line x1="1883.9" y1="776.3" x2="1866.1" y2="776.3" stroke="#2e5a72" stroke-width="1.2"/>
<line x1="1875.7" y1="782.5" x2="1874.3" y2="782.5" stroke="#2e5a72" stroke-width="1.2"/>
<line x1="1867" y1="788.6" x2="1883" y2="788.6" stroke="#2e5a72" stroke-width="1.2"/>
<line x1="1864.1" y1="794.7" x2="1885.9" y2="794.7" stroke="#2e5a72" stroke-width="1.2"/>
<line x1="1869.1" y1="800.9" x2="1880.9" y2="800.9" stroke="#2e5a72" stroke-width="1.2"/>
<line x1="1878.4" y1="807" x2="1871.6" y2="807" stroke="#2e5a72" stroke-width="1.2"/>
<line x1="1885.2" y1="813.1" x2="1864.8" y2="813.1" stroke="#2e5a72" stroke-width="1.2"/>
<line x1="1884.6" y1="819.3" x2="1865.4" y2="819.3" stroke="#2e5a72" stroke-width="1.2"/>
<line x1="1877.1" y1="825.4" x2="1872.9" y2="825.4" stroke="#2e5a72" stroke-width="1.2"/>
<line x1="1868" y1="831.5" x2="1882" y2="831.5" stroke="#2e5a72" stroke-width="1.2"/>
<line x1="1864" y1="837.7" x2="1886" y2="837.7" stroke="#2e5a72" stroke-width="1.2"/>
<line x1="1868" y1="843.8" x2="1882" y2="843.8" stroke="#2e5a72" stroke-width="1.2"/>
<line x1="1877.1" y1="849.9" x2="1872.9" y2="849.9" stroke="#2e5a72" stroke-width="1.2"/>
</g>
<path d="M1867,805 q6,-4 4,-10" fill="none" stroke="#2a9ad8" stroke-width="3"/>
<g fill="none" stroke="#2e5a72" stroke-width="1.6">
<line x1="1837" y1="831" x2="1863" y2="817"/>
<line x1="1849" y1="837" x2="1855" y2="809"/>
<circle cx="1866" cy="815" r="3.5"/><circle cx="1856" cy="805" r="3.5"/>
</g>
<line x1="2144.5" y1="769.3" x2="2134.1" y2="754.5" stroke="#0b3550" stroke-width="2.6"/>
<line x1="2131.3" y1="750.4" x2="2112.3" y2="723.4" stroke="#0b3550" stroke-width="14.5" stroke-linecap="round"/>
<line x1="2131.3" y1="750.4" x2="2112.3" y2="723.4" stroke="#1e6c9c" stroke-width="11.5" stroke-linecap="round"/>
<line x1="2149.8" y1="747.2" x2="2124.5" y2="711.2" stroke="#0b3550" stroke-width="12.8" stroke-linecap="round"/>
<line x1="2149.8" y1="747.2" x2="2124.5" y2="711.2" stroke="#ffffff" stroke-width="10" stroke-linecap="round"/>
<line x1="2150.9" y1="736.6" x2="2132" y2="709.6" stroke="#0b3550" stroke-width="14.5" stroke-linecap="round"/>
<line x1="2150.9" y1="736.6" x2="2132" y2="709.6" stroke="#1e6c9c" stroke-width="11.5" stroke-linecap="round"/>
<line x1="2230.5" y1="764.2" x2="2241" y2="749.6" stroke="#86191b" stroke-width="2.6"/>
<line x1="2244" y1="745.6" x2="2263.4" y2="718.9" stroke="#86191b" stroke-width="14.5" stroke-linecap="round"/>
<line x1="2244" y1="745.6" x2="2263.4" y2="718.9" stroke="#cc4c4d" stroke-width="11.5" stroke-linecap="round"/>
<line x1="2253" y1="762.1" x2="2278.9" y2="726.5" stroke="#86191b" stroke-width="12.8" stroke-linecap="round"/>
<line x1="2253" y1="762.1" x2="2278.9" y2="726.5" stroke="#ffffff" stroke-width="10" stroke-linecap="round"/>
<line x1="2263.4" y1="759.7" x2="2282.8" y2="733" stroke="#86191b" stroke-width="14.5" stroke-linecap="round"/>
<line x1="2263.4" y1="759.7" x2="2282.8" y2="733" stroke="#cc4c4d" stroke-width="11.5" stroke-linecap="round"/>
<line x1="2265" y1="822" x2="2283" y2="822" stroke="#0b3550" stroke-width="2.6"/>
<line x1="2288" y1="822" x2="2321" y2="822" stroke="#0b3550" stroke-width="14.5" stroke-linecap="round"/>
<line x1="2288" y1="822" x2="2321" y2="822" stroke="#1e6c9c" stroke-width="11.5" stroke-linecap="round"/>
<line x1="2280" y1="839" x2="2324" y2="839" stroke="#0b3550" stroke-width="12.8" stroke-linecap="round"/>
<line x1="2280" y1="839" x2="2324" y2="839" stroke="#ffffff" stroke-width="10" stroke-linecap="round"/>
<line x1="2288" y1="846" x2="2321" y2="846" stroke="#0b3550" stroke-width="14.5" stroke-linecap="round"/>
<line x1="2288" y1="846" x2="2321" y2="846" stroke="#1e6c9c" stroke-width="11.5" stroke-linecap="round"/>
<line x1="2238.5" y1="883.9" x2="2249.1" y2="898.5" stroke="#86191b" stroke-width="2.6"/>
<line x1="2252.1" y1="902.5" x2="2271.5" y2="929.2" stroke="#86191b" stroke-width="14.5" stroke-linecap="round"/>
<line x1="2252.1" y1="902.5" x2="2271.5" y2="929.2" stroke="#cc4c4d" stroke-width="11.5" stroke-linecap="round"/>
<line x1="2233.6" y1="906.1" x2="2259.5" y2="941.7" stroke="#86191b" stroke-width="12.8" stroke-linecap="round"/>
<line x1="2233.6" y1="906.1" x2="2259.5" y2="941.7" stroke="#ffffff" stroke-width="10" stroke-linecap="round"/>
<line x1="2232.6" y1="916.6" x2="2252" y2="943.3" stroke="#86191b" stroke-width="14.5" stroke-linecap="round"/>
<line x1="2232.6" y1="916.6" x2="2252" y2="943.3" stroke="#cc4c4d" stroke-width="11.5" stroke-linecap="round"/>
<line x1="2150.5" y1="889.1" x2="2139.6" y2="903.5" stroke="#0b3550" stroke-width="2.6"/>
<line x1="2136.6" y1="907.5" x2="2116.8" y2="933.8" stroke="#0b3550" stroke-width="14.5" stroke-linecap="round"/>
<line x1="2136.6" y1="907.5" x2="2116.8" y2="933.8" stroke="#1e6c9c" stroke-width="11.5" stroke-linecap="round"/>
<line x1="2127.9" y1="890.9" x2="2101.4" y2="926" stroke="#0b3550" stroke-width="12.8" stroke-linecap="round"/>
<line x1="2127.9" y1="890.9" x2="2101.4" y2="926" stroke="#ffffff" stroke-width="10" stroke-linecap="round"/>
<line x1="2117.4" y1="893" x2="2097.6" y2="919.4" stroke="#0b3550" stroke-width="14.5" stroke-linecap="round"/>
<line x1="2117.4" y1="893" x2="2097.6" y2="919.4" stroke="#1e6c9c" stroke-width="11.5" stroke-linecap="round"/>
<line x1="2117" y1="832" x2="2099" y2="832" stroke="#86191b" stroke-width="2.6"/>
<line x1="2094" y1="832" x2="2061" y2="832" stroke="#86191b" stroke-width="14.5" stroke-linecap="round"/>
<line x1="2094" y1="832" x2="2061" y2="832" stroke="#cc4c4d" stroke-width="11.5" stroke-linecap="round"/>
<line x1="2102" y1="815" x2="2058" y2="815" stroke="#86191b" stroke-width="12.8" stroke-linecap="round"/>
<line x1="2102" y1="815" x2="2058" y2="815" stroke="#ffffff" stroke-width="10" stroke-linecap="round"/>
<line x1="2094" y1="808" x2="2061" y2="808" stroke="#86191b" stroke-width="14.5" stroke-linecap="round"/>
<line x1="2094" y1="808" x2="2061" y2="808" stroke="#cc4c4d" stroke-width="11.5" stroke-linecap="round"/>
<circle cx="2191" cy="827" r="75" fill="#a9d3b1" stroke="#5e9c68" stroke-width="2"/>
<circle cx="2191" cy="829" r="44" fill="#70b383" stroke="#5a9c6a" stroke-width="1.5"/>
<g transform="rotate(-16 2201 827)">
<path d="M2201,781 L2203.4,782.5 L2205.7,784.1 L2207.7,785.6 L2209.5,787.1 L2210.8,788.7 L2211.7,790.2 L2212,791.7 L2211.8,793.3 L2211.1,794.8 L2209.9,796.3 L2208.3,797.9 L2206.3,799.4 L2204.1,800.9 L2201.7,802.5 L2199.3,804 L2197,805.5 L2194.8,807.1 L2193,808.6 L2191.5,810.1 L2190.5,811.7 L2190,813.2 L2190.1,814.7 L2190.7,816.3 L2191.7,817.8 L2193.2,819.3 L2195.1,820.9 L2197.3,822.4 L2199.6,823.9 L2202,825.5 L2204.4,827 L2206.6,828.5 L2208.5,830.1 L2210.1,831.6 L2211.2,833.1 L2211.9,834.7 L2212,836.2 L2211.6,837.7 L2210.6,839.3 L2209.3,840.8 L2207.5,842.3 L2205.4,843.9 L2203.1,845.4 L2200.7,846.9 L2198.3,848.5 L2196,850 L2194,851.5 L2192.3,853.1 L2191,854.6 L2190.3,856.1 L2190,857.7 L2190.3,859.2 L2191,860.7 L2192.3,862.3 L2194,863.8 L2196,865.3 L2198.3,866.9 L2200.7,868.4 L2203.1,869.9 L2205.4,871.5 L2207.5,873" fill="none" stroke="#2e5a72" stroke-width="2.2"/>
<path d="M2201,781 L2198.6,782.5 L2196.3,784.1 L2194.3,785.6 L2192.5,787.1 L2191.2,788.7 L2190.3,790.2 L2190,791.7 L2190.2,793.3 L2190.9,794.8 L2192.1,796.3 L2193.7,797.9 L2195.7,799.4 L2197.9,800.9 L2200.3,802.5 L2202.7,804 L2205,805.5 L2207.2,807.1 L2209,808.6 L2210.5,810.1 L2211.5,811.7 L2212,813.2 L2211.9,814.7 L2211.3,816.3 L2210.3,817.8 L2208.8,819.3 L2206.9,820.9 L2204.7,822.4 L2202.4,823.9 L2200,825.5 L2197.6,827 L2195.4,828.5 L2193.5,830.1 L2191.9,831.6 L2190.8,833.1 L2190.1,834.7 L2190,836.2 L2190.4,837.7 L2191.4,839.3 L2192.7,840.8 L2194.5,842.3 L2196.6,843.9 L2198.9,845.4 L2201.3,846.9 L2203.7,848.5 L2206,850 L2208,851.5 L2209.7,853.1 L2211,854.6 L2211.7,856.1 L2212,857.7 L2211.7,859.2 L2211,860.7 L2209.7,862.3 L2208,863.8 L2206,865.3 L2203.7,866.9 L2201.3,868.4 L2198.9,869.9 L2196.6,871.5 L2194.5,873" fill="none" stroke="#2e5a72" stroke-width="2.2"/>
<line x1="2205.7" y1="784.1" x2="2196.3" y2="784.1" stroke="#2e5a72" stroke-width="1.2"/>
<line x1="2211.7" y1="790.2" x2="2190.3" y2="790.2" stroke="#2e5a72" stroke-width="1.2"/>
<line x1="2209.9" y1="796.3" x2="2192.1" y2="796.3" stroke="#2e5a72" stroke-width="1.2"/>
<line x1="2201.7" y1="802.5" x2="2200.3" y2="802.5" stroke="#2e5a72" stroke-width="1.2"/>
<line x1="2193" y1="808.6" x2="2209" y2="808.6" stroke="#2e5a72" stroke-width="1.2"/>
<line x1="2190.1" y1="814.7" x2="2211.9" y2="814.7" stroke="#2e5a72" stroke-width="1.2"/>
<line x1="2195.1" y1="820.9" x2="2206.9" y2="820.9" stroke="#2e5a72" stroke-width="1.2"/>
<line x1="2204.4" y1="827" x2="2197.6" y2="827" stroke="#2e5a72" stroke-width="1.2"/>
<line x1="2211.2" y1="833.1" x2="2190.8" y2="833.1" stroke="#2e5a72" stroke-width="1.2"/>
<line x1="2210.6" y1="839.3" x2="2191.4" y2="839.3" stroke="#2e5a72" stroke-width="1.2"/>
<line x1="2203.1" y1="845.4" x2="2198.9" y2="845.4" stroke="#2e5a72" stroke-width="1.2"/>
<line x1="2194" y1="851.5" x2="2208" y2="851.5" stroke="#2e5a72" stroke-width="1.2"/>
<line x1="2190" y1="857.7" x2="2212" y2="857.7" stroke="#2e5a72" stroke-width="1.2"/>
<line x1="2194" y1="863.8" x2="2208" y2="863.8" stroke="#2e5a72" stroke-width="1.2"/>
<line x1="2203.1" y1="869.9" x2="2198.9" y2="869.9" stroke="#2e5a72" stroke-width="1.2"/>
</g>
<path d="M2193,825 q6,-4 4,-10" fill="none" stroke="#2a9ad8" stroke-width="3"/>
<g fill="none" stroke="#2e5a72" stroke-width="1.6">
<line x1="2163" y1="851" x2="2189" y2="837"/>
<line x1="2175" y1="857" x2="2181" y2="829"/>
<circle cx="2192" cy="835" r="3.5"/><circle cx="2182" cy="825" r="3.5"/>
</g>
<defs><linearGradient id="ga1" x1="2318" y1="0" x2="2398" y2="0" gradientUnits="userSpaceOnUse"><stop offset="0" stop-color="#222" stop-opacity="0"/><stop offset="0.45" stop-color="#222"/></linearGradient></defs>
<rect x="2318" y="688.5" width="82" height="9" fill="url(#ga1)"/>
<path d="M2438,693 L2397,673 L2397,713Z" fill="#222"/>
<ellipse cx="2525" cy="401" rx="19" ry="15" fill="#fac7ca" stroke="#e3a0a6" stroke-width="2"/>
<ellipse cx="2573" cy="396" rx="6.5" ry="6.5" fill="#fac7ca" stroke="#e3a0a6" stroke-width="2"/>
<ellipse cx="2642" cy="412" rx="11" ry="11" fill="#fac7ca" stroke="#e3a0a6" stroke-width="2"/>
<ellipse cx="2480" cy="458" rx="16" ry="15" fill="#fac7ca" stroke="#e3a0a6" stroke-width="2"/>
<ellipse cx="2482" cy="499" rx="5.5" ry="5.5" fill="#fac7ca" stroke="#e3a0a6" stroke-width="2"/>
<ellipse cx="2653" cy="466" rx="12" ry="15" fill="#fac7ca" stroke="#e3a0a6" stroke-width="2"/>
<ellipse cx="2644" cy="548" rx="5" ry="5" fill="#fac7ca" stroke="#e3a0a6" stroke-width="2"/>
<ellipse cx="2647" cy="591" rx="11" ry="10" fill="#fac7ca" stroke="#e3a0a6" stroke-width="2"/>
<path d="M2494.2,438.4C2495.8,437.2 2498.2,436.9 2500.3,436.2C2502.3,435.6 2504.6,435.3 2506.6,434.6C2508.7,433.9 2510.5,433.1 2512.4,432.2C2514.4,431.3 2516.2,430.2 2518.2,429.3C2520.2,428.5 2522.1,427.6 2524.3,426.9C2526.6,426.2 2529,425.8 2531.7,425.3C2534.3,424.9 2537.3,424.6 2540.1,424C2542.9,423.4 2545.8,422.7 2548.5,421.8C2551.2,420.9 2553.9,419.7 2556.3,418.8C2558.8,417.8 2561,416.9 2563,416.1C2565,415.3 2566.8,414.7 2568.5,414C2570.3,413.2 2571.9,412.4 2573.6,411.4C2575.2,410.3 2576.8,409 2578.5,407.6C2580.1,406.2 2581.8,404.4 2583.5,403C2585.1,401.7 2586.7,400.3 2588.4,399.6C2590.1,399 2591.8,398.8 2593.4,399C2595.1,399.2 2596.8,400.1 2598.4,400.8C2600.1,401.5 2601.6,402.6 2603.2,403.3C2604.8,404 2606.4,404.6 2607.9,405C2609.4,405.4 2611,405.3 2612.1,405.8C2613.2,406.3 2614.2,406.8 2614.7,408C2615.2,409.3 2615.2,411.2 2615,413.3C2614.9,415.4 2614.2,418.2 2613.8,420.7C2613.4,423.1 2612.8,425.8 2612.7,427.8C2612.7,429.7 2612.8,431.3 2613.6,432.5C2614.4,433.7 2615.8,434.2 2617.3,434.9C2618.8,435.6 2620.8,436 2622.4,436.8C2624.1,437.5 2625.9,438.4 2627.3,439.4C2628.8,440.4 2630.1,441.5 2631.3,442.8C2632.5,444 2633.4,445.2 2634.4,446.8C2635.3,448.4 2636.2,450.1 2636.9,452.1C2637.6,454.2 2638.4,456.6 2638.7,459.2C2639,461.7 2639,464.6 2638.7,467.4C2638.4,470.1 2637.5,473 2637,475.5C2636.4,478 2635.7,480.1 2635.5,482.3C2635.4,484.4 2635.5,486.2 2635.9,488.4C2636.3,490.6 2637.2,492.8 2637.7,495.2C2638.3,497.6 2639,500.2 2639.1,502.7C2639.2,505.1 2638.9,507.7 2638.3,509.8C2637.8,512 2636.5,513.8 2635.7,515.6C2635,517.5 2634.1,519 2633.8,520.9C2633.5,522.8 2633.7,524.9 2634.1,527C2634.5,529.2 2635.5,531.7 2636.2,534.1C2636.9,536.4 2637.8,539 2638.2,541.2C2638.6,543.5 2638.7,545.5 2638.5,547.6C2638.3,549.8 2637.7,551.7 2637.1,554C2636.5,556.3 2635.7,559 2634.8,561.4C2633.9,563.9 2632.9,566.7 2631.5,568.9C2630.1,571.1 2628.4,573.3 2626.3,574.5C2624.2,575.8 2621.8,576.4 2618.8,576.3C2615.9,576.2 2612.2,575 2608.5,574C2604.8,573 2600.5,571.3 2596.6,570.4C2592.7,569.5 2588.7,568.6 2584.9,568.5C2581.1,568.3 2577.4,568.8 2573.7,569.3C2570.1,569.9 2566.7,571.1 2563,571.6C2559.4,572.1 2555.7,572.6 2551.9,572.4C2548.1,572.2 2543.9,571.3 2540,570.4C2536.2,569.5 2532.5,568.1 2528.9,567.1C2525.4,566.1 2522,565.1 2518.9,564.3C2515.8,563.5 2513,563 2510.1,562.4C2507.3,561.8 2504.6,561.3 2501.8,560.7C2498.9,560.1 2496,559.5 2493.1,558.9C2490.3,558.3 2487.4,557.7 2484.6,557.1C2481.7,556.6 2478.7,556.3 2476.1,555.8C2473.5,555.4 2470.8,555.3 2468.8,554.6C2466.7,553.9 2465,553.1 2463.9,551.7C2462.9,550.4 2462.4,548.5 2462.5,546.4C2462.5,544.4 2463.5,541.9 2464.3,539.7C2465.1,537.5 2466.6,535.2 2467.4,533.4C2468.2,531.7 2468.8,530.2 2469.3,529.1C2469.7,528 2469.7,527.5 2470.1,526.9C2470.6,526.2 2470.9,525.9 2471.8,525.3C2472.7,524.7 2474,524.1 2475.5,523.2C2477,522.3 2479.1,521.2 2480.8,519.9C2482.5,518.6 2484.3,517.1 2485.7,515.5C2487.1,513.8 2488.1,512 2489,510C2490,508 2490.7,505.8 2491.5,503.5C2492.2,501.2 2492.9,498.7 2493.7,496.3C2494.5,493.9 2495.4,491.4 2496,489.1C2496.7,486.7 2497.5,484.7 2497.6,482.3C2497.7,479.8 2497.4,477.3 2496.7,474.3C2496,471.2 2494.4,467.5 2493.4,464C2492.4,460.4 2491,456.3 2490.5,452.9C2490.1,449.5 2490,446.1 2490.6,443.7C2491.2,441.3 2492.6,439.6 2494.2,438.4Z" fill="#fac7ca" stroke="#e3a0a6" stroke-width="2"/>
<path d="M2614,485C2614,487 2614,488.9 2614,490.9C2614,492.9 2614.2,495 2614,497C2613.7,499.1 2613.5,501.3 2612.6,503.2C2611.8,505 2610.4,506.8 2608.7,508C2607,509.3 2604.7,510 2602.6,510.6C2600.6,511.3 2598.3,511.3 2596.5,511.8C2594.6,512.3 2593.1,512.7 2591.6,513.7C2590.2,514.7 2589.1,516.3 2587.6,517.8C2586.2,519.2 2584.7,521.3 2582.9,522.6C2581.2,523.8 2579,524.9 2577,525.2C2575,525.5 2572.7,524.9 2570.8,524.2C2568.9,523.4 2567.1,521.8 2565.4,520.6C2563.8,519.3 2562.4,517.9 2560.8,516.7C2559.3,515.6 2557.7,514.7 2556.2,513.7C2554.6,512.7 2552.8,511.9 2551.3,510.7C2549.8,509.6 2548.3,508.2 2547.1,506.7C2546,505.2 2545.1,503.4 2544.4,501.6C2543.6,499.9 2543.2,498 2542.6,496.2C2542,494.4 2541.4,492.6 2540.8,490.7C2540.2,488.9 2539.4,487 2539,485C2538.6,483 2538.3,480.9 2538.5,478.9C2538.7,476.9 2539.3,474.8 2540.1,473C2541,471.2 2542.3,469.5 2543.5,467.9C2544.7,466.3 2546.1,464.9 2547.3,463.4C2548.5,461.9 2549.6,460.3 2550.8,458.8C2552.1,457.3 2553.3,455.6 2554.7,454.4C2556.2,453.1 2557.9,451.9 2559.8,451.2C2561.6,450.4 2563.7,450.2 2565.6,450C2567.6,449.9 2569.6,450.3 2571.5,450.4C2573.4,450.5 2575.2,450.7 2577,450.7C2578.8,450.7 2580.6,450.4 2582.5,450.3C2584.4,450.2 2586.4,449.9 2588.3,450.1C2590.3,450.3 2592.3,450.7 2594.1,451.5C2595.9,452.3 2597.5,453.5 2599,454.7C2600.5,456 2601.7,457.5 2603,459C2604.3,460.4 2605.6,461.8 2606.8,463.4C2608,464.9 2609.3,466.4 2610.3,468C2611.4,469.7 2612.3,471.5 2613,473.3C2613.6,475.2 2613.9,477.2 2614,479.1C2614.2,481.1 2614,483 2614,485Z" fill="#eca6ab" stroke="#e29aa0" stroke-width="1.5"/>
<circle cx="2599.1" cy="540.8" r="2.5" fill="#eaa3a8"/>
<circle cx="2548.3" cy="448.2" r="2" fill="#eaa3a8"/>
<circle cx="2545.9" cy="530.6" r="3" fill="#eaa3a8"/>
<circle cx="2529.9" cy="532.3" r="2" fill="#eaa3a8"/>
<circle cx="2513.4" cy="537.5" r="3.5" fill="#eaa3a8"/>
<circle cx="2500.2" cy="496.5" r="3.5" fill="#eaa3a8"/>
<circle cx="2601" cy="448.9" r="3.5" fill="#eaa3a8"/>
<circle cx="2483.8" cy="537.3" r="3.5" fill="#eaa3a8"/>
<circle cx="2625.1" cy="502.3" r="2.5" fill="#eaa3a8"/>
<circle cx="2501.5" cy="513.3" r="2" fill="#eaa3a8"/>
<circle cx="2527.8" cy="559.2" r="3.5" fill="#eaa3a8"/>
<circle cx="2618.2" cy="490" r="2" fill="#eaa3a8"/>
<circle cx="2519.9" cy="437.4" r="3.5" fill="#eaa3a8"/>
<circle cx="2503" cy="548.1" r="3.5" fill="#eaa3a8"/>
<circle cx="2596.6" cy="407.8" r="2" fill="#eaa3a8"/>
<circle cx="2530.6" cy="469.3" r="3.5" fill="#eaa3a8"/>
<circle cx="2629.7" cy="552.5" r="3" fill="#eaa3a8"/>
<circle cx="2578.8" cy="552" r="2.5" fill="#eaa3a8"/>
<circle cx="2542.1" cy="542.4" r="2" fill="#eaa3a8"/>
<circle cx="2527.9" cy="447.3" r="3" fill="#eaa3a8"/>
<circle cx="2542.8" cy="558.3" r="2" fill="#eaa3a8"/>
<circle cx="2510.4" cy="472.8" r="2" fill="#eaa3a8"/>
<ellipse cx="2482" cy="765" rx="16" ry="16" fill="#f5a2a6" stroke="#d27479" stroke-width="2"/>
<ellipse cx="2483" cy="808" rx="6.5" ry="6.5" fill="#f5a2a6" stroke="#d27479" stroke-width="2"/>
<ellipse cx="2486" cy="904" rx="15" ry="11" fill="#f5a2a6" stroke="#d27479" stroke-width="2"/>
<ellipse cx="2550" cy="901" rx="13.5" ry="13.5" fill="#f5a2a6" stroke="#d27479" stroke-width="2"/>
<ellipse cx="2590" cy="925" rx="9" ry="7" fill="#f5a2a6" stroke="#d27479" stroke-width="2"/>
<ellipse cx="2666" cy="912" rx="13.5" ry="13.5" fill="#f5a2a6" stroke="#d27479" stroke-width="2"/>
<ellipse cx="2661" cy="860" rx="5.4" ry="5.4" fill="#f5a2a6" stroke="#d27479" stroke-width="2"/>
<ellipse cx="2670" cy="773" rx="12" ry="16" fill="#f5a2a6" stroke="#d27479" stroke-width="2"/>
<ellipse cx="2658" cy="716" rx="12" ry="12" fill="#f5a2a6" stroke="#d27479" stroke-width="2"/>
<path d="M2498.5,760.4C2499.8,758.7 2500.8,757.1 2502.7,756C2504.6,754.9 2507.1,754.1 2509.9,753.7C2512.7,753.2 2516.5,753.8 2519.2,753.3C2522,752.9 2524.4,752.6 2526.3,750.9C2528.2,749.2 2529,746.1 2530.5,743.3C2532,740.6 2533.5,737 2535.2,734.3C2537,731.6 2539,729.3 2541,727.2C2542.9,725.1 2544.8,723.5 2546.9,721.7C2549.1,720 2551.2,718.2 2553.7,716.9C2556.3,715.6 2559.2,714.5 2562,713.9C2564.8,713.2 2567.8,713.4 2570.6,713.2C2573.4,713 2575.9,713 2578.8,712.7C2581.8,712.5 2584.8,711.9 2588.2,711.7C2591.5,711.6 2595.5,711.4 2599.1,711.6C2602.7,711.8 2606.5,712.4 2609.7,713.1C2612.9,713.7 2615.8,714.4 2618.3,715.5C2620.8,716.5 2622.8,717.6 2624.8,719.2C2626.8,720.8 2628.7,722.8 2630.3,724.9C2632,727 2633.4,729.5 2634.7,731.8C2636.1,734.1 2637,736.5 2638.3,738.7C2639.6,740.9 2641,743 2642.6,745C2644.2,747.1 2646.3,749 2648.1,751.1C2649.8,753.2 2651.9,755.3 2653.2,757.6C2654.6,759.9 2655.6,762.2 2656.2,764.9C2656.9,767.5 2656.9,770.4 2657.1,773.5C2657.4,776.7 2657.6,780.2 2657.6,783.6C2657.7,787 2657.6,790.7 2657.3,794C2656.9,797.2 2655.8,800.3 2655.7,803C2655.5,805.8 2655.5,808 2656.3,810.4C2657.2,812.8 2659.3,815.1 2660.7,817.4C2662.1,819.7 2664.1,822 2664.9,824.1C2665.7,826.2 2665.5,828 2665.4,829.9C2665.2,831.8 2664.4,833.4 2664.1,835.2C2663.8,837.1 2664.1,839.1 2663.7,841.1C2663.2,843 2662.6,845.1 2661.3,846.9C2660,848.8 2657.5,850.1 2656,852C2654.5,854 2653,856 2652.3,858.7C2651.5,861.5 2651.9,865.3 2651.3,868.5C2650.8,871.7 2650.3,875.3 2649,877.8C2647.7,880.4 2645.5,881.8 2643.7,883.8C2641.9,885.8 2640,887.4 2638.3,889.8C2636.6,892.2 2635.4,895.9 2633.4,898.3C2631.5,900.8 2629,903.2 2626.4,904.5C2623.8,905.8 2620.5,905.3 2618,905.9C2615.4,906.5 2613.2,906.9 2610.9,908.1C2608.7,909.2 2606.9,911.8 2604.6,912.7C2602.4,913.6 2599.7,914.2 2597.2,913.6C2594.7,913.1 2591.9,910.9 2589.4,909.4C2586.9,907.9 2584.7,906.2 2582.2,904.7C2579.7,903.3 2577.1,902.7 2574.4,900.7C2571.6,898.8 2568.5,895.8 2565.7,893.1C2563,890.3 2560.7,886.2 2558.1,884.4C2555.5,882.5 2553.1,882.1 2550.2,881.8C2547.3,881.6 2543.6,883.1 2540.6,882.9C2537.7,882.8 2534.8,881.9 2532.5,880.8C2530.2,879.7 2529,877.3 2526.7,876.5C2524.4,875.8 2521.7,875.9 2518.4,876.2C2515.2,876.4 2510.5,877.9 2507.2,878C2504,878.1 2501.1,877.4 2498.8,876.6C2496.4,875.8 2495.5,874.1 2493.1,873.1C2490.7,872.2 2487.6,871.9 2484.3,871.1C2481.1,870.3 2476.5,869.9 2473.9,868.5C2471.2,867.2 2469.7,864.9 2468.6,862.9C2467.6,861 2468.2,858.8 2467.4,857C2466.7,855.2 2465.3,854 2464.3,852.3C2463.2,850.6 2461.2,849 2460.9,847C2460.7,845.1 2462,842.6 2463,840.7C2464,838.8 2465.9,836.8 2467,835.6C2468.2,834.3 2468.4,833.9 2469.8,833.2C2471.1,832.6 2472.5,832.4 2475.1,831.7C2477.7,831 2482.3,830.1 2485.4,829C2488.5,827.8 2492.2,826.5 2493.7,824.8C2495.3,823 2494.7,820.9 2494.8,818.4C2494.8,815.9 2493.8,812.6 2494,809.6C2494.2,806.7 2495.4,803.4 2496,800.6C2496.5,797.8 2497.5,795.5 2497.3,792.7C2497.1,789.9 2495.6,786.8 2494.9,783.7C2494.1,780.5 2492.9,776.5 2492.9,773.5C2492.9,770.6 2494.1,768 2495,765.9C2495.9,763.7 2497.2,762 2498.5,760.4Z" fill="#f5a2a6" stroke="#d27479" stroke-width="2"/>
<path d="M2626.9,792C2627.7,794 2629.4,796.1 2630.1,798.4C2630.9,800.6 2631.6,803.2 2631.4,805.5C2631.3,807.7 2630.3,810 2629.1,811.9C2627.9,813.8 2625.9,815.3 2624.3,816.9C2622.7,818.5 2621,819.8 2619.5,821.5C2618,823.1 2616.8,825 2615.3,826.9C2613.9,828.7 2612.5,831 2610.7,832.6C2608.9,834.2 2606.7,835.7 2604.4,836.3C2602.1,837 2599.5,836.9 2597.1,836.5C2594.7,836.2 2592.2,835 2590,834.2C2587.8,833.5 2585.8,832.5 2583.7,831.9C2581.6,831.4 2579.5,831.2 2577.3,831C2575.1,830.7 2572.7,830.8 2570.5,830.4C2568.2,829.9 2565.7,829.4 2563.6,828.3C2561.5,827.3 2559.5,825.8 2557.9,824.1C2556.2,822.5 2554.8,820.5 2553.5,818.5C2552.2,816.5 2551.1,814.4 2550.2,812.3C2549.2,810.2 2548.3,808 2547.7,805.7C2547.2,803.5 2546.8,801.1 2546.8,798.8C2546.9,796.5 2547.4,794.2 2547.9,792C2548.5,789.8 2549.4,787.7 2550.1,785.7C2550.9,783.6 2551.6,781.7 2552.2,779.7C2552.8,777.7 2553.1,775.6 2553.7,773.5C2554.3,771.4 2554.8,769.1 2555.8,767.1C2556.8,765.2 2558.1,763.2 2559.7,761.7C2561.2,760.1 2563.3,758.9 2565.2,757.9C2567.2,756.9 2569.4,756.3 2571.4,755.4C2573.4,754.6 2575.3,753.9 2577.4,753.1C2579.4,752.2 2581.3,751.2 2583.4,750.4C2585.5,749.6 2587.7,748.7 2590,748.3C2592.3,747.9 2594.7,747.8 2597,747.9C2599.3,748.1 2601.6,748.6 2603.9,749.1C2606.3,749.6 2608.6,750.2 2610.9,750.9C2613.3,751.6 2615.9,752.2 2618.1,753.3C2620.4,754.3 2623,755.5 2624.7,757.3C2626.4,759.1 2627.9,761.5 2628.6,764C2629.2,766.5 2629,769.6 2628.6,772.3C2628.3,775 2627,777.8 2626.4,780.2C2625.8,782.5 2625.1,784.5 2625.1,786.4C2625.2,788.4 2626.1,790 2626.9,792Z" fill="#d57479" stroke="#c06167" stroke-width="1.5"/>
<circle cx="2592.3" cy="731.3" r="2" fill="#dd7f85"/>
<circle cx="2548.8" cy="874.9" r="2" fill="#dd7f85"/>
<circle cx="2587.8" cy="897.9" r="2" fill="#dd7f85"/>
<circle cx="2501.9" cy="828.2" r="3" fill="#dd7f85"/>
<circle cx="2572.5" cy="729.5" r="2.5" fill="#dd7f85"/>
<circle cx="2527.5" cy="829" r="3" fill="#dd7f85"/>
<circle cx="2619.9" cy="850.5" r="3" fill="#dd7f85"/>
<circle cx="2514.1" cy="826.8" r="2.5" fill="#dd7f85"/>
<circle cx="2568.1" cy="884.1" r="2" fill="#dd7f85"/>
<circle cx="2547.5" cy="861.6" r="2.5" fill="#dd7f85"/>
<circle cx="2474.6" cy="844.7" r="3.5" fill="#dd7f85"/>
<circle cx="2558.3" cy="843.9" r="3.5" fill="#dd7f85"/>
<circle cx="2541.3" cy="844.8" r="3" fill="#dd7f85"/>
<circle cx="2478.4" cy="863.7" r="3.5" fill="#dd7f85"/>
<circle cx="2624.7" cy="881.9" r="3" fill="#dd7f85"/>
<circle cx="2520.7" cy="796.6" r="2" fill="#dd7f85"/>
<circle cx="2512" cy="809.8" r="2" fill="#dd7f85"/>
<circle cx="2538.1" cy="825.3" r="3" fill="#dd7f85"/>
<circle cx="2650.4" cy="848.9" r="3.5" fill="#dd7f85"/>
<circle cx="2566.2" cy="835" r="3" fill="#dd7f85"/>
<ellipse cx="2517" cy="579" rx="37" ry="24" transform="rotate(-22 2517 579)" fill="#4b6e9a" stroke="#1b3c66" stroke-width="2"/>
<ellipse cx="2645" cy="619" rx="27" ry="20" transform="rotate(15 2645 619)" fill="#4b6e9a" stroke="#1b3c66" stroke-width="2"/>
<ellipse cx="2477" cy="667" rx="13" ry="18" fill="#4b6e9a" stroke="#1b3c66" stroke-width="2"/>
<ellipse cx="2531" cy="739" rx="12.5" ry="15" fill="#4b6e9a" stroke="#1b3c66" stroke-width="2"/>
<path d="M2494,622C2496.8,615.4 2501.8,613.1 2510,611C2518.2,608.9 2541.5,613 2549,608C2556.5,603 2556.7,585.8 2560,578C2563.3,570.2 2565.3,560.6 2571,556C2576.7,551.4 2590.9,546.7 2598,547C2605.1,547.3 2614.2,551.7 2618,558C2621.8,564.3 2623.9,579.4 2623,589C2622.1,598.6 2612.4,614.6 2612,622C2611.6,629.4 2615.1,634.7 2620,638C2624.9,641.3 2637.5,641.5 2645,644C2652.5,646.5 2662.2,650.2 2670,655C2677.8,659.8 2692.3,670.5 2697,676C2701.7,681.5 2704.2,689.3 2701,692C2697.8,694.7 2684.7,693 2676,694C2667.3,695 2651.4,695 2643,699C2634.6,703 2624.7,714.4 2620,721C2615.3,727.6 2613.2,735.5 2612,743C2610.8,750.5 2613.7,766.4 2612,771C2610.3,775.6 2603.8,777.3 2601,774C2598.2,770.7 2595.8,756 2593,749C2590.2,742 2585.3,730 2582,727C2578.7,724 2573.8,724.5 2571,729C2568.2,733.5 2565.6,752.8 2563,757C2560.4,761.2 2556.1,760.8 2554,757C2551.9,753.2 2552.3,737.4 2549,732C2545.7,726.6 2537.8,724.3 2532,721C2526.2,717.7 2515.4,715 2510,710C2504.6,705 2498.8,696.2 2496,688C2493.2,679.8 2491.3,664.9 2491,655C2490.7,645.1 2491.2,628.6 2494,622Z" fill="#4b6e9a" stroke="#1b3c66" stroke-width="2"/>
<path d="M2548,616C2550.6,614 2558.4,611 2562,611C2565.6,611 2570.2,612.9 2572,616C2573.8,619.1 2572.5,627.8 2574,632C2575.5,636.2 2578.7,641.1 2582,644C2585.3,646.9 2593.3,648.3 2596,651C2598.7,653.7 2600.6,659 2600,662C2599.4,665 2595.6,669.8 2592,671C2588.4,672.2 2580.2,671.6 2576,670C2571.8,668.4 2566.4,663.6 2564,660C2561.6,656.4 2562.2,649.6 2560,646C2557.8,642.4 2551.2,639.3 2549,636C2546.8,632.7 2545.2,627 2545,624C2544.8,621 2545.4,618 2548,616Z" fill="#0c2a57"/>
<g fill="none" stroke="#2e5688" stroke-width="1.6">
<path d="M2518.3,655.5 L2518.8,653.2 L2519.5,650.9 L2520.5,648.8 L2521.7,646.7 L2523.2,644.8 L2524.8,643.1 L2526.6,641.5 L2528.6,640.2 L2530.7,639.1 L2532.9,638.2 L2535.2,637.5 L2537.5,637.1"/>
<path d="M2523.2,656.3 L2523.6,654.5 L2524.2,652.8 L2524.9,651.1 L2525.9,649.5 L2527,648 L2528.3,646.7 L2529.7,645.5 L2531.2,644.5 L2532.8,643.6 L2534.5,642.9 L2536.3,642.4 L2538.1,642.1"/>
<path d="M2528.4,655.9 L2528.7,654.9 L2529.2,653.9 L2529.7,652.9 L2530.3,652 L2531,651.1 L2531.7,650.3 L2532.5,649.6 L2533.4,649 L2534.4,648.4 L2535.4,647.9 L2536.4,647.6 L2537.5,647.3"/>
<path d="M2625.7,661.8 L2627.7,663.6 L2629.5,665.7 L2631,668 L2632.3,670.4 L2633.2,673 L2633.8,675.7 L2634,678.5 L2633.9,681.2 L2633.4,683.9 L2632.7,686.5 L2631.6,689.1 L2630.2,691.4"/>
<path d="M2622.6,665.7 L2624.1,667.1 L2625.5,668.7 L2626.7,670.5 L2627.7,672.4 L2628.4,674.4 L2628.8,676.5 L2629,678.6 L2628.9,680.7 L2628.6,682.8 L2628,684.8 L2627.1,686.8 L2626,688.6"/>
<path d="M2620.4,670.4 L2621.2,671.3 L2622,672.4 L2622.7,673.5 L2623.2,674.7 L2623.6,675.9 L2623.9,677.2 L2624,678.5 L2624,679.8 L2623.8,681.1 L2623.5,682.4 L2623.1,683.6 L2622.5,684.8"/>
<path d="M2503.9,578 L2505.1,576 L2506.5,574.1 L2508.2,572.4 L2510.1,570.9 L2512.2,569.8 L2514.5,568.9 L2516.8,568.3 L2519.2,568 L2521.6,568.1 L2523.9,568.4 L2526.2,569.1 L2528.4,570.1"/>
<path d="M2508.3,580.2 L2509.2,578.7 L2510.3,577.4 L2511.5,576.2 L2512.9,575.1 L2514.4,574.3 L2516,573.6 L2517.7,573.2 L2519.4,573 L2521.1,573 L2522.8,573.3 L2524.5,573.8 L2526.1,574.5"/>
<path d="M2512.8,582.5 L2513.4,581.5 L2514,580.7 L2514.8,579.9 L2515.6,579.3 L2516.6,578.8 L2517.5,578.4 L2518.6,578.1 L2519.6,578 L2520.7,578 L2521.8,578.2 L2522.8,578.5 L2523.7,578.9"/>
</g>
<circle cx="2536" cy="566" r="4.5" fill="#0c2a57"/>
<circle cx="2568" cy="594" r="4" fill="#0c2a57"/>
<circle cx="2646" cy="622" r="6" fill="#0c2a57"/>
<circle cx="2477" cy="668" r="4" fill="#0c2a57"/>
<circle cx="2513" cy="674" r="3" fill="#0c2a57"/>
<circle cx="2568" cy="707" r="6" fill="#0c2a57"/>
<circle cx="2600" cy="717" r="4.5" fill="#0c2a57"/>
<circle cx="2533" cy="741" r="4" fill="#0c2a57"/>
<circle cx="2586" cy="572" r="4.5" fill="#c9c2a4"/>
<circle cx="2590" cy="622" r="7" fill="#c9c2a4"/>
<circle cx="2536" cy="699" r="6" fill="#c9c2a4"/>
<path d="M1626,420 L1626,476" fill="none" stroke="#222" stroke-width="3" stroke-dasharray="6.6 6.4"/>
<path d="M1626,496 L1636.8,474.5 L1615.2,474.5Z" fill="#222"/>
<path d="M2079,417 L2079,471" fill="none" stroke="#222" stroke-width="3" stroke-dasharray="6.6 6.4"/>
<path d="M2079,492 L2089.8,470.5 L2068.2,470.5Z" fill="#222"/>
<path d="M1264,961 L1331,927" fill="none" stroke="#222" stroke-width="3" stroke-dasharray="6.6 6.4"/>
<path d="M1350,918 L1326,917.5 L1335.2,936.9Z" fill="#222"/>
<path d="M1660,952 L1645,928" fill="none" stroke="#222" stroke-width="3" stroke-dasharray="6.6 6.4"/>
<path d="M1635,914 L1638.7,937.7 L1656.2,925.2Z" fill="#222"/>
<circle cx="1128" cy="1236" r="10.5" fill="#5eaed6"/>
<circle cx="1126.8" cy="1234.8" r="9.2" fill="#78cbe9"/>
<circle cx="1130.5" cy="1239" r="2.3" fill="#a8def2" opacity="0.9"/>
<circle cx="1348" cy="1198" r="10.5" fill="#5eaed6"/>
<circle cx="1346.8" cy="1196.8" r="9.2" fill="#78cbe9"/>
<circle cx="1350.5" cy="1201" r="2.3" fill="#a8def2" opacity="0.9"/>
<circle cx="1461" cy="1198" r="10.5" fill="#5eaed6"/>
<circle cx="1459.8" cy="1196.8" r="9.2" fill="#78cbe9"/>
<circle cx="1463.5" cy="1201" r="2.3" fill="#a8def2" opacity="0.9"/>
<circle cx="1530" cy="1212" r="10.5" fill="#5eaed6"/>
<circle cx="1528.8" cy="1210.8" r="9.2" fill="#78cbe9"/>
<circle cx="1532.5" cy="1215" r="2.3" fill="#a8def2" opacity="0.9"/>
<circle cx="1577" cy="1190" r="10.5" fill="#5eaed6"/>
<circle cx="1575.8" cy="1188.8" r="9.2" fill="#78cbe9"/>
<circle cx="1579.5" cy="1193" r="2.3" fill="#a8def2" opacity="0.9"/>
<circle cx="1693" cy="1178" r="10.5" fill="#5eaed6"/>
<circle cx="1691.8" cy="1176.8" r="9.2" fill="#78cbe9"/>
<circle cx="1695.5" cy="1181" r="2.3" fill="#a8def2" opacity="0.9"/>
<circle cx="1728" cy="1443" r="10.5" fill="#5eaed6"/>
<circle cx="1726.8" cy="1441.8" r="9.2" fill="#78cbe9"/>
<circle cx="1730.5" cy="1446" r="2.3" fill="#a8def2" opacity="0.9"/>
<circle cx="1414" cy="1664" r="10.5" fill="#5eaed6"/>
<circle cx="1412.8" cy="1662.8" r="9.2" fill="#78cbe9"/>
<circle cx="1416.5" cy="1667" r="2.3" fill="#a8def2" opacity="0.9"/>
<circle cx="1533" cy="1655" r="10.5" fill="#5eaed6"/>
<circle cx="1531.8" cy="1653.8" r="9.2" fill="#78cbe9"/>
<circle cx="1535.5" cy="1658" r="2.3" fill="#a8def2" opacity="0.9"/>
<circle cx="1864" cy="1614" r="10.5" fill="#5eaed6"/>
<circle cx="1862.8" cy="1612.8" r="9.2" fill="#78cbe9"/>
<circle cx="1866.5" cy="1617" r="2.3" fill="#a8def2" opacity="0.9"/>
<circle cx="1690" cy="1660" r="10.5" fill="#5eaed6"/>
<circle cx="1688.8" cy="1658.8" r="9.2" fill="#78cbe9"/>
<circle cx="1692.5" cy="1663" r="2.3" fill="#a8def2" opacity="0.9"/>
<circle cx="1208" cy="1176" r="10.5" fill="#0b76b0"/>
<circle cx="1206.8" cy="1174.8" r="9.2" fill="#0ea0d9"/>
<circle cx="1204.5" cy="1178.5" r="2.3" fill="#5cc0ea" opacity="0.8"/>
<circle cx="1264" cy="1220" r="10.5" fill="#0b76b0"/>
<circle cx="1262.8" cy="1218.8" r="9.2" fill="#0ea0d9"/>
<circle cx="1260.5" cy="1222.5" r="2.3" fill="#5cc0ea" opacity="0.8"/>
<circle cx="1414" cy="1153" r="10.5" fill="#0b76b0"/>
<circle cx="1412.8" cy="1151.8" r="9.2" fill="#0ea0d9"/>
<circle cx="1410.5" cy="1155.5" r="2.3" fill="#5cc0ea" opacity="0.8"/>
<circle cx="1392" cy="1222" r="10.5" fill="#0b76b0"/>
<circle cx="1390.8" cy="1220.8" r="9.2" fill="#0ea0d9"/>
<circle cx="1388.5" cy="1224.5" r="2.3" fill="#5cc0ea" opacity="0.8"/>
<circle cx="1340" cy="1268" r="10.5" fill="#0b76b0"/>
<circle cx="1338.8" cy="1266.8" r="9.2" fill="#0ea0d9"/>
<circle cx="1336.5" cy="1270.5" r="2.3" fill="#5cc0ea" opacity="0.8"/>
<circle cx="1348" cy="1366" r="10.5" fill="#0b76b0"/>
<circle cx="1346.8" cy="1364.8" r="9.2" fill="#0ea0d9"/>
<circle cx="1344.5" cy="1368.5" r="2.3" fill="#5cc0ea" opacity="0.8"/>
<circle cx="1569" cy="1386" r="10.5" fill="#0b76b0"/>
<circle cx="1567.8" cy="1384.8" r="9.2" fill="#0ea0d9"/>
<circle cx="1565.5" cy="1388.5" r="2.3" fill="#5cc0ea" opacity="0.8"/>
<circle cx="1547" cy="1437" r="10.5" fill="#0b76b0"/>
<circle cx="1545.8" cy="1435.8" r="9.2" fill="#0ea0d9"/>
<circle cx="1543.5" cy="1439.5" r="2.3" fill="#5cc0ea" opacity="0.8"/>
<circle cx="1599" cy="1444" r="10.5" fill="#0b76b0"/>
<circle cx="1597.8" cy="1442.8" r="9.2" fill="#0ea0d9"/>
<circle cx="1595.5" cy="1446.5" r="2.3" fill="#5cc0ea" opacity="0.8"/>
<circle cx="1679" cy="1438" r="10.5" fill="#0b76b0"/>
<circle cx="1677.8" cy="1436.8" r="9.2" fill="#0ea0d9"/>
<circle cx="1675.5" cy="1440.5" r="2.3" fill="#5cc0ea" opacity="0.8"/>
<circle cx="1563" cy="1480" r="10.5" fill="#0b76b0"/>
<circle cx="1561.8" cy="1478.8" r="9.2" fill="#0ea0d9"/>
<circle cx="1559.5" cy="1482.5" r="2.3" fill="#5cc0ea" opacity="0.8"/>
<circle cx="1343" cy="1456" r="10.5" fill="#0b76b0"/>
<circle cx="1341.8" cy="1454.8" r="9.2" fill="#0ea0d9"/>
<circle cx="1339.5" cy="1458.5" r="2.3" fill="#5cc0ea" opacity="0.8"/>
<circle cx="1373" cy="1456" r="10.5" fill="#0b76b0"/>
<circle cx="1371.8" cy="1454.8" r="9.2" fill="#0ea0d9"/>
<circle cx="1369.5" cy="1458.5" r="2.3" fill="#5cc0ea" opacity="0.8"/>
<circle cx="1343" cy="1518" r="10.5" fill="#0b76b0"/>
<circle cx="1341.8" cy="1516.8" r="9.2" fill="#0ea0d9"/>
<circle cx="1339.5" cy="1520.5" r="2.3" fill="#5cc0ea" opacity="0.8"/>
<circle cx="1596" cy="1633" r="10.5" fill="#0b76b0"/>
<circle cx="1594.8" cy="1631.8" r="9.2" fill="#0ea0d9"/>
<circle cx="1592.5" cy="1635.5" r="2.3" fill="#5cc0ea" opacity="0.8"/>
<circle cx="1574" cy="1697" r="10.5" fill="#0b76b0"/>
<circle cx="1572.8" cy="1695.8" r="9.2" fill="#0ea0d9"/>
<circle cx="1570.5" cy="1699.5" r="2.3" fill="#5cc0ea" opacity="0.8"/>
<circle cx="1784" cy="1675" r="10.5" fill="#0b76b0"/>
<circle cx="1782.8" cy="1673.8" r="9.2" fill="#0ea0d9"/>
<circle cx="1780.5" cy="1677.5" r="2.3" fill="#5cc0ea" opacity="0.8"/>
<circle cx="1797" cy="1501" r="10.5" fill="#0b76b0"/>
<circle cx="1795.8" cy="1499.8" r="9.2" fill="#0ea0d9"/>
<circle cx="1793.5" cy="1503.5" r="2.3" fill="#5cc0ea" opacity="0.8"/>
<line x1="1226" y1="1224" x2="1226" y2="1177" stroke="#2f7a34" stroke-width="4.5"/>
<path d="M1242.8,1157.5 L1243,1159.9 L1242.8,1162.3 L1242.3,1164.7 L1241.5,1167 L1240.3,1169.1 L1238.9,1171.1 L1237.2,1172.8 L1235.2,1174.3 L1233.1,1175.5 L1230.8,1176.3 L1228.4,1176.8 L1226,1177 L1223.6,1176.8 L1221.2,1176.3 L1218.9,1175.5 L1216.8,1174.3 L1214.8,1172.8 L1213.1,1171.1 L1211.7,1169.1 L1210.5,1167 L1209.7,1164.7 L1209.2,1162.3 L1209,1159.9 L1209.2,1157.5" fill="none" stroke="#1d4a22" stroke-width="10.5" stroke-linecap="round"/>
<path d="M1242.8,1157.5 L1243,1159.9 L1242.8,1162.3 L1242.3,1164.7 L1241.5,1167 L1240.3,1169.1 L1238.9,1171.1 L1237.2,1172.8 L1235.2,1174.3 L1233.1,1175.5 L1230.8,1176.3 L1228.4,1176.8 L1226,1177 L1223.6,1176.8 L1221.2,1176.3 L1218.9,1175.5 L1216.8,1174.3 L1214.8,1172.8 L1213.1,1171.1 L1211.7,1169.1 L1210.5,1167 L1209.7,1164.7 L1209.2,1162.3 L1209,1159.9 L1209.2,1157.5" fill="none" stroke="#3e9a48" stroke-width="7.5" stroke-linecap="round"/>
<line x1="1684" y1="1210" x2="1684" y2="1177" stroke="#2f7a34" stroke-width="4.5"/>
<path d="M1700.8,1157.5 L1701,1159.9 L1700.8,1162.3 L1700.3,1164.7 L1699.5,1167 L1698.3,1169.1 L1696.9,1171.1 L1695.2,1172.8 L1693.2,1174.3 L1691.1,1175.5 L1688.8,1176.3 L1686.4,1176.8 L1684,1177 L1681.6,1176.8 L1679.2,1176.3 L1676.9,1175.5 L1674.8,1174.3 L1672.8,1172.8 L1671.1,1171.1 L1669.7,1169.1 L1668.5,1167 L1667.7,1164.7 L1667.2,1162.3 L1667,1159.9 L1667.2,1157.5" fill="none" stroke="#1d4a22" stroke-width="10.5" stroke-linecap="round"/>
<path d="M1700.8,1157.5 L1701,1159.9 L1700.8,1162.3 L1700.3,1164.7 L1699.5,1167 L1698.3,1169.1 L1696.9,1171.1 L1695.2,1172.8 L1693.2,1174.3 L1691.1,1175.5 L1688.8,1176.3 L1686.4,1176.8 L1684,1177 L1681.6,1176.8 L1679.2,1176.3 L1676.9,1175.5 L1674.8,1174.3 L1672.8,1172.8 L1671.1,1171.1 L1669.7,1169.1 L1668.5,1167 L1667.7,1164.7 L1667.2,1162.3 L1667,1159.9 L1667.2,1157.5" fill="none" stroke="#3e9a48" stroke-width="7.5" stroke-linecap="round"/>
<line x1="1230" y1="1658" x2="1230" y2="1683" stroke="#2f7a34" stroke-width="4.5"/>
<path d="M1213.2,1702.5 L1213,1700.1 L1213.2,1697.7 L1213.7,1695.3 L1214.5,1693 L1215.7,1690.9 L1217.1,1688.9 L1218.8,1687.2 L1220.8,1685.7 L1222.9,1684.5 L1225.2,1683.7 L1227.6,1683.2 L1230,1683 L1232.4,1683.2 L1234.8,1683.7 L1237.1,1684.5 L1239.2,1685.7 L1241.2,1687.2 L1242.9,1688.9 L1244.3,1690.9 L1245.5,1693 L1246.3,1695.3 L1246.8,1697.7 L1247,1700.1 L1246.8,1702.5" fill="none" stroke="#1d4a22" stroke-width="10.5" stroke-linecap="round"/>
<path d="M1213.2,1702.5 L1213,1700.1 L1213.2,1697.7 L1213.7,1695.3 L1214.5,1693 L1215.7,1690.9 L1217.1,1688.9 L1218.8,1687.2 L1220.8,1685.7 L1222.9,1684.5 L1225.2,1683.7 L1227.6,1683.2 L1230,1683 L1232.4,1683.2 L1234.8,1683.7 L1237.1,1684.5 L1239.2,1685.7 L1241.2,1687.2 L1242.9,1688.9 L1244.3,1690.9 L1245.5,1693 L1246.3,1695.3 L1246.8,1697.7 L1247,1700.1 L1246.8,1702.5" fill="none" stroke="#3e9a48" stroke-width="7.5" stroke-linecap="round"/>
<line x1="1450" y1="1658" x2="1450" y2="1683" stroke="#2f7a34" stroke-width="4.5"/>
<path d="M1433.2,1702.5 L1433,1700.1 L1433.2,1697.7 L1433.7,1695.3 L1434.5,1693 L1435.7,1690.9 L1437.1,1688.9 L1438.8,1687.2 L1440.8,1685.7 L1442.9,1684.5 L1445.2,1683.7 L1447.6,1683.2 L1450,1683 L1452.4,1683.2 L1454.8,1683.7 L1457.1,1684.5 L1459.2,1685.7 L1461.2,1687.2 L1462.9,1688.9 L1464.3,1690.9 L1465.5,1693 L1466.3,1695.3 L1466.8,1697.7 L1467,1700.1 L1466.8,1702.5" fill="none" stroke="#1d4a22" stroke-width="10.5" stroke-linecap="round"/>
<path d="M1433.2,1702.5 L1433,1700.1 L1433.2,1697.7 L1433.7,1695.3 L1434.5,1693 L1435.7,1690.9 L1437.1,1688.9 L1438.8,1687.2 L1440.8,1685.7 L1442.9,1684.5 L1445.2,1683.7 L1447.6,1683.2 L1450,1683 L1452.4,1683.2 L1454.8,1683.7 L1457.1,1684.5 L1459.2,1685.7 L1461.2,1687.2 L1462.9,1688.9 L1464.3,1690.9 L1465.5,1693 L1466.3,1695.3 L1466.8,1697.7 L1467,1700.1 L1466.8,1702.5" fill="none" stroke="#3e9a48" stroke-width="7.5" stroke-linecap="round"/>
<line x1="2581" y1="1178" x2="2581" y2="1145" stroke="#2f7a34" stroke-width="4.5"/>
<path d="M2597.8,1125.5 L2598,1127.9 L2597.8,1130.3 L2597.3,1132.7 L2596.5,1135 L2595.3,1137.1 L2593.9,1139.1 L2592.2,1140.8 L2590.2,1142.3 L2588.1,1143.5 L2585.8,1144.3 L2583.4,1144.8 L2581,1145 L2578.6,1144.8 L2576.2,1144.3 L2573.9,1143.5 L2571.8,1142.3 L2569.8,1140.8 L2568.1,1139.1 L2566.7,1137.1 L2565.5,1135 L2564.7,1132.7 L2564.2,1130.3 L2564,1127.9 L2564.2,1125.5" fill="none" stroke="#1d4a22" stroke-width="10.5" stroke-linecap="round"/>
<path d="M2597.8,1125.5 L2598,1127.9 L2597.8,1130.3 L2597.3,1132.7 L2596.5,1135 L2595.3,1137.1 L2593.9,1139.1 L2592.2,1140.8 L2590.2,1142.3 L2588.1,1143.5 L2585.8,1144.3 L2583.4,1144.8 L2581,1145 L2578.6,1144.8 L2576.2,1144.3 L2573.9,1143.5 L2571.8,1142.3 L2569.8,1140.8 L2568.1,1139.1 L2566.7,1137.1 L2565.5,1135 L2564.7,1132.7 L2564.2,1130.3 L2564,1127.9 L2564.2,1125.5" fill="none" stroke="#3e9a48" stroke-width="7.5" stroke-linecap="round"/>
<line x1="1414" y1="1225" x2="1414" y2="1188" stroke="#5b4a8c" stroke-width="6"/>
<path d="M1433.8,1165 L1434,1167.9 L1433.8,1170.7 L1433.2,1173.5 L1432.2,1176.2 L1430.9,1178.7 L1429.2,1181 L1427.1,1183.1 L1424.9,1184.8 L1422.3,1186.2 L1419.7,1187.2 L1416.9,1187.8 L1414,1188 L1411.1,1187.8 L1408.3,1187.2 L1405.7,1186.2 L1403.1,1184.8 L1400.9,1183.1 L1398.8,1181 L1397.1,1178.7 L1395.8,1176.2 L1394.8,1173.5 L1394.2,1170.7 L1394,1167.9 L1394.2,1165" fill="none" stroke="#241433" stroke-width="13" stroke-linecap="round"/>
<path d="M1433.8,1165 L1434,1167.9 L1433.8,1170.7 L1433.2,1173.5 L1432.2,1176.2 L1430.9,1178.7 L1429.2,1181 L1427.1,1183.1 L1424.9,1184.8 L1422.3,1186.2 L1419.7,1187.2 L1416.9,1187.8 L1414,1188 L1411.1,1187.8 L1408.3,1187.2 L1405.7,1186.2 L1403.1,1184.8 L1400.9,1183.1 L1398.8,1181 L1397.1,1178.7 L1395.8,1176.2 L1394.8,1173.5 L1394.2,1170.7 L1394,1167.9 L1394.2,1165" fill="none" stroke="#4a2e66" stroke-width="10" stroke-linecap="round"/>
<line x1="1492" y1="1232" x2="1492" y2="1192" stroke="#5b4a8c" stroke-width="6"/>
<path d="M1511.8,1169 L1512,1171.9 L1511.8,1174.7 L1511.2,1177.5 L1510.2,1180.2 L1508.9,1182.7 L1507.2,1185 L1505.1,1187.1 L1502.9,1188.8 L1500.3,1190.2 L1497.7,1191.2 L1494.9,1191.8 L1492,1192 L1489.1,1191.8 L1486.3,1191.2 L1483.7,1190.2 L1481.1,1188.8 L1478.9,1187.1 L1476.8,1185 L1475.1,1182.7 L1473.8,1180.2 L1472.8,1177.5 L1472.2,1174.7 L1472,1171.9 L1472.2,1169" fill="none" stroke="#241433" stroke-width="13" stroke-linecap="round"/>
<path d="M1511.8,1169 L1512,1171.9 L1511.8,1174.7 L1511.2,1177.5 L1510.2,1180.2 L1508.9,1182.7 L1507.2,1185 L1505.1,1187.1 L1502.9,1188.8 L1500.3,1190.2 L1497.7,1191.2 L1494.9,1191.8 L1492,1192 L1489.1,1191.8 L1486.3,1191.2 L1483.7,1190.2 L1481.1,1188.8 L1478.9,1187.1 L1476.8,1185 L1475.1,1182.7 L1473.8,1180.2 L1472.8,1177.5 L1472.2,1174.7 L1472,1171.9 L1472.2,1169" fill="none" stroke="#4a2e66" stroke-width="10" stroke-linecap="round"/>
<line x1="1760" y1="1482" x2="1800.3" y2="1467.2" stroke="#5b4a8c" stroke-width="6"/>
<path d="M1830.1,1478.4 L1827.4,1479.7 L1824.5,1480.5 L1821.5,1480.9 L1818.5,1480.9 L1815.5,1480.5 L1812.6,1479.7 L1809.9,1478.4 L1807.4,1476.8 L1805.1,1474.8 L1803.1,1472.5 L1801.5,1470 L1800.3,1467.2 L1799.5,1464.3 L1799,1461.4 L1799.1,1458.3 L1799.5,1455.4 L1800.4,1452.5 L1801.7,1449.8 L1803.3,1447.3 L1805.3,1445 L1807.6,1443.1 L1810.1,1441.5 L1812.9,1440.2 L1815.8,1439.4" fill="none" stroke="#241433" stroke-width="13" stroke-linecap="round"/>
<path d="M1830.1,1478.4 L1827.4,1479.7 L1824.5,1480.5 L1821.5,1480.9 L1818.5,1480.9 L1815.5,1480.5 L1812.6,1479.7 L1809.9,1478.4 L1807.4,1476.8 L1805.1,1474.8 L1803.1,1472.5 L1801.5,1470 L1800.3,1467.2 L1799.5,1464.3 L1799,1461.4 L1799.1,1458.3 L1799.5,1455.4 L1800.4,1452.5 L1801.7,1449.8 L1803.3,1447.3 L1805.3,1445 L1807.6,1443.1 L1810.1,1441.5 L1812.9,1440.2 L1815.8,1439.4" fill="none" stroke="#4a2e66" stroke-width="10" stroke-linecap="round"/>
<line x1="1755" y1="1574" x2="1799" y2="1573.3" stroke="#5b4a8c" stroke-width="6"/>
<path d="M1823.5,1593.7 L1820.5,1594 L1817.5,1593.8 L1814.5,1593.3 L1811.7,1592.3 L1809,1590.9 L1806.6,1589.1 L1804.4,1587 L1802.5,1584.7 L1801.1,1582.1 L1800,1579.2 L1799.3,1576.3 L1799,1573.3 L1799.2,1570.3 L1799.8,1567.4 L1800.8,1564.5 L1802.2,1561.9 L1804,1559.4 L1806.1,1557.3 L1808.4,1555.5 L1811.1,1554 L1813.9,1552.9 L1816.8,1552.2 L1819.8,1552 L1822.8,1552.2" fill="none" stroke="#241433" stroke-width="13" stroke-linecap="round"/>
<path d="M1823.5,1593.7 L1820.5,1594 L1817.5,1593.8 L1814.5,1593.3 L1811.7,1592.3 L1809,1590.9 L1806.6,1589.1 L1804.4,1587 L1802.5,1584.7 L1801.1,1582.1 L1800,1579.2 L1799.3,1576.3 L1799,1573.3 L1799.2,1570.3 L1799.8,1567.4 L1800.8,1564.5 L1802.2,1561.9 L1804,1559.4 L1806.1,1557.3 L1808.4,1555.5 L1811.1,1554 L1813.9,1552.9 L1816.8,1552.2 L1819.8,1552 L1822.8,1552.2" fill="none" stroke="#4a2e66" stroke-width="10" stroke-linecap="round"/>
<path d="M1588.3,1321C1587,1322.7 1585.2,1324.3 1583.3,1325.9C1581.5,1327.4 1579.3,1328.9 1577.2,1330.3C1575.2,1331.7 1573.1,1332.9 1571.3,1334.2C1569.5,1335.5 1567.8,1336.7 1566.3,1337.9C1564.9,1339.1 1563.7,1340.2 1562.6,1341.4C1561.5,1342.6 1560.6,1343.7 1559.9,1344.9C1559.1,1346.2 1558.3,1347.3 1558.2,1348.7C1558.1,1350 1558.4,1351.5 1559,1353.2C1559.6,1354.8 1560.5,1356.6 1561.7,1358.6C1563,1360.6 1564.8,1362.9 1566.5,1365.3C1568.2,1367.7 1570.6,1370.5 1572.1,1373.1C1573.7,1375.6 1575.4,1378.4 1575.9,1380.6C1576.3,1382.8 1575.8,1384.6 1575,1386.1C1574.1,1387.6 1572.5,1388.7 1570.8,1389.6C1569.1,1390.6 1566.9,1391.2 1564.7,1391.7C1562.5,1392.2 1560.1,1392.4 1557.7,1392.6C1555.3,1392.8 1552.8,1392.8 1550.5,1392.9C1548.2,1393 1545.9,1393 1543.8,1393.1C1541.8,1393.2 1539.8,1393.3 1538,1393.5C1536.2,1393.8 1534.4,1393.8 1533.1,1394.5C1531.8,1395.1 1530.9,1396 1530.1,1397.2C1529.3,1398.5 1528.9,1400.1 1528.4,1401.7C1527.9,1403.3 1527.4,1405 1526.9,1406.8C1526.4,1408.6 1525.9,1410.5 1525.4,1412.4C1524.8,1414.2 1524.3,1416.2 1523.6,1418.1C1522.9,1419.9 1522.2,1421.8 1521.3,1423.4C1520.4,1425 1519.3,1426.6 1518.1,1427.8C1516.9,1429 1515.7,1430.4 1514.1,1430.7C1512.5,1431 1510.5,1430.7 1508.3,1429.6C1506.2,1428.5 1503.5,1426 1501.3,1424.3C1499.1,1422.5 1496.9,1420.4 1495,1419.1C1493.1,1417.8 1491.5,1417 1489.9,1416.5C1488.4,1416 1487.1,1416.1 1485.7,1416C1484.3,1416 1483,1416.3 1481.7,1416.5C1480.4,1416.6 1479.1,1416.8 1477.8,1417.1C1476.5,1417.3 1475.2,1417.4 1473.9,1417.7C1472.6,1417.9 1471.3,1418.1 1470,1418.6C1468.7,1419 1467.4,1419.4 1466,1420.3C1464.7,1421.1 1463.3,1422.2 1461.9,1423.7C1460.5,1425.1 1459,1427.1 1457.4,1428.9C1455.8,1430.7 1454.1,1433 1452.4,1434.5C1450.7,1435.9 1448.9,1437.3 1447.2,1437.6C1445.6,1438 1444,1437.4 1442.5,1436.7C1441,1436.1 1439.6,1434.9 1438.3,1433.6C1437,1432.3 1435.8,1430.6 1434.7,1429C1433.5,1427.3 1432.5,1425.5 1431.5,1423.8C1430.5,1422.1 1429.6,1420.4 1428.6,1418.9C1427.6,1417.4 1426.7,1416 1425.7,1414.7C1424.8,1413.5 1423.8,1412.3 1422.8,1411.3C1421.7,1410.3 1420.9,1409 1419.6,1408.5C1418.3,1408.1 1416.8,1408.3 1415,1408.5C1413.3,1408.8 1411.4,1409.4 1409.3,1410.1C1407.2,1410.8 1404.7,1412 1402.4,1412.7C1400.1,1413.5 1397.5,1414.4 1395.5,1414.5C1393.5,1414.5 1391.9,1413.9 1390.6,1413.1C1389.2,1412.2 1388.3,1410.8 1387.4,1409.4C1386.4,1408.1 1385.7,1406.5 1385,1405C1384.4,1403.4 1383.9,1401.6 1383.5,1399.9C1383.1,1398.2 1382.8,1396.3 1382.5,1394.6C1382.2,1392.8 1382.1,1391 1381.9,1389.3C1381.7,1387.6 1381.5,1385.9 1381.3,1384.2C1381.1,1382.6 1380.9,1381 1380.6,1379.5C1380.4,1378 1380.2,1376.5 1379.7,1375.1C1379.2,1373.8 1378.7,1372.6 1377.6,1371.6C1376.6,1370.6 1375.1,1370 1373.6,1369.2C1372.1,1368.4 1370.5,1367.6 1368.8,1366.9C1367,1366.1 1365.1,1365.4 1363.1,1364.6C1361.2,1363.8 1359,1363.1 1356.9,1362.2C1354.9,1361.3 1352.7,1360.4 1350.8,1359.3C1348.9,1358.2 1347,1357.1 1345.6,1355.8C1344.1,1354.5 1342.7,1353 1342,1351.5C1341.3,1349.9 1340.4,1348.3 1341.3,1346.4C1342.1,1344.5 1344.7,1342.3 1347.1,1340.2C1349.6,1338.2 1353.3,1336.1 1355.8,1334.3C1358.4,1332.5 1360.7,1330.9 1362.4,1329.3C1364,1327.8 1364.8,1326.4 1365.6,1325C1366.3,1323.6 1366.4,1322.3 1366.7,1321C1366.9,1319.7 1366.9,1318.4 1366.9,1317C1367,1315.7 1366.9,1314.4 1366.7,1313C1366.4,1311.7 1366.2,1310.3 1365.5,1308.9C1364.7,1307.4 1363.7,1305.9 1362.3,1304.2C1360.8,1302.6 1358.6,1300.7 1356.8,1298.8C1355,1296.9 1352.6,1294.8 1351.5,1292.9C1350.3,1291 1349.8,1289.1 1350,1287.5C1350.1,1285.9 1351.2,1284.5 1352.2,1283.2C1353.2,1281.8 1354.6,1280.6 1356,1279.5C1357.4,1278.3 1359.1,1277.3 1360.8,1276.4C1362.5,1275.5 1364.3,1274.6 1366,1273.8C1367.7,1273 1370,1272.6 1371,1271.5C1372.1,1270.4 1372.3,1268.9 1372.4,1267.3C1372.4,1265.6 1371.7,1263.5 1371.4,1261.5C1371,1259.4 1370.6,1257.3 1370.2,1255.2C1369.9,1253 1369.5,1250.8 1369.3,1248.6C1369.1,1246.4 1368.9,1244.1 1369,1242C1369.1,1239.9 1369.3,1237.8 1369.8,1236C1370.3,1234.1 1371,1232.3 1372,1230.9C1373,1229.4 1374.1,1228 1375.9,1227.4C1377.8,1226.8 1380.3,1227 1382.9,1227.4C1385.5,1227.9 1388.7,1229.1 1391.5,1230.1C1394.3,1231.1 1397.3,1232.4 1399.8,1233.4C1402.3,1234.3 1404.6,1235.1 1406.6,1235.5C1408.6,1236 1410.3,1236.2 1411.9,1236.2C1413.5,1236.2 1414.9,1236 1416.2,1235.5C1417.5,1235 1418.5,1234.2 1419.5,1233.3C1420.6,1232.4 1421.6,1231.4 1422.5,1230.2C1423.5,1229 1424.4,1227.8 1425.3,1226.3C1426.3,1224.8 1427.1,1223.2 1428,1221.4C1428.9,1219.6 1429.7,1217.5 1430.6,1215.4C1431.6,1213.4 1432.5,1211.1 1433.6,1209C1434.7,1206.9 1435.8,1204.8 1437.1,1203.1C1438.4,1201.4 1439.8,1199.8 1441.3,1198.8C1442.8,1197.8 1444.5,1197.1 1446.2,1197.2C1447.9,1197.3 1449.8,1198.1 1451.6,1199.4C1453.3,1200.7 1455.2,1202.8 1456.9,1204.8C1458.6,1206.8 1460.2,1209.2 1461.8,1211.2C1463.3,1213.2 1464.7,1215.2 1466.1,1216.8C1467.5,1218.4 1468.8,1219.7 1470.1,1220.7C1471.5,1221.7 1472.7,1222.4 1474,1223.1C1475.3,1223.7 1476.6,1224.2 1477.9,1224.5C1479.2,1224.7 1480.5,1224.8 1481.9,1224.5C1483.3,1224.3 1484.7,1223.9 1486.3,1223.1C1487.9,1222.3 1489.6,1221.1 1491.5,1219.7C1493.4,1218.4 1495.5,1216.3 1497.5,1215C1499.5,1213.6 1501.8,1212 1503.6,1211.5C1505.4,1211 1507,1211.5 1508.4,1212.1C1509.9,1212.8 1511.1,1214.1 1512.2,1215.4C1513.3,1216.7 1514.3,1218.4 1515.2,1220.1C1516,1221.8 1516.7,1223.7 1517.4,1225.5C1518.1,1227.3 1518.7,1229.2 1519.3,1230.9C1520,1232.7 1520.5,1234.3 1521.2,1235.9C1521.9,1237.4 1522.5,1238.8 1523.2,1240.1C1524,1241.5 1524.7,1242.7 1525.5,1243.8C1526.4,1245 1527.2,1246 1528.1,1247.1C1528.9,1248.1 1529.8,1249.1 1530.7,1250.1C1531.6,1251 1532.5,1252 1533.6,1252.8C1534.6,1253.6 1535.7,1254.4 1537,1255.1C1538.4,1255.7 1539.7,1256.2 1541.5,1256.6C1543.2,1256.9 1545.2,1257.1 1547.5,1257.2C1549.7,1257.3 1552.5,1257.1 1555,1257.2C1557.5,1257.2 1560.4,1257.2 1562.5,1257.7C1564.6,1258.2 1566.4,1259.1 1567.6,1260.2C1568.8,1261.4 1569.2,1263.1 1569.7,1264.7C1570.2,1266.3 1570.4,1268 1570.5,1269.7C1570.6,1271.4 1570.5,1273.3 1570.2,1275.1C1570,1276.9 1569.6,1278.7 1569.2,1280.5C1568.7,1282.3 1568.2,1284.2 1567.7,1285.9C1567.2,1287.7 1566.6,1289.4 1566.1,1291C1565.5,1292.7 1563.9,1294.5 1564.6,1295.9C1565.3,1297.2 1568,1298 1570.2,1299C1572.4,1300.1 1575.2,1301.1 1577.7,1302.3C1580.2,1303.5 1583,1304.7 1585,1306.1C1587.1,1307.5 1589,1309.1 1590,1310.7C1591,1312.3 1591.1,1314.1 1590.8,1315.8C1590.6,1317.5 1589.5,1319.3 1588.3,1321Z" fill="#82a3cb" stroke="#285b90" stroke-width="2"/>
<path d="M1446,1362.3 L1442.8,1360.7 L1439.7,1358.9 L1436.7,1356.8 L1433.9,1354.5 L1431.4,1352 L1429,1349.3 L1426.8,1346.4 L1424.9,1343.3 L1423.3,1340.1 L1421.9,1336.8 M1419.6,1328 L1419.1,1324.1 L1419,1320.1 L1419.3,1316.2 L1419.9,1312.3 L1420.8,1308.4 L1422.1,1304.7 L1423.7,1301.1 L1425.6,1297.6 L1427.8,1294.3 L1430.3,1291.2 M1436.5,1285.4 L1439.3,1283.4 L1442.3,1281.6 L1445.4,1280 L1448.7,1278.7 L1452,1277.6 L1455.4,1276.8 L1458.8,1276.3 L1462.3,1276 L1465.8,1276 L1469.2,1276.3 M1476.5,1277.8 L1479.9,1278.9 L1483.3,1280.3 L1486.5,1282 L1489.6,1284 L1492.5,1286.1 L1495.2,1288.6 L1497.7,1291.2 L1500,1294 L1502.1,1297 L1503.9,1300.2 M1506.8,1307.1 L1506.8,1307.2 L1506.9,1307.3 L1506.9,1307.4 L1506.9,1307.5 L1507,1307.6 L1507,1307.8 L1507,1307.9 L1507.1,1308 L1507.1,1308.1 L1507.1,1308.2 M1504.4,1356.8 L1501.9,1359.5 L1499.2,1361.9 L1496.4,1364.2 L1493.5,1366.3 L1490.4,1368.1 L1487.1,1369.8 L1483.8,1371.2 L1480.4,1372.5 L1476.9,1373.4 L1473.4,1374.2 M1466.5,1374.9 L1464.1,1375 L1461.6,1374.9 L1459.1,1374.8 L1456.6,1374.5 L1454.2,1374.1 L1451.8,1373.6 L1449.3,1373 L1447,1372.2 L1444.6,1371.4 L1442.3,1370.5 M1436.5,1367.5 L1434.4,1366.1 L1432.3,1364.7 L1430.3,1363.2 L1428.3,1361.5 L1426.5,1359.8 L1424.7,1358 L1423,1356.2 L1421.4,1354.2 L1419.9,1352.2 L1418.5,1350.1 M1413.4,1339.9 L1412,1335.6 L1411,1331.2 L1410.3,1326.7 L1410,1322.2 L1410.1,1317.7 L1410.6,1313.2 L1411.4,1308.7 L1412.6,1304.4 L1414.2,1300.1 L1416.1,1296 M1419.5,1290.4 L1422.1,1286.9 L1425,1283.7 L1428.1,1280.7 L1431.5,1277.9 L1435,1275.4 L1438.8,1273.2 L1442.7,1271.4 L1446.8,1269.8 L1451,1268.6 L1455.2,1267.7 M1462.7,1267 L1466,1267 L1469.3,1267.3 L1472.6,1267.7 L1475.9,1268.3 L1479.1,1269.2 L1482.3,1270.2 L1485.4,1271.4 L1488.4,1272.8 L1491.3,1274.4 L1494.1,1276.2 M1499.8,1280.6 L1502.7,1283.3 L1505.4,1286.3 L1507.8,1289.4 L1510,1292.7 L1512,1296.2 L1513.7,1299.8 L1515.1,1303.6 L1516.3,1307.4 L1517.1,1311.3 L1517.7,1315.2 M1518,1320.7 L1518,1322.5 L1517.9,1324.3 L1517.8,1326.1 L1517.5,1328 L1517.3,1329.8 L1517,1331.6 L1516.6,1333.3 L1516.1,1335.1 L1515.6,1336.9 L1515.1,1338.6 M1408.2,1291.7 L1410.6,1287.5 L1413.4,1283.5 L1416.4,1279.7 L1419.7,1276.2 L1423.3,1272.9 L1427.2,1269.9 L1431.2,1267.2 L1435.5,1264.8 L1439.9,1262.8 L1444.4,1261.1 M1452.3,1259.1 L1454.7,1258.7 L1457,1258.4 L1459.5,1258.2 L1461.9,1258 L1464.3,1258 L1466.7,1258.1 L1469.1,1258.2 L1471.5,1258.4 L1473.9,1258.8 L1476.3,1259.2 M1489.4,1263.3 L1493.9,1265.6 L1498.3,1268.2 L1502.5,1271.1 L1506.4,1274.4 L1510,1278 L1513.3,1281.8 L1516.3,1285.9 L1519,1290.3 L1521.3,1294.8 L1523.2,1299.5 M1506.3,1367.7 L1503.2,1370.3 L1500.1,1372.7 L1496.8,1374.8 L1493.3,1376.8 L1489.8,1378.5 L1486.1,1380 L1482.3,1381.3 L1478.5,1382.3 L1474.6,1383.1 L1470.7,1383.6 M1461.4,1383.9 L1457.4,1383.6 L1453.4,1383.1 L1449.5,1382.3 L1445.6,1381.3 L1441.8,1380 L1438.1,1378.4 L1434.5,1376.7 L1431,1374.7 L1427.7,1372.5 L1424.5,1370.1 M1417.1,1363.1 L1415.2,1360.9 L1413.4,1358.6 L1411.8,1356.2 L1410.2,1353.8 L1408.7,1351.2 L1407.4,1348.6 L1406.2,1346 L1405.1,1343.3 L1404.1,1340.5 L1403.3,1337.8 M1397.5,1348.6 L1395.4,1343 L1393.8,1337.1 L1392.7,1331.2 L1392.1,1325.1 L1392,1319.1 L1392.4,1313.1 L1393.4,1307.1 L1394.8,1301.2 L1396.7,1295.4 L1399.1,1289.9 M1403.4,1282.2 L1405.4,1279.2 L1407.6,1276.2 L1409.9,1273.5 L1412.4,1270.8 L1415,1268.2 L1417.7,1265.8 L1420.6,1263.6 L1423.5,1261.5 L1426.6,1259.5 L1429.7,1257.7 M1437.1,1254.2 L1442.6,1252.3 L1448.2,1250.8 L1454,1249.7 L1459.8,1249.1 L1465.6,1249 L1471.4,1249.4 L1477.2,1250.2 L1482.9,1251.5 L1488.5,1253.3 L1493.9,1255.5 M1535,1308.9 L1535.5,1312.1 L1535.8,1315.4 L1536,1318.6 L1536,1321.9 L1535.9,1325.1 L1535.6,1328.3 L1535.2,1331.6 L1534.7,1334.7 L1534,1337.9 L1533.1,1341.1 M1529.6,1350.6 L1528.2,1353.6 L1526.7,1356.5 L1525,1359.3 L1523.2,1362 L1521.2,1364.7 L1519.2,1367.3 L1517,1369.7 L1514.7,1372.1 L1512.4,1374.3 L1509.9,1376.5 M1469.2,1392.8 L1467,1392.9 L1464.8,1393 L1462.6,1393 L1460.5,1392.9 L1458.3,1392.8 L1456.1,1392.6 L1454,1392.3 L1451.8,1392 L1449.7,1391.6 L1447.5,1391.1 M1456.2,1240.4 L1462.2,1240 L1468.3,1240.1 L1474.4,1240.7 L1480.4,1241.7 L1486.3,1243.1 L1492,1245 L1497.7,1247.3 L1503.1,1250.1 L1508.3,1253.2 L1513.3,1256.7 M1525.8,1268.6 L1530.2,1274.3 L1534,1280.3 L1537.3,1286.6 L1540.1,1293.2 L1542.2,1299.9 L1543.8,1306.9 L1544.7,1314 L1545,1321.1 L1544.7,1328.2 L1543.7,1335.3 M1539.9,1349.2 L1539.1,1351.3 L1538.2,1353.4 L1537.3,1355.4 L1536.3,1357.5 L1535.3,1359.5 L1534.2,1361.5 L1533,1363.4 L1531.8,1365.4 L1530.5,1367.3 L1529.2,1369.1 M1522,1377.5 L1517.8,1381.6 L1513.3,1385.3 L1508.5,1388.7 L1503.6,1391.7 L1498.4,1394.3 L1493,1396.6 L1487.5,1398.5 L1481.9,1400 L1476.2,1401.1 L1470.4,1401.7 M1455.5,1401.6 L1449.6,1400.7 L1443.7,1399.4 L1438,1397.7 L1432.4,1395.6 L1427,1393 L1421.8,1390.1 L1416.8,1386.8 L1412.1,1383.2 L1407.6,1379.2 L1403.5,1374.8 M1393.6,1361.1 L1390.7,1355.5 L1388.3,1349.8 L1386.3,1343.9 L1384.8,1337.8 L1383.7,1331.7 L1383.1,1325.5 L1383,1319.2 L1383.4,1313 L1384.2,1306.8 L1385.6,1300.7 M1388,1292.9 L1390.1,1287.8 L1392.5,1282.9 L1395.3,1278.1 L1398.3,1273.6 L1401.7,1269.2 L1405.4,1265.1 L1409.3,1261.2 L1413.5,1257.7 L1417.9,1254.4 L1422.6,1251.4" fill="none" stroke="#5b80b5" stroke-width="7" stroke-linecap="round"/>
<path d="M1446,1362.3 L1442.8,1360.7 L1439.7,1358.9 L1436.7,1356.8 L1433.9,1354.5 L1431.4,1352 L1429,1349.3 L1426.8,1346.4 L1424.9,1343.3 L1423.3,1340.1 L1421.9,1336.8 M1419.6,1328 L1419.1,1324.1 L1419,1320.1 L1419.3,1316.2 L1419.9,1312.3 L1420.8,1308.4 L1422.1,1304.7 L1423.7,1301.1 L1425.6,1297.6 L1427.8,1294.3 L1430.3,1291.2 M1436.5,1285.4 L1439.3,1283.4 L1442.3,1281.6 L1445.4,1280 L1448.7,1278.7 L1452,1277.6 L1455.4,1276.8 L1458.8,1276.3 L1462.3,1276 L1465.8,1276 L1469.2,1276.3 M1476.5,1277.8 L1479.9,1278.9 L1483.3,1280.3 L1486.5,1282 L1489.6,1284 L1492.5,1286.1 L1495.2,1288.6 L1497.7,1291.2 L1500,1294 L1502.1,1297 L1503.9,1300.2 M1506.8,1307.1 L1506.8,1307.2 L1506.9,1307.3 L1506.9,1307.4 L1506.9,1307.5 L1507,1307.6 L1507,1307.8 L1507,1307.9 L1507.1,1308 L1507.1,1308.1 L1507.1,1308.2 M1504.4,1356.8 L1501.9,1359.5 L1499.2,1361.9 L1496.4,1364.2 L1493.5,1366.3 L1490.4,1368.1 L1487.1,1369.8 L1483.8,1371.2 L1480.4,1372.5 L1476.9,1373.4 L1473.4,1374.2 M1466.5,1374.9 L1464.1,1375 L1461.6,1374.9 L1459.1,1374.8 L1456.6,1374.5 L1454.2,1374.1 L1451.8,1373.6 L1449.3,1373 L1447,1372.2 L1444.6,1371.4 L1442.3,1370.5 M1436.5,1367.5 L1434.4,1366.1 L1432.3,1364.7 L1430.3,1363.2 L1428.3,1361.5 L1426.5,1359.8 L1424.7,1358 L1423,1356.2 L1421.4,1354.2 L1419.9,1352.2 L1418.5,1350.1 M1413.4,1339.9 L1412,1335.6 L1411,1331.2 L1410.3,1326.7 L1410,1322.2 L1410.1,1317.7 L1410.6,1313.2 L1411.4,1308.7 L1412.6,1304.4 L1414.2,1300.1 L1416.1,1296 M1419.5,1290.4 L1422.1,1286.9 L1425,1283.7 L1428.1,1280.7 L1431.5,1277.9 L1435,1275.4 L1438.8,1273.2 L1442.7,1271.4 L1446.8,1269.8 L1451,1268.6 L1455.2,1267.7 M1462.7,1267 L1466,1267 L1469.3,1267.3 L1472.6,1267.7 L1475.9,1268.3 L1479.1,1269.2 L1482.3,1270.2 L1485.4,1271.4 L1488.4,1272.8 L1491.3,1274.4 L1494.1,1276.2 M1499.8,1280.6 L1502.7,1283.3 L1505.4,1286.3 L1507.8,1289.4 L1510,1292.7 L1512,1296.2 L1513.7,1299.8 L1515.1,1303.6 L1516.3,1307.4 L1517.1,1311.3 L1517.7,1315.2 M1518,1320.7 L1518,1322.5 L1517.9,1324.3 L1517.8,1326.1 L1517.5,1328 L1517.3,1329.8 L1517,1331.6 L1516.6,1333.3 L1516.1,1335.1 L1515.6,1336.9 L1515.1,1338.6 M1408.2,1291.7 L1410.6,1287.5 L1413.4,1283.5 L1416.4,1279.7 L1419.7,1276.2 L1423.3,1272.9 L1427.2,1269.9 L1431.2,1267.2 L1435.5,1264.8 L1439.9,1262.8 L1444.4,1261.1 M1452.3,1259.1 L1454.7,1258.7 L1457,1258.4 L1459.5,1258.2 L1461.9,1258 L1464.3,1258 L1466.7,1258.1 L1469.1,1258.2 L1471.5,1258.4 L1473.9,1258.8 L1476.3,1259.2 M1489.4,1263.3 L1493.9,1265.6 L1498.3,1268.2 L1502.5,1271.1 L1506.4,1274.4 L1510,1278 L1513.3,1281.8 L1516.3,1285.9 L1519,1290.3 L1521.3,1294.8 L1523.2,1299.5 M1506.3,1367.7 L1503.2,1370.3 L1500.1,1372.7 L1496.8,1374.8 L1493.3,1376.8 L1489.8,1378.5 L1486.1,1380 L1482.3,1381.3 L1478.5,1382.3 L1474.6,1383.1 L1470.7,1383.6 M1461.4,1383.9 L1457.4,1383.6 L1453.4,1383.1 L1449.5,1382.3 L1445.6,1381.3 L1441.8,1380 L1438.1,1378.4 L1434.5,1376.7 L1431,1374.7 L1427.7,1372.5 L1424.5,1370.1 M1417.1,1363.1 L1415.2,1360.9 L1413.4,1358.6 L1411.8,1356.2 L1410.2,1353.8 L1408.7,1351.2 L1407.4,1348.6 L1406.2,1346 L1405.1,1343.3 L1404.1,1340.5 L1403.3,1337.8 M1397.5,1348.6 L1395.4,1343 L1393.8,1337.1 L1392.7,1331.2 L1392.1,1325.1 L1392,1319.1 L1392.4,1313.1 L1393.4,1307.1 L1394.8,1301.2 L1396.7,1295.4 L1399.1,1289.9 M1403.4,1282.2 L1405.4,1279.2 L1407.6,1276.2 L1409.9,1273.5 L1412.4,1270.8 L1415,1268.2 L1417.7,1265.8 L1420.6,1263.6 L1423.5,1261.5 L1426.6,1259.5 L1429.7,1257.7 M1437.1,1254.2 L1442.6,1252.3 L1448.2,1250.8 L1454,1249.7 L1459.8,1249.1 L1465.6,1249 L1471.4,1249.4 L1477.2,1250.2 L1482.9,1251.5 L1488.5,1253.3 L1493.9,1255.5 M1535,1308.9 L1535.5,1312.1 L1535.8,1315.4 L1536,1318.6 L1536,1321.9 L1535.9,1325.1 L1535.6,1328.3 L1535.2,1331.6 L1534.7,1334.7 L1534,1337.9 L1533.1,1341.1 M1529.6,1350.6 L1528.2,1353.6 L1526.7,1356.5 L1525,1359.3 L1523.2,1362 L1521.2,1364.7 L1519.2,1367.3 L1517,1369.7 L1514.7,1372.1 L1512.4,1374.3 L1509.9,1376.5 M1469.2,1392.8 L1467,1392.9 L1464.8,1393 L1462.6,1393 L1460.5,1392.9 L1458.3,1392.8 L1456.1,1392.6 L1454,1392.3 L1451.8,1392 L1449.7,1391.6 L1447.5,1391.1 M1456.2,1240.4 L1462.2,1240 L1468.3,1240.1 L1474.4,1240.7 L1480.4,1241.7 L1486.3,1243.1 L1492,1245 L1497.7,1247.3 L1503.1,1250.1 L1508.3,1253.2 L1513.3,1256.7 M1525.8,1268.6 L1530.2,1274.3 L1534,1280.3 L1537.3,1286.6 L1540.1,1293.2 L1542.2,1299.9 L1543.8,1306.9 L1544.7,1314 L1545,1321.1 L1544.7,1328.2 L1543.7,1335.3 M1539.9,1349.2 L1539.1,1351.3 L1538.2,1353.4 L1537.3,1355.4 L1536.3,1357.5 L1535.3,1359.5 L1534.2,1361.5 L1533,1363.4 L1531.8,1365.4 L1530.5,1367.3 L1529.2,1369.1 M1522,1377.5 L1517.8,1381.6 L1513.3,1385.3 L1508.5,1388.7 L1503.6,1391.7 L1498.4,1394.3 L1493,1396.6 L1487.5,1398.5 L1481.9,1400 L1476.2,1401.1 L1470.4,1401.7 M1455.5,1401.6 L1449.6,1400.7 L1443.7,1399.4 L1438,1397.7 L1432.4,1395.6 L1427,1393 L1421.8,1390.1 L1416.8,1386.8 L1412.1,1383.2 L1407.6,1379.2 L1403.5,1374.8 M1393.6,1361.1 L1390.7,1355.5 L1388.3,1349.8 L1386.3,1343.9 L1384.8,1337.8 L1383.7,1331.7 L1383.1,1325.5 L1383,1319.2 L1383.4,1313 L1384.2,1306.8 L1385.6,1300.7 M1388,1292.9 L1390.1,1287.8 L1392.5,1282.9 L1395.3,1278.1 L1398.3,1273.6 L1401.7,1269.2 L1405.4,1265.1 L1409.3,1261.2 L1413.5,1257.7 L1417.9,1254.4 L1422.6,1251.4" fill="none" stroke="#7398c7" stroke-width="4.6" stroke-linecap="round"/>
<circle cx="1464" cy="1321" r="33" fill="#245789"/>
<path d="M1779.6,1553C1783.1,1554.6 1787.6,1556.4 1789.7,1558.2C1791.9,1560 1792.5,1561.9 1792.5,1563.7C1792.4,1565.4 1791,1567.1 1789.6,1568.7C1788.1,1570.3 1786,1571.7 1783.8,1573.1C1781.7,1574.4 1779.1,1575.6 1776.7,1576.7C1774.3,1577.9 1771.7,1578.8 1769.5,1579.8C1767.2,1580.9 1765.1,1581.8 1763.3,1582.7C1761.4,1583.7 1759.8,1584.6 1758.4,1585.6C1757,1586.6 1755.2,1587.4 1754.8,1588.7C1754.4,1590 1755.3,1591.8 1755.9,1593.6C1756.6,1595.4 1757.5,1597.4 1758.6,1599.5C1759.6,1601.6 1761,1604 1762.1,1606.3C1763.2,1608.7 1764.5,1611.2 1765,1613.4C1765.6,1615.6 1765.9,1617.8 1765.5,1619.5C1765,1621.2 1763.9,1622.5 1762.3,1623.4C1760.8,1624.3 1758.5,1624.8 1756.2,1625C1753.9,1625.3 1751.1,1625.1 1748.6,1625C1746.1,1624.9 1743.5,1624.6 1741.2,1624.5C1738.9,1624.4 1736.7,1624.2 1735,1624.5C1733.3,1624.8 1731.9,1625.3 1731,1626.4C1730.1,1627.5 1730.1,1629.4 1729.7,1631.1C1729.3,1632.9 1729.1,1634.7 1728.8,1636.7C1728.5,1638.7 1728.3,1640.9 1728,1643C1727.6,1645.1 1727.4,1647.4 1726.9,1649.5C1726.4,1651.7 1725.8,1653.8 1725,1655.6C1724.2,1657.4 1723.3,1659.2 1722.1,1660.4C1720.9,1661.6 1719.5,1662.8 1717.8,1663.1C1716.1,1663.3 1713.9,1662.7 1711.7,1661.8C1709.5,1660.9 1707,1659.1 1704.7,1657.6C1702.5,1656.2 1700.2,1654.3 1698.1,1653C1696.1,1651.7 1694.3,1650.5 1692.6,1649.8C1690.9,1649 1689.4,1648.6 1687.9,1648.3C1686.4,1648 1685,1648 1683.7,1648.1C1682.4,1648.3 1681.1,1648.7 1679.9,1649.2C1678.6,1649.8 1677.4,1650.4 1676.1,1651.3C1674.9,1652.3 1673.7,1653.3 1672.4,1654.7C1671.1,1656 1669.9,1657.7 1668.5,1659.5C1667.2,1661.2 1665.8,1663.3 1664.3,1665C1662.8,1666.7 1661.2,1668.5 1659.6,1669.6C1658,1670.6 1656.4,1671.1 1654.8,1671.2C1653.2,1671.2 1651.6,1670.6 1650,1669.8C1648.5,1669 1647.1,1667.8 1645.7,1666.5C1644.3,1665.2 1643,1663.5 1641.8,1662C1640.5,1660.4 1639.4,1658.7 1638.2,1657.2C1637.1,1655.6 1636,1654.1 1634.9,1652.7C1633.8,1651.4 1632.8,1650.1 1631.7,1649C1630.6,1647.9 1629.5,1647 1628.4,1646.1C1627.2,1645.2 1626.2,1644.3 1625,1643.7C1623.8,1643 1622.6,1642.4 1621.3,1642.1C1620,1641.8 1618.6,1641.6 1617.1,1641.7C1615.5,1641.7 1613.9,1641.8 1612.1,1642.2C1610.3,1642.6 1608.3,1643.2 1606.1,1644C1603.9,1644.8 1601.4,1645.9 1598.9,1646.9C1596.4,1647.8 1593.6,1649.1 1591.1,1649.8C1588.5,1650.5 1585.9,1651.2 1583.7,1651.2C1581.6,1651.1 1579.5,1650.8 1578.3,1649.6C1577,1648.4 1576.4,1646.5 1576.3,1644.1C1576.2,1641.8 1577.1,1638.4 1577.8,1635.5C1578.6,1632.5 1579.9,1629.2 1580.7,1626.4C1581.5,1623.7 1582.3,1621.1 1582.7,1618.9C1583.1,1616.8 1583.1,1615 1583,1613.4C1582.9,1611.8 1582.4,1610.5 1582,1609.2C1581.5,1607.9 1580.9,1606.7 1580.2,1605.6C1579.5,1604.5 1578.6,1603.5 1577.7,1602.4C1576.8,1601.4 1575.9,1600.4 1574.7,1599.5C1573.6,1598.6 1572.3,1597.7 1570.8,1596.9C1569.2,1596.2 1567.4,1595.5 1565.3,1594.8C1563.3,1594.1 1560.8,1593.5 1558.4,1592.8C1556,1592.2 1553.1,1591.5 1550.7,1590.7C1548.3,1589.8 1545.8,1588.9 1544,1587.7C1542.2,1586.5 1540.8,1585 1540.1,1583.5C1539.4,1581.9 1539.4,1580.1 1539.7,1578.3C1540,1576.5 1540.8,1574.6 1541.9,1572.8C1542.9,1570.9 1544.4,1569.1 1545.8,1567.3C1547.2,1565.5 1549,1563.8 1550.5,1562.1C1552,1560.5 1553.7,1558.9 1555,1557.4C1556.4,1555.8 1557.7,1554.4 1558.8,1553C1559.9,1551.6 1560.8,1550.2 1561.6,1548.9C1562.4,1547.6 1563,1546.3 1563.5,1544.9C1564.1,1543.6 1564.8,1542.4 1564.9,1541.1C1565,1539.7 1564.7,1538.3 1564.1,1536.9C1563.6,1535.4 1562.9,1533.9 1561.8,1532.3C1560.8,1530.6 1559.2,1528.8 1557.7,1526.9C1556.1,1525 1554,1522.9 1552.4,1520.8C1550.8,1518.7 1549,1516.4 1548.2,1514.5C1547.4,1512.5 1547.3,1510.6 1547.7,1509C1548.1,1507.5 1549.4,1506.1 1550.7,1504.9C1552.1,1503.7 1553.9,1502.7 1555.7,1501.8C1557.6,1501 1559.8,1500.3 1561.9,1499.6C1563.9,1499 1566.2,1498.5 1568.2,1498C1570.2,1497.4 1572.2,1497 1574,1496.4C1575.8,1495.9 1577.7,1495.6 1578.9,1494.7C1580.1,1493.8 1580.8,1492.7 1581.1,1491.1C1581.3,1489.6 1580.8,1487.4 1580.5,1485.2C1580.1,1483.1 1579.5,1480.6 1579.1,1478.1C1578.6,1475.6 1577.9,1472.8 1577.6,1470.3C1577.3,1467.8 1577,1465.1 1577.3,1462.9C1577.5,1460.7 1578,1458.6 1579.1,1457.3C1580.2,1456 1581.8,1455.1 1583.9,1455.1C1586,1455.1 1589.1,1456.2 1591.8,1457.2C1594.5,1458.2 1597.7,1460.1 1600.4,1461.3C1603,1462.5 1605.6,1463.8 1607.7,1464.6C1609.9,1465.4 1611.7,1465.8 1613.3,1466C1615,1466.2 1616.4,1466.1 1617.7,1465.7C1619.1,1465.3 1620.2,1464.7 1621.3,1463.8C1622.4,1463 1623.4,1462.1 1624.4,1460.8C1625.4,1459.6 1626.3,1458.3 1627.2,1456.6C1628,1454.9 1628.8,1452.9 1629.7,1450.7C1630.5,1448.4 1631.3,1445.7 1632.2,1443.2C1633.1,1440.6 1634,1437.7 1635.1,1435.3C1636.3,1433 1637.6,1430.6 1639,1429.2C1640.5,1427.8 1642.1,1426.9 1643.8,1426.7C1645.5,1426.5 1647.4,1427.1 1649.2,1428.1C1651,1429 1652.9,1430.6 1654.6,1432.3C1656.3,1434 1658.1,1436.2 1659.7,1438.1C1661.3,1440.1 1662.8,1442.2 1664.2,1444.1C1665.7,1445.9 1667,1447.6 1668.4,1449C1669.7,1450.5 1671,1451.7 1672.3,1452.7C1673.5,1453.7 1674.7,1454.9 1676.1,1455.2C1677.4,1455.5 1678.8,1454.9 1680.3,1454.6C1681.7,1454.2 1683.2,1453.7 1684.8,1453.1C1686.4,1452.6 1688,1451.8 1689.7,1451C1691.4,1450.3 1693.2,1449.3 1695,1448.5C1696.8,1447.7 1698.8,1446.7 1700.7,1446C1702.5,1445.4 1704.5,1444.7 1706.3,1444.4C1708.2,1444.1 1710,1444 1711.6,1444.4C1713.2,1444.7 1714.9,1445.2 1716,1446.5C1717.1,1447.9 1717.8,1450.2 1718.2,1452.5C1718.7,1454.8 1718.7,1457.8 1718.9,1460.3C1719.1,1462.8 1719.2,1465.4 1719.5,1467.5C1719.8,1469.5 1720.2,1471.2 1720.8,1472.8C1721.4,1474.3 1722.1,1475.5 1723,1476.5C1723.8,1477.6 1724.9,1478.4 1726,1479.2C1727.1,1480 1728.3,1480.6 1729.5,1481.2C1730.8,1481.9 1732,1482.5 1733.5,1483C1734.9,1483.5 1736.4,1483.9 1738.1,1484.3C1739.7,1484.7 1741.5,1485 1743.5,1485.3C1745.4,1485.6 1747.5,1485.8 1749.5,1486.1C1751.5,1486.4 1753.7,1486.7 1755.7,1487.2C1757.7,1487.7 1759.7,1488.3 1761.3,1489.2C1762.9,1490 1764.5,1491 1765.4,1492.4C1766.3,1493.7 1767,1495.3 1766.5,1497.3C1766.1,1499.3 1764.3,1502.1 1762.9,1504.4C1761.5,1506.8 1759.4,1509.3 1758.1,1511.5C1756.8,1513.6 1755.8,1515.4 1755.3,1517.1C1754.7,1518.8 1754.7,1520.2 1754.7,1521.6C1754.6,1523.1 1755,1524.3 1755.2,1525.6C1755.5,1526.9 1755.8,1528.2 1756.1,1529.5C1756.4,1530.8 1756.7,1532.1 1757,1533.3C1757.3,1534.6 1757.5,1535.9 1757.9,1537.2C1758.3,1538.5 1758.5,1539.8 1759.2,1541C1759.9,1542.3 1760.6,1543.5 1762.3,1544.8C1763.9,1546.1 1766.1,1547.3 1769,1548.6C1771.9,1550 1776.2,1551.4 1779.6,1553Z" fill="#82a3cb" stroke="#285b90" stroke-width="2"/>
<path d="M1704.6,1567.5 L1703.8,1569.7 L1702.9,1571.8 L1701.8,1573.9 L1700.7,1575.9 L1699.5,1577.9 L1698.2,1579.8 L1696.7,1581.6 L1695.2,1583.4 L1693.6,1585 L1691.9,1586.6 M1683.3,1592.7 L1682.2,1593.2 L1681,1593.8 L1679.9,1594.3 L1678.8,1594.8 L1677.6,1595.2 L1676.5,1595.6 L1675.3,1596 L1674.1,1596.3 L1672.9,1596.7 L1671.7,1596.9 M1665,1597.9 L1661.4,1598 L1657.8,1597.8 L1654.2,1597.3 L1650.7,1596.6 L1647.2,1595.5 L1643.9,1594.2 L1640.6,1592.6 L1637.5,1590.7 L1634.5,1588.7 L1631.8,1586.3 M1627.1,1581.4 L1625.8,1579.8 L1624.6,1578 L1623.5,1576.3 L1622.4,1574.4 L1621.5,1572.6 L1620.6,1570.7 L1619.8,1568.7 L1619.1,1566.7 L1618.6,1564.7 L1618.1,1562.7 M1617.3,1558.2 L1617.1,1555.8 L1617,1553.4 L1617,1551 L1617.2,1548.6 L1617.5,1546.3 L1617.9,1543.9 L1618.5,1541.6 L1619.2,1539.3 L1619.9,1537 L1620.9,1534.8 M1625,1527.3 L1625.8,1526.3 L1626.6,1525.2 L1627.5,1524.2 L1628.3,1523.2 L1629.2,1522.2 L1630.1,1521.2 L1631.1,1520.3 L1632.1,1519.4 L1633.1,1518.5 L1634.1,1517.7 M1640.4,1513.5 L1643.8,1511.9 L1647.3,1510.5 L1650.9,1509.4 L1654.6,1508.6 L1658.3,1508.2 L1662.1,1508 L1665.8,1508.2 L1669.6,1508.6 L1673.3,1509.4 L1676.9,1510.5 M1675.5,1500.7 L1679.8,1502 L1684,1503.7 L1688.1,1505.7 L1692,1508.1 L1695.7,1510.8 L1699.1,1513.8 L1702.3,1517 L1705.1,1520.5 L1707.7,1524.3 L1710,1528.2 M1713,1535.1 L1714.2,1539.2 L1715.1,1543.4 L1715.7,1547.7 L1716,1552 L1715.9,1556.3 L1715.5,1560.5 L1714.7,1564.7 L1713.6,1568.9 L1712.2,1572.9 L1710.4,1576.9 M1706.3,1583.9 L1703.8,1587.2 L1701,1590.3 L1698,1593.2 L1694.8,1595.9 L1691.4,1598.3 L1687.8,1600.4 L1684.1,1602.3 L1680.3,1603.8 L1676.3,1605.1 L1672.2,1606 M1662,1607 L1658.8,1606.9 L1655.6,1606.6 L1652.4,1606.1 L1649.3,1605.5 L1646.2,1604.6 L1643.2,1603.6 L1640.2,1602.4 L1637.3,1601 L1634.5,1599.5 L1631.8,1597.8 M1625.6,1592.9 L1623.6,1591 L1621.7,1588.9 L1619.9,1586.9 L1618.3,1584.7 L1616.7,1582.4 L1615.3,1580.1 L1614,1577.7 L1612.8,1575.2 L1611.7,1572.6 L1610.8,1570.1 M1608.6,1560.8 L1608.3,1558.5 L1608.1,1556.2 L1608,1554 L1608,1551.7 L1608.1,1549.4 L1608.3,1547.1 L1608.6,1544.8 L1609,1542.6 L1609.5,1540.4 L1610.1,1538.2 M1710.6,1512.9 L1713.2,1516.3 L1715.6,1519.9 L1717.7,1523.6 L1719.6,1527.5 L1721.2,1531.5 L1722.5,1535.6 L1723.6,1539.8 L1724.4,1544 L1724.8,1548.3 L1725,1552.6 M1724.7,1559.2 L1724.1,1563.8 L1723.1,1568.4 L1721.8,1572.9 L1720.2,1577.2 L1718.2,1581.5 L1715.9,1585.5 L1713.4,1589.4 L1710.6,1593.1 L1707.4,1596.6 L1704.1,1599.9 M1692.7,1608 L1687.9,1610.4 L1683,1612.4 L1677.9,1614 L1672.7,1615.1 L1667.5,1615.8 L1662.2,1616 L1656.8,1615.8 L1651.6,1615.1 L1646.4,1614 L1641.3,1612.5 M1634,1609.4 L1631.4,1608.1 L1628.8,1606.6 L1626.4,1605 L1624,1603.2 L1621.7,1601.4 L1619.4,1599.4 L1617.3,1597.4 L1615.3,1595.2 L1613.3,1593 L1611.5,1590.7 M1607.7,1584.9 L1606,1581.8 L1604.5,1578.7 L1603.2,1575.6 L1602,1572.3 L1601.1,1569 L1600.3,1565.6 L1599.7,1562.3 L1599.3,1558.8 L1599,1555.4 L1599,1551.9 M1599.9,1542.5 L1600.3,1540.2 L1600.8,1537.9 L1601.4,1535.7 L1602.1,1533.4 L1602.9,1531.2 L1603.8,1529 L1604.7,1526.8 L1605.7,1524.7 L1606.8,1522.6 L1608,1520.6 M1615.2,1510.8 L1616.3,1509.6 L1617.5,1508.4 L1618.6,1507.3 L1619.8,1506.2 L1621.1,1505.1 L1622.3,1504.1 L1623.6,1503.1 L1624.9,1502.1 L1626.2,1501.1 L1627.6,1500.2 M1634.9,1496.1 L1637,1495.2 L1639.2,1494.3 L1641.3,1493.5 L1643.5,1492.8 L1645.7,1492.1 L1647.9,1491.6 L1650.2,1491.1 L1652.4,1490.7 L1654.7,1490.4 L1657,1490.2 M1615.7,1497.9 L1620.7,1494 L1626,1490.6 L1631.6,1487.7 L1637.4,1485.3 L1643.5,1483.4 L1649.6,1482.1 L1655.9,1481.3 L1662.2,1481 L1668.5,1481.3 L1674.7,1482.1 M1684.2,1484.5 L1688,1485.9 L1691.7,1487.4 L1695.4,1489.2 L1698.9,1491.2 L1702.4,1493.4 L1705.7,1495.8 L1708.8,1498.3 L1711.8,1501 L1714.7,1503.9 L1717.4,1507 M1727,1522 L1728.6,1525.6 L1730,1529.2 L1731.1,1532.9 L1732.1,1536.7 L1732.9,1540.5 L1733.5,1544.3 L1733.8,1548.2 L1734,1552 L1733.9,1555.9 L1733.7,1559.8 M1732.6,1567.4 L1732,1569.7 L1731.4,1572.1 L1730.7,1574.4 L1730,1576.7 L1729.1,1579 L1728.2,1581.3 L1727.2,1583.5 L1726.2,1585.7 L1725,1587.8 L1723.8,1589.9 M1718.1,1598.1 L1715.9,1600.7 L1713.6,1603.3 L1711.1,1605.7 L1708.5,1608 L1705.8,1610.1 L1703,1612.2 L1700.2,1614.1 L1697.2,1615.8 L1694.1,1617.4 L1691,1618.9 M1679.8,1622.8 L1676.1,1623.6 L1672.4,1624.2 L1668.7,1624.7 L1664.9,1624.9 L1661.2,1625 L1657.4,1624.9 L1653.6,1624.5 L1649.9,1624 L1646.2,1623.2 L1642.6,1622.3 M1635.1,1619.8 L1631.9,1618.4 L1628.8,1616.9 L1625.8,1615.2 L1622.8,1613.4 L1620,1611.5 L1617.2,1609.4 L1614.6,1607.2 L1612,1604.8 L1609.6,1602.4 L1607.3,1599.8 M1600.3,1590.2 L1599.4,1588.6 L1598.5,1587 L1597.7,1585.3 L1596.9,1583.7 L1596.1,1582 L1595.4,1580.3 L1594.7,1578.6 L1594.1,1576.9 L1593.5,1575.1 L1592.9,1573.4 M1591.1,1565.6 L1590.4,1560.6 L1590,1555.5 L1590,1550.5 L1590.4,1545.5 L1591.1,1540.5 L1592.2,1535.5 L1593.5,1530.7 L1595.3,1525.9 L1597.3,1521.3 L1599.7,1516.9 M1655.6,1633.7 L1649.7,1633.1 L1643.8,1631.9 L1638,1630.4 L1632.4,1628.4 L1626.9,1626 L1621.6,1623.2 L1616.6,1620.1 L1611.7,1616.5 L1607.2,1612.7 L1603,1608.4 M1584.5,1529.3 L1585.9,1525.3 L1587.4,1521.4 L1589.2,1517.5 L1591.1,1513.8 L1593.3,1510.1 L1595.6,1506.6 L1598.1,1503.2 L1600.8,1499.9 L1603.6,1496.8 L1606.7,1493.9 M1619.6,1484 L1623.1,1482 L1626.6,1480.1 L1630.3,1478.5 L1634,1477 L1637.7,1475.7 L1641.6,1474.6 L1645.4,1473.7 L1649.4,1473 L1653.3,1472.5 L1657.3,1472.1 M1666.3,1472.1 L1672.9,1472.7 L1679.5,1473.9 L1685.9,1475.6 L1692.2,1477.8 L1698.3,1480.6 L1704.1,1483.8 L1709.6,1487.5 L1714.8,1491.6 L1719.7,1496.1 L1724.2,1501.1 M1732.4,1512.9 L1734.6,1517.2 L1736.7,1521.6 L1738.4,1526.1 L1739.9,1530.7 L1741.1,1535.4 L1742,1540.2 L1742.6,1545 L1742.9,1549.9 L1743,1554.7 L1742.7,1559.6 M1739.9,1575.3 L1738.9,1578.4 L1737.9,1581.4 L1736.7,1584.3 L1735.4,1587.3 L1734,1590.1 L1732.5,1592.9 L1730.9,1595.7 L1729.1,1598.3 L1727.3,1600.9 L1725.4,1603.5" fill="none" stroke="#5b80b5" stroke-width="7" stroke-linecap="round"/>
<path d="M1704.6,1567.5 L1703.8,1569.7 L1702.9,1571.8 L1701.8,1573.9 L1700.7,1575.9 L1699.5,1577.9 L1698.2,1579.8 L1696.7,1581.6 L1695.2,1583.4 L1693.6,1585 L1691.9,1586.6 M1683.3,1592.7 L1682.2,1593.2 L1681,1593.8 L1679.9,1594.3 L1678.8,1594.8 L1677.6,1595.2 L1676.5,1595.6 L1675.3,1596 L1674.1,1596.3 L1672.9,1596.7 L1671.7,1596.9 M1665,1597.9 L1661.4,1598 L1657.8,1597.8 L1654.2,1597.3 L1650.7,1596.6 L1647.2,1595.5 L1643.9,1594.2 L1640.6,1592.6 L1637.5,1590.7 L1634.5,1588.7 L1631.8,1586.3 M1627.1,1581.4 L1625.8,1579.8 L1624.6,1578 L1623.5,1576.3 L1622.4,1574.4 L1621.5,1572.6 L1620.6,1570.7 L1619.8,1568.7 L1619.1,1566.7 L1618.6,1564.7 L1618.1,1562.7 M1617.3,1558.2 L1617.1,1555.8 L1617,1553.4 L1617,1551 L1617.2,1548.6 L1617.5,1546.3 L1617.9,1543.9 L1618.5,1541.6 L1619.2,1539.3 L1619.9,1537 L1620.9,1534.8 M1625,1527.3 L1625.8,1526.3 L1626.6,1525.2 L1627.5,1524.2 L1628.3,1523.2 L1629.2,1522.2 L1630.1,1521.2 L1631.1,1520.3 L1632.1,1519.4 L1633.1,1518.5 L1634.1,1517.7 M1640.4,1513.5 L1643.8,1511.9 L1647.3,1510.5 L1650.9,1509.4 L1654.6,1508.6 L1658.3,1508.2 L1662.1,1508 L1665.8,1508.2 L1669.6,1508.6 L1673.3,1509.4 L1676.9,1510.5 M1675.5,1500.7 L1679.8,1502 L1684,1503.7 L1688.1,1505.7 L1692,1508.1 L1695.7,1510.8 L1699.1,1513.8 L1702.3,1517 L1705.1,1520.5 L1707.7,1524.3 L1710,1528.2 M1713,1535.1 L1714.2,1539.2 L1715.1,1543.4 L1715.7,1547.7 L1716,1552 L1715.9,1556.3 L1715.5,1560.5 L1714.7,1564.7 L1713.6,1568.9 L1712.2,1572.9 L1710.4,1576.9 M1706.3,1583.9 L1703.8,1587.2 L1701,1590.3 L1698,1593.2 L1694.8,1595.9 L1691.4,1598.3 L1687.8,1600.4 L1684.1,1602.3 L1680.3,1603.8 L1676.3,1605.1 L1672.2,1606 M1662,1607 L1658.8,1606.9 L1655.6,1606.6 L1652.4,1606.1 L1649.3,1605.5 L1646.2,1604.6 L1643.2,1603.6 L1640.2,1602.4 L1637.3,1601 L1634.5,1599.5 L1631.8,1597.8 M1625.6,1592.9 L1623.6,1591 L1621.7,1588.9 L1619.9,1586.9 L1618.3,1584.7 L1616.7,1582.4 L1615.3,1580.1 L1614,1577.7 L1612.8,1575.2 L1611.7,1572.6 L1610.8,1570.1 M1608.6,1560.8 L1608.3,1558.5 L1608.1,1556.2 L1608,1554 L1608,1551.7 L1608.1,1549.4 L1608.3,1547.1 L1608.6,1544.8 L1609,1542.6 L1609.5,1540.4 L1610.1,1538.2 M1710.6,1512.9 L1713.2,1516.3 L1715.6,1519.9 L1717.7,1523.6 L1719.6,1527.5 L1721.2,1531.5 L1722.5,1535.6 L1723.6,1539.8 L1724.4,1544 L1724.8,1548.3 L1725,1552.6 M1724.7,1559.2 L1724.1,1563.8 L1723.1,1568.4 L1721.8,1572.9 L1720.2,1577.2 L1718.2,1581.5 L1715.9,1585.5 L1713.4,1589.4 L1710.6,1593.1 L1707.4,1596.6 L1704.1,1599.9 M1692.7,1608 L1687.9,1610.4 L1683,1612.4 L1677.9,1614 L1672.7,1615.1 L1667.5,1615.8 L1662.2,1616 L1656.8,1615.8 L1651.6,1615.1 L1646.4,1614 L1641.3,1612.5 M1634,1609.4 L1631.4,1608.1 L1628.8,1606.6 L1626.4,1605 L1624,1603.2 L1621.7,1601.4 L1619.4,1599.4 L1617.3,1597.4 L1615.3,1595.2 L1613.3,1593 L1611.5,1590.7 M1607.7,1584.9 L1606,1581.8 L1604.5,1578.7 L1603.2,1575.6 L1602,1572.3 L1601.1,1569 L1600.3,1565.6 L1599.7,1562.3 L1599.3,1558.8 L1599,1555.4 L1599,1551.9 M1599.9,1542.5 L1600.3,1540.2 L1600.8,1537.9 L1601.4,1535.7 L1602.1,1533.4 L1602.9,1531.2 L1603.8,1529 L1604.7,1526.8 L1605.7,1524.7 L1606.8,1522.6 L1608,1520.6 M1615.2,1510.8 L1616.3,1509.6 L1617.5,1508.4 L1618.6,1507.3 L1619.8,1506.2 L1621.1,1505.1 L1622.3,1504.1 L1623.6,1503.1 L1624.9,1502.1 L1626.2,1501.1 L1627.6,1500.2 M1634.9,1496.1 L1637,1495.2 L1639.2,1494.3 L1641.3,1493.5 L1643.5,1492.8 L1645.7,1492.1 L1647.9,1491.6 L1650.2,1491.1 L1652.4,1490.7 L1654.7,1490.4 L1657,1490.2 M1615.7,1497.9 L1620.7,1494 L1626,1490.6 L1631.6,1487.7 L1637.4,1485.3 L1643.5,1483.4 L1649.6,1482.1 L1655.9,1481.3 L1662.2,1481 L1668.5,1481.3 L1674.7,1482.1 M1684.2,1484.5 L1688,1485.9 L1691.7,1487.4 L1695.4,1489.2 L1698.9,1491.2 L1702.4,1493.4 L1705.7,1495.8 L1708.8,1498.3 L1711.8,1501 L1714.7,1503.9 L1717.4,1507 M1727,1522 L1728.6,1525.6 L1730,1529.2 L1731.1,1532.9 L1732.1,1536.7 L1732.9,1540.5 L1733.5,1544.3 L1733.8,1548.2 L1734,1552 L1733.9,1555.9 L1733.7,1559.8 M1732.6,1567.4 L1732,1569.7 L1731.4,1572.1 L1730.7,1574.4 L1730,1576.7 L1729.1,1579 L1728.2,1581.3 L1727.2,1583.5 L1726.2,1585.7 L1725,1587.8 L1723.8,1589.9 M1718.1,1598.1 L1715.9,1600.7 L1713.6,1603.3 L1711.1,1605.7 L1708.5,1608 L1705.8,1610.1 L1703,1612.2 L1700.2,1614.1 L1697.2,1615.8 L1694.1,1617.4 L1691,1618.9 M1679.8,1622.8 L1676.1,1623.6 L1672.4,1624.2 L1668.7,1624.7 L1664.9,1624.9 L1661.2,1625 L1657.4,1624.9 L1653.6,1624.5 L1649.9,1624 L1646.2,1623.2 L1642.6,1622.3 M1635.1,1619.8 L1631.9,1618.4 L1628.8,1616.9 L1625.8,1615.2 L1622.8,1613.4 L1620,1611.5 L1617.2,1609.4 L1614.6,1607.2 L1612,1604.8 L1609.6,1602.4 L1607.3,1599.8 M1600.3,1590.2 L1599.4,1588.6 L1598.5,1587 L1597.7,1585.3 L1596.9,1583.7 L1596.1,1582 L1595.4,1580.3 L1594.7,1578.6 L1594.1,1576.9 L1593.5,1575.1 L1592.9,1573.4 M1591.1,1565.6 L1590.4,1560.6 L1590,1555.5 L1590,1550.5 L1590.4,1545.5 L1591.1,1540.5 L1592.2,1535.5 L1593.5,1530.7 L1595.3,1525.9 L1597.3,1521.3 L1599.7,1516.9 M1655.6,1633.7 L1649.7,1633.1 L1643.8,1631.9 L1638,1630.4 L1632.4,1628.4 L1626.9,1626 L1621.6,1623.2 L1616.6,1620.1 L1611.7,1616.5 L1607.2,1612.7 L1603,1608.4 M1584.5,1529.3 L1585.9,1525.3 L1587.4,1521.4 L1589.2,1517.5 L1591.1,1513.8 L1593.3,1510.1 L1595.6,1506.6 L1598.1,1503.2 L1600.8,1499.9 L1603.6,1496.8 L1606.7,1493.9 M1619.6,1484 L1623.1,1482 L1626.6,1480.1 L1630.3,1478.5 L1634,1477 L1637.7,1475.7 L1641.6,1474.6 L1645.4,1473.7 L1649.4,1473 L1653.3,1472.5 L1657.3,1472.1 M1666.3,1472.1 L1672.9,1472.7 L1679.5,1473.9 L1685.9,1475.6 L1692.2,1477.8 L1698.3,1480.6 L1704.1,1483.8 L1709.6,1487.5 L1714.8,1491.6 L1719.7,1496.1 L1724.2,1501.1 M1732.4,1512.9 L1734.6,1517.2 L1736.7,1521.6 L1738.4,1526.1 L1739.9,1530.7 L1741.1,1535.4 L1742,1540.2 L1742.6,1545 L1742.9,1549.9 L1743,1554.7 L1742.7,1559.6 M1739.9,1575.3 L1738.9,1578.4 L1737.9,1581.4 L1736.7,1584.3 L1735.4,1587.3 L1734,1590.1 L1732.5,1592.9 L1730.9,1595.7 L1729.1,1598.3 L1727.3,1600.9 L1725.4,1603.5" fill="none" stroke="#7398c7" stroke-width="4.6" stroke-linecap="round"/>
<circle cx="1662" cy="1553" r="33" fill="#245789"/>
<rect x="1128" y="1224" width="205" height="205" rx="27" fill="#f9d8c4" stroke="#b48e7a" stroke-width="3"/>
<circle cx="1230.5" cy="1326.5" r="40" fill="#e4bba8" stroke="#d6a893" stroke-width="3"/>
<rect x="1581" y="1211" width="205" height="205" rx="27" fill="#f9d8c4" stroke="#b48e7a" stroke-width="3"/>
<circle cx="1683.5" cy="1313.5" r="40" fill="#e4bba8" stroke="#d6a893" stroke-width="3"/>
<rect x="1128" y="1453" width="205" height="205" rx="27" fill="#f9d8c4" stroke="#b48e7a" stroke-width="3"/>
<circle cx="1230.5" cy="1555.5" r="40" fill="#e4bba8" stroke="#d6a893" stroke-width="3"/>
<rect x="1347" y="1453" width="205" height="205" rx="27" fill="#f9d8c4" stroke="#b48e7a" stroke-width="3"/>
<circle cx="1449.5" cy="1555.5" r="40" fill="#e4bba8" stroke="#d6a893" stroke-width="3"/>
<line x1="1888.1" y1="1248.2" x2="1875.4" y2="1235.5" stroke="#0b3550" stroke-width="2.6"/>
<line x1="1871.9" y1="1231.9" x2="1848.5" y2="1208.6" stroke="#0b3550" stroke-width="14.5" stroke-linecap="round"/>
<line x1="1871.9" y1="1231.9" x2="1848.5" y2="1208.6" stroke="#1e6c9c" stroke-width="11.5" stroke-linecap="round"/>
<line x1="1889.6" y1="1225.6" x2="1858.4" y2="1194.5" stroke="#0b3550" stroke-width="12.8" stroke-linecap="round"/>
<line x1="1889.6" y1="1225.6" x2="1858.4" y2="1194.5" stroke="#ffffff" stroke-width="10" stroke-linecap="round"/>
<line x1="1888.8" y1="1215" x2="1865.5" y2="1191.6" stroke="#0b3550" stroke-width="14.5" stroke-linecap="round"/>
<line x1="1888.8" y1="1215" x2="1865.5" y2="1191.6" stroke="#1e6c9c" stroke-width="11.5" stroke-linecap="round"/>
<line x1="1971.9" y1="1228.3" x2="1979.8" y2="1212.1" stroke="#0b3550" stroke-width="2.6"/>
<line x1="1982" y1="1207.6" x2="1996.5" y2="1178" stroke="#0b3550" stroke-width="14.5" stroke-linecap="round"/>
<line x1="1982" y1="1207.6" x2="1996.5" y2="1178" stroke="#1e6c9c" stroke-width="11.5" stroke-linecap="round"/>
<line x1="1993.8" y1="1222.3" x2="2013.1" y2="1182.7" stroke="#0b3550" stroke-width="12.8" stroke-linecap="round"/>
<line x1="1993.8" y1="1222.3" x2="2013.1" y2="1182.7" stroke="#ffffff" stroke-width="10" stroke-linecap="round"/>
<line x1="2003.6" y1="1218.1" x2="2018.1" y2="1188.5" stroke="#0b3550" stroke-width="14.5" stroke-linecap="round"/>
<line x1="2003.6" y1="1218.1" x2="2018.1" y2="1188.5" stroke="#1e6c9c" stroke-width="11.5" stroke-linecap="round"/>
<line x1="2014.6" y1="1274.2" x2="2032.1" y2="1269.9" stroke="#0b3550" stroke-width="2.6"/>
<line x1="2036.9" y1="1268.7" x2="2068.9" y2="1260.7" stroke="#0b3550" stroke-width="14.5" stroke-linecap="round"/>
<line x1="2036.9" y1="1268.7" x2="2068.9" y2="1260.7" stroke="#1e6c9c" stroke-width="11.5" stroke-linecap="round"/>
<line x1="2033.3" y1="1287.1" x2="2076" y2="1276.5" stroke="#0b3550" stroke-width="12.8" stroke-linecap="round"/>
<line x1="2033.3" y1="1287.1" x2="2076" y2="1276.5" stroke="#ffffff" stroke-width="10" stroke-linecap="round"/>
<line x1="2042.7" y1="1292" x2="2074.7" y2="1284" stroke="#0b3550" stroke-width="14.5" stroke-linecap="round"/>
<line x1="2042.7" y1="1292" x2="2074.7" y2="1284" stroke="#1e6c9c" stroke-width="11.5" stroke-linecap="round"/>
<line x1="2001.5" y1="1343.8" x2="2014.7" y2="1356.1" stroke="#0b3550" stroke-width="2.6"/>
<line x1="2018.4" y1="1359.5" x2="2042.5" y2="1382" stroke="#0b3550" stroke-width="14.5" stroke-linecap="round"/>
<line x1="2018.4" y1="1359.5" x2="2042.5" y2="1382" stroke="#1e6c9c" stroke-width="11.5" stroke-linecap="round"/>
<line x1="2000.9" y1="1366.5" x2="2033.1" y2="1396.5" stroke="#0b3550" stroke-width="12.8" stroke-linecap="round"/>
<line x1="2000.9" y1="1366.5" x2="2033.1" y2="1396.5" stroke="#ffffff" stroke-width="10" stroke-linecap="round"/>
<line x1="2002" y1="1377" x2="2026.1" y2="1399.6" stroke="#0b3550" stroke-width="14.5" stroke-linecap="round"/>
<line x1="2002" y1="1377" x2="2026.1" y2="1399.6" stroke="#1e6c9c" stroke-width="11.5" stroke-linecap="round"/>
<line x1="1917.3" y1="1366.2" x2="1909.7" y2="1382.5" stroke="#0b3550" stroke-width="2.6"/>
<line x1="1907.5" y1="1387" x2="1893.6" y2="1416.9" stroke="#0b3550" stroke-width="14.5" stroke-linecap="round"/>
<line x1="1907.5" y1="1387" x2="1893.6" y2="1416.9" stroke="#1e6c9c" stroke-width="11.5" stroke-linecap="round"/>
<line x1="1895.5" y1="1372.6" x2="1876.9" y2="1412.5" stroke="#0b3550" stroke-width="12.8" stroke-linecap="round"/>
<line x1="1895.5" y1="1372.6" x2="1876.9" y2="1412.5" stroke="#ffffff" stroke-width="10" stroke-linecap="round"/>
<line x1="1885.8" y1="1376.9" x2="1871.8" y2="1406.8" stroke="#0b3550" stroke-width="14.5" stroke-linecap="round"/>
<line x1="1885.8" y1="1376.9" x2="1871.8" y2="1406.8" stroke="#1e6c9c" stroke-width="11.5" stroke-linecap="round"/>
<line x1="1871.2" y1="1311" x2="1853.3" y2="1313.2" stroke="#0b3550" stroke-width="2.6"/>
<line x1="1848.3" y1="1313.8" x2="1815.6" y2="1317.8" stroke="#0b3550" stroke-width="14.5" stroke-linecap="round"/>
<line x1="1848.3" y1="1313.8" x2="1815.6" y2="1317.8" stroke="#1e6c9c" stroke-width="11.5" stroke-linecap="round"/>
<line x1="1854.2" y1="1295.9" x2="1810.5" y2="1301.3" stroke="#0b3550" stroke-width="12.8" stroke-linecap="round"/>
<line x1="1854.2" y1="1295.9" x2="1810.5" y2="1301.3" stroke="#ffffff" stroke-width="10" stroke-linecap="round"/>
<line x1="1845.4" y1="1290" x2="1812.7" y2="1294" stroke="#0b3550" stroke-width="14.5" stroke-linecap="round"/>
<line x1="1845.4" y1="1290" x2="1812.7" y2="1294" stroke="#1e6c9c" stroke-width="11.5" stroke-linecap="round"/>
<circle cx="1944" cy="1297" r="75" fill="#e1ddf2" stroke="#9c90c9" stroke-width="2"/>
<circle cx="1951" cy="1290" r="45" fill="#c7c1e6" stroke="#b2a8da" stroke-width="1.5"/>
<g transform="rotate(-14 1936 1297)">
<path d="M1936,1249 L1938.4,1250.6 L1940.7,1252.2 L1942.7,1253.8 L1944.5,1255.4 L1945.8,1257 L1946.7,1258.6 L1947,1260.2 L1946.8,1261.8 L1946.1,1263.4 L1944.9,1265 L1943.3,1266.6 L1941.3,1268.2 L1939.1,1269.8 L1936.7,1271.4 L1934.3,1273 L1932,1274.6 L1929.8,1276.2 L1928,1277.8 L1926.5,1279.4 L1925.5,1281 L1925,1282.6 L1925.1,1284.2 L1925.7,1285.8 L1926.7,1287.4 L1928.2,1289 L1930.1,1290.6 L1932.3,1292.2 L1934.6,1293.8 L1937,1295.4 L1939.4,1297 L1941.6,1298.6 L1943.5,1300.2 L1945.1,1301.8 L1946.2,1303.4 L1946.9,1305 L1947,1306.6 L1946.6,1308.2 L1945.6,1309.8 L1944.3,1311.4 L1942.5,1313 L1940.4,1314.6 L1938.1,1316.2 L1935.7,1317.8 L1933.3,1319.4 L1931,1321 L1929,1322.6 L1927.3,1324.2 L1926,1325.8 L1925.3,1327.4 L1925,1329 L1925.3,1330.6 L1926,1332.2 L1927.3,1333.8 L1929,1335.4 L1931,1337 L1933.3,1338.6 L1935.7,1340.2 L1938.1,1341.8 L1940.4,1343.4 L1942.5,1345" fill="none" stroke="#2e5a72" stroke-width="2.2"/>
<path d="M1936,1249 L1933.6,1250.6 L1931.3,1252.2 L1929.3,1253.8 L1927.5,1255.4 L1926.2,1257 L1925.3,1258.6 L1925,1260.2 L1925.2,1261.8 L1925.9,1263.4 L1927.1,1265 L1928.7,1266.6 L1930.7,1268.2 L1932.9,1269.8 L1935.3,1271.4 L1937.7,1273 L1940,1274.6 L1942.2,1276.2 L1944,1277.8 L1945.5,1279.4 L1946.5,1281 L1947,1282.6 L1946.9,1284.2 L1946.3,1285.8 L1945.3,1287.4 L1943.8,1289 L1941.9,1290.6 L1939.7,1292.2 L1937.4,1293.8 L1935,1295.4 L1932.6,1297 L1930.4,1298.6 L1928.5,1300.2 L1926.9,1301.8 L1925.8,1303.4 L1925.1,1305 L1925,1306.6 L1925.4,1308.2 L1926.4,1309.8 L1927.7,1311.4 L1929.5,1313 L1931.6,1314.6 L1933.9,1316.2 L1936.3,1317.8 L1938.7,1319.4 L1941,1321 L1943,1322.6 L1944.7,1324.2 L1946,1325.8 L1946.7,1327.4 L1947,1329 L1946.7,1330.6 L1946,1332.2 L1944.7,1333.8 L1943,1335.4 L1941,1337 L1938.7,1338.6 L1936.3,1340.2 L1933.9,1341.8 L1931.6,1343.4 L1929.5,1345" fill="none" stroke="#2e5a72" stroke-width="2.2"/>
<line x1="1940.7" y1="1252.2" x2="1931.3" y2="1252.2" stroke="#2e5a72" stroke-width="1.2"/>
<line x1="1946.7" y1="1258.6" x2="1925.3" y2="1258.6" stroke="#2e5a72" stroke-width="1.2"/>
<line x1="1944.9" y1="1265" x2="1927.1" y2="1265" stroke="#2e5a72" stroke-width="1.2"/>
<line x1="1936.7" y1="1271.4" x2="1935.3" y2="1271.4" stroke="#2e5a72" stroke-width="1.2"/>
<line x1="1928" y1="1277.8" x2="1944" y2="1277.8" stroke="#2e5a72" stroke-width="1.2"/>
<line x1="1925.1" y1="1284.2" x2="1946.9" y2="1284.2" stroke="#2e5a72" stroke-width="1.2"/>
<line x1="1930.1" y1="1290.6" x2="1941.9" y2="1290.6" stroke="#2e5a72" stroke-width="1.2"/>
<line x1="1939.4" y1="1297" x2="1932.6" y2="1297" stroke="#2e5a72" stroke-width="1.2"/>
<line x1="1946.2" y1="1303.4" x2="1925.8" y2="1303.4" stroke="#2e5a72" stroke-width="1.2"/>
<line x1="1945.6" y1="1309.8" x2="1926.4" y2="1309.8" stroke="#2e5a72" stroke-width="1.2"/>
<line x1="1938.1" y1="1316.2" x2="1933.9" y2="1316.2" stroke="#2e5a72" stroke-width="1.2"/>
<line x1="1929" y1="1322.6" x2="1943" y2="1322.6" stroke="#2e5a72" stroke-width="1.2"/>
<line x1="1925" y1="1329" x2="1947" y2="1329" stroke="#2e5a72" stroke-width="1.2"/>
<line x1="1929" y1="1335.4" x2="1943" y2="1335.4" stroke="#2e5a72" stroke-width="1.2"/>
<line x1="1938.1" y1="1341.8" x2="1933.9" y2="1341.8" stroke="#2e5a72" stroke-width="1.2"/>
</g>
<path d="M1944,1305 q6,-4 4,-10" fill="none" stroke="#2a9ad8" stroke-width="3"/>
<g fill="none" stroke="#2e5a72" stroke-width="1.6">
<line x1="1948" y1="1299" x2="1974" y2="1285"/>
<line x1="1960" y1="1305" x2="1966" y2="1277"/>
<circle cx="1977" cy="1283" r="3.5"/><circle cx="1967" cy="1273" r="3.5"/>
</g>
<line x1="2161.5" y1="1259.9" x2="2152" y2="1244.6" stroke="#86191b" stroke-width="2.6"/>
<line x1="2149.4" y1="1240.4" x2="2131.9" y2="1212.4" stroke="#86191b" stroke-width="14.5" stroke-linecap="round"/>
<line x1="2149.4" y1="1240.4" x2="2131.9" y2="1212.4" stroke="#cc4c4d" stroke-width="11.5" stroke-linecap="round"/>
<line x1="2168" y1="1238.2" x2="2144.7" y2="1200.9" stroke="#86191b" stroke-width="12.8" stroke-linecap="round"/>
<line x1="2168" y1="1238.2" x2="2144.7" y2="1200.9" stroke="#ffffff" stroke-width="10" stroke-linecap="round"/>
<line x1="2169.7" y1="1227.7" x2="2152.2" y2="1199.7" stroke="#86191b" stroke-width="14.5" stroke-linecap="round"/>
<line x1="2169.7" y1="1227.7" x2="2152.2" y2="1199.7" stroke="#cc4c4d" stroke-width="11.5" stroke-linecap="round"/>
<line x1="2242.2" y1="1255.9" x2="2252.3" y2="1240.9" stroke="#0b3550" stroke-width="2.6"/>
<line x1="2255.1" y1="1236.8" x2="2273.5" y2="1209.4" stroke="#0b3550" stroke-width="14.5" stroke-linecap="round"/>
<line x1="2255.1" y1="1236.8" x2="2273.5" y2="1209.4" stroke="#1e6c9c" stroke-width="11.5" stroke-linecap="round"/>
<line x1="2264.7" y1="1252.9" x2="2289.3" y2="1216.4" stroke="#0b3550" stroke-width="12.8" stroke-linecap="round"/>
<line x1="2264.7" y1="1252.9" x2="2289.3" y2="1216.4" stroke="#ffffff" stroke-width="10" stroke-linecap="round"/>
<line x1="2275" y1="1250.2" x2="2293.4" y2="1222.8" stroke="#0b3550" stroke-width="14.5" stroke-linecap="round"/>
<line x1="2275" y1="1250.2" x2="2293.4" y2="1222.8" stroke="#1e6c9c" stroke-width="11.5" stroke-linecap="round"/>
<line x1="2278.6" y1="1311.1" x2="2296.6" y2="1310.2" stroke="#86191b" stroke-width="2.6"/>
<line x1="2301.6" y1="1309.9" x2="2334.6" y2="1308.2" stroke="#86191b" stroke-width="14.5" stroke-linecap="round"/>
<line x1="2301.6" y1="1309.9" x2="2334.6" y2="1308.2" stroke="#cc4c4d" stroke-width="11.5" stroke-linecap="round"/>
<line x1="2294.5" y1="1327.3" x2="2338.4" y2="1325" stroke="#86191b" stroke-width="12.8" stroke-linecap="round"/>
<line x1="2294.5" y1="1327.3" x2="2338.4" y2="1325" stroke="#ffffff" stroke-width="10" stroke-linecap="round"/>
<line x1="2302.9" y1="1333.9" x2="2335.8" y2="1332.2" stroke="#86191b" stroke-width="14.5" stroke-linecap="round"/>
<line x1="2302.9" y1="1333.9" x2="2335.8" y2="1332.2" stroke="#cc4c4d" stroke-width="11.5" stroke-linecap="round"/>
<line x1="2251.5" y1="1377.7" x2="2261.9" y2="1392.5" stroke="#0b3550" stroke-width="2.6"/>
<line x1="2264.7" y1="1396.6" x2="2283.7" y2="1423.6" stroke="#0b3550" stroke-width="14.5" stroke-linecap="round"/>
<line x1="2264.7" y1="1396.6" x2="2283.7" y2="1423.6" stroke="#1e6c9c" stroke-width="11.5" stroke-linecap="round"/>
<line x1="2246.2" y1="1399.8" x2="2271.5" y2="1435.8" stroke="#0b3550" stroke-width="12.8" stroke-linecap="round"/>
<line x1="2246.2" y1="1399.8" x2="2271.5" y2="1435.8" stroke="#ffffff" stroke-width="10" stroke-linecap="round"/>
<line x1="2245.1" y1="1410.4" x2="2264" y2="1437.4" stroke="#0b3550" stroke-width="14.5" stroke-linecap="round"/>
<line x1="2245.1" y1="1410.4" x2="2264" y2="1437.4" stroke="#1e6c9c" stroke-width="11.5" stroke-linecap="round"/>
<line x1="2162.3" y1="1380.7" x2="2151" y2="1394.6" stroke="#86191b" stroke-width="2.6"/>
<line x1="2147.8" y1="1398.5" x2="2127.1" y2="1424.2" stroke="#86191b" stroke-width="14.5" stroke-linecap="round"/>
<line x1="2147.8" y1="1398.5" x2="2127.1" y2="1424.2" stroke="#cc4c4d" stroke-width="11.5" stroke-linecap="round"/>
<line x1="2139.7" y1="1381.6" x2="2112" y2="1415.8" stroke="#86191b" stroke-width="12.8" stroke-linecap="round"/>
<line x1="2139.7" y1="1381.6" x2="2112" y2="1415.8" stroke="#ffffff" stroke-width="10" stroke-linecap="round"/>
<line x1="2129.2" y1="1383.4" x2="2108.4" y2="1409.1" stroke="#86191b" stroke-width="14.5" stroke-linecap="round"/>
<line x1="2129.2" y1="1383.4" x2="2108.4" y2="1409.1" stroke="#cc4c4d" stroke-width="11.5" stroke-linecap="round"/>
<line x1="2130.8" y1="1321.1" x2="2112.9" y2="1320.2" stroke="#0b3550" stroke-width="2.6"/>
<line x1="2107.9" y1="1319.9" x2="2074.9" y2="1318.2" stroke="#0b3550" stroke-width="14.5" stroke-linecap="round"/>
<line x1="2107.9" y1="1319.9" x2="2074.9" y2="1318.2" stroke="#1e6c9c" stroke-width="11.5" stroke-linecap="round"/>
<line x1="2116.8" y1="1303.4" x2="2072.8" y2="1301.1" stroke="#0b3550" stroke-width="12.8" stroke-linecap="round"/>
<line x1="2116.8" y1="1303.4" x2="2072.8" y2="1301.1" stroke="#ffffff" stroke-width="10" stroke-linecap="round"/>
<line x1="2109.1" y1="1295.9" x2="2076.2" y2="1294.2" stroke="#0b3550" stroke-width="14.5" stroke-linecap="round"/>
<line x1="2109.1" y1="1295.9" x2="2076.2" y2="1294.2" stroke="#1e6c9c" stroke-width="11.5" stroke-linecap="round"/>
<circle cx="2205" cy="1320" r="75" fill="#e1ddf2" stroke="#9c90c9" stroke-width="2"/>
<circle cx="2212" cy="1313" r="45" fill="#c7c1e6" stroke="#b2a8da" stroke-width="1.5"/>
<g transform="rotate(-14 2197 1320)">
<path d="M2197,1272 L2199.4,1273.6 L2201.7,1275.2 L2203.7,1276.8 L2205.5,1278.4 L2206.8,1280 L2207.7,1281.6 L2208,1283.2 L2207.8,1284.8 L2207.1,1286.4 L2205.9,1288 L2204.3,1289.6 L2202.3,1291.2 L2200.1,1292.8 L2197.7,1294.4 L2195.3,1296 L2193,1297.6 L2190.8,1299.2 L2189,1300.8 L2187.5,1302.4 L2186.5,1304 L2186,1305.6 L2186.1,1307.2 L2186.7,1308.8 L2187.7,1310.4 L2189.2,1312 L2191.1,1313.6 L2193.3,1315.2 L2195.6,1316.8 L2198,1318.4 L2200.4,1320 L2202.6,1321.6 L2204.5,1323.2 L2206.1,1324.8 L2207.2,1326.4 L2207.9,1328 L2208,1329.6 L2207.6,1331.2 L2206.6,1332.8 L2205.3,1334.4 L2203.5,1336 L2201.4,1337.6 L2199.1,1339.2 L2196.7,1340.8 L2194.3,1342.4 L2192,1344 L2190,1345.6 L2188.3,1347.2 L2187,1348.8 L2186.3,1350.4 L2186,1352 L2186.3,1353.6 L2187,1355.2 L2188.3,1356.8 L2190,1358.4 L2192,1360 L2194.3,1361.6 L2196.7,1363.2 L2199.1,1364.8 L2201.4,1366.4 L2203.5,1368" fill="none" stroke="#2e5a72" stroke-width="2.2"/>
<path d="M2197,1272 L2194.6,1273.6 L2192.3,1275.2 L2190.3,1276.8 L2188.5,1278.4 L2187.2,1280 L2186.3,1281.6 L2186,1283.2 L2186.2,1284.8 L2186.9,1286.4 L2188.1,1288 L2189.7,1289.6 L2191.7,1291.2 L2193.9,1292.8 L2196.3,1294.4 L2198.7,1296 L2201,1297.6 L2203.2,1299.2 L2205,1300.8 L2206.5,1302.4 L2207.5,1304 L2208,1305.6 L2207.9,1307.2 L2207.3,1308.8 L2206.3,1310.4 L2204.8,1312 L2202.9,1313.6 L2200.7,1315.2 L2198.4,1316.8 L2196,1318.4 L2193.6,1320 L2191.4,1321.6 L2189.5,1323.2 L2187.9,1324.8 L2186.8,1326.4 L2186.1,1328 L2186,1329.6 L2186.4,1331.2 L2187.4,1332.8 L2188.7,1334.4 L2190.5,1336 L2192.6,1337.6 L2194.9,1339.2 L2197.3,1340.8 L2199.7,1342.4 L2202,1344 L2204,1345.6 L2205.7,1347.2 L2207,1348.8 L2207.7,1350.4 L2208,1352 L2207.7,1353.6 L2207,1355.2 L2205.7,1356.8 L2204,1358.4 L2202,1360 L2199.7,1361.6 L2197.3,1363.2 L2194.9,1364.8 L2192.6,1366.4 L2190.5,1368" fill="none" stroke="#2e5a72" stroke-width="2.2"/>
<line x1="2201.7" y1="1275.2" x2="2192.3" y2="1275.2" stroke="#2e5a72" stroke-width="1.2"/>
<line x1="2207.7" y1="1281.6" x2="2186.3" y2="1281.6" stroke="#2e5a72" stroke-width="1.2"/>
<line x1="2205.9" y1="1288" x2="2188.1" y2="1288" stroke="#2e5a72" stroke-width="1.2"/>
<line x1="2197.7" y1="1294.4" x2="2196.3" y2="1294.4" stroke="#2e5a72" stroke-width="1.2"/>
<line x1="2189" y1="1300.8" x2="2205" y2="1300.8" stroke="#2e5a72" stroke-width="1.2"/>
<line x1="2186.1" y1="1307.2" x2="2207.9" y2="1307.2" stroke="#2e5a72" stroke-width="1.2"/>
<line x1="2191.1" y1="1313.6" x2="2202.9" y2="1313.6" stroke="#2e5a72" stroke-width="1.2"/>
<line x1="2200.4" y1="1320" x2="2193.6" y2="1320" stroke="#2e5a72" stroke-width="1.2"/>
<line x1="2207.2" y1="1326.4" x2="2186.8" y2="1326.4" stroke="#2e5a72" stroke-width="1.2"/>
<line x1="2206.6" y1="1332.8" x2="2187.4" y2="1332.8" stroke="#2e5a72" stroke-width="1.2"/>
<line x1="2199.1" y1="1339.2" x2="2194.9" y2="1339.2" stroke="#2e5a72" stroke-width="1.2"/>
<line x1="2190" y1="1345.6" x2="2204" y2="1345.6" stroke="#2e5a72" stroke-width="1.2"/>
<line x1="2186" y1="1352" x2="2208" y2="1352" stroke="#2e5a72" stroke-width="1.2"/>
<line x1="2190" y1="1358.4" x2="2204" y2="1358.4" stroke="#2e5a72" stroke-width="1.2"/>
<line x1="2199.1" y1="1364.8" x2="2194.9" y2="1364.8" stroke="#2e5a72" stroke-width="1.2"/>
</g>
<path d="M2205,1328 q6,-4 4,-10" fill="none" stroke="#2a9ad8" stroke-width="3"/>
<g fill="none" stroke="#2e5a72" stroke-width="1.6">
<line x1="2209" y1="1322" x2="2235" y2="1308"/>
<line x1="2221" y1="1328" x2="2227" y2="1300"/>
<circle cx="2238" cy="1306" r="3.5"/><circle cx="2228" cy="1296" r="3.5"/>
</g>
<line x1="1951.6" y1="1447.5" x2="1956.6" y2="1430.2" stroke="#0b3550" stroke-width="2.6"/>
<line x1="1957.9" y1="1425.4" x2="1967" y2="1393.7" stroke="#0b3550" stroke-width="14.5" stroke-linecap="round"/>
<line x1="1957.9" y1="1425.4" x2="1967" y2="1393.7" stroke="#1e6c9c" stroke-width="11.5" stroke-linecap="round"/>
<line x1="1972.1" y1="1437.8" x2="1984.2" y2="1395.5" stroke="#0b3550" stroke-width="12.8" stroke-linecap="round"/>
<line x1="1972.1" y1="1437.8" x2="1984.2" y2="1395.5" stroke="#ffffff" stroke-width="10" stroke-linecap="round"/>
<line x1="1981" y1="1432" x2="1990.1" y2="1400.3" stroke="#0b3550" stroke-width="14.5" stroke-linecap="round"/>
<line x1="1981" y1="1432" x2="1990.1" y2="1400.3" stroke="#1e6c9c" stroke-width="11.5" stroke-linecap="round"/>
<line x1="1871.9" y1="1482.8" x2="1856.9" y2="1472.7" stroke="#0b3550" stroke-width="2.6"/>
<line x1="1852.8" y1="1469.9" x2="1825.4" y2="1451.5" stroke="#0b3550" stroke-width="14.5" stroke-linecap="round"/>
<line x1="1852.8" y1="1469.9" x2="1825.4" y2="1451.5" stroke="#1e6c9c" stroke-width="11.5" stroke-linecap="round"/>
<line x1="1868.9" y1="1460.3" x2="1832.4" y2="1435.7" stroke="#0b3550" stroke-width="12.8" stroke-linecap="round"/>
<line x1="1868.9" y1="1460.3" x2="1832.4" y2="1435.7" stroke="#ffffff" stroke-width="10" stroke-linecap="round"/>
<line x1="1866.2" y1="1450" x2="1838.8" y2="1431.6" stroke="#0b3550" stroke-width="14.5" stroke-linecap="round"/>
<line x1="1866.2" y1="1450" x2="1838.8" y2="1431.6" stroke="#1e6c9c" stroke-width="11.5" stroke-linecap="round"/>
<line x1="2004.3" y1="1491.2" x2="2021.4" y2="1485.3" stroke="#0b3550" stroke-width="2.6"/>
<line x1="2026.1" y1="1483.7" x2="2057.3" y2="1472.9" stroke="#0b3550" stroke-width="14.5" stroke-linecap="round"/>
<line x1="2026.1" y1="1483.7" x2="2057.3" y2="1472.9" stroke="#1e6c9c" stroke-width="11.5" stroke-linecap="round"/>
<line x1="2024.1" y1="1502.4" x2="2065.7" y2="1488" stroke="#0b3550" stroke-width="12.8" stroke-linecap="round"/>
<line x1="2024.1" y1="1502.4" x2="2065.7" y2="1488" stroke="#ffffff" stroke-width="10" stroke-linecap="round"/>
<line x1="2033.9" y1="1506.4" x2="2065.1" y2="1495.6" stroke="#0b3550" stroke-width="14.5" stroke-linecap="round"/>
<line x1="2033.9" y1="1506.4" x2="2065.1" y2="1495.6" stroke="#1e6c9c" stroke-width="11.5" stroke-linecap="round"/>
<line x1="2001.4" y1="1555" x2="2016.7" y2="1564.5" stroke="#0b3550" stroke-width="2.6"/>
<line x1="2020.9" y1="1567.2" x2="2048.9" y2="1584.6" stroke="#0b3550" stroke-width="14.5" stroke-linecap="round"/>
<line x1="2020.9" y1="1567.2" x2="2048.9" y2="1584.6" stroke="#1e6c9c" stroke-width="11.5" stroke-linecap="round"/>
<line x1="2005.1" y1="1577.3" x2="2042.4" y2="1600.7" stroke="#0b3550" stroke-width="12.8" stroke-linecap="round"/>
<line x1="2005.1" y1="1577.3" x2="2042.4" y2="1600.7" stroke="#ffffff" stroke-width="10" stroke-linecap="round"/>
<line x1="2008.2" y1="1587.5" x2="2036.2" y2="1605" stroke="#0b3550" stroke-width="14.5" stroke-linecap="round"/>
<line x1="2008.2" y1="1587.5" x2="2036.2" y2="1605" stroke="#1e6c9c" stroke-width="11.5" stroke-linecap="round"/>
<line x1="1921.7" y1="1592.8" x2="1917" y2="1610.2" stroke="#0b3550" stroke-width="2.6"/>
<line x1="1915.7" y1="1615" x2="1907.2" y2="1646.9" stroke="#0b3550" stroke-width="14.5" stroke-linecap="round"/>
<line x1="1915.7" y1="1615" x2="1907.2" y2="1646.9" stroke="#1e6c9c" stroke-width="11.5" stroke-linecap="round"/>
<line x1="1901.4" y1="1602.9" x2="1890" y2="1645.4" stroke="#0b3550" stroke-width="12.8" stroke-linecap="round"/>
<line x1="1901.4" y1="1602.9" x2="1890" y2="1645.4" stroke="#ffffff" stroke-width="10" stroke-linecap="round"/>
<line x1="1892.5" y1="1608.8" x2="1884" y2="1640.7" stroke="#0b3550" stroke-width="14.5" stroke-linecap="round"/>
<line x1="1892.5" y1="1608.8" x2="1884" y2="1640.7" stroke="#1e6c9c" stroke-width="11.5" stroke-linecap="round"/>
<line x1="1871.7" y1="1556.9" x2="1855.5" y2="1564.8" stroke="#0b3550" stroke-width="2.6"/>
<line x1="1851" y1="1567" x2="1821.3" y2="1581.5" stroke="#0b3550" stroke-width="14.5" stroke-linecap="round"/>
<line x1="1851" y1="1567" x2="1821.3" y2="1581.5" stroke="#1e6c9c" stroke-width="11.5" stroke-linecap="round"/>
<line x1="1850.7" y1="1548.2" x2="1811.2" y2="1567.5" stroke="#0b3550" stroke-width="12.8" stroke-linecap="round"/>
<line x1="1850.7" y1="1548.2" x2="1811.2" y2="1567.5" stroke="#ffffff" stroke-width="10" stroke-linecap="round"/>
<line x1="1840.5" y1="1545.4" x2="1810.8" y2="1559.9" stroke="#0b3550" stroke-width="14.5" stroke-linecap="round"/>
<line x1="1840.5" y1="1545.4" x2="1810.8" y2="1559.9" stroke="#1e6c9c" stroke-width="11.5" stroke-linecap="round"/>
<circle cx="1936" cy="1520" r="75" fill="#a9d3b1" stroke="#5e9c68" stroke-width="2"/>
<circle cx="1936" cy="1522" r="44" fill="#70b383" stroke="#5a9c6a" stroke-width="1.5"/>
<g transform="rotate(-16 1946 1520)">
<path d="M1946,1474 L1948.4,1475.5 L1950.7,1477.1 L1952.7,1478.6 L1954.5,1480.1 L1955.8,1481.7 L1956.7,1483.2 L1957,1484.7 L1956.8,1486.3 L1956.1,1487.8 L1954.9,1489.3 L1953.3,1490.9 L1951.3,1492.4 L1949.1,1493.9 L1946.7,1495.5 L1944.3,1497 L1942,1498.5 L1939.8,1500.1 L1938,1501.6 L1936.5,1503.1 L1935.5,1504.7 L1935,1506.2 L1935.1,1507.7 L1935.7,1509.3 L1936.7,1510.8 L1938.2,1512.3 L1940.1,1513.9 L1942.3,1515.4 L1944.6,1516.9 L1947,1518.5 L1949.4,1520 L1951.6,1521.5 L1953.5,1523.1 L1955.1,1524.6 L1956.2,1526.1 L1956.9,1527.7 L1957,1529.2 L1956.6,1530.7 L1955.6,1532.3 L1954.3,1533.8 L1952.5,1535.3 L1950.4,1536.9 L1948.1,1538.4 L1945.7,1539.9 L1943.3,1541.5 L1941,1543 L1939,1544.5 L1937.3,1546.1 L1936,1547.6 L1935.3,1549.1 L1935,1550.7 L1935.3,1552.2 L1936,1553.7 L1937.3,1555.3 L1939,1556.8 L1941,1558.3 L1943.3,1559.9 L1945.7,1561.4 L1948.1,1562.9 L1950.4,1564.5 L1952.5,1566" fill="none" stroke="#2e5a72" stroke-width="2.2"/>
<path d="M1946,1474 L1943.6,1475.5 L1941.3,1477.1 L1939.3,1478.6 L1937.5,1480.1 L1936.2,1481.7 L1935.3,1483.2 L1935,1484.7 L1935.2,1486.3 L1935.9,1487.8 L1937.1,1489.3 L1938.7,1490.9 L1940.7,1492.4 L1942.9,1493.9 L1945.3,1495.5 L1947.7,1497 L1950,1498.5 L1952.2,1500.1 L1954,1501.6 L1955.5,1503.1 L1956.5,1504.7 L1957,1506.2 L1956.9,1507.7 L1956.3,1509.3 L1955.3,1510.8 L1953.8,1512.3 L1951.9,1513.9 L1949.7,1515.4 L1947.4,1516.9 L1945,1518.5 L1942.6,1520 L1940.4,1521.5 L1938.5,1523.1 L1936.9,1524.6 L1935.8,1526.1 L1935.1,1527.7 L1935,1529.2 L1935.4,1530.7 L1936.4,1532.3 L1937.7,1533.8 L1939.5,1535.3 L1941.6,1536.9 L1943.9,1538.4 L1946.3,1539.9 L1948.7,1541.5 L1951,1543 L1953,1544.5 L1954.7,1546.1 L1956,1547.6 L1956.7,1549.1 L1957,1550.7 L1956.7,1552.2 L1956,1553.7 L1954.7,1555.3 L1953,1556.8 L1951,1558.3 L1948.7,1559.9 L1946.3,1561.4 L1943.9,1562.9 L1941.6,1564.5 L1939.5,1566" fill="none" stroke="#2e5a72" stroke-width="2.2"/>
<line x1="1950.7" y1="1477.1" x2="1941.3" y2="1477.1" stroke="#2e5a72" stroke-width="1.2"/>
<line x1="1956.7" y1="1483.2" x2="1935.3" y2="1483.2" stroke="#2e5a72" stroke-width="1.2"/>
<line x1="1954.9" y1="1489.3" x2="1937.1" y2="1489.3" stroke="#2e5a72" stroke-width="1.2"/>
<line x1="1946.7" y1="1495.5" x2="1945.3" y2="1495.5" stroke="#2e5a72" stroke-width="1.2"/>
<line x1="1938" y1="1501.6" x2="1954" y2="1501.6" stroke="#2e5a72" stroke-width="1.2"/>
<line x1="1935.1" y1="1507.7" x2="1956.9" y2="1507.7" stroke="#2e5a72" stroke-width="1.2"/>
<line x1="1940.1" y1="1513.9" x2="1951.9" y2="1513.9" stroke="#2e5a72" stroke-width="1.2"/>
<line x1="1949.4" y1="1520" x2="1942.6" y2="1520" stroke="#2e5a72" stroke-width="1.2"/>
<line x1="1956.2" y1="1526.1" x2="1935.8" y2="1526.1" stroke="#2e5a72" stroke-width="1.2"/>
<line x1="1955.6" y1="1532.3" x2="1936.4" y2="1532.3" stroke="#2e5a72" stroke-width="1.2"/>
<line x1="1948.1" y1="1538.4" x2="1943.9" y2="1538.4" stroke="#2e5a72" stroke-width="1.2"/>
<line x1="1939" y1="1544.5" x2="1953" y2="1544.5" stroke="#2e5a72" stroke-width="1.2"/>
<line x1="1935" y1="1550.7" x2="1957" y2="1550.7" stroke="#2e5a72" stroke-width="1.2"/>
<line x1="1939" y1="1556.8" x2="1953" y2="1556.8" stroke="#2e5a72" stroke-width="1.2"/>
<line x1="1948.1" y1="1562.9" x2="1943.9" y2="1562.9" stroke="#2e5a72" stroke-width="1.2"/>
</g>
<path d="M1938,1518 q6,-4 4,-10" fill="none" stroke="#2a9ad8" stroke-width="3"/>
<g fill="none" stroke="#2e5a72" stroke-width="1.6">
<line x1="1908" y1="1544" x2="1934" y2="1530"/>
<line x1="1920" y1="1550" x2="1926" y2="1522"/>
<circle cx="1937" cy="1528" r="3.5"/><circle cx="1927" cy="1518" r="3.5"/>
</g>
<line x1="2153.5" y1="1493.4" x2="2143.4" y2="1478.5" stroke="#0b3550" stroke-width="2.6"/>
<line x1="2140.6" y1="1474.4" x2="2122.2" y2="1447" stroke="#0b3550" stroke-width="14.5" stroke-linecap="round"/>
<line x1="2140.6" y1="1474.4" x2="2122.2" y2="1447" stroke="#1e6c9c" stroke-width="11.5" stroke-linecap="round"/>
<line x1="2159.2" y1="1471.5" x2="2134.6" y2="1435" stroke="#0b3550" stroke-width="12.8" stroke-linecap="round"/>
<line x1="2159.2" y1="1471.5" x2="2134.6" y2="1435" stroke="#ffffff" stroke-width="10" stroke-linecap="round"/>
<line x1="2160.5" y1="1461" x2="2142.1" y2="1433.6" stroke="#0b3550" stroke-width="14.5" stroke-linecap="round"/>
<line x1="2160.5" y1="1461" x2="2142.1" y2="1433.6" stroke="#1e6c9c" stroke-width="11.5" stroke-linecap="round"/>
<line x1="2239.5" y1="1489.9" x2="2250.4" y2="1475.5" stroke="#86191b" stroke-width="2.6"/>
<line x1="2253.4" y1="1471.5" x2="2273.2" y2="1445.2" stroke="#86191b" stroke-width="14.5" stroke-linecap="round"/>
<line x1="2253.4" y1="1471.5" x2="2273.2" y2="1445.2" stroke="#cc4c4d" stroke-width="11.5" stroke-linecap="round"/>
<line x1="2262.1" y1="1488.1" x2="2288.6" y2="1453" stroke="#86191b" stroke-width="12.8" stroke-linecap="round"/>
<line x1="2262.1" y1="1488.1" x2="2288.6" y2="1453" stroke="#ffffff" stroke-width="10" stroke-linecap="round"/>
<line x1="2272.6" y1="1486" x2="2292.4" y2="1459.6" stroke="#86191b" stroke-width="14.5" stroke-linecap="round"/>
<line x1="2272.6" y1="1486" x2="2292.4" y2="1459.6" stroke="#cc4c4d" stroke-width="11.5" stroke-linecap="round"/>
<line x1="2273" y1="1547" x2="2291" y2="1547" stroke="#0b3550" stroke-width="2.6"/>
<line x1="2296" y1="1547" x2="2329" y2="1547" stroke="#0b3550" stroke-width="14.5" stroke-linecap="round"/>
<line x1="2296" y1="1547" x2="2329" y2="1547" stroke="#1e6c9c" stroke-width="11.5" stroke-linecap="round"/>
<line x1="2288" y1="1564" x2="2332" y2="1564" stroke="#0b3550" stroke-width="12.8" stroke-linecap="round"/>
<line x1="2288" y1="1564" x2="2332" y2="1564" stroke="#ffffff" stroke-width="10" stroke-linecap="round"/>
<line x1="2296" y1="1571" x2="2329" y2="1571" stroke="#0b3550" stroke-width="14.5" stroke-linecap="round"/>
<line x1="2296" y1="1571" x2="2329" y2="1571" stroke="#1e6c9c" stroke-width="11.5" stroke-linecap="round"/>
<line x1="2246.5" y1="1608.9" x2="2257.1" y2="1623.5" stroke="#86191b" stroke-width="2.6"/>
<line x1="2260.1" y1="1627.5" x2="2279.5" y2="1654.2" stroke="#86191b" stroke-width="14.5" stroke-linecap="round"/>
<line x1="2260.1" y1="1627.5" x2="2279.5" y2="1654.2" stroke="#cc4c4d" stroke-width="11.5" stroke-linecap="round"/>
<line x1="2241.6" y1="1631.1" x2="2267.5" y2="1666.7" stroke="#86191b" stroke-width="12.8" stroke-linecap="round"/>
<line x1="2241.6" y1="1631.1" x2="2267.5" y2="1666.7" stroke="#ffffff" stroke-width="10" stroke-linecap="round"/>
<line x1="2240.6" y1="1641.6" x2="2260" y2="1668.3" stroke="#86191b" stroke-width="14.5" stroke-linecap="round"/>
<line x1="2240.6" y1="1641.6" x2="2260" y2="1668.3" stroke="#cc4c4d" stroke-width="11.5" stroke-linecap="round"/>
<line x1="2159.5" y1="1614.8" x2="2149" y2="1629.4" stroke="#0b3550" stroke-width="2.6"/>
<line x1="2146" y1="1633.4" x2="2126.6" y2="1660.1" stroke="#0b3550" stroke-width="14.5" stroke-linecap="round"/>
<line x1="2146" y1="1633.4" x2="2126.6" y2="1660.1" stroke="#1e6c9c" stroke-width="11.5" stroke-linecap="round"/>
<line x1="2137" y1="1616.9" x2="2111.1" y2="1652.5" stroke="#0b3550" stroke-width="12.8" stroke-linecap="round"/>
<line x1="2137" y1="1616.9" x2="2111.1" y2="1652.5" stroke="#ffffff" stroke-width="10" stroke-linecap="round"/>
<line x1="2126.6" y1="1619.3" x2="2107.2" y2="1646" stroke="#0b3550" stroke-width="14.5" stroke-linecap="round"/>
<line x1="2126.6" y1="1619.3" x2="2107.2" y2="1646" stroke="#1e6c9c" stroke-width="11.5" stroke-linecap="round"/>
<line x1="2125" y1="1557" x2="2107" y2="1557" stroke="#86191b" stroke-width="2.6"/>
<line x1="2102" y1="1557" x2="2069" y2="1557" stroke="#86191b" stroke-width="14.5" stroke-linecap="round"/>
<line x1="2102" y1="1557" x2="2069" y2="1557" stroke="#cc4c4d" stroke-width="11.5" stroke-linecap="round"/>
<line x1="2110" y1="1540" x2="2066" y2="1540" stroke="#86191b" stroke-width="12.8" stroke-linecap="round"/>
<line x1="2110" y1="1540" x2="2066" y2="1540" stroke="#ffffff" stroke-width="10" stroke-linecap="round"/>
<line x1="2102" y1="1533" x2="2069" y2="1533" stroke="#86191b" stroke-width="14.5" stroke-linecap="round"/>
<line x1="2102" y1="1533" x2="2069" y2="1533" stroke="#cc4c4d" stroke-width="11.5" stroke-linecap="round"/>
<circle cx="2199" cy="1552" r="75" fill="#a9d3b1" stroke="#5e9c68" stroke-width="2"/>
<circle cx="2199" cy="1554" r="44" fill="#70b383" stroke="#5a9c6a" stroke-width="1.5"/>
<g transform="rotate(-16 2209 1552)">
<path d="M2209,1506 L2211.4,1507.5 L2213.7,1509.1 L2215.7,1510.6 L2217.5,1512.1 L2218.8,1513.7 L2219.7,1515.2 L2220,1516.7 L2219.8,1518.3 L2219.1,1519.8 L2217.9,1521.3 L2216.3,1522.9 L2214.3,1524.4 L2212.1,1525.9 L2209.7,1527.5 L2207.3,1529 L2205,1530.5 L2202.8,1532.1 L2201,1533.6 L2199.5,1535.1 L2198.5,1536.7 L2198,1538.2 L2198.1,1539.7 L2198.7,1541.3 L2199.7,1542.8 L2201.2,1544.3 L2203.1,1545.9 L2205.3,1547.4 L2207.6,1548.9 L2210,1550.5 L2212.4,1552 L2214.6,1553.5 L2216.5,1555.1 L2218.1,1556.6 L2219.2,1558.1 L2219.9,1559.7 L2220,1561.2 L2219.6,1562.7 L2218.6,1564.3 L2217.3,1565.8 L2215.5,1567.3 L2213.4,1568.9 L2211.1,1570.4 L2208.7,1571.9 L2206.3,1573.5 L2204,1575 L2202,1576.5 L2200.3,1578.1 L2199,1579.6 L2198.3,1581.1 L2198,1582.7 L2198.3,1584.2 L2199,1585.7 L2200.3,1587.3 L2202,1588.8 L2204,1590.3 L2206.3,1591.9 L2208.7,1593.4 L2211.1,1594.9 L2213.4,1596.5 L2215.5,1598" fill="none" stroke="#2e5a72" stroke-width="2.2"/>
<path d="M2209,1506 L2206.6,1507.5 L2204.3,1509.1 L2202.3,1510.6 L2200.5,1512.1 L2199.2,1513.7 L2198.3,1515.2 L2198,1516.7 L2198.2,1518.3 L2198.9,1519.8 L2200.1,1521.3 L2201.7,1522.9 L2203.7,1524.4 L2205.9,1525.9 L2208.3,1527.5 L2210.7,1529 L2213,1530.5 L2215.2,1532.1 L2217,1533.6 L2218.5,1535.1 L2219.5,1536.7 L2220,1538.2 L2219.9,1539.7 L2219.3,1541.3 L2218.3,1542.8 L2216.8,1544.3 L2214.9,1545.9 L2212.7,1547.4 L2210.4,1548.9 L2208,1550.5 L2205.6,1552 L2203.4,1553.5 L2201.5,1555.1 L2199.9,1556.6 L2198.8,1558.1 L2198.1,1559.7 L2198,1561.2 L2198.4,1562.7 L2199.4,1564.3 L2200.7,1565.8 L2202.5,1567.3 L2204.6,1568.9 L2206.9,1570.4 L2209.3,1571.9 L2211.7,1573.5 L2214,1575 L2216,1576.5 L2217.7,1578.1 L2219,1579.6 L2219.7,1581.1 L2220,1582.7 L2219.7,1584.2 L2219,1585.7 L2217.7,1587.3 L2216,1588.8 L2214,1590.3 L2211.7,1591.9 L2209.3,1593.4 L2206.9,1594.9 L2204.6,1596.5 L2202.5,1598" fill="none" stroke="#2e5a72" stroke-width="2.2"/>
<line x1="2213.7" y1="1509.1" x2="2204.3" y2="1509.1" stroke="#2e5a72" stroke-width="1.2"/>
<line x1="2219.7" y1="1515.2" x2="2198.3" y2="1515.2" stroke="#2e5a72" stroke-width="1.2"/>
<line x1="2217.9" y1="1521.3" x2="2200.1" y2="1521.3" stroke="#2e5a72" stroke-width="1.2"/>
<line x1="2209.7" y1="1527.5" x2="2208.3" y2="1527.5" stroke="#2e5a72" stroke-width="1.2"/>
<line x1="2201" y1="1533.6" x2="2217" y2="1533.6" stroke="#2e5a72" stroke-width="1.2"/>
<line x1="2198.1" y1="1539.7" x2="2219.9" y2="1539.7" stroke="#2e5a72" stroke-width="1.2"/>
<line x1="2203.1" y1="1545.9" x2="2214.9" y2="1545.9" stroke="#2e5a72" stroke-width="1.2"/>
<line x1="2212.4" y1="1552" x2="2205.6" y2="1552" stroke="#2e5a72" stroke-width="1.2"/>
<line x1="2219.2" y1="1558.1" x2="2198.8" y2="1558.1" stroke="#2e5a72" stroke-width="1.2"/>
<line x1="2218.6" y1="1564.3" x2="2199.4" y2="1564.3" stroke="#2e5a72" stroke-width="1.2"/>
<line x1="2211.1" y1="1570.4" x2="2206.9" y2="1570.4" stroke="#2e5a72" stroke-width="1.2"/>
<line x1="2202" y1="1576.5" x2="2216" y2="1576.5" stroke="#2e5a72" stroke-width="1.2"/>
<line x1="2198" y1="1582.7" x2="2220" y2="1582.7" stroke="#2e5a72" stroke-width="1.2"/>
<line x1="2202" y1="1588.8" x2="2216" y2="1588.8" stroke="#2e5a72" stroke-width="1.2"/>
<line x1="2211.1" y1="1594.9" x2="2206.9" y2="1594.9" stroke="#2e5a72" stroke-width="1.2"/>
</g>
<path d="M2201,1550 q6,-4 4,-10" fill="none" stroke="#2a9ad8" stroke-width="3"/>
<g fill="none" stroke="#2e5a72" stroke-width="1.6">
<line x1="2171" y1="1576" x2="2197" y2="1562"/>
<line x1="2183" y1="1582" x2="2189" y2="1554"/>
<circle cx="2200" cy="1560" r="3.5"/><circle cx="2190" cy="1550" r="3.5"/>
</g>
<defs><linearGradient id="ga2" x1="2318" y1="0" x2="2398" y2="0" gradientUnits="userSpaceOnUse"><stop offset="0" stop-color="#222" stop-opacity="0"/><stop offset="0.45" stop-color="#222"/></linearGradient></defs>
<rect x="2318" y="1382.5" width="82" height="9" fill="url(#ga2)"/>
<path d="M2438,1387 L2397,1367 L2397,1407Z" fill="#222"/>
<rect x="2474" y="1178" width="206" height="206" rx="27" fill="#f9d8c4" stroke="#b48e7a" stroke-width="3"/>
<circle cx="2577" cy="1281" r="40" fill="#e4bba8" stroke="#d6a893" stroke-width="3"/>
<ellipse cx="2517" cy="1425" rx="37" ry="24" transform="rotate(-22 2517 1425)" fill="#4b6e9a" stroke="#1b3c66" stroke-width="2"/>
<ellipse cx="2645" cy="1465" rx="27" ry="20" transform="rotate(15 2645 1465)" fill="#4b6e9a" stroke="#1b3c66" stroke-width="2"/>
<ellipse cx="2477" cy="1513" rx="13" ry="18" fill="#4b6e9a" stroke="#1b3c66" stroke-width="2"/>
<ellipse cx="2531" cy="1585" rx="12.5" ry="15" fill="#4b6e9a" stroke="#1b3c66" stroke-width="2"/>
<path d="M2494,1468C2496.8,1461.4 2501.8,1459.1 2510,1457C2518.2,1454.9 2541.5,1459 2549,1454C2556.5,1449 2556.7,1431.8 2560,1424C2563.3,1416.2 2565.3,1406.7 2571,1402C2576.7,1397.3 2590.9,1392.7 2598,1393C2605.1,1393.3 2614.2,1397.7 2618,1404C2621.8,1410.3 2623.9,1425.4 2623,1435C2622.1,1444.6 2612.4,1460.7 2612,1468C2611.6,1475.3 2615.1,1480.7 2620,1484C2624.9,1487.3 2637.5,1487.5 2645,1490C2652.5,1492.5 2662.2,1496.2 2670,1501C2677.8,1505.8 2692.3,1516.5 2697,1522C2701.7,1527.5 2704.2,1535.3 2701,1538C2697.8,1540.7 2684.7,1539 2676,1540C2667.3,1541 2651.4,1541 2643,1545C2634.6,1549 2624.7,1560.4 2620,1567C2615.3,1573.6 2613.2,1581.5 2612,1589C2610.8,1596.5 2613.7,1612.3 2612,1617C2610.3,1621.7 2603.8,1623.3 2601,1620C2598.2,1616.7 2595.8,1602 2593,1595C2590.2,1588 2585.3,1576 2582,1573C2578.7,1570 2573.8,1570.5 2571,1575C2568.2,1579.5 2565.6,1598.8 2563,1603C2560.4,1607.2 2556.1,1606.8 2554,1603C2551.9,1599.2 2552.3,1583.4 2549,1578C2545.7,1572.6 2537.8,1570.3 2532,1567C2526.2,1563.7 2515.4,1561 2510,1556C2504.6,1551 2498.8,1542.2 2496,1534C2493.2,1525.8 2491.3,1510.9 2491,1501C2490.7,1491.1 2491.2,1474.6 2494,1468Z" fill="#4b6e9a" stroke="#1b3c66" stroke-width="2"/>
<path d="M2548,1462C2550.6,1460 2558.4,1457 2562,1457C2565.6,1457 2570.2,1458.8 2572,1462C2573.8,1465.2 2572.5,1473.8 2574,1478C2575.5,1482.2 2578.7,1487.2 2582,1490C2585.3,1492.8 2593.3,1494.3 2596,1497C2598.7,1499.7 2600.6,1505 2600,1508C2599.4,1511 2595.6,1515.8 2592,1517C2588.4,1518.2 2580.2,1517.7 2576,1516C2571.8,1514.3 2566.4,1509.6 2564,1506C2561.6,1502.4 2562.2,1495.6 2560,1492C2557.8,1488.4 2551.2,1485.3 2549,1482C2546.8,1478.7 2545.2,1473 2545,1470C2544.8,1467 2545.4,1464 2548,1462Z" fill="#0c2a57"/>
<g fill="none" stroke="#2e5688" stroke-width="1.6">
<path d="M2518.3,1501.5 L2518.8,1499.2 L2519.5,1496.9 L2520.5,1494.8 L2521.7,1492.7 L2523.2,1490.8 L2524.8,1489.1 L2526.6,1487.5 L2528.6,1486.2 L2530.7,1485.1 L2532.9,1484.2 L2535.2,1483.5 L2537.5,1483.1"/>
<path d="M2523.2,1502.3 L2523.6,1500.5 L2524.2,1498.8 L2524.9,1497.1 L2525.9,1495.5 L2527,1494 L2528.3,1492.7 L2529.7,1491.5 L2531.2,1490.5 L2532.8,1489.6 L2534.5,1488.9 L2536.3,1488.4 L2538.1,1488.1"/>
<path d="M2528.4,1501.9 L2528.7,1500.9 L2529.2,1499.9 L2529.7,1498.9 L2530.3,1498 L2531,1497.1 L2531.7,1496.3 L2532.5,1495.6 L2533.4,1495 L2534.4,1494.4 L2535.4,1493.9 L2536.4,1493.6 L2537.5,1493.3"/>
<path d="M2625.7,1507.8 L2627.7,1509.6 L2629.5,1511.7 L2631,1514 L2632.3,1516.4 L2633.2,1519 L2633.8,1521.7 L2634,1524.5 L2633.9,1527.2 L2633.4,1529.9 L2632.7,1532.5 L2631.6,1535.1 L2630.2,1537.4"/>
<path d="M2622.6,1511.7 L2624.1,1513.1 L2625.5,1514.7 L2626.7,1516.5 L2627.7,1518.4 L2628.4,1520.4 L2628.8,1522.5 L2629,1524.6 L2628.9,1526.7 L2628.6,1528.8 L2628,1530.8 L2627.1,1532.8 L2626,1534.6"/>
<path d="M2620.4,1516.4 L2621.2,1517.3 L2622,1518.4 L2622.7,1519.5 L2623.2,1520.7 L2623.6,1521.9 L2623.9,1523.2 L2624,1524.5 L2624,1525.8 L2623.8,1527.1 L2623.5,1528.4 L2623.1,1529.6 L2622.5,1530.8"/>
<path d="M2503.9,1424 L2505.1,1422 L2506.5,1420.1 L2508.2,1418.4 L2510.1,1416.9 L2512.2,1415.8 L2514.5,1414.9 L2516.8,1414.3 L2519.2,1414 L2521.6,1414.1 L2523.9,1414.4 L2526.2,1415.1 L2528.4,1416.1"/>
<path d="M2508.3,1426.2 L2509.2,1424.7 L2510.3,1423.4 L2511.5,1422.2 L2512.9,1421.1 L2514.4,1420.3 L2516,1419.6 L2517.7,1419.2 L2519.4,1419 L2521.1,1419 L2522.8,1419.3 L2524.5,1419.8 L2526.1,1420.5"/>
<path d="M2512.8,1428.5 L2513.4,1427.5 L2514,1426.7 L2514.8,1425.9 L2515.6,1425.3 L2516.6,1424.8 L2517.5,1424.4 L2518.6,1424.1 L2519.6,1424 L2520.7,1424 L2521.8,1424.2 L2522.8,1424.5 L2523.7,1424.9"/>
</g>
<circle cx="2536" cy="1412" r="4.5" fill="#0c2a57"/>
<circle cx="2568" cy="1440" r="4" fill="#0c2a57"/>
<circle cx="2646" cy="1468" r="6" fill="#0c2a57"/>
<circle cx="2477" cy="1514" r="4" fill="#0c2a57"/>
<circle cx="2513" cy="1520" r="3" fill="#0c2a57"/>
<circle cx="2568" cy="1553" r="6" fill="#0c2a57"/>
<circle cx="2600" cy="1563" r="4.5" fill="#0c2a57"/>
<circle cx="2533" cy="1587" r="4" fill="#0c2a57"/>
<circle cx="2586" cy="1418" r="4.5" fill="#c9c2a4"/>
<circle cx="2590" cy="1468" r="7" fill="#c9c2a4"/>
<circle cx="2536" cy="1545" r="6" fill="#c9c2a4"/>
<path d="M1566,1145 L1553,1199" fill="none" stroke="#222" stroke-width="3" stroke-dasharray="6.6 6.4"/>
<path d="M1548,1220 L1563.4,1201.6 L1542.5,1196.6Z" fill="#222"/>
<path d="M2071,1158 L2071,1211" fill="none" stroke="#222" stroke-width="3" stroke-dasharray="6.6 6.4"/>
<path d="M2071,1232 L2081.8,1210.5 L2060.2,1210.5Z" fill="#222"/>
<path d="M1685,1702 L1738,1688" fill="none" stroke="#222" stroke-width="3" stroke-dasharray="6.6 6.4"/>
<path d="M1759,1683 L1735.6,1677.5 L1740.6,1698.4Z" fill="#222"/>
<path d="M2592,1682 L2592,1627" fill="none" stroke="#222" stroke-width="3" stroke-dasharray="6.6 6.4"/>
<path d="M2592,1606 L2581.2,1627.5 L2602.8,1627.5Z" fill="#222"/>

<!-- texts -->
<g id="texts">
<text x="219.9" y="386.1" font-size="63.0">hard-to-treat malignancies</text>
<text x="546.8" y="561.6" font-size="50.7">neuroblastoma</text>
<text x="611.5" y="906.6" font-size="50.4">senescence-</text>
<text x="545.7" y="962.5" font-size="50.6">inducing therapies</text>
<text x="1317.5" y="410" font-size="50.4">senescent cells</text>
<text x="1802.9" y="406" font-size="50.4">Tailored CAR therapies</text>
<text x="1124.2" y="1003" font-size="50.4">tumor cells</text>
<text x="1619.8" y="1003.8" font-size="50.4">SASP</text>
<text x="2476.7" y="986.7" font-size="50.4">apoptosis</text>
<text x="2964.4" y="385.6" font-size="62.9">complete remission</text>
<text x="124.3" y="1133.3" font-size="62.8">senescence-associated diseases</text>
<text x="540.1" y="1658.9" font-size="51.2">liver fibrosis</text>
<text x="1309.6" y="1130.9" font-size="50.4">senescent cells</text>
<text x="1548.3" y="1746.8" font-size="50.4">SASP</text>
<text x="1808.7" y="1134.7" font-size="50.4">Tailored CAR therapies</text>
<text x="2484.3" y="1733.5" font-size="50.4">apoptosis</text>
<text x="3043.9" y="1133.7" font-size="63.0">healthy tissue</text>
</g>
</svg>
</body></html>
